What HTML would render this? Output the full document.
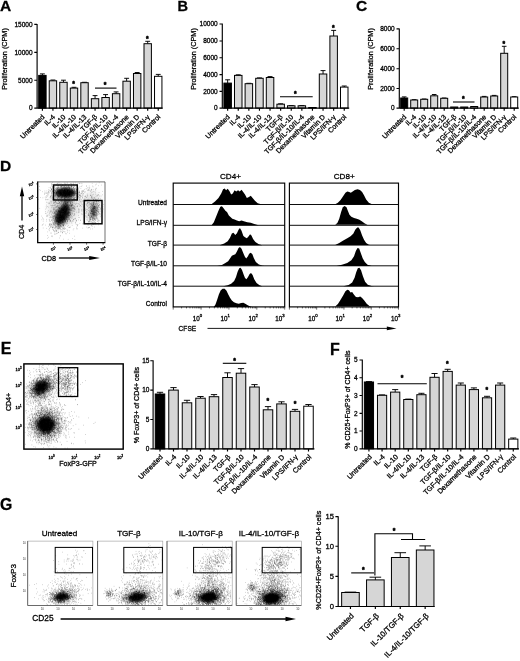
<!DOCTYPE html>
<html><head><meta charset="utf-8"><title>Figure</title><style>html,body{margin:0;padding:0;background:#fff}svg{display:block}</style></head><body>
<svg width="520" height="661" viewBox="0 0 520 661" font-family="Liberation Sans, Arial, sans-serif" fill="#000">
<style>text{stroke:#000;stroke-width:.28px}</style>
<rect width="520" height="661" fill="#fff"/>
<text x="0" y="10.9" font-size="15.5" font-weight="bold">A</text>
<text x="177.6" y="11" font-size="14.6" font-weight="bold">B</text>
<text x="356" y="11" font-size="15.5" font-weight="bold">C</text>
<text x="-0.1" y="170.6" font-size="15.5" font-weight="bold">D</text>
<text x="0.8" y="353.6" font-size="16" font-weight="bold">E</text>
<text x="330" y="354.8" font-size="16" font-weight="bold">F</text>
<text x="-0.1" y="510" font-size="15.8" font-weight="bold">G</text>
<path d="M42.4 75.4V73.9M39.96 73.9H44.84" stroke="#000" stroke-width="0.95" fill="none"/>
<rect x="38.7" y="75.4" width="7.4" height="32.7" fill="#000" stroke="#000" stroke-width="1"/>
<path d="M52.93 80.8V80M50.49 80H55.37" stroke="#000" stroke-width="0.95" fill="none"/>
<rect x="49.23" y="80.8" width="7.4" height="27.3" fill="#d6d6d6" stroke="#000" stroke-width="1"/>
<path d="M63.46 82.3V80.2M61.02 80.2H65.9" stroke="#000" stroke-width="0.95" fill="none"/>
<rect x="59.76" y="82.3" width="7.4" height="25.8" fill="#d6d6d6" stroke="#000" stroke-width="1"/>
<path d="M73.99 88.1V87.3M71.55 87.3H76.43" stroke="#000" stroke-width="0.95" fill="none"/>
<rect x="70.29" y="88.1" width="7.4" height="20" fill="#d6d6d6" stroke="#000" stroke-width="1"/>
<path d="M84.52 82.7V82.3M82.08 82.3H86.96" stroke="#000" stroke-width="0.95" fill="none"/>
<rect x="80.82" y="82.7" width="7.4" height="25.4" fill="#d6d6d6" stroke="#000" stroke-width="1"/>
<path d="M95.05 98.7V95.6M92.61 95.6H97.49" stroke="#000" stroke-width="0.95" fill="none"/>
<rect x="91.35" y="98.7" width="7.4" height="9.4" fill="#d6d6d6" stroke="#000" stroke-width="1"/>
<path d="M105.58 97.5V94.6M103.14 94.6H108.02" stroke="#000" stroke-width="0.95" fill="none"/>
<rect x="101.88" y="97.5" width="7.4" height="10.6" fill="#d6d6d6" stroke="#000" stroke-width="1"/>
<path d="M116.11 93.7V91.9M113.67 91.9H118.55" stroke="#000" stroke-width="0.95" fill="none"/>
<rect x="112.41" y="93.7" width="7.4" height="14.4" fill="#d6d6d6" stroke="#000" stroke-width="1"/>
<path d="M126.64 81.2V78.3M124.2 78.3H129.08" stroke="#000" stroke-width="0.95" fill="none"/>
<rect x="122.94" y="81.2" width="7.4" height="26.9" fill="#d6d6d6" stroke="#000" stroke-width="1"/>
<path d="M137.17 73.5V72.5M134.73 72.5H139.61" stroke="#000" stroke-width="0.95" fill="none"/>
<rect x="133.47" y="73.5" width="7.4" height="34.6" fill="#d6d6d6" stroke="#000" stroke-width="1"/>
<path d="M147.7 43.7V41.3M145.26 41.3H150.14" stroke="#000" stroke-width="0.95" fill="none"/>
<rect x="144" y="43.7" width="7.4" height="64.4" fill="#d6d6d6" stroke="#000" stroke-width="1"/>
<path d="M158.23 76.3V74.4M155.79 74.4H160.67" stroke="#000" stroke-width="0.95" fill="none"/>
<rect x="154.53" y="76.3" width="7.4" height="31.8" fill="#fff" stroke="#000" stroke-width="1"/>
<path d="M37.1 24V108.1H162.7M37.1 24.4h-2.8M37.1 52.3h-2.8M37.1 80.2h-2.8M37.1 108.1h-2.8M42.4 108.1v2.6M52.93 108.1v2.6M63.46 108.1v2.6M73.99 108.1v2.6M84.52 108.1v2.6M95.05 108.1v2.6M105.58 108.1v2.6M116.11 108.1v2.6M126.64 108.1v2.6M137.17 108.1v2.6M147.7 108.1v2.6M158.23 108.1v2.6" stroke="#000" stroke-width="1.15" fill="none"/>
<text x="32.5" y="26.74" font-size="6.5" text-anchor="end">15000</text>
<text x="32.5" y="54.64" font-size="6.5" text-anchor="end">10000</text>
<text x="32.5" y="82.54" font-size="6.5" text-anchor="end">5000</text>
<text x="32.5" y="110.44" font-size="6.5" text-anchor="end">0</text>
<text x="7" y="59" font-size="7.25" text-anchor="middle" transform="rotate(-90 7 59)">Proliferation (CPM)</text>
<text x="45" y="117.4" font-size="7.05" text-anchor="end" transform="rotate(-45 45 117.4)">Untreated</text>
<text x="55.53" y="117.4" font-size="7.05" text-anchor="end" transform="rotate(-45 55.53 117.4)">IL-4</text>
<text x="66.06" y="117.4" font-size="7.05" text-anchor="end" transform="rotate(-45 66.06 117.4)">IL-10</text>
<text x="76.59" y="117.4" font-size="7.05" text-anchor="end" transform="rotate(-45 76.59 117.4)">IL-4/IL-10</text>
<text x="87.12" y="117.4" font-size="7.05" text-anchor="end" transform="rotate(-45 87.12 117.4)">IL-4/IL-13</text>
<text x="97.65" y="117.4" font-size="7.05" text-anchor="end" transform="rotate(-45 97.65 117.4)">TGF-β</text>
<text x="108.18" y="117.4" font-size="7.05" text-anchor="end" transform="rotate(-45 108.18 117.4)">TGF-β/IL-10</text>
<text x="118.71" y="117.4" font-size="7.05" text-anchor="end" transform="rotate(-45 118.71 117.4)">TGF-β/IL-10/IL-4</text>
<text x="129.24" y="117.4" font-size="7.05" text-anchor="end" transform="rotate(-45 129.24 117.4)">Dexamethasone</text>
<text x="139.77" y="117.4" font-size="7.05" text-anchor="end" transform="rotate(-45 139.77 117.4)">Vitamin D</text>
<text x="150.3" y="117.4" font-size="7.05" text-anchor="end" transform="rotate(-45 150.3 117.4)">LPS/IFN-γ</text>
<text x="160.83" y="117.4" font-size="7.05" text-anchor="end" transform="rotate(-45 160.83 117.4)">Control</text>
<path d="M95 88.1L116.5 88.1" stroke="#000" stroke-width="1.1" fill="none"/>
<text x="105" y="87.33" font-size="6.8" text-anchor="middle" font-weight="bold" style="stroke-width:.5px">*</text>
<text x="147.3" y="40.63" font-size="6.8" text-anchor="middle" font-weight="bold" style="stroke-width:.5px">*</text>
<text x="73.7" y="85.83" font-size="6.8" text-anchor="middle" font-weight="bold" style="stroke-width:.5px">*</text>
<path d="M227.65 83.1V79.8M225.18 79.8H230.12" stroke="#000" stroke-width="0.95" fill="none"/>
<rect x="223.9" y="83.1" width="7.5" height="25" fill="#000" stroke="#000" stroke-width="1"/>
<path d="M238.25 75.4V74.8M235.78 74.8H240.72" stroke="#000" stroke-width="0.95" fill="none"/>
<rect x="234.5" y="75.4" width="7.5" height="32.7" fill="#d6d6d6" stroke="#000" stroke-width="1"/>
<path d="M248.85 83.7V83.3M246.38 83.3H251.32" stroke="#000" stroke-width="0.95" fill="none"/>
<rect x="245.1" y="83.7" width="7.5" height="24.4" fill="#d6d6d6" stroke="#000" stroke-width="1"/>
<path d="M259.45 78.3V77.9M256.97 77.9H261.93" stroke="#000" stroke-width="0.95" fill="none"/>
<rect x="255.7" y="78.3" width="7.5" height="29.8" fill="#d6d6d6" stroke="#000" stroke-width="1"/>
<path d="M270.05 77.5V76.6M267.57 76.6H272.53" stroke="#000" stroke-width="0.95" fill="none"/>
<rect x="266.3" y="77.5" width="7.5" height="30.6" fill="#d6d6d6" stroke="#000" stroke-width="1"/>
<path d="M280.65 104.2V103.8M278.17 103.8H283.12" stroke="#000" stroke-width="0.95" fill="none"/>
<rect x="276.9" y="104.2" width="7.5" height="3.9" fill="#d6d6d6" stroke="#000" stroke-width="1"/>
<path d="M291.25 105.8V105.5M288.77 105.5H293.73" stroke="#000" stroke-width="0.95" fill="none"/>
<rect x="287.5" y="105.8" width="7.5" height="2.3" fill="#d6d6d6" stroke="#000" stroke-width="1"/>
<path d="M301.85 105.8V105.5M299.38 105.5H304.33" stroke="#000" stroke-width="0.95" fill="none"/>
<rect x="298.1" y="105.8" width="7.5" height="2.3" fill="#d6d6d6" stroke="#000" stroke-width="1"/>
<rect x="308.7" y="107.5" width="7.5" height="0.6" fill="#d6d6d6" stroke="#000" stroke-width="1"/>
<path d="M323.05 74V70.6M320.57 70.6H325.53" stroke="#000" stroke-width="0.95" fill="none"/>
<rect x="319.3" y="74" width="7.5" height="34.1" fill="#d6d6d6" stroke="#000" stroke-width="1"/>
<path d="M333.65 36V30.4M331.17 30.4H336.12" stroke="#000" stroke-width="0.95" fill="none"/>
<rect x="329.9" y="36" width="7.5" height="72.1" fill="#d6d6d6" stroke="#000" stroke-width="1"/>
<path d="M344.25 87.1V86M341.77 86H346.73" stroke="#000" stroke-width="0.95" fill="none"/>
<rect x="340.5" y="87.1" width="7.5" height="21" fill="#fff" stroke="#000" stroke-width="1"/>
<path d="M222.3 23.6V108.1H349.2M222.3 24h-2.8M222.3 41h-2.8M222.3 57.7h-2.8M222.3 74.6h-2.8M222.3 91.3h-2.8M222.3 108.1h-2.8M227.65 108.1v2.6M238.25 108.1v2.6M248.85 108.1v2.6M259.45 108.1v2.6M270.05 108.1v2.6M280.65 108.1v2.6M291.25 108.1v2.6M301.85 108.1v2.6M312.45 108.1v2.6M323.05 108.1v2.6M333.65 108.1v2.6M344.25 108.1v2.6" stroke="#000" stroke-width="1.15" fill="none"/>
<text x="217.7" y="26.34" font-size="6.5" text-anchor="end">10000</text>
<text x="217.7" y="43.34" font-size="6.5" text-anchor="end">8000</text>
<text x="217.7" y="60.04" font-size="6.5" text-anchor="end">6000</text>
<text x="217.7" y="76.94" font-size="6.5" text-anchor="end">4000</text>
<text x="217.7" y="93.64" font-size="6.5" text-anchor="end">2000</text>
<text x="217.7" y="110.44" font-size="6.5" text-anchor="end">0</text>
<text x="196" y="59" font-size="7.25" text-anchor="middle" transform="rotate(-90 196 59)">Proliferation (CPM)</text>
<text x="230.25" y="117.4" font-size="7.05" text-anchor="end" transform="rotate(-45 230.25 117.4)">Untreated</text>
<text x="240.85" y="117.4" font-size="7.05" text-anchor="end" transform="rotate(-45 240.85 117.4)">IL-4</text>
<text x="251.45" y="117.4" font-size="7.05" text-anchor="end" transform="rotate(-45 251.45 117.4)">IL-10</text>
<text x="262.05" y="117.4" font-size="7.05" text-anchor="end" transform="rotate(-45 262.05 117.4)">IL-4/IL-10</text>
<text x="272.65" y="117.4" font-size="7.05" text-anchor="end" transform="rotate(-45 272.65 117.4)">IL-4/IL-13</text>
<text x="283.25" y="117.4" font-size="7.05" text-anchor="end" transform="rotate(-45 283.25 117.4)">TGF-β</text>
<text x="293.85" y="117.4" font-size="7.05" text-anchor="end" transform="rotate(-45 293.85 117.4)">TGF-β/IL-10</text>
<text x="304.45" y="117.4" font-size="7.05" text-anchor="end" transform="rotate(-45 304.45 117.4)">TGF-β/IL-10/IL-4</text>
<text x="315.05" y="117.4" font-size="7.05" text-anchor="end" transform="rotate(-45 315.05 117.4)">Dexamethasone</text>
<text x="325.65" y="117.4" font-size="7.05" text-anchor="end" transform="rotate(-45 325.65 117.4)">Vitamin D</text>
<text x="336.25" y="117.4" font-size="7.05" text-anchor="end" transform="rotate(-45 336.25 117.4)">LPS/IFN-γ</text>
<text x="346.85" y="117.4" font-size="7.05" text-anchor="end" transform="rotate(-45 346.85 117.4)">Control</text>
<path d="M280 96.7L312.7 96.7" stroke="#000" stroke-width="1.1" fill="none"/>
<text x="295.4" y="95.83" font-size="6.8" text-anchor="middle" font-weight="bold" style="stroke-width:.5px">*</text>
<text x="333.3" y="29.63" font-size="6.8" text-anchor="middle" font-weight="bold" style="stroke-width:.5px">*</text>
<path d="M404.2 98V96.9M401.89 96.9H406.51" stroke="#000" stroke-width="0.95" fill="none"/>
<rect x="400.7" y="98" width="7" height="10.1" fill="#000" stroke="#000" stroke-width="1"/>
<path d="M414.2 100V99.7M411.89 99.7H416.51" stroke="#000" stroke-width="0.95" fill="none"/>
<rect x="410.7" y="100" width="7" height="8.1" fill="#d6d6d6" stroke="#000" stroke-width="1"/>
<path d="M424.2 99.3V99M421.89 99H426.51" stroke="#000" stroke-width="0.95" fill="none"/>
<rect x="420.7" y="99.3" width="7" height="8.8" fill="#d6d6d6" stroke="#000" stroke-width="1"/>
<path d="M434.2 95.8V94.5M431.89 94.5H436.51" stroke="#000" stroke-width="0.95" fill="none"/>
<rect x="430.7" y="95.8" width="7" height="12.3" fill="#d6d6d6" stroke="#000" stroke-width="1"/>
<path d="M444.2 98.3V98M441.89 98H446.51" stroke="#000" stroke-width="0.95" fill="none"/>
<rect x="440.7" y="98.3" width="7" height="9.8" fill="#d6d6d6" stroke="#000" stroke-width="1"/>
<rect x="450.7" y="107" width="7" height="1.1" fill="#d6d6d6" stroke="#000" stroke-width="1"/>
<rect x="460.7" y="107" width="7" height="1.1" fill="#d6d6d6" stroke="#000" stroke-width="1"/>
<rect x="470.7" y="106.5" width="7" height="1.6" fill="#d6d6d6" stroke="#000" stroke-width="1"/>
<path d="M484.2 97V96.4M481.89 96.4H486.51" stroke="#000" stroke-width="0.95" fill="none"/>
<rect x="480.7" y="97" width="7" height="11.1" fill="#d6d6d6" stroke="#000" stroke-width="1"/>
<path d="M494.2 96V95.4M491.89 95.4H496.51" stroke="#000" stroke-width="0.95" fill="none"/>
<rect x="490.7" y="96" width="7" height="12.1" fill="#d6d6d6" stroke="#000" stroke-width="1"/>
<path d="M504.2 53.3V46.3M501.89 46.3H506.51" stroke="#000" stroke-width="0.95" fill="none"/>
<rect x="500.7" y="53.3" width="7" height="54.8" fill="#d6d6d6" stroke="#000" stroke-width="1"/>
<path d="M514.2 97V96.7M511.89 96.7H516.51" stroke="#000" stroke-width="0.95" fill="none"/>
<rect x="510.7" y="97" width="7" height="11.1" fill="#fff" stroke="#000" stroke-width="1"/>
<path d="M399.3 28.4V108.1H518.8M399.3 28.8h-2.8M399.3 48.7h-2.8M399.3 68.7h-2.8M399.3 88.5h-2.8M399.3 108.1h-2.8M404.2 108.1v2.6M414.2 108.1v2.6M424.2 108.1v2.6M434.2 108.1v2.6M444.2 108.1v2.6M454.2 108.1v2.6M464.2 108.1v2.6M474.2 108.1v2.6M484.2 108.1v2.6M494.2 108.1v2.6M504.2 108.1v2.6M514.2 108.1v2.6" stroke="#000" stroke-width="1.15" fill="none"/>
<text x="394.7" y="31.14" font-size="6.5" text-anchor="end">8000</text>
<text x="394.7" y="51.04" font-size="6.5" text-anchor="end">6000</text>
<text x="394.7" y="71.04" font-size="6.5" text-anchor="end">4000</text>
<text x="394.7" y="90.84" font-size="6.5" text-anchor="end">2000</text>
<text x="394.7" y="110.44" font-size="6.5" text-anchor="end">0</text>
<text x="372.9" y="59" font-size="7.25" text-anchor="middle" transform="rotate(-90 372.9 59)">Proliferation (CPM)</text>
<text x="406.8" y="117.4" font-size="7.05" text-anchor="end" transform="rotate(-45 406.8 117.4)">Untreated</text>
<text x="416.8" y="117.4" font-size="7.05" text-anchor="end" transform="rotate(-45 416.8 117.4)">IL-4</text>
<text x="426.8" y="117.4" font-size="7.05" text-anchor="end" transform="rotate(-45 426.8 117.4)">IL-10</text>
<text x="436.8" y="117.4" font-size="7.05" text-anchor="end" transform="rotate(-45 436.8 117.4)">IL-4/IL-10</text>
<text x="446.8" y="117.4" font-size="7.05" text-anchor="end" transform="rotate(-45 446.8 117.4)">IL-4/IL-13</text>
<text x="456.8" y="117.4" font-size="7.05" text-anchor="end" transform="rotate(-45 456.8 117.4)">TGF-β</text>
<text x="466.8" y="117.4" font-size="7.05" text-anchor="end" transform="rotate(-45 466.8 117.4)">TGF-β/IL-10</text>
<text x="476.8" y="117.4" font-size="7.05" text-anchor="end" transform="rotate(-45 476.8 117.4)">TGF-β/IL-10/IL-4</text>
<text x="486.8" y="117.4" font-size="7.05" text-anchor="end" transform="rotate(-45 486.8 117.4)">Dexamethasone</text>
<text x="496.8" y="117.4" font-size="7.05" text-anchor="end" transform="rotate(-45 496.8 117.4)">Vitamin D</text>
<text x="506.8" y="117.4" font-size="7.05" text-anchor="end" transform="rotate(-45 506.8 117.4)">LPS/IFN-γ</text>
<text x="516.8" y="117.4" font-size="7.05" text-anchor="end" transform="rotate(-45 516.8 117.4)">Control</text>
<path d="M453 102L474.5 102" stroke="#000" stroke-width="1.1" fill="none"/>
<text x="463.3" y="100.63" font-size="6.8" text-anchor="middle" font-weight="bold" style="stroke-width:.5px">*</text>
<text x="503.8" y="45.63" font-size="6.8" text-anchor="middle" font-weight="bold" style="stroke-width:.5px">*</text>
<path d="M160 394V392.3M156.87 392.3H163.13" stroke="#000" stroke-width="0.95" fill="none"/>
<rect x="155.25" y="394" width="9.5" height="54.9" fill="#000" stroke="#000" stroke-width="1"/>
<path d="M173.5 390.1V387.6M170.37 387.6H176.63" stroke="#000" stroke-width="0.95" fill="none"/>
<rect x="168.75" y="390.1" width="9.5" height="58.8" fill="#d6d6d6" stroke="#000" stroke-width="1"/>
<path d="M187 402.8V400.3M183.87 400.3H190.13" stroke="#000" stroke-width="0.95" fill="none"/>
<rect x="182.25" y="402.8" width="9.5" height="46.1" fill="#d6d6d6" stroke="#000" stroke-width="1"/>
<path d="M200.5 398.2V396.5M197.37 396.5H203.63" stroke="#000" stroke-width="0.95" fill="none"/>
<rect x="195.75" y="398.2" width="9.5" height="50.7" fill="#d6d6d6" stroke="#000" stroke-width="1"/>
<path d="M214 396.7V394.6M210.87 394.6H217.13" stroke="#000" stroke-width="0.95" fill="none"/>
<rect x="209.25" y="396.7" width="9.5" height="52.2" fill="#d6d6d6" stroke="#000" stroke-width="1"/>
<path d="M227.5 377.5V372.8M224.37 372.8H230.63" stroke="#000" stroke-width="0.95" fill="none"/>
<rect x="222.75" y="377.5" width="9.5" height="71.4" fill="#d6d6d6" stroke="#000" stroke-width="1"/>
<path d="M241 373.2V368.6M237.87 368.6H244.13" stroke="#000" stroke-width="0.95" fill="none"/>
<rect x="236.25" y="373.2" width="9.5" height="75.7" fill="#d6d6d6" stroke="#000" stroke-width="1"/>
<path d="M254.5 387V384.6M251.37 384.6H257.63" stroke="#000" stroke-width="0.95" fill="none"/>
<rect x="249.75" y="387" width="9.5" height="61.9" fill="#d6d6d6" stroke="#000" stroke-width="1"/>
<path d="M268 409.8V406.6M264.87 406.6H271.13" stroke="#000" stroke-width="0.95" fill="none"/>
<rect x="263.25" y="409.8" width="9.5" height="39.1" fill="#d6d6d6" stroke="#000" stroke-width="1"/>
<path d="M281.5 403.9V401.8M278.37 401.8H284.63" stroke="#000" stroke-width="0.95" fill="none"/>
<rect x="276.75" y="403.9" width="9.5" height="45" fill="#d6d6d6" stroke="#000" stroke-width="1"/>
<path d="M295 411.3V409.4M291.87 409.4H298.13" stroke="#000" stroke-width="0.95" fill="none"/>
<rect x="290.25" y="411.3" width="9.5" height="37.6" fill="#d6d6d6" stroke="#000" stroke-width="1"/>
<path d="M308.5 406.2V404.5M305.37 404.5H311.63" stroke="#000" stroke-width="0.95" fill="none"/>
<rect x="303.75" y="406.2" width="9.5" height="42.7" fill="#fff" stroke="#000" stroke-width="1"/>
<path d="M153.1 360.3V448.9H314.4M153.1 360.7h-2.8M153.1 390.1h-2.8M153.1 419.5h-2.8M153.1 448.9h-2.8M160 448.9v2.6M173.5 448.9v2.6M187 448.9v2.6M200.5 448.9v2.6M214 448.9v2.6M227.5 448.9v2.6M241 448.9v2.6M254.5 448.9v2.6M268 448.9v2.6M281.5 448.9v2.6M295 448.9v2.6M308.5 448.9v2.6" stroke="#000" stroke-width="1.15" fill="none"/>
<text x="149.4" y="363.04" font-size="6.5" text-anchor="end">15</text>
<text x="149.4" y="392.44" font-size="6.5" text-anchor="end">10</text>
<text x="149.4" y="421.84" font-size="6.5" text-anchor="end">5</text>
<text x="149.4" y="451.24" font-size="6.5" text-anchor="end">0</text>
<text x="138.5" y="405" font-size="7" text-anchor="middle" transform="rotate(-90 138.5 405)">% FoxP3+ of CD4+ cells</text>
<text x="163.4" y="457.5" font-size="7.15" text-anchor="end" transform="rotate(-45 163.4 457.5)">Untreated</text>
<text x="176.9" y="457.5" font-size="7.15" text-anchor="end" transform="rotate(-45 176.9 457.5)">IL-4</text>
<text x="190.4" y="457.5" font-size="7.15" text-anchor="end" transform="rotate(-45 190.4 457.5)">IL-10</text>
<text x="203.9" y="457.5" font-size="7.15" text-anchor="end" transform="rotate(-45 203.9 457.5)">IL-4/IL-10</text>
<text x="217.4" y="457.5" font-size="7.15" text-anchor="end" transform="rotate(-45 217.4 457.5)">IL-4/IL-13</text>
<text x="230.9" y="457.5" font-size="7.15" text-anchor="end" transform="rotate(-45 230.9 457.5)">TGF-β</text>
<text x="244.4" y="457.5" font-size="7.15" text-anchor="end" transform="rotate(-45 244.4 457.5)">TGF-β/IL-10</text>
<text x="257.9" y="457.5" font-size="7.15" text-anchor="end" transform="rotate(-45 257.9 457.5)">TGF-β/IL-10/IL-4</text>
<text x="271.4" y="457.5" font-size="7.15" text-anchor="end" transform="rotate(-45 271.4 457.5)">Dexamethasone</text>
<text x="284.9" y="457.5" font-size="7.15" text-anchor="end" transform="rotate(-45 284.9 457.5)">Vitamin D</text>
<text x="298.4" y="457.5" font-size="7.15" text-anchor="end" transform="rotate(-45 298.4 457.5)">LPS/IFN-γ</text>
<text x="311.9" y="457.5" font-size="7.15" text-anchor="end" transform="rotate(-45 311.9 457.5)">Control</text>
<path d="M222.8 363.3L246.3 363.3" stroke="#000" stroke-width="1.1" fill="none"/>
<text x="234.5" y="362.83" font-size="6.8" text-anchor="middle" font-weight="bold" style="stroke-width:.5px">*</text>
<text x="267.9" y="402.83" font-size="6.8" text-anchor="middle" font-weight="bold" style="stroke-width:.5px">*</text>
<text x="295" y="405.53" font-size="6.8" text-anchor="middle" font-weight="bold" style="stroke-width:.5px">*</text>
<path d="M368.95 382V381.6M365.91 381.6H371.99" stroke="#000" stroke-width="0.95" fill="none"/>
<rect x="364.35" y="382" width="9.2" height="66.8" fill="#000" stroke="#000" stroke-width="1"/>
<path d="M382.07 395.3V394.9M379.03 394.9H385.11" stroke="#000" stroke-width="0.95" fill="none"/>
<rect x="377.47" y="395.3" width="9.2" height="53.5" fill="#d6d6d6" stroke="#000" stroke-width="1"/>
<path d="M395.19 392.1V389.6M392.15 389.6H398.23" stroke="#000" stroke-width="0.95" fill="none"/>
<rect x="390.59" y="392.1" width="9.2" height="56.7" fill="#d6d6d6" stroke="#000" stroke-width="1"/>
<path d="M408.31 399.5V399.1M405.27 399.1H411.35" stroke="#000" stroke-width="0.95" fill="none"/>
<rect x="403.71" y="399.5" width="9.2" height="49.3" fill="#d6d6d6" stroke="#000" stroke-width="1"/>
<path d="M421.43 394.7V393.3M418.39 393.3H424.47" stroke="#000" stroke-width="0.95" fill="none"/>
<rect x="416.83" y="394.7" width="9.2" height="54.1" fill="#d6d6d6" stroke="#000" stroke-width="1"/>
<path d="M434.55 377.3V373.5M431.51 373.5H437.59" stroke="#000" stroke-width="0.95" fill="none"/>
<rect x="429.95" y="377.3" width="9.2" height="71.5" fill="#d6d6d6" stroke="#000" stroke-width="1"/>
<path d="M447.67 371.4V369.3M444.63 369.3H450.71" stroke="#000" stroke-width="0.95" fill="none"/>
<rect x="443.07" y="371.4" width="9.2" height="77.4" fill="#d6d6d6" stroke="#000" stroke-width="1"/>
<path d="M460.79 385.1V383M457.75 383H463.83" stroke="#000" stroke-width="0.95" fill="none"/>
<rect x="456.19" y="385.1" width="9.2" height="63.7" fill="#d6d6d6" stroke="#000" stroke-width="1"/>
<path d="M473.91 389.6V387.9M470.87 387.9H476.95" stroke="#000" stroke-width="0.95" fill="none"/>
<rect x="469.31" y="389.6" width="9.2" height="59.2" fill="#d6d6d6" stroke="#000" stroke-width="1"/>
<path d="M487.03 397.8V396.3M483.99 396.3H490.07" stroke="#000" stroke-width="0.95" fill="none"/>
<rect x="482.43" y="397.8" width="9.2" height="51" fill="#d6d6d6" stroke="#000" stroke-width="1"/>
<path d="M500.15 385.1V383M497.11 383H503.19" stroke="#000" stroke-width="0.95" fill="none"/>
<rect x="495.55" y="385.1" width="9.2" height="63.7" fill="#d6d6d6" stroke="#000" stroke-width="1"/>
<path d="M513.27 439.1V438M510.23 438H516.31" stroke="#000" stroke-width="0.95" fill="none"/>
<rect x="508.67" y="439.1" width="9.2" height="9.7" fill="#fff" stroke="#000" stroke-width="1"/>
<path d="M362.3 359.6V448.8H519M362.3 360h-2.8M362.3 377.7h-2.8M362.3 395.5h-2.8M362.3 413.3h-2.8M362.3 431h-2.8M362.3 448.8h-2.8M368.95 448.8v2.6M382.07 448.8v2.6M395.19 448.8v2.6M408.31 448.8v2.6M421.43 448.8v2.6M434.55 448.8v2.6M447.67 448.8v2.6M460.79 448.8v2.6M473.91 448.8v2.6M487.03 448.8v2.6M500.15 448.8v2.6M513.27 448.8v2.6" stroke="#000" stroke-width="1.15" fill="none"/>
<text x="357.7" y="362.34" font-size="6.5" text-anchor="end">5</text>
<text x="357.7" y="380.04" font-size="6.5" text-anchor="end">4</text>
<text x="357.7" y="397.84" font-size="6.5" text-anchor="end">3</text>
<text x="357.7" y="415.64" font-size="6.5" text-anchor="end">2</text>
<text x="357.7" y="433.34" font-size="6.5" text-anchor="end">1</text>
<text x="357.7" y="451.14" font-size="6.5" text-anchor="end">0</text>
<text x="350" y="399.6" font-size="7" text-anchor="middle" transform="rotate(-90 350 399.6)">% CD25+FoxP3+ of CD4+ cells</text>
<text x="372.25" y="457.3" font-size="7.2" text-anchor="end" transform="rotate(-45 372.25 457.3)">Untreated</text>
<text x="385.37" y="457.3" font-size="7.2" text-anchor="end" transform="rotate(-45 385.37 457.3)">IL-4</text>
<text x="398.49" y="457.3" font-size="7.2" text-anchor="end" transform="rotate(-45 398.49 457.3)">IL-10</text>
<text x="411.61" y="457.3" font-size="7.2" text-anchor="end" transform="rotate(-45 411.61 457.3)">IL-4/IL-10</text>
<text x="424.73" y="457.3" font-size="7.2" text-anchor="end" transform="rotate(-45 424.73 457.3)">IL-4/IL-13</text>
<text x="437.85" y="457.3" font-size="7.2" text-anchor="end" transform="rotate(-45 437.85 457.3)">TGF-β</text>
<text x="450.97" y="457.3" font-size="7.2" text-anchor="end" transform="rotate(-45 450.97 457.3)">TGF-β/IL-10</text>
<text x="464.09" y="457.3" font-size="7.2" text-anchor="end" transform="rotate(-45 464.09 457.3)">TGF-β/IL-10/IL-4</text>
<text x="477.21" y="457.3" font-size="7.2" text-anchor="end" transform="rotate(-45 477.21 457.3)">Dexamethasone</text>
<text x="490.33" y="457.3" font-size="7.2" text-anchor="end" transform="rotate(-45 490.33 457.3)">Vitamin D</text>
<text x="503.45" y="457.3" font-size="7.2" text-anchor="end" transform="rotate(-45 503.45 457.3)">LPS/IFN-γ</text>
<text x="516.57" y="457.3" font-size="7.2" text-anchor="end" transform="rotate(-45 516.57 457.3)">Control</text>
<path d="M377.5 383.7L426.8 383.7" stroke="#000" stroke-width="1.1" fill="none"/>
<text x="402" y="380.43" font-size="6.8" text-anchor="middle" font-weight="bold" style="stroke-width:.5px">*</text>
<text x="447.4" y="366.23" font-size="6.8" text-anchor="middle" font-weight="bold" style="stroke-width:.5px">*</text>
<text x="486.8" y="392.13" font-size="6.8" text-anchor="middle" font-weight="bold" style="stroke-width:.5px">*</text>
<path d="M350.45 592.5V592.1M344.64 592.1H356.26" stroke="#000" stroke-width="0.95" fill="none"/>
<rect x="341.65" y="592.5" width="17.6" height="14" fill="#d6d6d6" stroke="#000" stroke-width="1"/>
<path d="M375.35 579.9V577.2M369.54 577.2H381.16" stroke="#000" stroke-width="0.95" fill="none"/>
<rect x="366.55" y="579.9" width="17.6" height="26.6" fill="#d6d6d6" stroke="#000" stroke-width="1"/>
<path d="M400.25 557.5V552.7M394.44 552.7H406.06" stroke="#000" stroke-width="0.95" fill="none"/>
<rect x="391.45" y="557.5" width="17.6" height="49" fill="#d6d6d6" stroke="#000" stroke-width="1"/>
<path d="M425.15 550V545.9M419.34 545.9H430.96" stroke="#000" stroke-width="0.95" fill="none"/>
<rect x="416.35" y="550" width="17.6" height="56.5" fill="#d6d6d6" stroke="#000" stroke-width="1"/>
<path d="M338.2 516.2V606.5H434.6M338.2 516.6h-2.8M338.2 546.2h-2.8M338.2 576.4h-2.8M338.2 606.5h-2.8M350.45 606.5v2.6M375.35 606.5v2.6M400.25 606.5v2.6M425.15 606.5v2.6" stroke="#000" stroke-width="1.15" fill="none"/>
<text x="334" y="519.34" font-size="7.6" text-anchor="end">15</text>
<text x="334" y="548.94" font-size="7.6" text-anchor="end">10</text>
<text x="334" y="579.14" font-size="7.6" text-anchor="end">5</text>
<text x="334" y="609.24" font-size="7.6" text-anchor="end">0</text>
<text x="321.3" y="560.2" font-size="7.2" text-anchor="middle" transform="rotate(-90 321.3 560.2)">%CD25+FoxP3+ of CD4+ cells</text>
<text x="354.45" y="616.5" font-size="7.9" text-anchor="end" transform="rotate(-45 354.45 616.5)">Untreated</text>
<text x="379.35" y="616.5" font-size="7.9" text-anchor="end" transform="rotate(-45 379.35 616.5)">TGF-β</text>
<text x="404.25" y="616.5" font-size="7.9" text-anchor="end" transform="rotate(-45 404.25 616.5)">IL-10/TGF-β</text>
<text x="429.15" y="616.5" font-size="7.9" text-anchor="end" transform="rotate(-45 429.15 616.5)">IL-4/IL-10/TGF-β</text>
<path d="M351.2 572.9L374 572.9" stroke="#000" stroke-width="1.1" fill="none"/>
<text x="363.3" y="571.93" font-size="6.8" text-anchor="middle" font-weight="bold" style="stroke-width:.5px">*</text>
<path d="M374.9 575.5V533.8H412.5V539.5M401 539.5H425.2" stroke="#000" stroke-width="1.1" fill="none"/>
<text x="394.2" y="533.13" font-size="6.8" text-anchor="middle" font-weight="bold" style="stroke-width:.5px">*</text>
<path d="M173.2 204.5H284.7M173.2 225.3H284.7M173.2 245.1H284.7M173.2 265.8H284.7M173.2 286.2H284.7" stroke="#000" stroke-width="0.95" fill="none"/>
<rect x="173.2" y="183.1" width="111.5" height="123.8" fill="none" stroke="#000" stroke-width="1.15"/>
<text x="230.4" y="179.2" font-size="8.1" text-anchor="middle">CD4+</text>
<path d="M173.2 306.9v2.7M181.59 306.9v1.5M186.5 306.9v1.5M189.98 306.9v1.5M192.68 306.9v1.5M194.89 306.9v1.5M196.76 306.9v1.5M198.37 306.9v1.5M199.8 306.9v1.5M201.07 306.9v2.7M209.47 306.9v1.5M214.37 306.9v1.5M217.86 306.9v1.5M220.56 306.9v1.5M222.77 306.9v1.5M224.63 306.9v1.5M226.25 306.9v1.5M227.67 306.9v1.5M228.95 306.9v2.7M237.34 306.9v1.5M242.25 306.9v1.5M245.73 306.9v1.5M248.43 306.9v1.5M250.64 306.9v1.5M252.51 306.9v1.5M254.12 306.9v1.5M255.55 306.9v1.5M256.82 306.9v2.7M265.22 306.9v1.5M270.12 306.9v1.5M273.61 306.9v1.5M276.31 306.9v1.5M278.52 306.9v1.5M280.38 306.9v1.5M282 306.9v1.5M283.42 306.9v1.5M284.7 306.9v2.7" stroke="#000" stroke-width="0.6" fill="none"/>
<text x="202.07" y="321" font-size="6.3" text-anchor="end">10<tspan dy="-3.6" font-size="4.3">0</tspan></text>
<text x="229.95" y="321" font-size="6.3" text-anchor="end">10<tspan dy="-3.6" font-size="4.3">1</tspan></text>
<text x="257.82" y="321" font-size="6.3" text-anchor="end">10<tspan dy="-3.6" font-size="4.3">2</tspan></text>
<text x="284.7" y="321" font-size="6.3" text-anchor="end">10<tspan dy="-3.6" font-size="4.3">3</tspan></text>
<path d="M289.4 204.5H398.5M289.4 225.3H398.5M289.4 245.1H398.5M289.4 265.8H398.5M289.4 286.2H398.5" stroke="#000" stroke-width="0.95" fill="none"/>
<rect x="289.4" y="183.1" width="109.1" height="123.8" fill="none" stroke="#000" stroke-width="1.15"/>
<text x="344.2" y="179.2" font-size="8.1" text-anchor="middle">CD8+</text>
<path d="M289.4 306.9v2.7M297.61 306.9v1.5M302.41 306.9v1.5M305.82 306.9v1.5M308.46 306.9v1.5M310.62 306.9v1.5M312.45 306.9v1.5M314.03 306.9v1.5M315.43 306.9v1.5M316.67 306.9v2.7M324.89 306.9v1.5M329.69 306.9v1.5M333.1 306.9v1.5M335.74 306.9v1.5M337.9 306.9v1.5M339.73 306.9v1.5M341.31 306.9v1.5M342.7 306.9v1.5M343.95 306.9v2.7M352.16 306.9v1.5M356.96 306.9v1.5M360.37 306.9v1.5M363.01 306.9v1.5M365.17 306.9v1.5M367 306.9v1.5M368.58 306.9v1.5M369.98 306.9v1.5M371.23 306.9v2.7M379.44 306.9v1.5M384.24 306.9v1.5M387.65 306.9v1.5M390.29 306.9v1.5M392.45 306.9v1.5M394.28 306.9v1.5M395.86 306.9v1.5M397.25 306.9v1.5M398.5 306.9v2.7" stroke="#000" stroke-width="0.6" fill="none"/>
<text x="317.67" y="321" font-size="6.3" text-anchor="end">10<tspan dy="-3.6" font-size="4.3">0</tspan></text>
<text x="344.95" y="321" font-size="6.3" text-anchor="end">10<tspan dy="-3.6" font-size="4.3">1</tspan></text>
<text x="372.23" y="321" font-size="6.3" text-anchor="end">10<tspan dy="-3.6" font-size="4.3">2</tspan></text>
<text x="400.4" y="321" font-size="6.3" text-anchor="end">10<tspan dy="-3.6" font-size="4.3">3</tspan></text>
<path d="M211.08 204.54L215 201.54L218.47 198.08L221.23 193.46L223.08 189.31L224.7 188.39L226.08 190.23L227.7 188.85L229.54 191.16L231.16 194.62L232.77 193.46L234.62 190.23L236.24 191.62L238.08 190.23L239.7 191.62L241.54 189.77L243.39 192.31L245.01 194.62L246.85 198.08L248.93 196.92L250.78 195.77L252.62 198.08L254.93 200.85L257.7 203.16L261.16 204.31L263.47 204.54Z" fill="#000"/>
<path d="M211.54 225.31L213.85 222.31L216.16 216.54L218.47 210.77L220.31 206.85L221.93 206.16L223.77 208.46L225.39 210.77L227 211.93L228.85 215.39L230.47 217L232.31 218.85L234.62 219.54L236.93 220.47L239.24 221.16L241.54 220.47L243.85 221.16L247.31 222.31L250.78 222.77L254.24 223.93L257.7 225.08L258.85 225.31Z" fill="#000"/>
<path d="M219.62 245.16L224.23 243.54L227.7 241.24L230 237.77L231.85 233.62L233.47 232.7L235.31 235L236.93 233.16L238.54 229.7L239.93 228.08L241.54 230.85L243.39 235.93L245.01 237.31L246.85 238.24L248.47 236.62L250.08 234.31L251.47 235.47L253.08 238.93L255.39 241.93L258.85 244.24L262.31 245.16Z" fill="#000"/>
<path d="M217.31 265.85L221.93 264.92L225.39 263.08L228.16 261.23L230 258.46L231.85 255.69L233.47 255L235.31 254.31L236.93 251.54L238.54 248.08L239.93 246.92L241.54 248.77L243.16 252.69L244.77 256.62L246.16 258.46L247.78 256.62L249.16 253.85L250.78 252.69L252.39 254.31L253.78 258L255.85 261.92L258.85 264.46L262.31 265.62L264.62 265.85Z" fill="#000"/>
<path d="M223.08 286.16L227.7 285.23L231.16 283.85L234.16 281.08L236.01 276.93L237.62 271.85L239.24 268.16L240.62 267.69L242.01 270L243.62 274.62L245.01 278.08L246.39 279.23L248.01 276.93L249.62 273.93L251.01 273L252.62 275.08L254.24 279.23L256.55 282.93L259.55 285.23L262.31 286.16Z" fill="#000"/>
<path d="M213.85 306.93L215.47 304.62L217.08 300L218.93 294.23L220.77 290.31L222.62 288.7L224.7 288.7L226.54 290.77L228.16 294.23L230 297.7L231.85 300.47L233.93 302.31L236.47 303.24L238.77 303.7L241.08 303L243.39 302.77L245.24 303.7L247.31 305.08L249.62 306.24L251.93 306.93Z" fill="#000"/>
<path d="M335.2 204.31L337.89 202.7L340.58 200L343.27 195.96L345.43 192.73L347.31 191.39L349.2 191.93L350.81 192.73L352.7 191.39L354.85 190.04L357.54 189.23L359.97 190.04L362.12 191.93L364.01 195.16L366.16 199.46L368.85 202.7L372.08 204.31Z" fill="#000"/>
<path d="M335.2 224.77L337.35 222.89L339.24 218.85L341.12 212.12L342.74 207.27L344.62 205.93L346.51 207.27L347.85 210.77L349.47 214.81L351.35 216.7L354.04 218.04L356.74 218.85L359.43 219.66L362.12 221.54L364.81 223.43L367.51 224.77Z" fill="#000"/>
<path d="M335.2 244.97L339.24 243.08L343.27 240.39L347.31 238.24L350.54 236.35L353.24 233.66L355.39 229.62L357.28 227.47L358.62 227.47L360.24 230.16L362.12 235.54L364.01 239.85L366.16 243.08L368.85 244.7L370.2 244.97Z" fill="#000"/>
<path d="M336.54 266.12L341.93 264.77L347.31 262.89L351.35 260.19L354.04 256.16L355.93 250.77L357.54 248.08L359.16 248.62L360.78 252.92L362.66 258.31L364.81 262.08L367.51 264.77L371.55 266.12Z" fill="#000"/>
<path d="M343.27 286.31L348.66 284.96L352.16 282.54L354.58 277.7L356.2 272.31L357.81 268.27L359.43 267.73L361.04 270.16L362.93 276.35L365.08 281.73L367.78 284.7L371.55 286.04L374.24 286.31Z" fill="#000"/>
<path d="M335.2 306.51L337.89 304.08L340.58 299.77L343.27 295.2L345.43 291.16L347.31 289.81L348.93 290.35L350.54 292.5L352.16 291.97L354.04 294.66L355.93 297.08L358.08 297.35L360.24 296.54L362.12 297.89L364.28 300.58L366.7 303.81L369.39 305.97L371.55 306.51Z" fill="#000"/>
<text x="167" y="204.7" font-size="6.6" text-anchor="end">Untreated</text>
<text x="167" y="224.8" font-size="6.6" text-anchor="end">LPS/IFN-γ</text>
<text x="167" y="245.8" font-size="6.6" text-anchor="end">TGF-β</text>
<text x="167" y="266.1" font-size="6.6" text-anchor="end">TGF-β/IL-10</text>
<text x="167" y="285.7" font-size="6.6" text-anchor="end">TGF-β/IL-10/IL-4</text>
<text x="167" y="306.4" font-size="6.6" text-anchor="end">Control</text>
<text x="178.6" y="331" font-size="6.6">CFSE</text>
<path d="M207.5 328.4H389" stroke="#000" stroke-width="0.9"/><path d="M396.5 328.4L386.8 326.6V330.2Z"/>
<defs><filter id="b1" x="-30%" y="-30%" width="160%" height="160%"><feGaussianBlur stdDeviation="1.6"/></filter><filter id="b2" x="-30%" y="-30%" width="160%" height="160%"><feGaussianBlur stdDeviation="0.8"/></filter><filter id="b3" x="-40%" y="-40%" width="180%" height="180%"><feGaussianBlur stdDeviation="3.5"/></filter></defs>
<ellipse cx="64" cy="207" rx="14" ry="17" transform="rotate(10 64 207)" fill="#000" opacity="0.16" filter="url(#b3)"/>
<ellipse cx="92" cy="207" rx="9" ry="15" transform="rotate(0 92 207)" fill="#000" opacity="0.12" filter="url(#b3)"/>
<ellipse cx="65.2" cy="192.6" rx="10" ry="5.2" transform="rotate(0 65.2 192.6)" fill="#000" opacity="0.9" filter="url(#b1)"/>
<ellipse cx="62.4" cy="214.5" rx="6" ry="11" transform="rotate(27 62.4 214.5)" fill="#000" opacity="0.85" filter="url(#b1)"/>
<ellipse cx="66" cy="203" rx="3" ry="4" transform="rotate(0 66 203)" fill="#000" opacity="0.4" filter="url(#b1)"/>
<ellipse cx="93.8" cy="211.5" rx="2.6" ry="7" transform="rotate(6 93.8 211.5)" fill="#000" opacity="0.45" filter="url(#b1)"/>
<path d="M63.3 194.6h.45M63.5 191.7h.45M58.2 192h.45M73.5 194.3h.45M73 193.7h.45M68.2 193.5h.45M52.7 195.9h.45M69 194.6h.45M52.5 186.5h.45M58.5 191.1h.45M67.5 192.6h.45M69.1 190.5h.45M67.5 194.2h.45M60.2 199h.45M69.4 197.1h.45M60.5 190.1h.45M62.6 192.4h.45M69.9 193.7h.45M61.8 189.4h.45M61.3 197.2h.45M59.1 193.7h.45M68.4 187.4h.45M65.6 197.5h.45M50.1 191.6h.45M64.4 189.9h.45M68.9 192.6h.45M54.2 195.8h.45M70.2 196.2h.45M76 194.1h.45M66.1 188.1h.45M69.8 190.6h.45M61.8 188.2h.45M57.9 190.9h.45M74.9 185.5h.45M54.3 193.7h.45M76 194.9h.45M51 183.7h.45M67.9 190.1h.45M56.8 196.3h.45M73.5 193.4h.45M67 194.4h.45M77.2 195h.45M69.1 194.8h.45M53.4 197.4h.45M72.4 194.7h.45M50.4 190.5h.45M71.5 186.3h.45M63.8 196.5h.45M55.4 198.6h.45M69.3 192.3h.45M67.6 195.1h.45M66.1 196.9h.45M60.2 191.3h.45M73 192.9h.45M58.6 196.2h.45M76.2 191.2h.45M54.9 192.3h.45M64.1 191.7h.45M75.7 189.1h.45M74.7 188.2h.45M59.3 195.1h.45M73.7 195.9h.45M67.8 193.3h.45M66.3 194.9h.45M63.9 193.8h.45M69.5 192.8h.45M70.9 194.8h.45M80.3 194h.45M62 191.5h.45M65.1 196.1h.45M62.7 194.2h.45M79 183.6h.45M56.8 193.7h.45M68.2 193.7h.45M62 195.2h.45M67.3 190.9h.45M83.4 194.1h.45M61 192.4h.45M63.5 192.6h.45M44.7 191h.45M72.8 188.6h.45M64.7 196.2h.45M71.6 198.2h.45M52.4 191.5h.45M62.6 195h.45M73.4 183.1h.45M73.4 187.6h.45M70.3 187.4h.45M66.5 197.1h.45M64.1 193.5h.45M71.2 193.3h.45M64.5 198.3h.45M73.1 191.7h.45M85.8 188.7h.45M72.1 191.8h.45M66.2 195.3h.45M66.9 195.1h.45M53.7 187.4h.45M69.8 189.3h.45M57.5 187.5h.45M74.7 195.5h.45M76.2 189.4h.45M65.2 188.7h.45M70.9 198.5h.45M58.5 198.4h.45M72.6 192.2h.45M50.4 197.9h.45M64.5 190.6h.45M68.2 194.3h.45M76.4 189.1h.45M73.7 198.2h.45M76.1 192.1h.45M59.6 196.5h.45M66.1 193.2h.45M75.9 191.9h.45M48 191.4h.45M51.3 195.7h.45M67.6 190.6h.45M65.1 195.8h.45M65.8 197.6h.45M64.7 196.5h.45M76.4 198.6h.45M60.2 196h.45M51.1 188.9h.45M50.5 196.6h.45M56 192.8h.45M63.8 192.7h.45M60.8 193.6h.45M78.6 193h.45M69.2 196.4h.45M63.7 188.3h.45M61 196.7h.45M52.9 190.6h.45M72.8 195.7h.45M65.3 195.7h.45M66.4 188.6h.45M53.5 190.5h.45M72.1 190.8h.45M58.4 190h.45M53.7 192.4h.45M56.4 194.1h.45M47.5 194h.45M60.4 185.8h.45M70.6 191.8h.45M48.5 189.6h.45M67.4 191.1h.45M71 195.5h.45M70.2 194h.45M75.2 195.2h.45M68.6 185.3h.45M71.9 197.5h.45M63 191.1h.45M79.8 186.5h.45M68.7 201.5h.45M58.2 195.3h.45M79.3 192.4h.45M69.4 196h.45M58.4 192.5h.45M67.4 195.8h.45M64.9 192.1h.45M57.6 191.5h.45M71.9 193.2h.45M58.8 189.8h.45M85.2 196.9h.45M70 183.5h.45M69.9 194.5h.45M77.8 194.3h.45M64.7 194.7h.45M50.6 196.5h.45M67.6 190.3h.45M75.1 199.3h.45M54.7 190.4h.45M67.4 193.5h.45M62.2 189.3h.45M81.1 196.5h.45M56.2 188h.45M78 196.4h.45M78.9 195.7h.45M58.7 193.7h.45M49 190.1h.45M64.8 194.7h.45M59.7 192.4h.45M68.6 194.2h.45M70 193.6h.45M62.8 195.6h.45M65.6 189.8h.45M60.5 192.8h.45M64.4 193.4h.45M65.2 193.4h.45M64.2 188.3h.45M68.4 196.6h.45M68.5 192.1h.45M68.5 189.3h.45M51 193h.45M58.2 195.5h.45M57.1 183.3h.45M57.4 198.5h.45M62.3 187.9h.45M59.5 194.7h.45M68.9 193.4h.45M76.3 195.3h.45M65 194.9h.45M77.6 196.3h.45M72.9 188.9h.45M64.1 195.4h.45M63 196.6h.45M69.7 196.1h.45M63.6 202h.45M74.5 192h.45M65.9 202.1h.45M62.6 195.9h.45M72.6 192.8h.45M56.4 193.5h.45M67.9 196.9h.45M71.1 192.9h.45M71.6 194.7h.45M66.7 193h.45M63.4 195.3h.45M57.3 190.5h.45M65.2 187.5h.45M61.9 185.6h.45M60.1 194.8h.45M69.4 192.6h.45M63.5 187.7h.45M78.9 194.7h.45M73.4 189.6h.45M63.8 186.2h.45M71.1 196.2h.45M51 192.6h.45M69.9 186.5h.45M51.5 189h.45M60.5 187.7h.45M65.4 193.7h.45M70 195.3h.45M76.5 197h.45M55.4 191h.45M57.2 188.9h.45M64.6 192.8h.45M68.9 187.1h.45M55.9 192.7h.45M63.7 191.7h.45M64.7 190.1h.45M70.5 194.1h.45M64.5 190.4h.45M63.9 183h.45M57.8 192.9h.45M53.9 193.5h.45M66.3 187.8h.45M63.3 191.7h.45M68.6 195h.45M64.9 189.7h.45M64.1 192.6h.45M70.7 193.9h.45M59.8 187.9h.45M62.4 190.1h.45M56.9 192.4h.45M61.5 193.2h.45M69.1 191.3h.45M82.6 191.6h.45M73.5 193.2h.45M73.6 184.2h.45M59.6 193.7h.45M69.7 201.2h.45M67.6 197.4h.45M70.9 196.2h.45M69 192.2h.45M69 188.9h.45M74.1 189.1h.45M67.1 200.4h.45M63.5 192.9h.45M73.9 192.9h.45M59.1 193.7h.45M69.6 195.4h.45M59.4 199.1h.45M77.7 192.9h.45M67.2 191.3h.45M75.8 190.3h.45M70.3 191.1h.45M60 195.4h.45M75.2 192.8h.45M60.1 195.7h.45M64.8 193.9h.45M76.6 196.9h.45M61.3 201h.45M65.2 195.6h.45M60.3 192.6h.45M52.1 199.2h.45M75.4 188.4h.45M53.9 187h.45M74 191.1h.45M64.7 191.7h.45M64.3 188.9h.45M65.4 187.6h.45M64.7 193.9h.45M68.7 192h.45M58.4 193.4h.45M61.6 198.4h.45M71 192.4h.45M61.7 190.3h.45M58.2 191.5h.45M67.4 194.7h.45M69.5 200.4h.45M59.9 192.8h.45M86.2 186.1h.45M61.3 193.4h.45M66.4 194.3h.45M63.4 194.1h.45M65.6 195.6h.45M51 189.6h.45M65.2 189.1h.45M57.4 195.1h.45M60.3 195.1h.45M70.8 193.9h.45M69 192.4h.45M54.6 192.7h.45M68.6 190.9h.45M64.5 195.5h.45M58.6 195.1h.45M79.2 190.8h.45M66.3 192.3h.45M76.8 193.9h.45M71.9 190.3h.45M65.1 192.8h.45M51.9 198h.45M71.9 186.5h.45M70.8 192.3h.45M68.6 194.1h.45M54 192h.45M76.4 190.7h.45M57.5 187.9h.45M56 194h.45M77.9 194.3h.45M67 200.8h.45M61.3 190.4h.45M69.2 194.8h.45M57.6 188.6h.45M67.4 193.7h.45M55.4 192.1h.45M61.1 194.5h.45M64.3 192.5h.45M62.5 196.6h.45M75.6 191.5h.45M71.5 190.1h.45M65.7 195.5h.45M76.6 191.4h.45M64.6 193.5h.45M54 192.9h.45M60.1 194.1h.45M56.7 185.7h.45M65.5 193.7h.45M61.1 196h.45M63.2 190.6h.45M68.8 187.2h.45M60.1 192.7h.45M71.6 192.2h.45M67.5 190.4h.45M67.5 198.8h.45M60.1 201.3h.45M60.4 192.9h.45M66.5 196.5h.45M55.9 185.2h.45M69.7 195.7h.45M69.9 202.3h.45M66.7 193.7h.45M72.2 194.1h.45M77.7 188.3h.45M71.3 191.5h.45M72.1 200.6h.45M65.2 191.9h.45M61.5 189.8h.45M60.5 195.1h.45M65.5 193h.45M63.9 196.1h.45M68.9 192.3h.45M70.2 192.3h.45M56.6 198h.45M68.7 189.4h.45M73.3 194h.45M53.5 198.6h.45M67.7 196h.45M66.7 192.3h.45M53.6 196.3h.45M65.4 191.8h.45M67.8 193.1h.45M70.3 191.5h.45M64.9 185.1h.45M62 195.2h.45M75.2 191.5h.45M64.3 198.5h.45M62.8 195.4h.45M77.8 192.9h.45M74.4 190.2h.45M66.8 192.5h.45M66.1 196.9h.45M83.1 190.4h.45M60.9 194.6h.45M57.3 194.6h.45M69.5 191.8h.45M69.2 187.2h.45M70.9 187.2h.45M60 190.8h.45M62.2 195.9h.45M65.8 191.4h.45M69.3 198.5h.45M65.2 194.1h.45M74.5 193.8h.45M55.6 201.8h.45M81.8 185.7h.45M64.9 194.3h.45M72.4 195.2h.45M63.2 189h.45M66 196.5h.45M57 189.1h.45M65 185.8h.45M63.2 191.2h.45M68.6 190.3h.45M58.6 191.4h.45M64.8 190.4h.45M65.3 195.5h.45M74.1 198.9h.45M59.3 191.3h.45M46.6 199.6h.45M59.8 192.7h.45M69.1 187.9h.45M68.7 192.7h.45M51.5 193.9h.45M74.2 186.1h.45M71.3 193.6h.45M68.8 194.4h.45M75 192h.45M71.8 191.3h.45M70.7 189.9h.45M64.4 199h.45M68.5 192.2h.45M56.6 190h.45M66.7 196.2h.45M68.4 194.7h.45M64.9 197.7h.45M62.3 190.8h.45M71.9 193h.45M63.1 190.7h.45M63.3 195h.45M67.9 188.4h.45M68.4 193.4h.45M57.7 195.6h.45M63.1 191.6h.45M71.2 197.6h.45M60 194.4h.45M58.6 201.1h.45M61.5 197.1h.45M60.3 195.7h.45M81.8 183.7h.45M61.9 194.6h.45M64.5 190.4h.45M81.3 193.1h.45M52.9 195.9h.45M52.3 196.9h.45M60.9 193.3h.45M74.7 193.2h.45M54.8 186.7h.45M74.1 195.5h.45M59.1 195.9h.45M68.9 195.1h.45M48.3 191.7h.45M72 195.4h.45M71.8 184h.45M66.5 194.6h.45M84.3 189.4h.45M62.7 192.9h.45M71.8 191.2h.45M73.8 190h.45M67.2 190.9h.45M66.4 190.3h.45M53.2 196.7h.45M67.5 190.8h.45M66.7 196.4h.45M57.9 192.4h.45M69.2 194.7h.45M62.7 185.2h.45M74.5 194h.45M65.3 191.8h.45M67.2 191.3h.45M57.5 190.1h.45M60.7 190.6h.45M56.5 195.1h.45M55.4 195.2h.45M57.6 194.1h.45M75.5 193.5h.45M59.7 193h.45M66.3 186.6h.45M60.6 193.4h.45M61.7 193.1h.45M70.7 195.6h.45M72 194.9h.45M63 192.7h.45M63.2 191.7h.45M63.9 186.6h.45M62.7 192.7h.45M57.9 192.7h.45M69.1 192.2h.45M80.8 183.4h.45M63.7 186.2h.45M72.5 202.4h.45M46.4 193.3h.45M69.1 191.7h.45M69.3 184.7h.45M71.6 194.1h.45M65.4 190.7h.45M70 191.1h.45M66.9 191h.45M48.3 192.7h.45M66.7 195.5h.45M58.6 192.7h.45M69.8 193.3h.45M74.5 200h.45M58.4 185.9h.45M71.6 198.3h.45M72.1 195.7h.45M60.6 190.2h.45M71.9 189.5h.45M51.6 189.2h.45M83.9 199.7h.45M60.1 190.2h.45M66.9 190.1h.45M75 192.5h.45M57.1 197.5h.45M60.8 193.6h.45M65.1 191.7h.45M67.6 190.3h.45M51.4 184.9h.45M55.7 190.1h.45M65 193h.45M69.4 193.2h.45M59.2 190.2h.45M49.3 192.2h.45M68.8 194.7h.45M64.3 192.2h.45M72.2 192.9h.45M70.7 194.9h.45M66.8 197.5h.45M60.9 191.5h.45M59.1 189.9h.45M76.9 199.1h.45M65.4 194.8h.45M74 195.7h.45M74.2 188.3h.45M60.4 194.4h.45M76 193.2h.45M58.8 191.5h.45M60.2 189.7h.45M76.5 190.5h.45M65.4 200.6h.45M74.1 194h.45M60.6 194.3h.45M77.4 195h.45M74.7 193.2h.45M69.1 192.1h.45M68.4 197.5h.45M54.5 192.6h.45M67 190.7h.45M62.9 195.6h.45M80.2 195.1h.45M67.6 187.2h.45M79.7 193.1h.45M64.9 188.8h.45M64.8 188.9h.45M65.7 194.5h.45M65.4 193.8h.45M58.8 197.9h.45M60.3 186.3h.45M63.8 190.1h.45M57.6 191.5h.45M67.4 188.5h.45M64.2 197.9h.45M70.3 192.3h.45M66.2 192.4h.45M64.8 195.4h.45M64.5 184.1h.45M65 189.6h.45M70.1 190.6h.45M66.3 200.6h.45M57.3 188.8h.45M54.6 184.2h.45M51.1 194.1h.45M60.4 186.1h.45M54.1 195h.45M59.4 191.5h.45M67.7 197.7h.45M79.8 196.5h.45M66.3 193.5h.45M78.7 197.9h.45M62.9 194.4h.45M67.4 193h.45M61.4 188h.45M61.2 187.2h.45M74.4 194.7h.45M56.2 197.8h.45M71.9 185.9h.45M79 195.7h.45M80.7 188.4h.45M69.2 194.3h.45M66.7 193.4h.45M73.1 187.4h.45M55.9 187.8h.45M61 190.6h.45M68 193.8h.45M65.4 190.4h.45M61.9 196.2h.45M70.9 193.2h.45M62.8 198.4h.45M60.7 195.1h.45M73.9 191.8h.45M71.4 188.8h.45M72.8 193.5h.45M53.3 195.2h.45M58.5 197.4h.45M60.1 192.2h.45M67.3 191.6h.45M67.1 190.8h.45M70.2 192.8h.45M66.8 182.9h.45M73.9 192.9h.45M51.8 193.1h.45M68.7 196.7h.45M57.1 198.4h.45M64 201.4h.45M64.1 195.2h.45M62.5 188.8h.45M73.4 196.1h.45M76.7 195.9h.45M60.9 186.8h.45M60.3 190.4h.45M59.1 194.9h.45M67.7 191.8h.45M66.5 192.3h.45M66.8 195.5h.45M72.4 190.3h.45M53.9 197.9h.45M66.1 196.8h.45M52.9 191.6h.45M65.4 187.6h.45M61.3 195.4h.45M73.3 198.5h.45M58.7 187.8h.45M69.1 196.2h.45M66.6 188.1h.45M71.1 195.7h.45M69.4 191h.45M67.5 195.6h.45M61 186.2h.45M67.7 194.5h.45M65.3 196h.45M60.8 192.5h.45M62.9 194.9h.45M77.2 191.9h.45M80.6 198.3h.45M71.1 194.9h.45M78.5 192.2h.45M64.4 189h.45M68.7 197.6h.45M69.2 194.3h.45M63.7 193.4h.45M54.5 196.6h.45M62.1 188.8h.45M59.6 189.8h.45M71.6 196.6h.45M55 196.1h.45M71.9 190.7h.45M54.1 190.1h.45M60.4 194h.45M62.5 185.5h.45M67 187.3h.45M72 188.5h.45M60 189.7h.45M61.1 197.5h.45M71.6 195h.45M67.6 187.2h.45M61.3 190.8h.45M57.9 194.6h.45M59.6 190.2h.45M57.4 185.4h.45M69.7 197.6h.45M66.5 189.3h.45M44.9 193.4h.45M74.3 193.9h.45M72.2 198.1h.45M73.7 191.2h.45M73.1 195.6h.45M53.7 191.3h.45M54.5 192.4h.45M69.5 189h.45M49.8 197.5h.45M68 198.1h.45M55.3 196.6h.45M80.8 200h.45M63.6 193.8h.45M64 196.4h.45M73 193.1h.45M55 195.5h.45M61.7 195.1h.45M67.2 198.6h.45M73.7 191.2h.45M67.8 199.2h.45M61.2 194.4h.45M74.1 197.3h.45M69.1 188h.45M55.7 193.7h.45M68.1 202h.45M58.7 196.9h.45M71 186.8h.45M59.1 193.4h.45M61.5 192.2h.45M68.7 189.9h.45M68.7 190.5h.45M61.1 194.7h.45M60.9 193.8h.45M77.2 192.9h.45M64.1 195.4h.45M62.5 196.7h.45M55.6 195h.45M61.4 189.9h.45M78.5 189.7h.45M78.4 195.2h.45M76.1 189.3h.45M74.2 198h.45M64.3 192.3h.45M83.6 193.4h.45M62 190.5h.45M68.5 194h.45M66.5 199h.45M62.7 194.5h.45M76.1 189.2h.45M73 199.4h.45M55 188.8h.45M57.4 186.2h.45M68.6 186.1h.45M68.9 198h.45M53.1 191.7h.45M50.8 195.6h.45M59.7 191.8h.45M65.6 194.8h.45M62.6 192.9h.45M61.1 193.2h.45M56.4 193h.45M50.7 191h.45M79.6 193.1h.45M55.8 193.7h.45M57.9 186.9h.45M59.7 195.5h.45M68.1 192.5h.45M58.3 188.9h.45M75.3 193.7h.45M58.1 185.2h.45M54.9 201.7h.45M56.6 192.5h.45M66.8 192.2h.45M63.1 187.9h.45M57.3 198.9h.45M59.5 195.8h.45M52.5 191.8h.45M67.2 196.5h.45M56.8 194.9h.45M68.1 190.1h.45M68.8 189.6h.45M59.2 192.7h.45M44.8 192.4h.45M57.7 187.5h.45M62 195.5h.45M62.2 197.4h.45M56.5 188.1h.45M76.8 194.2h.45M72.3 189.8h.45M71.2 193.7h.45M70.1 192.9h.45M74.2 190.5h.45M58 187.5h.45M73.9 190.1h.45M57.4 189.4h.45M61.9 188.2h.45M63 190.5h.45M61.1 189.3h.45M65.5 191.1h.45M66.1 193.7h.45M67.8 184.9h.45M61.2 189.9h.45M71 187.1h.45M59.8 191.7h.45M62.7 196.4h.45M61.9 196.3h.45M54.2 186.3h.45M74.3 194.4h.45M68.9 193.2h.45M68.8 188.4h.45M72.3 190.9h.45M72.6 193.1h.45M50.4 188.2h.45M73.7 192.3h.45M62.2 193.7h.45M62 190.8h.45M66 193.3h.45M76.6 193h.45M79.3 199.3h.45M78.1 196.6h.45M66.2 193.3h.45M64.1 190.2h.45M64.7 190.5h.45M77.5 194.7h.45M61.9 185.9h.45M64.8 191.3h.45M57.1 188.7h.45M48.3 194.8h.45M64.7 202.1h.45M65 192.3h.45M76 193.3h.45M66.5 191.5h.45M60.7 198.2h.45M72.7 199h.45M62.6 192.9h.45M58.6 196.3h.45M54.8 194.8h.45M73.4 197.9h.45M58.2 196.7h.45M59.8 190.1h.45M55.3 197h.45M77.6 190.7h.45M59.5 191.6h.45M84 196.4h.45M61.1 186.3h.45M60.2 197.1h.45M79.2 191.8h.45M60 191h.45M51.1 196.1h.45M57.1 196.6h.45M52.4 188.2h.45M67.4 190.1h.45M71.1 192.8h.45M56.4 195h.45M71.5 185.9h.45M78.9 194.6h.45M70.9 186.1h.45M59.8 191.5h.45M73.3 187.5h.45M58.6 185.5h.45M63.4 194h.45M52.6 190.7h.45M69 198.5h.45M70.2 191.7h.45M56.4 189.4h.45M60.2 193.3h.45M64.8 198.8h.45M67.4 188.9h.45M76.8 196.2h.45M66 190.2h.45M51.2 189.1h.45M72 189.9h.45M55.3 193.5h.45M67 195h.45M70.1 197.9h.45M58.9 196.3h.45M57.8 195.3h.45M66.5 193.7h.45M72.5 192.7h.45M73.5 196h.45M66.2 190.8h.45M59.5 190.9h.45M63.7 192.7h.45M87.6 195.1h.45M71 189.7h.45M59.9 191.7h.45M66.6 189.1h.45M77.3 190.8h.45M73.3 184.4h.45M65.1 193.8h.45M66.6 195h.45M67.3 193.4h.45M51 190.2h.45M47.6 195.1h.45M67.5 192.1h.45M59 190.7h.45M79 199h.45M64.8 197.4h.45M53.3 185.8h.45M61.6 189.7h.45M61 193.5h.45M87.9 190.4h.45M65.6 193.8h.45M64.9 196.2h.45M78.5 188.3h.45M66.4 191.8h.45M67.9 187.3h.45M52 184.5h.45M69.1 193.5h.45M65.8 184.3h.45M62.4 190.1h.45M54.6 189.5h.45M70.4 194.8h.45M65 194.7h.45M60.7 193.1h.45M65.5 194.8h.45M64.7 192.3h.45M64.2 190.5h.45M82 194.7h.45M68.4 201h.45M75.7 187.2h.45M70.4 195.8h.45M79.3 197.5h.45M71 188.6h.45M58.7 193.8h.45M69 189.1h.45M62.3 191.4h.45M65.7 194h.45M63 188.3h.45M74.5 198.5h.45M64.4 196.5h.45M68.5 195.2h.45M68.8 190.1h.45M69.5 196.4h.45M58.5 199.9h.45M80.9 199.4h.45M80.1 195.5h.45M62.7 190.6h.45M59.1 193.2h.45M65 195.2h.45M50.1 201.1h.45M82.3 192.7h.45M70.3 194.5h.45M67.3 192h.45M64.3 189.8h.45M66.5 192.7h.45M67.6 189.7h.45M65.5 193h.45M69.7 189h.45M68.3 196.3h.45M69.7 191.5h.45M61.5 191.9h.45M70.7 198.4h.45M64 190.5h.45M68 193.5h.45M58.4 190.1h.45M64.4 195.2h.45M56.3 189.1h.45M68.9 188.4h.45M66 194.1h.45M64.4 189.1h.45M64.8 191.6h.45M67.7 189.8h.45M73.4 186.8h.45M63.9 192.8h.45M72.4 190.6h.45M69.3 190.8h.45M70.7 199.1h.45M62.2 194.4h.45M58.2 196.3h.45M74.3 192.9h.45M56.7 194.2h.45M73.8 196.7h.45M71.3 186.2h.45M60.1 197.9h.45M56 196.9h.45M79.3 195.5h.45M73.6 191.6h.45M56 192.4h.45M63.7 192.6h.45M70.4 192.3h.45M66.6 194.3h.45M65.2 199.4h.45M68.5 193.1h.45M63.6 190.5h.45M75.3 193.3h.45M57.1 190.8h.45M64.2 191.2h.45M73.3 188.6h.45M68.9 193.3h.45M56.4 193h.45M64.5 194.6h.45M61.8 193.9h.45M52.7 188.9h.45M71.1 196.5h.45M65.1 190.6h.45M73.3 185.3h.45M59.2 195.2h.45M70.1 189.1h.45M51 198h.45M66.3 189.6h.45M65.6 196h.45M45.8 196.8h.45M70.8 185.3h.45M71 186.4h.45M73.7 194.2h.45M82.1 190.6h.45M65.2 196.6h.45M60.4 190.3h.45M62.4 192.5h.45M57.1 194.5h.45M69.3 193.1h.45M78 191.6h.45M75 190.8h.45M70.9 185.8h.45M66.7 192.2h.45M61.5 190.6h.45M62.6 190.2h.45M48.8 190.7h.45M61.1 190.9h.45M57.3 192.3h.45M71.1 191.9h.45M61.5 197.7h.45M72.5 196.1h.45M73.9 191.6h.45M64.2 196.8h.45M61 192.4h.45M68 194.1h.45M63.1 196.3h.45M63.9 195.4h.45M73.2 195.2h.45M70.7 188.6h.45M55.4 190.6h.45M68.8 198.2h.45M56 193.9h.45M58.8 190.2h.45M63.1 195.3h.45M66.8 197h.45M57.8 196h.45M72.2 193.1h.45M68.8 190.8h.45M57 191.3h.45M60.4 203.2h.45M61.6 198.7h.45M66.7 193.9h.45M70.8 190h.45M72.1 194.2h.45M53.8 195h.45M69.3 194.4h.45M77.1 191.3h.45M69 195.5h.45M58.4 197.1h.45M54.3 188.1h.45M69.1 188.9h.45M64.3 186.9h.45M65.7 188.7h.45M67.8 187.3h.45M68.6 191.8h.45M65.7 192.6h.45M66.2 188h.45M46 192.9h.45M58.2 191.2h.45M68.4 185.7h.45M59.5 190.6h.45M57.3 194h.45M64.1 189.8h.45M57.8 195.7h.45M60.3 194.9h.45M68.6 186h.45M57.1 192.8h.45M67.8 195.6h.45M71.2 196.5h.45M62.4 192h.45M71 191.3h.45M73.1 187.1h.45M70.1 192.2h.45M50.4 196.3h.45M67.5 192.9h.45M57.1 191.1h.45M76.5 189.8h.45M39.2 189.7h.45M56.2 192.3h.45M62.3 189.5h.45M58.9 196.6h.45M54.4 199.8h.45M61.1 188.9h.45M71.1 194.8h.45M57.4 195.5h.45M51.4 189.5h.45M73.6 191.9h.45M55.4 194.7h.45M72.1 192.7h.45M51.6 191.6h.45M68.3 195.6h.45M79.1 191.9h.45M61.6 192.7h.45M74.2 189.4h.45M75 182.9h.45M71.2 190.4h.45M68.6 195.3h.45M56.3 192.5h.45M67 194.9h.45M58.2 189.2h.45M50.8 201.9h.45M63.8 192h.45M54 196.1h.45M61.2 198h.45M71.6 192.9h.45M70.7 188.8h.45M62.8 190.7h.45M55.7 192.9h.45M64.1 198h.45M40.1 190.4h.45M58.3 191.1h.45M68.4 194.3h.45M65.4 191.1h.45M68.9 194.1h.45M56.7 209.5h.45M61.8 203.7h.45M62.6 215.5h.45M66 208.6h.45M65 207.8h.45M61.1 220.5h.45M63.8 227.2h.45M61.1 210h.45M57.8 215.3h.45M66.7 223.6h.45M59.1 201.6h.45M55.8 216.2h.45M61.2 217h.45M71.7 212h.45M52 227.6h.45M66.4 209.7h.45M60.7 200h.45M53.3 210.9h.45M58.8 222.1h.45M64.4 209.5h.45M52.6 227.3h.45M55.4 212.9h.45M60.1 219.4h.45M59 217.7h.45M65.8 215.2h.45M61.4 212.6h.45M59.6 211.5h.45M60.4 215.8h.45M62.2 226.8h.45M58.5 218.4h.45M60.5 220.9h.45M61.4 216.8h.45M63.5 208.2h.45M60.6 225.9h.45M63 219.2h.45M64.9 212h.45M53.5 216.4h.45M65.1 211.1h.45M54.1 222.4h.45M49.3 224.4h.45M55.8 233.3h.45M59.8 213.3h.45M59.9 215h.45M64.3 209h.45M69.1 211h.45M58.4 217.9h.45M62 210.6h.45M64.9 212.8h.45M58.2 211.8h.45M55.2 226.9h.45M54.8 219.9h.45M60.8 210.8h.45M60.1 216.2h.45M58.9 229.2h.45M55.1 223.4h.45M62.8 222.5h.45M56.2 220h.45M60.6 217.2h.45M58.9 219.2h.45M62.1 225.1h.45M57.9 221.7h.45M71 210.6h.45M72.5 207.7h.45M62 220.1h.45M66.5 219.5h.45M63.6 208.1h.45M55 218.1h.45M64.1 209.1h.45M67 210.2h.45M62.4 210.7h.45M62.8 228.5h.45M67.6 203h.45M63 215.8h.45M61.4 219.6h.45M57.7 221h.45M64.5 217.9h.45M62.6 210.6h.45M68.9 208h.45M64.5 209h.45M55.1 216.7h.45M62.1 215h.45M71 205.5h.45M61 216.8h.45M69.3 208.4h.45M64 217.7h.45M62.9 225.6h.45M56.3 231.5h.45M63.9 211.7h.45M64.6 207.3h.45M69.2 201h.45M60.4 217.8h.45M67.1 214.1h.45M69.7 212.6h.45M68.8 200.8h.45M62.5 207.6h.45M65.6 221.2h.45M56.5 216.6h.45M64.8 214h.45M63.5 212.7h.45M66.9 201.2h.45M57.3 223.8h.45M68.3 215.4h.45M60.5 212h.45M64.1 218.9h.45M59 216.3h.45M59.7 218.1h.45M66.2 203.6h.45M59.7 220.3h.45M58.8 212.1h.45M66.7 213.7h.45M52.7 228.1h.45M61.5 223.6h.45M53.1 224.7h.45M58.4 208.2h.45M60 225.6h.45M61.5 208.4h.45M70 201.4h.45M62.5 219.9h.45M58.8 217.8h.45M63.9 218.4h.45M58.6 226.5h.45M60.1 215.1h.45M56.8 221.2h.45M59.2 217.4h.45M62.5 215.5h.45M68.5 217.2h.45M64.2 223.1h.45M67.4 216h.45M62.8 221.8h.45M59.2 215.6h.45M62 214.3h.45M69.4 212h.45M62.8 199.6h.45M63.1 209.5h.45M60.3 218.8h.45M67.2 220.1h.45M66.5 210.4h.45M59.4 225.4h.45M73.9 203.4h.45M59.7 227.5h.45M70.5 205.7h.45M59.1 218.4h.45M66.6 209.8h.45M55.8 220h.45M52.6 222.6h.45M61.3 217h.45M59.9 208.3h.45M69.9 205.7h.45M74.4 208.5h.45M58 213h.45M61.3 220.8h.45M61.8 212.7h.45M63.5 210.3h.45M50 217.1h.45M62.6 216.4h.45M59.2 215.5h.45M62.5 214.2h.45M72.2 204.6h.45M67 207.8h.45M55.9 224.8h.45M58.9 212.2h.45M56.9 220.4h.45M65 201.3h.45M65.3 213.2h.45M57.3 221.8h.45M60.6 210.6h.45M61.3 218h.45M56.8 221.2h.45M71.4 215.8h.45M76.2 203.3h.45M68.3 214.8h.45M64 212.7h.45M64.7 204.7h.45M56.3 223.2h.45M67.4 214.3h.45M63 209h.45M51.7 225.4h.45M64.2 216.8h.45M64.3 206.8h.45M64 222.6h.45M55.5 220.1h.45M56.2 217.4h.45M60.5 210.2h.45M62.4 218.7h.45M68.8 210.7h.45M62.9 227h.45M60.6 218h.45M60.2 212.4h.45M57.5 213.1h.45M58.2 224.6h.45M62.6 222.2h.45M61.9 212.6h.45M60.3 215.8h.45M52.9 216.8h.45M58.8 208.5h.45M64.2 211.2h.45M68.3 217h.45M63.5 225.8h.45M59.2 216.7h.45M67.9 214.7h.45M64.6 211h.45M63.8 212.4h.45M59 222h.45M66.6 218.2h.45M59.9 221.2h.45M65.1 206.9h.45M69.4 210.2h.45M68.9 209.7h.45M72.3 210.7h.45M59.8 226.8h.45M53.7 223.5h.45M65.8 201h.45M62.3 221h.45M70.6 196.7h.45M63.2 212.6h.45M62 212.1h.45M58.2 207.7h.45M62.9 228.8h.45M63.6 209.2h.45M59.9 222.9h.45M69 207.9h.45M62.4 216.1h.45M62.9 225.7h.45M59.7 224.2h.45M55.5 224.9h.45M59.4 216.8h.45M68.7 210h.45M66.2 201.2h.45M63.1 214.7h.45M59.4 217.7h.45M55.1 210.9h.45M63.5 213.1h.45M58.8 228.5h.45M64.1 207.4h.45M59.9 214.4h.45M67.4 209.8h.45M69.4 209.4h.45M63.6 219.2h.45M56.2 230.7h.45M62 213.2h.45M60.8 221.7h.45M56.7 214.4h.45M57.5 217.9h.45M66.8 217.5h.45M61.3 215.9h.45M49.4 215.1h.45M63.6 216.9h.45M63.6 209h.45M57.4 223h.45M57.1 224.1h.45M55.1 207.1h.45M63.3 215.2h.45M59 207.2h.45M71.2 207.9h.45M62.8 205.4h.45M58.1 218.3h.45M71.6 201.6h.45M69.4 213.2h.45M54.3 225.5h.45M66.5 206h.45M62.7 208.6h.45M60 210.7h.45M64.1 218.8h.45M47.6 231.9h.45M58.5 213.9h.45M59.7 220.2h.45M59.5 217.4h.45M69.2 219.1h.45M57.4 215.2h.45M60.9 210.8h.45M61.7 217.5h.45M58.3 220.3h.45M66.3 205.3h.45M66.6 213.8h.45M68.8 212.3h.45M63.1 218h.45M58.4 199.6h.45M53.4 222.7h.45M52.6 217.9h.45M64.3 220.2h.45M66.4 212.5h.45M61.5 216.4h.45M61.2 220.5h.45M64.1 209.5h.45M58.9 216.7h.45M61.1 203.1h.45M62.9 210.2h.45M70.9 195.7h.45M62 212.4h.45M72 202.3h.45M59.6 217.6h.45M59.7 224h.45M69.7 209.3h.45M65.7 213.6h.45M54.1 224.2h.45M63.2 207.7h.45M64 208.1h.45M64.4 219.2h.45M65.6 220.1h.45M56.4 221.1h.45M61.7 210.4h.45M61.6 214.8h.45M68.6 212.6h.45M63.6 215.2h.45M61.9 204.9h.45M60.1 217.3h.45M61.7 218.7h.45M64.1 211.7h.45M67.4 208.5h.45M58.9 210.1h.45M59.2 208.7h.45M61.7 209.6h.45M65 209.1h.45M67 202h.45M66 208.9h.45M73.8 195.6h.45M58.7 215.1h.45M55.2 208h.45M62.3 215.7h.45M56.3 213.8h.45M66.3 208.2h.45M65 215.8h.45M64 211.7h.45M63.8 216.4h.45M64.6 220h.45M61 212.1h.45M66.8 213.8h.45M61.7 219.2h.45M70.1 198.1h.45M62 216.5h.45M65.5 209.7h.45M66.9 216h.45M62.7 208.6h.45M67.5 207.7h.45M51.7 227.2h.45M63 224.5h.45M64.9 221.4h.45M52.2 220.3h.45M64.8 220.4h.45M51.1 220.1h.45M68.8 213.7h.45M59.9 220.5h.45M58 222.4h.45M60.1 219.8h.45M67.9 204.5h.45M47.4 235.5h.45M58.5 224.6h.45M60 228.9h.45M66.4 211.6h.45M69.3 201.2h.45M58.4 220.9h.45M54.1 212.4h.45M60.4 225.7h.45M61.5 208.5h.45M59.5 204.3h.45M56.7 230.4h.45M53.4 222.6h.45M65.6 212h.45M79 200.8h.45M61.3 216.2h.45M63.2 231.3h.45M69.7 219.7h.45M60.8 226.2h.45M62.8 218.3h.45M63.1 211.6h.45M51 226.5h.45M68.3 199.2h.45M63.3 215h.45M56.3 228h.45M62.9 212.7h.45M59.8 213.3h.45M60 215.5h.45M71.7 223.1h.45M52.3 227h.45M62.3 222.1h.45M61.8 221.9h.45M59.5 226h.45M60.9 226.2h.45M60.6 213.9h.45M56.3 220.3h.45M66.9 213h.45M54.8 234.5h.45M70.6 209h.45M59.7 219.2h.45M60.8 217.5h.45M65.2 219.2h.45M55.9 217.9h.45M61.5 215.4h.45M65.3 204h.45M59.3 210.1h.45M68.4 193.6h.45M70.5 208.6h.45M57.9 217.3h.45M49.1 220.1h.45M57.2 218.1h.45M59.5 216.1h.45M62.7 215h.45M61.3 201.1h.45M57 224.8h.45M58.5 217.6h.45M61.1 218.5h.45M71.2 205.9h.45M63.9 214h.45M64.3 208.2h.45M63.3 206.1h.45M49.4 230.7h.45M68.2 217.9h.45M68.4 209.2h.45M59.2 196.9h.45M57.6 225.3h.45M65.8 207.6h.45M65.1 207.3h.45M58.3 210.7h.45M63.9 208.3h.45M62.6 206.6h.45M58.1 225.1h.45M53.5 230.3h.45M55.7 213.9h.45M58.9 211.6h.45M60.6 219h.45M68.2 212.8h.45M58.7 211.3h.45M65.9 210.3h.45M59.3 228.4h.45M56 214.9h.45M72.8 202.9h.45M63.8 213.6h.45M52.6 221.6h.45M64.8 211.8h.45M61.5 220.2h.45M62.9 220.3h.45M68 207.1h.45M60.4 215h.45M45 225.1h.45M64.8 206.6h.45M55.1 213.4h.45M64.5 210.7h.45M64.1 207.7h.45M60.1 212.8h.45M57.6 218.5h.45M61.3 215.5h.45M59.1 224.6h.45M63.6 217.5h.45M64.7 208.8h.45M58.6 219.1h.45M64.5 212.4h.45M63.2 201.5h.45M59.7 222.7h.45M68.6 205.7h.45M60.8 216h.45M57.9 215.6h.45M64.6 208.5h.45M55 218.4h.45M66.8 209.1h.45M55.5 219.3h.45M65.5 213.7h.45M68.9 215.6h.45M54.7 220.7h.45M60.4 216.9h.45M66.1 207.7h.45M58.9 211.3h.45M70.8 210.1h.45M66.2 218.8h.45M57.5 214.7h.45M67.5 209.4h.45M53.6 213.6h.45M56.9 216h.45M56.2 210.4h.45M64.9 202.8h.45M60.8 215.6h.45M64.6 205.4h.45M69.4 202.7h.45M62.4 219.2h.45M64.9 224h.45M62.6 217.3h.45M67.2 205.4h.45M65.5 221.1h.45M65.5 206.2h.45M65.5 221.2h.45M55.8 217.5h.45M68.9 218h.45M65.2 212.6h.45M56.2 221.3h.45M72.5 221.1h.45M59 220.2h.45M58.6 219.4h.45M68.8 209h.45M58.9 212.4h.45M64.2 218.2h.45M71.6 207.2h.45M66.3 211.3h.45M61.5 217.3h.45M59.8 211.5h.45M57.3 214.6h.45M61.1 209.8h.45M65.4 210.6h.45M68.6 212.3h.45M64.2 218.3h.45M59.5 211.4h.45M60.7 210.8h.45M54.8 227.2h.45M55.2 225.2h.45M68.6 206.3h.45M51.9 215.5h.45M52.8 216.4h.45M64.4 219.4h.45M62.5 212.7h.45M64.3 213.1h.45M61.8 211.2h.45M68.6 212.5h.45M67.8 207.3h.45M64.8 203.8h.45M59.2 219.3h.45M65.1 211.9h.45M65.7 213.4h.45M62.6 217.4h.45M73.1 198.2h.45M55 218h.45M53.8 230.5h.45M63.5 210.5h.45M65.5 221.4h.45M67 221.7h.45M59 219.6h.45M61.2 210.3h.45M61.2 212.3h.45M66.7 212.8h.45M65.2 211.8h.45M75.3 196.9h.45M61 215.6h.45M54.9 220.1h.45M58.4 224.2h.45M63.3 221h.45M65.7 206.9h.45M63.2 211.2h.45M64.8 212h.45M78.6 208.9h.45M68 213.5h.45M58.1 220.9h.45M66.7 206.2h.45M64.4 214.1h.45M54.5 212.6h.45M61.3 207.7h.45M62.9 217.8h.45M53.5 229.6h.45M66 211.2h.45M63.5 214.4h.45M60.4 199.8h.45M50.1 226.9h.45M62.7 212.5h.45M56.8 220.7h.45M56.3 226.9h.45M59.1 227.8h.45M60.5 217.2h.45M61.4 212.9h.45M58.4 207.7h.45M61.4 208.5h.45M65.5 218.8h.45M63.4 223h.45M61.9 223.5h.45M57.3 219.4h.45M63.1 210.5h.45M58.6 232.1h.45M52.7 225.3h.45M68.2 210.3h.45M61.9 217.9h.45M64.9 212.9h.45M57.8 212.8h.45M62.4 221.8h.45M60.6 223.7h.45M59 212.8h.45M59.9 222.4h.45M61 218.7h.45M55.2 229.8h.45M54.9 210.8h.45M70 220.8h.45M55.5 212.5h.45M59.8 207.5h.45M56.9 227.3h.45M61.5 220.3h.45M65.1 218h.45M59.7 212.6h.45M64.4 213.4h.45M61.3 211.1h.45M60.8 205h.45M63.3 212.1h.45M57.4 224.7h.45M63.4 215.1h.45M62.1 205.2h.45M66.7 209.3h.45M67.6 208h.45M63 214.5h.45M67.1 213.8h.45M60.1 215.9h.45M56.4 226.8h.45M63.3 210.6h.45M59.5 217.6h.45M60.6 220.1h.45M48.7 229.8h.45M68.7 217.8h.45M57.6 213.8h.45M71.7 199.8h.45M67.6 204.4h.45M58.9 225.3h.45M71.2 206h.45M63.8 223.6h.45M59.3 217.7h.45M68.7 215.1h.45M64.3 210.8h.45M74 201.7h.45M70.6 210.5h.45M71.3 205h.45M61.2 209h.45M70.9 204.8h.45M66.6 211.4h.45M67.7 214.8h.45M64.6 214.4h.45M69.7 215.4h.45M55.1 228.7h.45M60.1 219.8h.45M59.1 214.9h.45M54.1 211.6h.45M65.5 203.1h.45M53.4 220.4h.45M69.2 204.9h.45M71 213.1h.45M60.2 215.9h.45M64.2 201.4h.45M55.5 221.8h.45M71.2 205.4h.45M66.3 217.1h.45M63.8 216h.45M67.3 208.5h.45M61.7 208.3h.45M58.8 218.5h.45M52.4 223.9h.45M62.2 209.6h.45M63.2 219.1h.45M65 206.7h.45M64.6 201.8h.45M62.3 224.4h.45M66.9 221.6h.45M60.7 220.7h.45M66.5 214.6h.45M55.8 230.6h.45M61.5 202h.45M56.3 218.4h.45M67.6 214.5h.45M64.8 215.6h.45M65.3 211.5h.45M62.2 214.7h.45M58.2 232.5h.45M54.2 215.4h.45M58.8 221.6h.45M63.1 222.1h.45M68.5 209.5h.45M50.5 223.6h.45M69.9 210.2h.45M64.3 221.7h.45M50.7 216.8h.45M54.7 221.3h.45M62.6 208.4h.45M57.8 210.6h.45M68.2 211.9h.45M48.2 226.6h.45M66.2 222.9h.45M64.8 205.3h.45M54.7 215.9h.45M70.6 209.6h.45M63.3 212.8h.45M59.6 217.9h.45M71.8 214h.45M61.3 224h.45M61.9 213.3h.45M53.8 220h.45M62.8 209.3h.45M65.6 208.9h.45M59.8 210.9h.45M68.1 216h.45M69.4 205.4h.45M49.1 224.2h.45M66.5 203.3h.45M59.8 218.9h.45M59.5 205.6h.45M66.5 208.8h.45M61.6 223h.45M65.4 212.5h.45M64.4 210.3h.45M60.7 216.8h.45M57.8 221.1h.45M73.2 215.5h.45M60.5 221.2h.45M65.4 214.3h.45M57 221h.45M62.6 219.5h.45M57.3 217.8h.45M65.7 214.9h.45M56.7 231.3h.45M53.7 215.8h.45M63.2 203.1h.45M59.5 218.2h.45M66.7 206.7h.45M59.3 208.3h.45M65.3 209h.45M50.8 224.6h.45M60 212.2h.45M62.5 209.7h.45M63.5 212.8h.45M68.7 207.5h.45M50.2 226h.45M59.3 220.1h.45M64.4 220.8h.45M68 203.9h.45M53.3 218.9h.45M62.6 220h.45M64.3 196.8h.45M62.9 204.6h.45M66.5 207.8h.45M70 213.2h.45M57.2 219.9h.45M66.7 209h.45M58.2 229.9h.45M59 210.9h.45M65.6 199.1h.45M61.9 220.8h.45M64.1 219.6h.45M55.4 211.1h.45M64.2 205.3h.45M55.7 218.3h.45M54.2 228.2h.45M70.8 202.1h.45M60.9 225.2h.45M66.8 206.2h.45M73.2 208.6h.45M68.9 201.1h.45M64.1 200.5h.45M61.8 225.1h.45M65.8 204.4h.45M60.7 217.4h.45M61.2 203.9h.45M59.4 219.6h.45M60.9 218.1h.45M67 194.9h.45M66.7 208.8h.45M63.2 211.9h.45M66.8 210.1h.45M67.2 217.6h.45M61.9 220.2h.45M64.4 219.5h.45M58.5 207.2h.45M67.1 221.5h.45M62.6 219.1h.45M62.5 208.8h.45M55.8 221.9h.45M57.1 228.2h.45M57.2 229.2h.45M68.2 207.2h.45M67.1 220.3h.45M65.7 218.5h.45M60.5 215.4h.45M62.7 204.3h.45M61.1 209.5h.45M57.9 211.6h.45M56 229.9h.45M68.9 217.7h.45M66.2 214.8h.45M63.8 215.3h.45M60.1 214.4h.45M55.5 215.3h.45M65.2 206.5h.45M59 218.1h.45M58.2 217h.45M58.6 227h.45M58.9 212.1h.45M58.6 226.5h.45M60.5 220.7h.45M59.3 208h.45M69.2 215.7h.45M72.6 213.4h.45M67.2 202.8h.45M63.6 217.8h.45M68.8 219.6h.45M66.6 204.2h.45M58.5 221.5h.45M60.4 225h.45M65.5 216h.45M63.8 217.1h.45M51.3 224.8h.45M67.5 207.9h.45M62.6 217.6h.45M60.5 227h.45M49.5 213.4h.45M71.2 210.7h.45M54.7 213.5h.45M62.2 217.9h.45M60.1 209.4h.45M60.2 220.5h.45M68.9 220.9h.45M68.9 196.7h.45M66.6 215.8h.45M65.6 207.5h.45M71.5 203.1h.45M62.2 215.9h.45M58.5 224.8h.45M61.6 215.3h.45M71 205.1h.45M61 214.8h.45M68.6 210.7h.45M63.7 219h.45M62.5 201.4h.45M56.7 213.2h.45M60.4 220.4h.45M67.2 212.3h.45M63.1 222.7h.45M62.2 219.1h.45M56.4 215.1h.45M63.1 204.3h.45M60.5 215.2h.45M63.3 212.3h.45M58.1 214.3h.45M64.9 203.2h.45M57.3 225.5h.45M64.8 206.4h.45M60.9 229.7h.45M62 212.7h.45M52.1 236.6h.45M59.1 222.3h.45M70.6 202.4h.45M63 203.8h.45M63.4 216.4h.45M69.7 216.1h.45M63.1 215.9h.45M54.2 231.9h.45M57.9 226h.45M69.2 212.7h.45M66.1 213.3h.45M62.1 216.1h.45M64.1 211.4h.45M68.8 215.7h.45M58.6 228.3h.45M60.7 223.4h.45M63.2 225.2h.45M73.7 207.5h.45M69.2 218.5h.45M58.5 207h.45M57.4 212.1h.45M60.7 204.8h.45M62.8 216.5h.45M60.3 211.6h.45M61.7 215.2h.45M63.1 213.2h.45M71.4 204.7h.45M60 214.9h.45M62.9 210h.45M60 215.5h.45M67.4 215.7h.45M60 216.9h.45M68.6 200.2h.45M64.7 212.5h.45M57.9 218.3h.45M64.6 210.8h.45M60.9 198.3h.45M62.8 214h.45M63 217.2h.45M65.3 204.7h.45M58.9 211.8h.45M55.4 218.2h.45M64.2 199.3h.45M68.2 201.5h.45M71.8 210.5h.45M63 212.9h.45M66 200.4h.45M52.4 217.7h.45M57.9 232.5h.45M55 216.2h.45M59.1 221h.45M57.8 219.1h.45M63.2 220.9h.45M68.1 216.2h.45M70.4 212.5h.45M78.5 197.8h.45M65.3 209h.45M58.5 222.3h.45M64.5 216.8h.45M73.9 207.1h.45M53.8 224.4h.45M71.2 200.2h.45M67.9 206.8h.45M63.3 225.8h.45M55.5 223.3h.45M55.9 220h.45M64.8 214.9h.45M58.3 210.2h.45M56.2 206.5h.45M51.2 220.3h.45M67.9 195.3h.45M63 218.6h.45M52.6 229.4h.45M64.8 216.7h.45M71 192h.45M60.4 222.7h.45M65.5 203.4h.45M68.4 202.5h.45M59.5 220.4h.45M66.7 219.5h.45M60.2 220.6h.45M68.5 215h.45M60.9 206.8h.45M61.1 206h.45M60.6 217.1h.45M62.6 215.6h.45M59.5 217.2h.45M62.6 222h.45M68.7 215.4h.45M55.1 226.7h.45M61.5 218.2h.45M57.5 221.3h.45M64.6 206.7h.45M63.7 211.5h.45M66.7 213.6h.45M63.5 213.4h.45M65.9 210.8h.45M71.5 206.4h.45M63.6 208.9h.45M64.5 216.3h.45M65.3 213.3h.45M63.9 205.3h.45M63.1 210.3h.45M62 217.9h.45M66.2 215.8h.45M63.6 205.7h.45M61.2 217.5h.45M68.6 219.7h.45M61.6 231.7h.45M54.1 221.7h.45M61.3 226.7h.45M58.7 221.8h.45M60.8 213.4h.45M55.7 227.9h.45M58 221.4h.45M65.2 209.7h.45M60.7 220.1h.45M57.4 218.1h.45M63 207.1h.45M64 213.5h.45M64.9 201.1h.45M61.5 216.6h.45M60 215.3h.45M55.4 214.9h.45M62.7 217.6h.45M59.8 214.3h.45M58.8 222.8h.45M62.3 217.2h.45M56.5 219.8h.45M68.3 213.3h.45M63.4 218.2h.45M66.9 205.3h.45M75.5 204.4h.45M64.8 212.6h.45M68 213.8h.45M60.2 219.3h.45M65.9 211.8h.45M63.3 218.9h.45M67.7 212.9h.45M63.6 211.9h.45M58.4 215.1h.45M58.5 225.9h.45M59.7 217h.45M66.8 216h.45M62 215.9h.45M63.5 206.3h.45M65.6 218.1h.45M66.6 205.6h.45M58.4 223.6h.45M61.5 206.2h.45M60.9 227.2h.45M69.9 213.6h.45M67.2 210.4h.45M65.5 213.1h.45M58 224.9h.45M64.4 213.7h.45M61.5 216.8h.45M59.7 215.4h.45M58.7 227.2h.45M59.4 202.4h.45M54.7 218.9h.45M70.2 220.6h.45M58.5 223.3h.45M54.3 209.1h.45M50.7 210.3h.45M62.3 210.4h.45M65.7 211.2h.45M66.2 216.8h.45M54.3 233.9h.45M57.3 220.7h.45M54.8 222.4h.45M65.2 217.6h.45M59.9 228.3h.45M67.2 217.3h.45M58 222.7h.45M59.3 207.8h.45M61.9 219.8h.45M62.4 230.9h.45M61.8 218.6h.45M58.3 211.1h.45M64.1 213.6h.45M60.3 219.3h.45M61 209h.45M51.8 219.9h.45M64.9 200.6h.45M65.8 214.6h.45M67.1 213.9h.45M67.2 223.8h.45M62.4 215.9h.45M58.6 220.3h.45M70.9 215.3h.45M56.3 217.2h.45M71.6 205.9h.45M63.5 206.4h.45M62.4 219.5h.45M63.9 205.3h.45M72.3 201.2h.45M65.1 214.8h.45M65.4 225.4h.45M61.3 211.8h.45M64 209.1h.45M59 221.9h.45M57.8 210.5h.45M64.8 222.8h.45M62.4 207.5h.45M65.2 201.7h.45M66.1 217.4h.45M65.1 203.2h.45M62.8 210.4h.45M70 214.6h.45M58.8 222.7h.45M65.3 214.7h.45M49.5 221h.45M66 212.7h.45M65.5 207.8h.45M64.6 202.5h.45M62.2 219.4h.45M60.1 220.7h.45M63.7 216.6h.45M57 217.5h.45M64.1 221.5h.45M68.4 213.6h.45M54.3 222h.45M59.4 215.5h.45M61.6 214.6h.45M63.3 210.4h.45M49.1 225.3h.45M70 201.4h.45M63.2 205.1h.45M69 195.2h.45M58.3 227.6h.45M58.7 219.7h.45M68.9 206.9h.45M72.7 204.9h.45M61.6 211.2h.45M66.3 217.9h.45M64.8 208.8h.45M62.5 215.3h.45M59.8 226.1h.45M64.8 216.2h.45M55.9 226h.45M63.1 215h.45M62.9 229.2h.45M64.7 215h.45M56.2 221.3h.45M57.2 220.9h.45M59.2 214.2h.45M63.2 216.6h.45M61.7 217.9h.45M62.4 204.9h.45M55.2 227.4h.45M65.2 208h.45M59.9 213.9h.45M68.5 212.9h.45M63.6 217.1h.45M64.5 207.4h.45M64.4 209.4h.45M70.6 203.2h.45M63.5 222.2h.45M58.9 226.5h.45M70.6 203.7h.45M60.8 218.1h.45M64 205.5h.45M61.9 219.2h.45M61.7 212.3h.45M62.6 209.9h.45M58.2 222.4h.45M57.9 209.5h.45M66.8 219.9h.45M59.8 221h.45M63.2 204.4h.45M61.8 201.5h.45M60.1 221.3h.45M63.3 209.2h.45M61.5 219.9h.45M70.1 201.7h.45M69.6 195.8h.45M66.2 209.2h.45M54.6 224.3h.45M65.1 220.6h.45M62.6 216.5h.45M60.5 213.4h.45M72.1 212h.45M59.4 214.8h.45M62.4 222.3h.45M59.4 212.2h.45M65.8 205.6h.45M64.3 211.5h.45M63.9 219.5h.45M59.3 214h.45M63.4 209.7h.45M56.8 221.5h.45M67.1 201.9h.45M56.7 219.2h.45M73.6 211.1h.45M62.3 211.8h.45M56 215.2h.45M61.1 216.7h.45M71 216.9h.45M62 222.1h.45M62.2 209.5h.45M65.1 222.6h.45M66.8 207.3h.45M63.5 220.1h.45M64.6 229.2h.45M64.1 218.1h.45M64.5 211h.45M62.5 217.1h.45M60.6 223.7h.45M65.3 211.5h.45M59.5 227.3h.45M57.9 216.3h.45M62.3 219.6h.45M64.4 215h.45M55.8 226.6h.45M73.4 207.9h.45M51.9 213.4h.45M61.8 209.9h.45M55.5 214.5h.45M64.1 210.9h.45M56.6 233.7h.45M63.2 225.7h.45M58.5 218.8h.45M58 223h.45M64.4 215.6h.45M66.8 210.7h.45M59.6 226.9h.45M59 218.1h.45M53.1 218.5h.45M69 209.1h.45M67.9 218.7h.45M61.3 202h.45M66.3 214.4h.45M71.7 205.7h.45M58.4 221.6h.45M57.5 218.4h.45M59.8 216.6h.45M55.3 231.2h.45M55.2 218.1h.45M70.9 209.1h.45M54.2 231.3h.45M76.7 195.6h.45M67.7 202.2h.45M66 210.2h.45M63.4 207.9h.45M65 212h.45M60 211.6h.45M66.8 209.4h.45M72.2 205h.45M65.1 212.8h.45M70.1 213h.45M64.9 204.1h.45M66.9 222.7h.45M59.8 210.5h.45M53.5 223.9h.45M71.1 201.1h.45M59.7 221.7h.45M60.6 218.2h.45M61.2 216.1h.45M65.6 210.2h.45M62.9 216.6h.45M64.6 209.9h.45M57.9 214.8h.45M73.9 199.1h.45M55.5 223.5h.45M68 211.4h.45M70.6 210.2h.45M52.5 227.2h.45M61.6 212.5h.45M60.2 204.7h.45M58.7 211.7h.45M52.1 219.1h.45M63.3 209.9h.45M57.4 219h.45M69.1 214.6h.45M62.1 229.1h.45M65.9 219.3h.45M54.7 217h.45M60.2 215.5h.45M56.8 209.5h.45M66.5 208.6h.45M57.3 227.2h.45M65.6 210.3h.45M78.4 203.7h.45M57.6 216.1h.45M68.6 197.4h.45M60.2 221.2h.45M54.2 223.8h.45M59.7 224.2h.45M57 212.1h.45M60.5 232h.45M66.9 217.1h.45M65.2 210.7h.45M68.6 211.8h.45M70.2 200.3h.45M50.6 224.8h.45M61.7 216.4h.45M54.8 210.7h.45M74.9 207.8h.45M54.6 209.4h.45M61.2 212.4h.45M62.9 202.9h.45M55.7 217.2h.45M59.1 220.6h.45M56.4 217.1h.45M60.4 214.7h.45M65.4 216.7h.45M67.1 202.3h.45M59.7 220.5h.45M60.3 213.2h.45M61 202.1h.45M59 224.8h.45M67.3 202.3h.45M66.7 202.9h.45M54.3 228.1h.45M63.9 214.2h.45M67.3 213.9h.45M62.7 216.8h.45M69.2 205.1h.45M61.6 222.4h.45M64.2 191.3h.45M53.7 223.9h.45M59.9 219.7h.45M61 222.2h.45M62.2 209.5h.45M61.4 219.8h.45M63.1 218.3h.45M56.6 221.9h.45M60.1 223.3h.45M49.7 217.5h.45M53 212h.45M59.5 214.5h.45M61.8 211.7h.45M61.7 217.6h.45M68.8 195.2h.45M57.6 217.3h.45M57.8 216.4h.45M64.5 207.4h.45M60.3 228.8h.45M62.1 214.3h.45M70.5 206.9h.45M55.1 221.4h.45M67.3 212.9h.45M58.3 215.9h.45M59.2 208.7h.45M70.5 196.6h.45M61.6 221.4h.45M71.3 206.3h.45M60.8 206.6h.45M50.1 227.3h.45M60 210.8h.45M61.3 218.5h.45M71.4 209.5h.45M64.9 217.5h.45M57.6 213.8h.45M51.4 224h.45M56 220.8h.45M69.2 212.7h.45M58.6 214.1h.45M55.3 219.4h.45M65.7 209.6h.45M57.2 218.8h.45M50.9 224.4h.45M60.2 212h.45M53 224.9h.45M60.4 225.7h.45M64.3 216.6h.45M65.8 222.7h.45M61.7 219.8h.45M63.9 218.2h.45M67.6 202.9h.45M74.4 209.1h.45M57.3 205.7h.45M64.6 227.2h.45M59.2 215.6h.45M69.6 200.3h.45M92.5 213.3h.45M97.7 204.1h.45M88.4 200.7h.45M94.5 212.1h.45M93.9 212.5h.45M93.5 202.6h.45M94.6 214.1h.45M94.4 219.7h.45M91.7 196h.45M87.2 224.8h.45M90.8 213.8h.45M93.1 216.2h.45M102.9 209.1h.45M93.5 207.6h.45M93.9 214.9h.45M90 219.7h.45M96.5 214.7h.45M93.5 209.9h.45M88.6 215.3h.45M91.2 208h.45M97 205.8h.45M91.6 216.9h.45M99.2 207.6h.45M97.1 207.6h.45M94.4 214.7h.45M89.7 217.8h.45M98.6 212.4h.45M95.1 204h.45M98.5 212.4h.45M89.5 216.1h.45M90 206.6h.45M86.7 219.8h.45M100.2 208h.45M92.2 207.6h.45M91.6 214.9h.45M98.3 205.4h.45M96.1 200h.45M97.9 211.4h.45M90.6 221.2h.45M92.4 220.3h.45M95.5 222.5h.45M91.3 211.6h.45M94.8 210.4h.45M98.3 207.3h.45M95.5 220.6h.45M88.8 204.7h.45M91.5 207.7h.45M94.8 210.5h.45M94.1 208.6h.45M93 214.6h.45M96.2 206.7h.45M93.8 206.5h.45M94.1 202.2h.45M95.8 216.1h.45M93.7 207h.45M92.8 207.1h.45M88.2 221.6h.45M103.6 204.5h.45M90 214.9h.45M96.4 201.5h.45M87.9 214.4h.45M87.1 220.1h.45M92.2 211.9h.45M94 207.9h.45M93.4 209.5h.45M97.1 211.3h.45M93.9 208.1h.45M92.3 206.6h.45M92.4 223.4h.45M96.5 213.4h.45M97.6 218.5h.45M94.3 210.5h.45M90.4 212.8h.45M93.8 201.2h.45M88.7 223.6h.45M93.9 214.8h.45M94.5 208.6h.45M94.1 218.6h.45M92.4 214.7h.45M96.8 208.7h.45M94.6 206.8h.45M95.5 209.3h.45M97.3 206.9h.45M98.5 210h.45M91.9 205.4h.45M96 206.2h.45M97.8 220.3h.45M96 202.5h.45M94 206.8h.45M88.3 213.7h.45M100.1 208.7h.45M95 220h.45M91.2 209h.45M94 214.6h.45M90.3 212.6h.45M92.7 217.6h.45M89.5 207.4h.45M92.4 209.3h.45M96 207.6h.45M101.7 207.7h.45M95.2 218.3h.45M96.4 210.5h.45M91.5 209.6h.45M95.4 212.5h.45M94.8 215.4h.45M91.8 205.2h.45M97.9 208.8h.45M87.9 223.1h.45M91.9 205.2h.45M97.1 204.5h.45M90.5 218h.45M89.6 227.5h.45M92 228.9h.45M93.9 211.9h.45M92 209.9h.45M92.2 211.2h.45M96.6 203.5h.45M92.5 197.7h.45M97.8 211.5h.45M93.6 211.1h.45M96.2 213.9h.45M96.1 210.7h.45M93.3 211.1h.45M87.7 218h.45M89.9 204.6h.45M95.4 212.1h.45M94.7 222.8h.45M97.8 221h.45M91.6 224.7h.45M91.2 210.7h.45M96.5 210.4h.45M93.5 209.2h.45M99.1 196h.45M96.4 218.7h.45M93 215.1h.45M90.1 218.4h.45M102.7 206.5h.45M97.5 211.5h.45M93 208.3h.45M93.9 203.4h.45M88.7 221.8h.45M93.2 215.1h.45M94.1 214.7h.45M90 204.9h.45M94.7 218.1h.45M90.8 207.4h.45M90.2 215.4h.45M94.5 211.8h.45M91.6 213.5h.45M94.2 206.7h.45M95 207.3h.45M95.8 215.8h.45M91.3 215.1h.45M94.3 207h.45M92.2 200.5h.45M90.2 213.4h.45M97.4 207.8h.45M93.8 213.8h.45M95.5 214.6h.45M96.5 216.8h.45M91.2 213.8h.45M87.2 209.7h.45M93.3 215.3h.45M92.2 216.8h.45M97.8 206.5h.45M91.9 213h.45M94.9 212.6h.45M96.7 204.1h.45M95 219.3h.45M96.4 214.6h.45M92.7 214h.45M94.5 201.2h.45M91.9 211.1h.45M92.8 205.3h.45M93.2 209h.45M93.8 211.2h.45M93.4 218h.45M93.7 214.2h.45M92.2 192.1h.45M92 215.8h.45M93.1 207.4h.45M89.5 216.9h.45M92 212.9h.45M96.4 215.3h.45M99.9 211.3h.45M95.8 216.3h.45M91.7 211.6h.45M92.7 204.7h.45M95 206.6h.45M98.8 207.2h.45M92 211.9h.45M92.1 211.7h.45M92.9 202.1h.45M87.8 202.5h.45M97.5 214.8h.45M94.3 208.5h.45M93 213.4h.45M90.3 205.9h.45M90.3 219.4h.45M89.9 218.8h.45M90.5 229h.45M93.4 211.7h.45M96.8 217.6h.45M96.9 204.9h.45M95.6 222.7h.45M93.6 208.3h.45M89.9 217.8h.45M94.4 211.6h.45M89.1 221.6h.45M96.1 211.6h.45M98.4 205.8h.45M96.7 205.3h.45M97.7 210.1h.45M97.3 209.2h.45M93.9 219h.45M91 211.9h.45M90.7 216.8h.45M92.2 208.9h.45M92.2 219h.45M90.7 211h.45M93.1 207.9h.45M91.5 210.2h.45M95.2 201.6h.45M95.1 203.9h.45M92.1 226.2h.45M91 210.8h.45M92.2 217.8h.45M93.5 199.8h.45M89 212.2h.45M93.6 218.5h.45M91.7 215.6h.45M89.8 219.6h.45M93.9 207.1h.45M92.9 222.8h.45M92.1 203.2h.45M91.6 203.7h.45M93.2 213.8h.45M93 212.7h.45M97.1 210h.45M91.7 196.4h.45M94.7 207.2h.45M92.6 214.1h.45M96 201.5h.45M90.9 211.7h.45M92.4 218.9h.45M93.6 198h.45M98 201.3h.45M90.6 213.7h.45M89 227.3h.45M93.9 215h.45M90.9 225.7h.45M95.6 207h.45M98.2 200.9h.45M91.8 213.2h.45M94.6 205.3h.45M97 221.5h.45M90.7 213.6h.45M92.1 208.5h.45M96.3 212.6h.45M93.2 212.1h.45M89.5 219h.45M90.6 219.7h.45M92.6 208.4h.45M97.6 213.2h.45M92.2 207.9h.45M94 223.8h.45M95.6 209.1h.45M90.9 206.8h.45M93.1 213h.45M90.9 219.6h.45M91.4 206.6h.45M94.7 214.8h.45M91.9 217.6h.45M88.6 221.6h.45M98.4 224.8h.45M92.6 224.3h.45M92.8 220.1h.45M92.9 212.7h.45M96.2 200.4h.45M91.9 222.5h.45M85.2 213.1h.45M95.9 213.9h.45M93.2 220.5h.45M95.8 199.4h.45M91.2 209.3h.45M94.3 208.7h.45M92.2 222.3h.45M84.7 218.1h.45M95.8 215.7h.45M93.6 211.9h.45M94.4 213.2h.45M91.1 216.3h.45M91.3 211h.45M93.4 204h.45M95.3 211.2h.45M90.4 210.7h.45M88.8 220.4h.45M93.7 224.5h.45M91.5 215.9h.45M91.5 205.7h.45M93.1 214.1h.45M96.4 210h.45M96 218h.45M91.3 210.1h.45M89.9 222.2h.45M91.5 217h.45M96.3 210.1h.45M92 213.6h.45M92.3 203.1h.45M90.7 213.4h.45M92.9 222.9h.45M88.2 214.2h.45M89.6 218.6h.45M95.4 212.5h.45M97.9 209.5h.45M92.8 204.6h.45M91.7 212.1h.45M94.6 219.9h.45M93.3 206.7h.45M93 208.6h.45M92.6 208.8h.45M91.2 210.9h.45M92.3 210.3h.45M89.7 212h.45M94.7 215.8h.45M92.9 204h.45M90.8 203.6h.45M92 209.3h.45M88.2 215.3h.45M89.8 206.7h.45M91 216.6h.45M98.9 209.8h.45M93.1 208.9h.45M93.2 210.4h.45M101.1 205.2h.45M93.8 206.4h.45M94.9 208.3h.45M95.9 204.7h.45M99.3 213.5h.45M88.3 215.5h.45M93.1 204h.45M95.2 208.3h.45M96 208.2h.45M96 212.7h.45M94.5 212.6h.45M92.8 209.1h.45M94.4 216.2h.45M91 225.7h.45M99 204.7h.45M96.6 211.4h.45M94.8 206.5h.45M98.7 206.7h.45M93.9 206.9h.45M98.1 220.1h.45M90.3 208.3h.45M94.9 208.9h.45M93.3 204.5h.45M95 204.6h.45M94.3 227h.45M91.6 221.9h.45M95.1 207.4h.45M93.3 205.3h.45M93.4 216h.45M96.3 210h.45M90.4 210.7h.45M98 213.8h.45M94.8 198.3h.45M92 214.8h.45M90.1 219.8h.45M92.6 205.8h.45M92.1 210.8h.45M96.7 208.2h.45M88.8 210.5h.45M94 221.5h.45M89.5 220.6h.45M95.2 214.6h.45M92.1 205.7h.45M90.4 217.2h.45M93.5 218.4h.45M98.6 212.2h.45M92.2 223.7h.45M90.3 208.3h.45M92.8 209h.45M94.6 206.2h.45M97.7 203.2h.45M92.5 200.6h.45M89.4 214.8h.45M95.5 210.5h.45M95.5 215.7h.45M92 211.1h.45M93.3 224.4h.45M92.1 213.7h.45M94.3 219.4h.45M94 218.4h.45M90.9 209.6h.45M88.3 210.7h.45M99.8 213.7h.45M93.7 213.2h.45M94.9 203.2h.45M91.8 210.2h.45M94.6 206.1h.45M93.8 206.9h.45M90.4 207h.45M90.8 216.6h.45M96.9 215.6h.45M93.4 208h.45M89.6 207.8h.45M97.1 219.3h.45M94.4 210.1h.45M93.3 214.2h.45M93.3 214.2h.45M91.5 211.6h.45M91.9 218.2h.45M89.3 219.4h.45M93.7 208.3h.45M93.6 212.3h.45M92.7 214.1h.45M93.1 200.7h.45M95.5 211.6h.45M97.9 214.5h.45M43.3 224h.45M56.2 214.6h.45M84.8 222h.45M52.3 205.9h.45M47.2 216.2h.45M68.5 193.1h.45M67.5 219.9h.45M70.9 198h.45M56.2 191.8h.45M50.3 211.4h.45M63.4 224.9h.45M65.7 202.7h.45M49 228.2h.45M64.6 206.7h.45M53.1 192.8h.45M69.2 193.8h.45M68.7 215.7h.45M59.3 185h.45M67 226.3h.45M54.9 189.9h.45M73.7 209.1h.45M56.9 223.8h.45M60.3 213.3h.45M59.1 196.9h.45M65.2 195.4h.45M45.6 199.8h.45M75.1 222.1h.45M84.3 220.6h.45M78.8 210.5h.45M58.7 213.5h.45M53.7 217.1h.45M58.6 210.6h.45M54.6 205.3h.45M72.6 204.2h.45M56.4 211h.45M71.6 204.6h.45M51.5 186h.45M49.9 221.6h.45M62.1 213.6h.45M73.5 211h.45M67.7 200.3h.45M47.2 215.7h.45M62.1 214.9h.45M52.6 205.2h.45M82.8 195.7h.45M64 224.9h.45M60.7 208.8h.45M42.1 217.7h.45M58.7 224.6h.45M62.1 202.1h.45M67.3 203.9h.45M58 228.1h.45M72.6 208.6h.45M70.9 218.3h.45M68.7 207.8h.45M63.7 212.7h.45M68.5 212h.45M57.6 206.2h.45M67.5 193.9h.45M62.9 217.4h.45M64.7 203.3h.45M62.8 200.7h.45M72.6 202.1h.45M46.7 190.9h.45M65.9 210h.45M58.4 189.5h.45M61.5 195.9h.45M56.6 207.2h.45M55.5 211.4h.45M55.8 200.9h.45M60.8 226.8h.45M78.4 219.9h.45M55.8 207.3h.45M71.9 218h.45M47.1 206.5h.45M55.8 217.3h.45M69.2 200h.45M84 203.5h.45M86.9 204.9h.45M62.2 232.7h.45M57.8 200.9h.45M77.4 206.7h.45M67.7 190.4h.45M80.5 220.4h.45M66.5 216.7h.45M58.1 200.9h.45M47.6 212.2h.45M75.1 218.7h.45M72 216.7h.45M54 189.8h.45M69.3 209.4h.45M72.6 203.5h.45M54.4 213.2h.45M57.6 185.3h.45M57 195.5h.45M52.1 199.9h.45M72.3 238.6h.45M79.9 201.7h.45M74.2 206.3h.45M66.9 198.2h.45M62.3 184.8h.45M80.5 197h.45M68.7 199.4h.45M65.6 191.5h.45M59.3 219.4h.45M71.3 189.7h.45M65.8 214.1h.45M56.7 203h.45M60.6 212.6h.45M71.9 225.4h.45M66.2 233.8h.45M53.7 230.9h.45M60.4 217.4h.45M61.8 208.3h.45M54 212.4h.45M82.8 209.2h.45M62.8 207.3h.45M70 204.5h.45M63 210.1h.45M75.8 219.9h.45M52.7 198.8h.45M63.2 218.5h.45M72.5 204.5h.45M83.8 205.1h.45M76.8 226.2h.45M78.6 209.9h.45M68.6 186.9h.45M45.6 199.1h.45M70 221.4h.45M62 221.1h.45M68.7 227.5h.45M47.4 196.2h.45M53.6 193.3h.45M79.1 194.9h.45M54.9 201.9h.45M71.7 201.1h.45M70.2 214.5h.45M54 190.6h.45M79 197.7h.45M52.5 212.2h.45M63.5 194.8h.45M73.7 219.4h.45M65.7 197.1h.45M66.8 212.4h.45M54 207.6h.45M95.1 192.2h.45M46.3 215.3h.45M58.8 200.6h.45M69.1 205.5h.45M72.7 214.1h.45M74.4 208.8h.45M41.9 225.3h.45M46.3 221.1h.45M65.5 188.7h.45M63.7 218.9h.45M53 207.8h.45M55.8 193.8h.45M56.9 224.2h.45M69.7 206.8h.45M62.2 208.9h.45M65.8 209.6h.45M46.2 219.4h.45M69.9 191.1h.45M61.6 205.9h.45M57.2 214.3h.45M60.3 203.5h.45M53.6 203.4h.45M52.8 207.7h.45M76 220.6h.45M67.2 189h.45M73.1 219.6h.45M63.2 202.7h.45M73.7 192.7h.45M59.3 238h.45M63.2 225.4h.45M56.9 215.1h.45M64 187.7h.45M56.8 222.3h.45M74.6 199.1h.45M74.1 197.6h.45M65.4 206.8h.45M50.7 211.4h.45M54.9 195.8h.45M54.8 194.1h.45M71.8 208.1h.45M65.5 203.6h.45M63.6 203.6h.45M52.3 186.8h.45M63.7 220.7h.45M65.3 228.6h.45M49.6 203.6h.45M56.9 223.6h.45M79.7 200.1h.45M70.2 203.9h.45M53.2 205.6h.45M52.8 227.8h.45M68.8 223h.45M70.9 208.3h.45M39.6 208.4h.45M72.9 229.9h.45M52.9 217.6h.45M66.3 204.8h.45M60.2 214.2h.45M68.7 215.9h.45M59 189.4h.45M76 224.4h.45M57.4 206.6h.45M70.9 183.5h.45M67.9 239.4h.45M65.7 197.6h.45M83.1 207.2h.45M65.1 201.4h.45M64.8 183h.45M50.4 187.3h.45M71.9 205.8h.45M57.1 226.6h.45M55.7 202.4h.45M62.9 224.5h.45M76.1 227.8h.45M68.7 200.3h.45M58.1 187.2h.45M75.5 223.8h.45M63.9 195.1h.45M69.6 213.6h.45M64.5 191.4h.45M65.4 199.4h.45M70.3 215h.45M67.3 201.3h.45M78 217.4h.45M75.5 218.3h.45M69.5 212.3h.45M52.5 182.6h.45M53.8 215.3h.45M72 209.5h.45M63.9 231.7h.45M59.1 183.1h.45M47.8 202.7h.45M69.9 216.9h.45M60.8 218h.45M62.5 197.3h.45M59.3 217.2h.45M72.4 191.9h.45M53.3 208.7h.45M83.9 191.3h.45M50.7 212.6h.45M68 198.8h.45M62.7 213.5h.45M45.9 206.7h.45M68.9 219.4h.45M74.4 206.1h.45M48.9 225h.45M70.6 198.5h.45M73.2 221h.45M58.4 196.9h.45M54.8 205.9h.45M52.4 212.2h.45M81.5 191h.45M73.2 199.9h.45M68.3 205.3h.45M75.6 197.5h.45M70.2 196.6h.45M65.2 206.8h.45M73.7 185.8h.45M49.8 225.7h.45M66.8 229.8h.45M52.9 209.8h.45M68.9 230.7h.45M62.5 201h.45M70 205.6h.45M55.7 217.2h.45M44.4 193.4h.45M76.3 200.3h.45M59.8 212h.45M74 214.1h.45M53.6 199.4h.45M73.3 205.4h.45M56.8 218.7h.45M74.2 236.2h.45M52.5 197.5h.45M56.2 211.8h.45M58.3 222h.45M56.7 203.3h.45M68.6 209.7h.45M53.1 227.2h.45M68.6 200.4h.45M65 192.2h.45M51 203h.45M66.6 208.4h.45M55.4 188.4h.45M46.6 228.4h.45M66.6 196.3h.45M74.6 214.3h.45M59 198.8h.45M74.1 211.4h.45M79 211.9h.45M57.3 199h.45M56.1 210.4h.45M65.5 215.2h.45M67.4 192.9h.45M61 194.4h.45M67.7 189.3h.45M57.3 195.5h.45M57 203.6h.45M77.7 203.6h.45M49 203h.45M70.3 214.4h.45M65.3 233.7h.45M73.8 208.2h.45M74.8 189h.45M61.4 195.4h.45M64.7 228.7h.45M58.2 228.4h.45M53.1 226.2h.45M46.5 195.6h.45M72.7 205.8h.45M64.4 206.8h.45M64.8 204.6h.45M53.5 203.1h.45M64.1 194.9h.45M67.5 230.7h.45M47 199.7h.45M60.3 207.3h.45M63.9 197.3h.45M62.7 207.1h.45M62.2 227.7h.45M64.3 187.2h.45M47.8 214.9h.45M59.7 198.7h.45M49.8 202.9h.45M62.1 197.8h.45M59.6 218.9h.45M70.6 214.3h.45M61.3 188.8h.45M70.5 227.1h.45M75.4 222.6h.45M65.7 212h.45M62.9 223.8h.45M60.4 235.8h.45M70.6 202.7h.45M63 185.4h.45M55.9 203h.45M86.8 196.1h.45M71.9 208h.45M60.1 215.4h.45M43.6 219.7h.45M81.8 211h.45M62.4 209.2h.45M69.4 200.4h.45M64.2 213.8h.45M59.6 212.2h.45M66.2 216.6h.45M53.4 199.8h.45M58.9 223.1h.45M65.4 184.8h.45M50.6 233.1h.45M66.3 189.6h.45M54.2 208.9h.45M76.9 228.8h.45M59.5 203h.45M81.6 193.8h.45M78.2 211.6h.45M63.9 224.3h.45M67.7 195.8h.45M48.2 207.2h.45M68 225.4h.45M69 227.4h.45M70.7 209.9h.45M67.2 212.4h.45M56.9 205.5h.45M64.2 200.9h.45M48.8 187.6h.45M67.9 214h.45M64.1 191.3h.45M71.3 201.7h.45M42.9 228h.45M48.5 237.3h.45M68.2 201.1h.45M40.2 197.5h.45M77.4 225.3h.45M65.5 184h.45M59.3 203.2h.45M67.5 205.3h.45M66.4 185.1h.45M56.8 226.4h.45M48.9 219.4h.45M85.4 215.8h.45M49.5 223.8h.45M45 211.5h.45M59 223.7h.45M74.4 209.6h.45M80.4 220.2h.45M58.4 193.8h.45M86.9 201.5h.45M67 205.4h.45M58.4 185.4h.45M61.6 205.5h.45M72.5 200.1h.45M47.8 192.5h.45M62.6 210.4h.45M70 201.9h.45M68.2 208.9h.45M79.4 206.3h.45M64.4 214.6h.45M74.8 194.6h.45M58.4 203.3h.45M42.3 224.6h.45M73.4 207.3h.45M95.7 224.1h.45M82.6 228.2h.45M71.8 187.9h.45M77.9 212.7h.45M51.4 207.7h.45M70.3 220.3h.45M64.7 200h.45M70.4 196.7h.45M62.3 217.3h.45M49 212.1h.45M44 194.5h.45M51 205.8h.45M69.9 206.3h.45M71.9 208.3h.45M61 213.6h.45M60.7 208.8h.45M73.1 199.3h.45M74.2 192.1h.45M60.9 183.6h.45M57.8 228.4h.45M66.5 224.1h.45M48.7 193.4h.45M67.5 218.2h.45M71.1 184.4h.45M68 206h.45M64.2 213.4h.45M60.3 184.2h.45M52.6 187.5h.45M50.2 205.2h.45M75.7 197.4h.45M55.6 191.5h.45M46.2 207.9h.45M58.3 203.8h.45M53.7 213.6h.45M51.3 214.4h.45M56.6 217.6h.45M54.4 213h.45M67.3 205.9h.45M78.9 209.4h.45M54.4 216.4h.45M55 199.7h.45M63.1 209.5h.45M79.6 183.4h.45M60.5 222.3h.45M61.4 211.3h.45M77.9 190.4h.45M63.4 217.7h.45M57.3 183.3h.45M53.3 209.6h.45M64.8 231.9h.45M75.9 186.1h.45M73.1 219.4h.45M78.8 204.9h.45M57.6 209h.45M78.1 215.4h.45M79.5 217.6h.45M57.3 193.3h.45M81 186.5h.45M59.6 202.7h.45M54.1 199.3h.45M63.1 239.2h.45M62.4 199.9h.45M64.2 219.7h.45M55.1 201.5h.45M46 216.5h.45M69.6 227.3h.45M51.3 236.4h.45M71.5 203.3h.45M59.2 202.8h.45M51.2 217.4h.45M57.1 197.2h.45M68 208.5h.45M57.3 203.8h.45M58.2 225.2h.45M72.8 197.2h.45M62.6 225.6h.45M60.2 231.1h.45M67.3 216.1h.45M42.8 218.5h.45M66.3 214.9h.45M67.7 214.1h.45M58 219.2h.45M63.6 192.8h.45M53.1 209.2h.45M42.9 221.2h.45M48.1 203.6h.45M57.2 214.6h.45M76.7 228.9h.45M53.2 223.7h.45M51.1 211.2h.45M64.7 215.4h.45M55.2 225.1h.45M62.3 206.7h.45M60.4 192.5h.45M70 211.6h.45M67.4 232.3h.45M54.5 203.1h.45M63.1 218.6h.45M61.3 219.7h.45M67.5 183.1h.45M60.2 201.3h.45M68.8 209.3h.45M62.4 224.1h.45M68.8 190.3h.45M56.3 211.5h.45M79.6 204.3h.45M61.3 210.6h.45M70.6 205.8h.45M65.9 201.3h.45M57.6 196.2h.45M69.4 199.4h.45M68.4 212.5h.45M53.6 190.4h.45M61.4 217.9h.45M87.7 228h.45M76.3 212.2h.45M59.2 214.3h.45M41.7 219.7h.45M63.1 215.4h.45M52.9 192.1h.45M56.7 206.4h.45M66.4 202.2h.45M66.4 216.3h.45M51.7 205.6h.45M47.8 199.5h.45M71.8 197.3h.45M81.2 213.9h.45M71.7 208.4h.45M71.5 221.9h.45M64 199.8h.45M57.6 233.3h.45M61.2 200.8h.45M56.1 184.1h.45M58.1 211.4h.45M58.3 196.7h.45M67 213.3h.45M58.7 211.2h.45M53.5 218.7h.45M53.4 202.4h.45M64.3 201.3h.45M51.8 235.6h.45M77.8 183.3h.45M64.2 189.7h.45M66 189.3h.45M68.7 214.2h.45M79.7 223.4h.45M58.5 219.9h.45M58.5 205.5h.45M58.1 183h.45M60.7 214.2h.45M64.1 185.5h.45M56.7 216.3h.45M73.7 228.7h.45M45.3 213.3h.45M58.3 217.4h.45M46.5 205.1h.45M69.9 198.2h.45M59.5 193.7h.45M73.9 188.9h.45M54.1 202.5h.45M59.9 235.8h.45M65.7 195.7h.45M68.7 211.7h.45M65.8 206.1h.45M67.5 191h.45M51.3 201.2h.45M52.2 216.6h.45M82 223.9h.45M67.4 211.6h.45M56.3 189.3h.45M68.4 186.8h.45M66 205.1h.45M70.3 207.7h.45M64 199.1h.45M46.2 202.3h.45M69.8 221.3h.45M76.5 193.4h.45M53.8 216.6h.45M66.1 186.3h.45M57.6 228.4h.45M45.2 209.1h.45M49.5 228.8h.45M58.6 193h.45M46.3 197.3h.45M84.3 208.4h.45M60.4 191.2h.45M66.3 200.6h.45M54.7 225.9h.45M67.3 194.9h.45M77.5 206.3h.45M67.9 209h.45M74.5 215.4h.45M59.6 216.8h.45M59.2 208.8h.45M79 192.5h.45M52.9 201.5h.45M58.1 224.8h.45M47.4 238.3h.45M78.5 200.9h.45M64.8 202.1h.45M69.6 216h.45M70.4 217.4h.45M81.9 204.7h.45M69.8 204.5h.45M63.4 210h.45M62.5 211.7h.45M54.7 204.9h.45M57.1 191.1h.45M56.1 200.2h.45M61.5 185.7h.45M60.5 191.6h.45M55 209.6h.45M73.8 210.9h.45M58.2 201h.45M76.1 184.8h.45M74.1 186.5h.45M56.8 207.6h.45M60.8 229.7h.45M67.8 206.3h.45M72.3 207.5h.45M55.1 222.3h.45M77.7 224.5h.45M51.5 233.1h.45M58.9 217.5h.45M74.7 239.5h.45M47.2 193.1h.45M74.5 213.8h.45M67.3 204.5h.45M38.5 199.4h.45M63 210.2h.45M70.4 203.4h.45M54.2 202.1h.45M42.4 191.7h.45M82.3 197.6h.45M62.2 232.9h.45M73.3 208.7h.45M70.2 203.3h.45M54.1 220.7h.45M64.3 228.9h.45M60.4 201.9h.45M66.4 204.4h.45M59.9 194.8h.45M65.5 211.4h.45M80.9 206.6h.45M45.8 213.4h.45M85.4 201h.45M55.1 204.7h.45M61.2 186.3h.45M68.7 195h.45M44.9 197.2h.45M69.2 233.3h.45M75.3 209.7h.45M58 203.4h.45M72.5 199.9h.45M67.1 220.2h.45M54.1 198.9h.45M67.4 207.1h.45M61.8 199.8h.45M62.4 232.4h.45M76.3 184.9h.45M63.5 208.3h.45M63.4 188.1h.45M61.7 209h.45M56.3 211.3h.45M39.1 186.4h.45M64 212.4h.45M61.4 200.7h.45M64.8 221.8h.45M71.8 205.9h.45M58.4 221.6h.45M68.3 219.1h.45M60.3 195.2h.45M64.8 198.4h.45M74.3 218.7h.45M41.6 216.1h.45M76.1 221.2h.45M58.4 195.2h.45M72.5 220.9h.45M63.6 191.2h.45M48 210.7h.45M54.9 197.7h.45M67.4 221.4h.45M42.7 197.8h.45M75.8 206.4h.45M59.6 215.8h.45M51.8 190.2h.45M63.2 228.4h.45M73 206.9h.45M72.9 201.4h.45M51.4 184h.45M65.7 219.3h.45M66.7 206.5h.45M59.1 221.9h.45M89.6 187.5h.45M100.8 196h.45M93.1 203h.45M98.3 205.7h.45M99.6 205.3h.45M86.4 197.5h.45M95.1 194.1h.45M97.3 200.4h.45M82.7 193.6h.45M88.9 222.1h.45M96.1 203.2h.45M82.9 223.5h.45M87.8 203h.45M86.7 217.4h.45M91.4 198.1h.45M91.5 192.2h.45M81.7 201.3h.45M67.4 215.7h.45M88.9 186h.45M91.4 205.3h.45M95.8 188.6h.45M85.3 196h.45M88.1 227.6h.45M88.4 202.6h.45M86 211.6h.45M102 191.4h.45M98.3 203.3h.45M99.8 214.4h.45M95.1 184.9h.45M91.1 197.6h.45M93.5 203.4h.45M98.2 185.7h.45M84.2 202.2h.45M92.5 198.6h.45M89.8 203.6h.45M98.2 201.8h.45M91.9 183.4h.45M69.4 187.2h.45M93.2 202h.45M90 195.1h.45M86.7 212h.45M92.8 202.7h.45M86.2 205.3h.45M99.4 202.8h.45M87.1 190.3h.45M90.8 193.1h.45M78.7 212.4h.45M84.3 222.9h.45M89.2 188.7h.45M81.3 210.8h.45M93.2 205.3h.45M88.5 208.2h.45M102.1 208.3h.45M88.7 187.9h.45M93.5 219.9h.45M95.1 189.4h.45M91.5 217h.45M85 208.3h.45M99.5 220.7h.45M77.5 184.1h.45M92.9 210.6h.45M87.2 202.8h.45M86.8 216h.45M72.6 205.8h.45M79.9 195.7h.45M77.9 193.2h.45M89.8 203.3h.45M104.1 200.6h.45M92.7 206.8h.45M92 218.9h.45M91.1 204.6h.45M89.1 203h.45M89.6 213.8h.45M90.2 203.7h.45M89.6 211.2h.45M86.3 213.2h.45M85.5 210.5h.45M89.3 190.2h.45M95.8 203.1h.45M97.2 195.9h.45M94.1 222.6h.45M93.2 199.5h.45M79.7 202.9h.45M95.2 209.5h.45M81.2 191.9h.45M82.3 191.9h.45M87.8 205.9h.45M101.5 185.1h.45M102.2 211.7h.45M93.5 211.9h.45M94.9 223.8h.45M96.4 184.1h.45M76.2 220.5h.45M89.3 217.3h.45M87.3 195.9h.45M87.3 206.4h.45M91.5 196.3h.45M94.2 209.7h.45M82.8 190.9h.45M74.5 199.7h.45M90.1 195.5h.45M85.2 201.6h.45M90.2 209.2h.45M96.6 207.8h.45M98.8 192.5h.45M94.8 207.1h.45M81.8 195.6h.45M93.5 203.8h.45M80.1 197h.45M102.1 212.2h.45M90.6 217.6h.45M82.8 201.1h.45M97.6 199.3h.45M81.2 209.4h.45M91.2 189.4h.45M87.6 187.7h.45M90.4 195.3h.45M82.2 198.1h.45M91.6 222.1h.45M92.3 220h.45M81.6 203.8h.45M86.5 186h.45M91.9 194.8h.45M85.4 191.8h.45M98.1 198.6h.45M88.9 205h.45M80.3 205.5h.45M88.6 207.8h.45M87 203.4h.45M94.1 213.5h.45M84.6 213.6h.45M82.2 200.9h.45M91 204.6h.45M70.3 192.4h.45M88.5 213h.45M84.4 219.4h.45M75.7 203.8h.45M94.3 203.2h.45M92.1 213.2h.45M83.6 209.4h.45M98.4 200.5h.45M71.7 190.1h.45M83.2 191.5h.45M93.4 194.3h.45M79.7 199.9h.45M102.1 210.4h.45M81.9 214.3h.45M86.2 227.1h.45M85.6 209.5h.45M94.5 198.2h.45M88.8 215.6h.45M93.9 202.3h.45M93.5 222h.45M97.4 208.2h.45M92.6 186h.45M91.1 197.7h.45M95.8 196.4h.45M93.5 191.6h.45M97.1 195.1h.45M89.8 209.3h.45M87.4 203.1h.45M98.4 222.2h.45M75.7 193.2h.45M95.3 213.2h.45M86.3 204h.45M88.5 227.7h.45M88.4 190.1h.45M77.7 189.1h.45M100.3 198.8h.45M93 210h.45M96.2 213h.45M82.3 196.9h.45M85.7 204.1h.45M88 189.6h.45M84.5 222.4h.45M93 202.6h.45M83.3 210.7h.45M89.5 221.1h.45M93.6 199.6h.45M69.1 201.9h.45M96.7 195.3h.45M97 210.4h.45M76 200.9h.45M92.5 211.2h.45M91.2 202.8h.45M87.3 199.8h.45M90 191.5h.45M95.1 199.5h.45M94.1 197.5h.45M93.2 204.4h.45M97 208h.45M97.4 201.2h.45M89.6 200.2h.45M80.1 201.6h.45M98.6 211.4h.45M83.3 206.3h.45M95.9 188.2h.45M92.8 206.6h.45M95.9 205.8h.45M100.1 216.7h.45M90.7 190.6h.45M100.8 202.6h.45M94.1 208.2h.45M97.5 214h.45M78.8 187.7h.45M91.1 203.1h.45M96.1 201.5h.45M88.6 225h.45M100.9 215.6h.45M98.2 194.5h.45M89.3 202.2h.45M81.4 193.6h.45M91.3 189.8h.45M94.3 208.1h.45M88.1 199.3h.45M94.8 208.2h.45M92.9 189.7h.45M77.2 225.2h.45M84.8 199h.45M75.6 194.3h.45M84.2 211.6h.45M69.1 187.8h.45M86.7 197.7h.45M83.9 198.2h.45M77.5 205.9h.45M99.4 204.7h.45M85.8 216.7h.45M93.9 191.9h.45M85.5 196.4h.45M89.6 216.1h.45M84.4 201.4h.45M90.9 190.1h.45M86.2 209.6h.45M98.9 182.7h.45M95.6 199.9h.45M100.2 209.7h.45M86.9 194h.45M78.7 209h.45M94.1 211.9h.45M92.8 186.8h.45M86.8 200.4h.45M91.3 211.3h.45M101.2 206.1h.45M73.7 192h.45M73.1 194.7h.45M80.5 205.6h.45M88.3 215.1h.45M98.5 198.1h.45M97.5 203.1h.45M93.6 217.6h.45M80.9 202.3h.45M102.2 194.8h.45M91.7 204.4h.45M86.7 188.9h.45M84.6 192.4h.45M98.5 205.7h.45M95.6 190.2h.45M94 204.6h.45M98.3 195.2h.45M96.4 217.8h.45" stroke="#000" stroke-width="0.45" fill="none" opacity="0.7"/>
<path d="M37.6 181.9H105V242.7" stroke="#333" stroke-width="0.7" fill="none"/>
<path d="M37.7 181.6V242.6H105.3" stroke="#000" stroke-width="1.3" fill="none"/>
<rect x="53.5" y="185" width="23.8" height="15" fill="none" stroke="#000" stroke-width="1.45"/>
<rect x="84.2" y="200.5" width="17.8" height="23.3" fill="none" stroke="#000" stroke-width="1.45"/>
<text x="33.8" y="185.5" font-size="3.6" text-anchor="end" transform="rotate(-20 31 183.9)">10<tspan dy="-1.6" font-size="2.6">4</tspan></text>
<path d="M37.6 183.9h-1.6" stroke="#000" stroke-width="0.5"/>
<text x="33.8" y="199.1" font-size="3.6" text-anchor="end" transform="rotate(-20 31 197.5)">10<tspan dy="-1.6" font-size="2.6">3</tspan></text>
<path d="M37.6 197.5h-1.6" stroke="#000" stroke-width="0.5"/>
<text x="33.8" y="216.1" font-size="3.6" text-anchor="end" transform="rotate(-20 31 214.5)">10<tspan dy="-1.6" font-size="2.6">2</tspan></text>
<path d="M37.6 214.5h-1.6" stroke="#000" stroke-width="0.5"/>
<text x="33.8" y="231.1" font-size="3.6" text-anchor="end" transform="rotate(-20 31 229.5)">10<tspan dy="-1.6" font-size="2.6">1</tspan></text>
<path d="M37.6 229.5h-1.6" stroke="#000" stroke-width="0.5"/>
<text x="53.4" y="250.2" font-size="3.6" text-anchor="middle" transform="rotate(-20 53.4 249)">10<tspan dy="-1.6" font-size="2.6">1</tspan></text>
<path d="M53.4 242.7v2" stroke="#000" stroke-width="0.6"/>
<text x="70" y="250.2" font-size="3.6" text-anchor="middle" transform="rotate(-20 70 249)">10<tspan dy="-1.6" font-size="2.6">2</tspan></text>
<path d="M70 242.7v2" stroke="#000" stroke-width="0.6"/>
<text x="86.6" y="250.2" font-size="3.6" text-anchor="middle" transform="rotate(-20 86.6 249)">10<tspan dy="-1.6" font-size="2.6">3</tspan></text>
<path d="M86.6 242.7v2" stroke="#000" stroke-width="0.6"/>
<text x="103.1" y="250.2" font-size="3.6" text-anchor="middle" transform="rotate(-20 103.1 249)">10<tspan dy="-1.6" font-size="2.6">4</tspan></text>
<path d="M103.1 242.7v2" stroke="#000" stroke-width="0.6"/>
<text x="23.6" y="231.9" font-size="7.15" text-anchor="middle" transform="rotate(-90 23.6 231.9)">CD4</text>
<path d="M22 220.6V195" stroke="#000" stroke-width="1.3"/><path d="M22 186.6L19.8 196.2H24.2Z"/>
<text x="41.5" y="260.5" font-size="7.3">CD8</text>
<path d="M58.9 258H90" stroke="#000" stroke-width="1.3"/><path d="M100 258L89.2 256.1V259.9Z"/>
<ellipse cx="42" cy="389" rx="11" ry="10" transform="rotate(-30 42 389)" fill="#000" opacity="0.14" filter="url(#b3)"/>
<ellipse cx="46" cy="425" rx="14" ry="13" transform="rotate(0 46 425)" fill="#000" opacity="0.16" filter="url(#b3)"/>
<ellipse cx="41.2" cy="387.3" rx="7.6" ry="5.2" transform="rotate(-32 41.2 387.3)" fill="#000" opacity="0.9" filter="url(#b1)"/>
<ellipse cx="45.8" cy="424.8" rx="8.6" ry="8.2" transform="rotate(0 45.8 424.8)" fill="#000" opacity="0.92" filter="url(#b1)"/>
<path d="M50 376.8h.45M31 385.8h.45M48.5 385.8h.45M41.3 382.6h.45M52.7 388.6h.45M40.8 386.9h.45M49.7 384.7h.45M48.5 380.6h.45M42.5 384.6h.45M37.2 388.2h.45M40.8 390.2h.45M39.6 388.6h.45M33.5 385.6h.45M47.6 378.1h.45M54.5 384h.45M26 393.4h.45M38.8 388.8h.45M38.8 385.6h.45M48.6 382h.45M45.5 380.9h.45M40.3 394.9h.45M37 384.1h.45M42.8 391.9h.45M38.6 385.1h.45M47.5 388.6h.45M39.3 386.8h.45M45.6 398.9h.45M44.3 394.6h.45M41.4 389.3h.45M29.4 395.6h.45M40.9 385.8h.45M35.6 383.5h.45M32.7 393.4h.45M37.2 389.3h.45M39 385.9h.45M41.3 397h.45M33.4 389.4h.45M36.8 383.9h.45M37.6 394.1h.45M47.2 384.2h.45M62.8 378.1h.45M46.8 379.4h.45M51.9 389.5h.45M43.3 395.5h.45M33.8 385.9h.45M39.1 384.3h.45M42.5 380.6h.45M37.2 379.4h.45M43.6 391.3h.45M40.5 389.4h.45M45.3 378.9h.45M33.8 392.3h.45M42.4 385.1h.45M38.4 395.5h.45M33.7 390.6h.45M42.8 390.1h.45M36.7 385.7h.45M51.4 376.4h.45M45.8 383.6h.45M38.3 388.8h.45M40.5 389.3h.45M25.9 396.7h.45M39.4 383.2h.45M44.6 397.6h.45M54 382.7h.45M42 385.2h.45M48.6 380.3h.45M38 392.9h.45M33.6 387.8h.45M46.2 375.6h.45M41.2 387.9h.45M39.4 380.7h.45M39.2 386.8h.45M55.3 383.8h.45M38.8 393.4h.45M45 384.3h.45M39.2 387.1h.45M30.5 390.6h.45M50.4 389.2h.45M51.6 378.8h.45M39.3 375.7h.45M36.7 383.4h.45M42.3 377.8h.45M32.4 386.9h.45M45.7 388.9h.45M40.1 397.5h.45M40.3 383.4h.45M43.4 385.8h.45M47.2 385.4h.45M57.3 383.4h.45M39.4 392.6h.45M43.5 380.5h.45M34.9 386.9h.45M28 398.9h.45M43 392.7h.45M38.1 389.6h.45M48 388.1h.45M40.8 382h.45M56.7 382.2h.45M53.4 388.2h.45M50.8 383.5h.45M45.7 387.8h.45M34.2 395.9h.45M36.5 392.5h.45M36.9 393.7h.45M44.3 398.5h.45M43.7 388.4h.45M35.2 389.5h.45M40.3 386.3h.45M36.6 385.5h.45M45 382.9h.45M37.3 391.6h.45M36 389.6h.45M36.1 385.6h.45M38 384.9h.45M34.6 393.2h.45M36.1 382.7h.45M39.4 389.4h.45M44.8 387h.45M44.3 388.5h.45M36.5 386h.45M44.1 383.3h.45M43 389.6h.45M49.9 388.3h.45M36.3 388.4h.45M41.3 379.6h.45M35.2 394.2h.45M35.5 386h.45M47.4 386.2h.45M46.1 382.5h.45M38.8 387h.45M38.3 378.3h.45M38.9 392.5h.45M36.5 389.9h.45M43.3 388.7h.45M35.8 384.7h.45M54.7 375.1h.45M47.5 374.1h.45M41.6 386h.45M57.6 387.8h.45M44.8 379.7h.45M34.7 387.3h.45M38.9 390.1h.45M36 389.2h.45M53.6 387.1h.45M27.9 390.5h.45M42.2 393.5h.45M43.9 395.7h.45M47 391.2h.45M35.5 389.2h.45M48.8 385.5h.45M29.5 393.1h.45M43.9 388.9h.45M41.7 396.2h.45M45.7 392.1h.45M44 386h.45M36.7 383.9h.45M48.3 386.8h.45M46.1 382.2h.45M34.4 389.5h.45M39.5 388.3h.45M45.1 380h.45M40.1 391.6h.45M52 392.2h.45M42.5 382h.45M33.3 388.1h.45M42.4 387.9h.45M39.5 385.1h.45M40.1 387.6h.45M45.1 385.3h.45M33.8 385.8h.45M50.1 381.3h.45M40.3 387.7h.45M47.4 381.8h.45M41.9 385.6h.45M42.5 381.2h.45M45 390.3h.45M49.9 385.1h.45M46.9 392h.45M48.9 389.8h.45M31.6 387.5h.45M45.5 383.2h.45M36.5 385.2h.45M47.5 377.1h.45M38.7 381.5h.45M45.6 396.3h.45M54.8 376.2h.45M39.2 397.1h.45M32 383.6h.45M40.9 381.8h.45M35.4 396.8h.45M34.5 385.9h.45M41.9 385.8h.45M48.3 383.3h.45M53.6 385.5h.45M54.7 384.7h.45M43.1 388.9h.45M37.8 381.2h.45M36.1 394.3h.45M25.3 392.9h.45M33.6 391.7h.45M35.8 392h.45M39.1 386.1h.45M31.1 381.9h.45M38.8 382h.45M40.5 389.7h.45M49.3 385.9h.45M46.9 376.3h.45M49.1 390.5h.45M41.1 381.5h.45M42.6 383.7h.45M40.1 393.6h.45M37.7 383.6h.45M42 397.1h.45M37.9 392.9h.45M45.2 390.9h.45M37.5 384.6h.45M35.1 385.7h.45M57.4 378.2h.45M42.5 393.1h.45M44.9 384h.45M45.8 385.9h.45M52 389.2h.45M39.4 388.2h.45M43.2 392.4h.45M45.5 388.7h.45M45.3 381.4h.45M45.4 391.9h.45M48.8 386.8h.45M38.9 386.8h.45M35.7 389.3h.45M37.6 382h.45M46.5 379.9h.45M44.3 388.5h.45M33.9 382.4h.45M48.1 385.1h.45M42.6 392.4h.45M44.5 380.2h.45M36.8 380.8h.45M43.2 393.5h.45M38.4 393.4h.45M31.7 391.7h.45M51.1 390.1h.45M45.9 388.3h.45M45.9 371.5h.45M35.7 400.6h.45M57.5 380.2h.45M42.4 387.9h.45M40.1 384.7h.45M41 386.7h.45M47 387.2h.45M48.6 385.7h.45M38.9 396h.45M25.8 397.5h.45M42.1 383.9h.45M50 376.1h.45M33.3 389.6h.45M45.8 388.6h.45M43.6 389.3h.45M35.8 387.5h.45M39 381.6h.45M41.6 385h.45M43.1 380.8h.45M36.9 387h.45M36.9 384.7h.45M36.7 383h.45M46.2 387.7h.45M40.9 386.5h.45M33.9 386.8h.45M38 384.5h.45M34.8 392.1h.45M40.3 385.7h.45M36.5 390h.45M36.3 388.1h.45M44.2 389.2h.45M44.5 382.1h.45M45.8 378.3h.45M43.5 392.7h.45M55.8 378.8h.45M38.4 387.1h.45M33.9 391.1h.45M37.1 385.9h.45M46.7 379.8h.45M53.4 384.1h.45M43.8 382.6h.45M33.7 381.5h.45M42.4 385.1h.45M42.1 383.2h.45M40.8 379.7h.45M29.6 397h.45M40.4 371.3h.45M48.2 381.1h.45M36.8 382h.45M37.2 393.5h.45M37 389.7h.45M45.2 395.2h.45M43.6 378.9h.45M35.9 384.6h.45M31.6 389.7h.45M48 383.3h.45M45.1 384.2h.45M39.1 389h.45M45.5 394.7h.45M52.9 381.9h.45M40.3 377.4h.45M46.3 396.6h.45M38.6 393.2h.45M47.7 381.2h.45M39 386.3h.45M46.1 384.3h.45M53.1 386.1h.45M47.5 397h.45M38.1 386h.45M37.9 384.7h.45M38.7 388.4h.45M42.9 377.9h.45M31.3 389.4h.45M40.7 390h.45M40.3 395.7h.45M37.8 388.3h.45M44.5 391.4h.45M43.2 386.2h.45M38.6 389.8h.45M42.9 384.3h.45M36.9 380.3h.45M41 393.6h.45M49.6 381.7h.45M33 402h.45M46.4 397.5h.45M41.3 392.5h.45M41 394.6h.45M45.7 378.9h.45M55.8 393.2h.45M37.2 383.4h.45M42.1 384.6h.45M30.1 388.7h.45M39.2 380.5h.45M48.8 384.9h.45M43.6 393.1h.45M37.6 393.2h.45M32.6 390.9h.45M43.9 382.8h.45M42.2 390h.45M53.4 386.5h.45M43.5 384.5h.45M36.9 399h.45M47.3 372.1h.45M46.4 383.8h.45M46.3 385.8h.45M40.2 387.9h.45M43.9 391.7h.45M38.5 386.1h.45M46.7 387.2h.45M44.6 386.6h.45M52.7 386h.45M42.1 385.6h.45M40.8 377.7h.45M36.6 386.4h.45M41.5 385.1h.45M57.6 380.9h.45M49.1 394.2h.45M40.6 386h.45M50.6 385.8h.45M49.7 388.4h.45M37.7 386h.45M37.4 390.2h.45M44.8 379.5h.45M35.1 384.1h.45M55 382.9h.45M39.8 381.7h.45M33.8 388.5h.45M38.6 382.2h.45M42.9 392.6h.45M41.7 387.5h.45M28.4 393.8h.45M38.9 385.1h.45M33.1 392h.45M34.1 388.8h.45M31.8 392.7h.45M44.7 380.6h.45M39.7 380.2h.45M46 387.1h.45M41.2 391.9h.45M36.3 390.6h.45M51.2 380.9h.45M37.5 395.7h.45M43.8 384.1h.45M26.2 386.7h.45M36 398.4h.45M41.1 382.9h.45M51.6 388.5h.45M37.6 392.1h.45M32.6 394.6h.45M48.7 375.1h.45M40.2 384.5h.45M41 387.8h.45M45.1 389.5h.45M46.9 389.3h.45M49.9 387.6h.45M38.4 391.2h.45M37.2 385.3h.45M53.5 381.1h.45M36.6 379h.45M41.8 391h.45M38.9 385.8h.45M49.3 380.6h.45M39.2 388h.45M42.5 392h.45M44.5 384.8h.45M38.7 387.6h.45M50.5 379.8h.45M41.4 378.8h.45M44.9 388.6h.45M49.6 383.7h.45M45.5 386.3h.45M52.5 391.1h.45M40.6 383.3h.45M44.6 384.6h.45M46.9 387.8h.45M41.2 384.9h.45M40.2 381.3h.45M40.9 382.8h.45M44.3 386h.45M37.2 383.4h.45M40 384.4h.45M42.2 390.3h.45M43.9 378.8h.45M50.1 388.9h.45M48.6 384.1h.45M45 394.1h.45M35.9 382.5h.45M42.6 387.9h.45M32.4 386.3h.45M53.2 380.4h.45M44.5 382.1h.45M32.1 392h.45M47.6 379.7h.45M30.5 393h.45M39.8 388.2h.45M34.5 389.8h.45M40.3 392.5h.45M44.3 389.9h.45M36 379.2h.45M31.2 396.3h.45M48.6 387.3h.45M36.7 380.6h.45M39.5 390.5h.45M48.6 380.8h.45M36.2 386.3h.45M49.4 386.7h.45M33.6 398.4h.45M32.5 384.9h.45M30.3 390.2h.45M61 388.4h.45M32.5 389.1h.45M43.3 388.2h.45M34.8 382.9h.45M37.3 386.1h.45M31.2 394.3h.45M28.7 385.9h.45M52.5 385.2h.45M50.1 382.3h.45M38.8 388.3h.45M35.1 395h.45M42.2 385h.45M30.2 393.6h.45M54.3 386.7h.45M45.6 382.6h.45M43.5 388.8h.45M45 390.4h.45M32 380.8h.45M25 392.5h.45M34.9 394.7h.45M47.7 383.2h.45M44.7 385.5h.45M41.3 384.7h.45M41.8 393.2h.45M39.7 388h.45M50.7 386.5h.45M39.7 389.6h.45M35.8 391.4h.45M43.2 386h.45M43.2 388h.45M24.6 393.3h.45M40.6 385h.45M35.2 389.8h.45M50.2 380.4h.45M36.4 387.7h.45M35.6 393.4h.45M37.8 394.2h.45M48.1 386h.45M47.2 383h.45M30.9 393.3h.45M41.4 378.9h.45M36.8 395.8h.45M47.1 390.7h.45M45.4 385h.45M45.9 388.8h.45M40.7 386.5h.45M42.5 384.8h.45M53.7 375.4h.45M29.4 387.8h.45M46.5 381.8h.45M41.8 385.8h.45M39.5 380.6h.45M40.5 384.7h.45M49.2 385.6h.45M31.7 388.1h.45M47.6 389.6h.45M45.5 383.8h.45M42.3 374.1h.45M35.9 385.4h.45M36.7 393.1h.45M43.7 387.2h.45M42.1 390h.45M44.6 382.1h.45M44.7 380.2h.45M48.6 375.7h.45M37.1 384.1h.45M44.7 392h.45M41.2 396.7h.45M50.6 383.4h.45M40.1 392.8h.45M46.9 383.5h.45M54.4 375.4h.45M33 391.2h.45M48.9 391.5h.45M31.4 394.2h.45M47.2 379.9h.45M35.8 384.2h.45M47.9 387.5h.45M45.4 385.9h.45M46.9 383h.45M47.6 387.6h.45M50.3 384.3h.45M43.6 389.5h.45M28 386.1h.45M51.3 381.7h.45M33.8 388.8h.45M40.7 388h.45M39.2 393.8h.45M38 404.2h.45M38.9 397.5h.45M41.3 378.2h.45M34.3 391.9h.45M42 384.5h.45M41.8 387.7h.45M34.7 391.6h.45M53.3 376.2h.45M37 393.5h.45M51.9 386.2h.45M37.4 389.2h.45M42.1 385.6h.45M46.4 389.8h.45M44.6 385.1h.45M44.5 394.8h.45M38.9 399.4h.45M46 384.7h.45M41.4 397h.45M50.8 386.1h.45M49.5 372.5h.45M41.2 385.6h.45M37.2 390.2h.45M45.8 387.2h.45M37.4 382.6h.45M46.2 387.4h.45M56.3 382.8h.45M38.7 382.7h.45M56.1 374.4h.45M44.4 389.3h.45M47.6 390.4h.45M33.5 388.4h.45M39.5 381.8h.45M41 394.8h.45M42.9 385.6h.45M38.1 389.5h.45M38.6 383.1h.45M43 379.3h.45M48.3 381h.45M41 382.7h.45M55.6 385.7h.45M56.2 382.7h.45M48.1 379.7h.45M48.2 380.6h.45M37.8 382.1h.45M42.7 388.5h.45M38.3 383.1h.45M49 387.3h.45M42.7 390.5h.45M45 379.6h.45M36.7 380.1h.45M36.2 392.7h.45M37 392h.45M38.6 377.8h.45M42.1 394.9h.45M41.8 387.6h.45M33.2 383.6h.45M38.7 404.3h.45M38.2 384.5h.45M37.4 379.2h.45M54 388.5h.45M37.6 391.3h.45M38 393.9h.45M35.9 389.8h.45M50.6 384.2h.45M35.7 382.5h.45M34.6 397.9h.45M44.6 385.4h.45M49.4 383h.45M36.7 389.5h.45M40.8 387.5h.45M57.9 379.9h.45M42.4 385.1h.45M34.8 385.9h.45M28.8 392.5h.45M27.6 385.7h.45M30.7 382.8h.45M52.8 386.8h.45M40.5 398.8h.45M39.3 374.8h.45M39.1 383.2h.45M30.1 392.8h.45M49.5 384.5h.45M30.9 390.1h.45M39.5 394.5h.45M38.4 383.7h.45M31 383h.45M38.4 393.9h.45M30.2 395.2h.45M42.7 390.8h.45M36.6 395.1h.45M56.4 390.1h.45M31.3 393.3h.45M40.4 388.4h.45M37.4 394.3h.45M59.4 384.1h.45M34.1 388.6h.45M46.1 384.9h.45M39.7 394.9h.45M47 389.2h.45M43.4 392.8h.45M35.8 384.6h.45M37.9 381.7h.45M50.8 385.2h.45M31.5 394.3h.45M45.7 382.5h.45M42.5 383.3h.45M40.7 387.1h.45M41.9 381.5h.45M35.2 392.8h.45M39.5 391.1h.45M35.1 384h.45M46.5 385.4h.45M45 383h.45M42.2 393.5h.45M35.2 400.5h.45M44.4 385h.45M43.4 389.2h.45M37.3 391.2h.45M31 383.6h.45M42.8 386.8h.45M46.7 386.9h.45M47.6 387.6h.45M37.8 396h.45M56.4 374.7h.45M35.3 394.7h.45M49.4 387.6h.45M47.4 375.9h.45M44.8 387.5h.45M46.8 378.9h.45M40.6 385.6h.45M40 387.2h.45M36.1 380.8h.45M41.3 387.6h.45M30.3 374.8h.45M35.5 387.3h.45M39.9 396.8h.45M46.6 382.9h.45M53.1 397.8h.45M36.5 392.8h.45M41.3 395.3h.45M47.8 382.4h.45M43.1 381.7h.45M33.7 396.6h.45M50.6 379.7h.45M33.7 382.2h.45M51.6 374.2h.45M34.9 390.1h.45M48.9 382.7h.45M41.3 387.3h.45M46.4 383.8h.45M42.1 386.3h.45M37.8 396.7h.45M33.8 384.7h.45M38.7 389h.45M42.8 378.3h.45M34 392.8h.45M41 381.4h.45M34.8 392.2h.45M36.5 381.4h.45M39.6 396.4h.45M37.4 395.4h.45M35.5 398.9h.45M49.6 378.6h.45M38.7 392.3h.45M35 394.1h.45M49.4 383.5h.45M42.9 385.3h.45M45.5 380.1h.45M51 381h.45M35.3 382h.45M39.2 389.8h.45M45 376.1h.45M38.9 385h.45M34 391.8h.45M38.8 393.5h.45M26.6 400.4h.45M24.9 386.9h.45M43.7 383.9h.45M39.7 382.9h.45M33.1 388.3h.45M38.9 384.1h.45M36.6 385.4h.45M40 381.8h.45M41.4 387.6h.45M45.4 380.6h.45M30.7 385.7h.45M44.4 381.8h.45M47.2 383.1h.45M35.1 381h.45M39.1 392.9h.45M39.2 392.2h.45M33.7 397.5h.45M61.1 380.9h.45M40.3 381.1h.45M36.5 386.7h.45M37.5 378.6h.45M37.9 393.6h.45M44 389.5h.45M43.7 379.4h.45M34.2 394.2h.45M41.7 387.4h.45M38.8 394.3h.45M47.1 389.8h.45M40.8 391.3h.45M38.6 383.7h.45M36.8 381h.45M40.6 388.6h.45M43 380.4h.45M31.4 389.4h.45M27 392.6h.45M57.7 377.7h.45M35 387.4h.45M49.3 375.9h.45M40.4 387.3h.45M35 387.2h.45M29 390.3h.45M52.7 387.8h.45M41.3 391h.45M44.4 385.9h.45M43.4 392.5h.45M44.2 384.1h.45M42.2 391.8h.45M35.9 386.7h.45M38.4 386.3h.45M49.9 383.8h.45M39.5 385.5h.45M51 383.5h.45M56.3 382.8h.45M38.6 385.9h.45M40 389h.45M47.3 386.1h.45M47.2 375.2h.45M38 381.5h.45M33.5 388.8h.45M34.9 385.9h.45M34.8 397.5h.45M41.7 392.2h.45M28.9 382.3h.45M39.8 392.9h.45M38.8 390.9h.45M38.1 396.8h.45M46.5 389.7h.45M42.7 393.3h.45M40.5 385h.45M37.5 389.9h.45M32.8 386h.45M43.8 389.5h.45M41.6 391.6h.45M47.9 376.2h.45M40.5 382.4h.45M37.8 390.4h.45M28.3 398.6h.45M47.8 386.1h.45M49.7 391.8h.45M41.7 392.9h.45M51.4 383.6h.45M30 393.4h.45M35.5 382h.45M42.8 390.4h.45M39.3 387.5h.45M48.8 379.2h.45M35.6 391h.45M49.6 385.2h.45M40.5 385h.45M51 385.9h.45M31.5 395.1h.45M30.2 402.3h.45M43.5 382.4h.45M32.7 391h.45M32 396.1h.45M33.8 382.2h.45M44.1 391.9h.45M32.6 390.7h.45M52.9 381h.45M38.4 390.1h.45M43.6 380.3h.45M36.7 381.2h.45M27.8 387.2h.45M47.2 385.2h.45M48.7 389.2h.45M42.2 387.9h.45M44.9 387.5h.45M34.1 390.2h.45M40.5 387.9h.45M36.4 389.5h.45M43.5 386.8h.45M46.9 388.2h.45M47.1 388.8h.45M49.8 389.4h.45M43.6 382.4h.45M58.3 382.7h.45M50.7 385.3h.45M38.8 382.5h.45M43.1 384.1h.45M33.6 380.4h.45M47.9 376.7h.45M35.7 393.2h.45M42.8 381.9h.45M41.9 388.2h.45M43.5 388.7h.45M45.1 382.8h.45M36.7 401.9h.45M36.5 384.8h.45M47.3 386.6h.45M43.3 398.8h.45M30 401.2h.45M41.8 388.6h.45M42.7 385.1h.45M40.1 380.9h.45M43.4 396h.45M28.5 401.9h.45M25.5 392.4h.45M45.7 382.2h.45M34.1 383.5h.45M40.1 387h.45M33.6 383.5h.45M43.3 388.2h.45M49.5 384.9h.45M53.5 386.1h.45M28.1 404.5h.45M38.1 383.5h.45M46.3 389.3h.45M28.8 388.3h.45M44.2 382.4h.45M50.8 382.5h.45M34.7 384.1h.45M40.8 378.2h.45M30.1 387.1h.45M55.9 387.4h.45M39 386.5h.45M48.6 389.4h.45M41.7 398.9h.45M42.8 392.4h.45M26.7 396h.45M41.9 397.6h.45M36.9 383h.45M51.6 377h.45M38.2 382.3h.45M45.9 385.4h.45M38.5 386.7h.45M36 386.6h.45M35.6 397.3h.45M43.4 378.3h.45M35.1 393.3h.45M54.7 377.7h.45M38.8 387.4h.45M42.4 385.6h.45M50.3 386.9h.45M48.5 391.3h.45M38.5 385.9h.45M54.8 368.2h.45M26 384h.45M40.9 381.6h.45M42.7 374.9h.45M39.5 386.2h.45M37.4 395.7h.45M39.9 390.5h.45M38.4 389.8h.45M38.7 389.2h.45M39 384.9h.45M43.5 384.8h.45M32.8 386.8h.45M47.3 390.7h.45M32.2 390.6h.45M46.6 389.6h.45M42.8 379.8h.45M43.7 390.6h.45M42.2 385.4h.45M34.4 392.4h.45M41 387.6h.45M53.4 386.1h.45M37 391.1h.45M39.6 388.8h.45M53.5 384.5h.45M39.9 384.5h.45M41.2 389.2h.45M40.9 393.4h.45M38.5 382.5h.45M46.7 368h.45M39.3 387.8h.45M50.1 387.8h.45M54 387.7h.45M43.5 386.4h.45M47.5 383.2h.45M32.5 390.3h.45M46.9 387.1h.45M37.4 396.1h.45M39.5 380.1h.45M46.6 389.3h.45M43.8 383.9h.45M39.1 394.7h.45M42.7 386.3h.45M36.3 384.7h.45M29 393h.45M50 385.9h.45M40.8 395.8h.45M37.4 384.1h.45M50.7 388.9h.45M35.9 383.9h.45M35 377.9h.45M45.3 393h.45M41.2 383.3h.45M44.4 382.5h.45M48.2 380.9h.45M52.9 378h.45M40.2 382.8h.45M34.3 393.4h.45M41.1 382h.45M43.7 383.4h.45M37.7 389h.45M45.5 388.5h.45M49.8 384h.45M35.2 387.3h.45M40.6 381.1h.45M39.3 386.4h.45M41.1 388.3h.45M51.7 389.6h.45M49.2 387.8h.45M37.3 395.4h.45M45.9 376.9h.45M55.4 375.3h.45M31 403.2h.45M39.7 383.8h.45M40.4 393.6h.45M42 384.7h.45M46.1 379.1h.45M34.7 388.3h.45M38.4 392.8h.45M37.3 384h.45M33.6 381.2h.45M42.6 387h.45M44.5 383.9h.45M41.5 382h.45M41.8 387.7h.45M35.3 394.1h.45M42.3 386.9h.45M43.3 396.9h.45M39.4 384.2h.45M37.5 392.8h.45M38.1 384.9h.45M39.1 393.6h.45M44.4 391h.45M38.3 382.6h.45M47.4 385.1h.45M36.5 388.5h.45M37.4 394.2h.45M39.9 390.7h.45M42.3 385.2h.45M43 384.8h.45M33.1 390.1h.45M35.9 394.7h.45M43.8 382.4h.45M45.7 385.8h.45M45 379.8h.45M39 383.2h.45M40.5 395.2h.45M26.8 391.3h.45M46.2 388.4h.45M31.5 382.3h.45M31.7 395.2h.45M50.3 386.5h.45M40.1 395.3h.45M41.6 390.3h.45M44 394.1h.45M32.9 380.8h.45M39.8 389.1h.45M41.2 383.3h.45M37.1 383.7h.45M40.1 388.4h.45M46.8 392.7h.45M30.3 396.8h.45M41.1 381h.45M41.7 386.9h.45M36.9 393.8h.45M54.6 382.5h.45M48.6 388.4h.45M42.9 391.5h.45M36.8 391h.45M48.8 389.6h.45M38.8 387.2h.45M44 385.1h.45M44.1 389.8h.45M38.8 393.5h.45M43 384.7h.45M32.1 389.5h.45M43.3 391h.45M31 397.5h.45M39.7 382.1h.45M47.5 385.5h.45M41.6 381.7h.45M36.8 394.9h.45M50.7 383.3h.45M39 386.2h.45M33.3 397.5h.45M43.7 392.3h.45M39.5 394h.45M38.4 392.2h.45M47.9 379.3h.45M46.8 383.7h.45M36.1 391.5h.45M43.5 382h.45M38.3 386h.45M36.1 389.3h.45M45.1 382.2h.45M47.9 381h.45M39.7 394h.45M48.2 379.4h.45M42 380.5h.45M37.9 387.3h.45M42.6 379.7h.45M36.5 386.5h.45M38.9 382.1h.45M40 403.2h.45M39 380.6h.45M43.2 379h.45M33.9 400.8h.45M46.8 379.2h.45M35.8 393.2h.45M55 381.8h.45M42.4 380.1h.45M31.5 395.4h.45M47.7 383.9h.45M44.6 392.6h.45M38.9 394.6h.45M44.8 381.7h.45M42.3 387.2h.45M42.5 381.2h.45M40.1 388.4h.45M41.5 387.2h.45M42.3 385.5h.45M40.8 393.1h.45M36.7 388.4h.45M33.2 386.1h.45M43.9 385.4h.45M41.6 389.4h.45M41.9 390.5h.45M53 381.7h.45M43.7 394.6h.45M41.5 378.1h.45M49.8 383h.45M43.7 379.6h.45M34.6 387.9h.45M41.9 380.8h.45M39.3 393.5h.45M37.7 390.1h.45M31.8 384h.45M40.5 387h.45M35 396.3h.45M48.3 387.5h.45M35.5 384.7h.45M41.1 388.2h.45M38.8 385.6h.45M33.5 388.1h.45M39.6 385.6h.45M50.6 379.9h.45M42.9 383.7h.45M37.9 384.2h.45M34.8 383.3h.45M32 400.1h.45M36 392.8h.45M39.2 385.5h.45M44.3 382.3h.45M43 384.2h.45M49.4 387.2h.45M44.3 391.2h.45M48 391.3h.45M36.9 381.7h.45M43.1 387.3h.45M38.6 387.8h.45M36.7 383.4h.45M49.7 377.8h.45M31.1 385.2h.45M36.1 390.2h.45M51.6 384h.45M34 385.2h.45M34.4 391.1h.45M45.3 382.1h.45M55.5 388.6h.45M37.1 378.3h.45M47.6 382.8h.45M47.6 388.5h.45M35.4 391.2h.45M40.5 383.7h.45M45.1 384.1h.45M43.4 395.9h.45M46.2 392.8h.45M42.8 391.7h.45M37.1 390.6h.45M42.6 374.9h.45M43.8 384.2h.45M48.2 383.8h.45M37.8 382.6h.45M57.1 373.4h.45M37.6 385.6h.45M40 389.2h.45M35.8 396.2h.45M41.1 390.5h.45M27.4 393.1h.45M38.6 386.8h.45M38 390.9h.45M41.4 381.9h.45M31.3 397.3h.45M41.9 392.5h.45M46.2 383.5h.45M31.9 391.2h.45M39.9 394.7h.45M33.3 397h.45M30.7 390.8h.45M31.2 389.8h.45M39.5 390.3h.45M39.4 392h.45M52.1 381.3h.45M34 390.8h.45M39.8 386.2h.45M50.9 387.3h.45M54.5 381.7h.45M25.1 396.6h.45M43.3 381.6h.45M39.8 392.9h.45M39.4 382.4h.45M30.4 377.6h.45M38.3 382.6h.45M38.1 382.9h.45M34.5 388.7h.45M55 372.3h.45M32.9 389.6h.45M49.5 386.3h.45M44.6 383.4h.45M40.2 383.8h.45M38.2 384.8h.45M30.2 388.8h.45M53.7 381.5h.45M36.5 389.6h.45M41.5 393.6h.45M39.6 384.9h.45M46.1 385.9h.45M35.3 386.8h.45M38.2 380.4h.45M38.2 394.5h.45M49 388.3h.45M37.2 386.6h.45M38.5 386.4h.45M48.3 381.6h.45M47.6 379.5h.45M47.3 392h.45M35.3 387.5h.45M33.8 383.3h.45M37.9 385.9h.45M53.2 377.2h.45M30.8 398.8h.45M46.8 383.5h.45M44.7 388.9h.45M38 389.5h.45M46 393h.45M50 382.6h.45M35.4 395.6h.45M43.7 391.9h.45M42 387.7h.45M43.4 382h.45M42.8 398.4h.45M38.3 394h.45M47.2 387.8h.45M46.2 377h.45M42 375.8h.45M42.3 388.3h.45M49.9 387.5h.45M35 389.7h.45M38.6 385.2h.45M34.8 387.7h.45M51.3 388.2h.45M49.7 390.9h.45M39.2 382.7h.45M37.8 390.4h.45M50.2 388.1h.45M38.2 394.2h.45M39.5 391.5h.45M50.2 389.5h.45M38.7 390.1h.45M42.8 384h.45M43.2 389.2h.45M29.9 390.9h.45M56 380.4h.45M33.5 382.3h.45M36.8 392.8h.45M46.3 386.4h.45M43.3 382.7h.45M48 377h.45M43.6 384.3h.45M33.2 397h.45M41.3 391h.45M49.2 383.1h.45M36.8 388.9h.45M44.3 393h.45M50.1 390.1h.45M43.9 381.5h.45M49 387.5h.45M41.6 389.5h.45M36.3 383.6h.45M42.5 390.5h.45M33.7 380h.45M39.1 394.4h.45M45.2 390.7h.45M35.7 388.4h.45M33.4 388h.45M44.6 385.9h.45M39 390.2h.45M32.5 390.6h.45M28.7 387.1h.45M30.5 388.1h.45M53.9 386.7h.45M47.3 380.4h.45M42.2 380.6h.45M38.6 390.2h.45M32.2 393.9h.45M39.9 377h.45M26 395.3h.45M40.8 388.3h.45M35.8 393.6h.45M40.2 384h.45M51.6 382.2h.45M50 391.6h.45M37.7 388.2h.45M30.3 392.8h.45M49.8 395.2h.45M45 385.9h.45M31.6 388.7h.45M26.9 388.8h.45M42.6 388h.45M35.2 389.8h.45M37.9 392.6h.45M43.7 382.7h.45M35.5 384.2h.45M43.7 397.4h.45M43.2 390.6h.45M48.2 390.8h.45M37.1 385h.45M49.6 386.9h.45M39.9 393.9h.45M41 387.1h.45M53.4 382.5h.45M42.3 384.9h.45M44.9 390.6h.45M42.1 382.7h.45M43.6 385.1h.45M42.6 385.4h.45M33.6 380.2h.45M37.1 400.7h.45M44.2 382.9h.45M37.7 377.4h.45M45 390.1h.45M39.2 381.5h.45M45.7 381.6h.45M38.3 390.1h.45M44.3 396.2h.45M45.5 396.1h.45M40.9 380.8h.45M41.3 387.5h.45M52.8 386.9h.45M54.8 375.2h.45M44.2 397.9h.45M36.7 392h.45M48.3 377.4h.45M37.3 385.7h.45M45.3 386.8h.45M42.6 389.9h.45M35.6 388.7h.45M48.9 393.3h.45M41.1 387.6h.45M49.2 382.7h.45M49.5 383.3h.45M48.5 383.7h.45M33.7 387.4h.45M48.3 392.9h.45M51.6 379.1h.45M53.4 373.6h.45M38.4 394h.45M34.3 396.5h.45M45 388.3h.45M34.9 393.2h.45M46.7 383.6h.45M47.4 383.5h.45M42.5 384.8h.45M32.7 391.7h.45M42.3 382.5h.45M25.8 388.5h.45M48.5 381.5h.45M39.6 394.9h.45M36.5 382.1h.45M36.4 385.5h.45M37.9 384.4h.45M42.7 388.8h.45M37.3 388.6h.45M42.3 391.1h.45M38.7 392.9h.45M48.2 381.8h.45M34.7 389.7h.45M29.3 391.8h.45M33.6 391.1h.45M40.2 390.7h.45M42.9 388.5h.45M41.6 388.5h.45M36 394.1h.45M51.7 386.7h.45M34.2 393.9h.45M33.3 396.3h.45M38.9 386.2h.45M36.2 389.1h.45M38.8 383.5h.45M42.2 388h.45M44.3 385.1h.45M46.8 396.3h.45M48 384.7h.45M34.4 394.9h.45M38.2 374.8h.45M41.2 389.4h.45M41.7 387.5h.45M43.7 393.2h.45M42.8 384.7h.45M44.9 396.2h.45M34.8 388.4h.45M43.5 386.6h.45M46.3 391.4h.45M49.1 384.6h.45M41.3 386.8h.45M42.3 392h.45M31.1 387.9h.45M36.1 385.2h.45M39.7 394.7h.45M29.1 397.9h.45M32.7 391.2h.45M35.4 385.5h.45M32.5 393.1h.45M41.6 393h.45M51.7 379.1h.45M35.7 389.2h.45M46.3 389.1h.45M36.6 392.7h.45M43.8 391.8h.45M38.3 388h.45M32.9 385.3h.45M44.6 389h.45M48.7 384.1h.45M36.2 385.4h.45M32.5 388.8h.45M43.5 386.3h.45M27.2 395.5h.45M36.9 384.3h.45M42.4 389.4h.45M31.7 385.9h.45M39.9 389.5h.45M43.4 394.2h.45M39.7 382.8h.45M44.3 381.8h.45M45.6 385h.45M46.2 378.7h.45M46.6 386.2h.45M37.5 393.4h.45M55.8 380.1h.45M36.2 389.5h.45M49.7 383.3h.45M48.6 379.1h.45M45.3 376.1h.45M39.5 386.7h.45M41.3 393.9h.45M38.5 390.9h.45M54.5 383.5h.45M37 385.9h.45M30.1 396.3h.45M49.3 388.2h.45M48 394.7h.45M40.3 375.3h.45M37.9 393.7h.45M40.9 392h.45M54.9 374.6h.45M54.4 378.6h.45M32.6 393.2h.45M45.3 381.5h.45M48.7 377.8h.45M42.3 391.6h.45M38.6 385.9h.45M42.7 389.9h.45M55.1 386h.45M52.5 380h.45M31.1 393.4h.45M36.3 384.9h.45M38 388.9h.45M43.8 390.6h.45M38.5 395.2h.45M43.3 389.9h.45M45.8 377.7h.45M49.2 378.4h.45M46.3 390h.45M43.1 377.6h.45M45 391h.45M40.3 387.4h.45M45.7 393.4h.45M35.7 385.6h.45M33.3 389.4h.45M40.7 389.5h.45M36.6 380.8h.45M33.4 395.9h.45M42.4 379.2h.45M41 374.2h.45M56.9 380.7h.45M32.4 395.5h.45M40 385.6h.45M38.5 387.7h.45M38.5 384.1h.45M39.2 391.6h.45M41.3 380h.45M42.1 395.2h.45M49.7 390.9h.45M30.5 388.3h.45M36.4 384.5h.45M32.9 388.6h.45M42.2 391.2h.45M40.4 378.2h.45M49.6 380.2h.45M35.1 390.9h.45M35.5 383.3h.45M49.4 379h.45M38.9 391.6h.45M52.7 382.7h.45M36.9 392.3h.45M49 384.5h.45M44.1 382.9h.45M36.8 380.9h.45M34.1 385.5h.45M45 393h.45M35.4 390.4h.45M46.5 379.7h.45M39.5 394.9h.45M44.9 387.8h.45M44.6 381.1h.45M41.1 383.8h.45M37.2 390.5h.45M40.8 380.6h.45M38.1 392.5h.45M43.9 389.2h.45M37.4 385.3h.45M47.5 386.6h.45M26 401.5h.45M38.3 392.7h.45M50.2 380.1h.45M36 391.9h.45M43.2 389.1h.45M33.3 393.5h.45M48.5 386.5h.45M48.1 389.5h.45M39.2 395.1h.45M40.1 382.5h.45M40.1 389.4h.45M46.6 391.2h.45M41.2 384.5h.45M53.9 377.5h.45M38.5 394h.45M36.8 385.7h.45M37.7 395.9h.45M35 391.7h.45M38 388.2h.45M36.7 390.9h.45M47.6 389h.45M36.3 384h.45M32.2 392.9h.45M29.3 401.9h.45M41.8 387.6h.45M31.2 390h.45M38.4 392.7h.45M40.3 391.2h.45M39.8 377.7h.45M43 393h.45M38.5 389.7h.45M37.5 382.9h.45M54.4 378.3h.45M44.1 383h.45M52.7 386.4h.45M50.9 386.4h.45M49 390h.45M44.1 386.2h.45M44.1 380.6h.45M27.7 400.1h.45M40.5 383.9h.45M37.3 384.5h.45M36.6 391.2h.45M44.1 390h.45M42.3 390.1h.45M43.8 381.9h.45M29.3 391h.45M38.5 386.1h.45M53.2 376.1h.45M42.4 382.4h.45M42.5 379.7h.45M47.6 384.3h.45M35.9 384.1h.45M50.1 378.6h.45M44.3 372.3h.45M38.4 398.9h.45M52.3 380.5h.45M48.9 385.8h.45M39.4 389.1h.45M31 386.4h.45M43.9 389.6h.45M39.3 381.8h.45M46.7 384.3h.45M45.2 383.2h.45M42.3 392.4h.45M46.8 377.3h.45M36.9 395.3h.45M43.7 386.1h.45M37.8 394.9h.45M43 387.4h.45M42.4 383.7h.45M44.1 386.2h.45M46.7 386h.45M31.8 389.4h.45M42.5 392.8h.45M40.1 394.2h.45M50.1 386.5h.45M55.1 378.6h.45M46.3 390.8h.45M46.2 389.6h.45M44 393.3h.45M38.8 378.5h.45M47.5 382.4h.45M35.2 389.5h.45M42.4 392.8h.45M43.2 385.7h.45M39.1 383.8h.45M36.3 387.9h.45M37.1 383.6h.45M41.3 392.7h.45M44.1 385.5h.45M42.9 385h.45M36.2 395.2h.45M56.3 380.6h.45M51.5 394.2h.45M35.2 393.9h.45M38.6 387.5h.45M31 393.3h.45M39.9 379.5h.45M38.8 386.2h.45M36.7 393.5h.45M52.4 382.6h.45M49.5 386.3h.45M42.4 389.8h.45M48.4 380.5h.45M37.1 382.5h.45M28 391.2h.45M47.7 385.2h.45M46.1 391.4h.45M33.9 399.4h.45M43.7 390h.45M47.8 378.8h.45M37 392.2h.45M39.6 385.2h.45M38.8 384.9h.45M41.2 385.2h.45M49.2 376.7h.45M45.1 385.3h.45M48.7 377.4h.45M42.7 395.8h.45M36.4 388.3h.45M36.6 385h.45M52.5 388.4h.45M38.6 384.9h.45M34.6 395h.45M39.4 391.4h.45M25.5 394.8h.45M46.2 386.5h.45M42.1 386.7h.45M38.2 386.9h.45M43.4 388.7h.45M46.5 382.8h.45M46.6 379h.45M55.4 383.6h.45M45.5 399.5h.45M54 387.9h.45M33.7 391.4h.45M46.8 389.5h.45M38.7 381.9h.45M48.4 381.9h.45M43.3 384.3h.45M37.3 382.4h.45M43.9 382.3h.45M31.5 395.6h.45M43.4 391.1h.45M43.4 379.4h.45M40.2 387.9h.45M39.3 382.8h.45M44.2 390.8h.45M52.5 388.1h.45M39.9 374.6h.45M38.4 386.2h.45M27.3 404.3h.45M46.9 383.7h.45M44.7 387.7h.45M43.3 393.4h.45M54.5 383.4h.45M38.5 390.4h.45M49.1 386.3h.45M39.4 393.6h.45M47.2 386.7h.45M38.7 388.7h.45M29.6 394.4h.45M37.9 387.8h.45M38.8 387.1h.45M42.1 387.3h.45M37.3 389.1h.45M42 389.5h.45M43.2 384.2h.45M32.3 384.1h.45M34.6 393.6h.45M39.6 397h.45M39.4 386.4h.45M39.1 385.7h.45M37.6 389.9h.45M32.8 393.3h.45M38.6 384.1h.45M48.5 384.7h.45M46.4 380.5h.45M30.9 387.4h.45M27.1 386h.45M49.8 379.4h.45M41.2 384.4h.45M44.2 393.9h.45M28.3 390.1h.45M40 383.2h.45M48.7 389.6h.45M48.6 386.7h.45M42.7 391.7h.45M33.5 385.7h.45M39.1 387.3h.45M46.4 378.7h.45M46.5 379.9h.45M29.5 385.5h.45M37.6 381.8h.45M42.7 386.6h.45M34.2 381.3h.45M39.2 390.9h.45M32.1 396.7h.45M40.1 385.1h.45M44.1 389h.45M39.3 384.3h.45M44.5 381.6h.45M45.9 389.6h.45M53.2 388.4h.45M47.9 383.9h.45M40.5 388.7h.45M51.7 396.7h.45M43.4 381.5h.45M46.8 375.3h.45M44.4 378.5h.45M33.4 389.5h.45M36.3 383.1h.45M44.8 384.4h.45M47.1 378.2h.45M31.9 396.8h.45M42.3 391.8h.45M46.6 394.4h.45M36.4 410.2h.45M42.4 435.8h.45M58.4 414.4h.45M41.2 410.7h.45M39.4 417.4h.45M49.3 433.6h.45M64.7 422.1h.45M52.4 426.5h.45M47 439.8h.45M51.5 436.9h.45M48.4 431.5h.45M50 424.1h.45M40.6 421.7h.45M46.1 421.9h.45M43.3 419.4h.45M52.7 423h.45M45.1 423.2h.45M56.3 420.7h.45M57 418.2h.45M58 429.6h.45M42.2 428.4h.45M54.9 417.5h.45M44.2 427.2h.45M44.4 422.6h.45M46.2 427.3h.45M52.1 436.2h.45M43.5 447.5h.45M43.5 438.5h.45M45 413.6h.45M42.6 422.2h.45M54.4 409.3h.45M41.1 423.8h.45M51.1 427.9h.45M52.7 423.6h.45M44.2 434.1h.45M59.4 427.8h.45M47.2 418.2h.45M62.4 427.9h.45M50.8 412.5h.45M50.7 443.6h.45M44.7 423.3h.45M58 423.4h.45M52.6 439.8h.45M36.9 418.4h.45M51.3 425.7h.45M46.3 423.5h.45M47 427.6h.45M42.3 422.7h.45M47.8 416.4h.45M49.5 407.9h.45M51 423.9h.45M36.9 435.2h.45M36.9 440.8h.45M40.4 434.2h.45M45.5 437.3h.45M44.3 432.8h.45M43.5 410.4h.45M49.1 428.5h.45M49.1 437.7h.45M40.3 413.8h.45M48 419.5h.45M45.2 424.8h.45M39.7 433.3h.45M45.1 438.7h.45M48 433h.45M43.8 419.7h.45M41.9 418h.45M49.5 425.9h.45M37.6 412.9h.45M39.4 410.7h.45M39.2 413.1h.45M51.5 415.9h.45M41.5 423.9h.45M46.3 428.1h.45M52 429.8h.45M43.4 434.5h.45M48.9 419.4h.45M57.6 415.7h.45M49.7 434.5h.45M46.9 427.5h.45M47 430h.45M47.8 424.9h.45M51.5 410.2h.45M48 422.5h.45M61.2 427.1h.45M40.9 429.9h.45M43.1 415.7h.45M43.9 428.7h.45M55.2 432.9h.45M47.8 423.6h.45M47.6 434.2h.45M45.1 433.8h.45M39.9 424.7h.45M52 430.3h.45M47.6 420.9h.45M32.2 421.4h.45M39.5 421.7h.45M58.2 418.9h.45M52.6 424.7h.45M37.5 425.7h.45M51.8 415.7h.45M37.1 421.9h.45M51.6 420.2h.45M49.3 428.4h.45M46.1 428.3h.45M55.8 423.3h.45M48.5 416.6h.45M40.5 424.1h.45M52.3 419.6h.45M35.3 432h.45M64.3 404.9h.45M37.9 425.8h.45M49.8 417.5h.45M48.6 433.3h.45M43.9 430.5h.45M47 417.6h.45M41.3 420.1h.45M56.2 433.7h.45M47.9 412.8h.45M42.3 421.7h.45M31.2 424.7h.45M48.2 414.6h.45M42.8 421.3h.45M60.2 429.9h.45M51.9 425.5h.45M36.2 431.9h.45M40.9 410h.45M51.6 422.2h.45M46 428.8h.45M44.3 428h.45M55.9 422.3h.45M43.3 425h.45M51 421.7h.45M46.7 419.6h.45M45.5 429h.45M39.8 423.4h.45M34.9 419.4h.45M46.6 428.9h.45M38.2 424h.45M38.9 427.3h.45M48 428.2h.45M44.4 413.9h.45M41.8 414.5h.45M40.9 424.4h.45M54.3 419.9h.45M40.1 426.4h.45M30.3 440.1h.45M34.3 432.6h.45M53.5 432.2h.45M45.2 430.4h.45M43.4 432.2h.45M41.1 418.5h.45M48.9 421.3h.45M51.1 418.2h.45M48.1 417.3h.45M45.2 441.3h.45M37.8 415.4h.45M33.8 423.1h.45M58.3 421.3h.45M53.1 423.4h.45M41.2 440.2h.45M54.2 410.7h.45M38.6 428h.45M51 423.1h.45M48.4 428.9h.45M43.4 432.5h.45M39.6 430.6h.45M53 426.4h.45M43.4 424.7h.45M29.2 426.8h.45M35.2 409.3h.45M51.8 417.8h.45M48.7 425.2h.45M32.7 417.9h.45M44 428.4h.45M46.5 415.1h.45M42 425.6h.45M36.4 421.4h.45M41.9 408.5h.45M59.1 431.5h.45M42.5 432.1h.45M38.1 436.6h.45M43.2 425.9h.45M41.6 425.5h.45M48.5 425.1h.45M39.8 430.6h.45M50.2 424.8h.45M54 419.1h.45M55.7 423.6h.45M57.5 421.4h.45M44.1 426.4h.45M54.3 435.9h.45M42.6 419.2h.45M51.8 434.3h.45M51.3 422.3h.45M55.6 424.6h.45M47.3 429.6h.45M41.7 407.4h.45M47.7 430.3h.45M49.3 429h.45M47.2 432.8h.45M46.9 436.3h.45M46.4 430.9h.45M41.9 427.1h.45M49.2 425.9h.45M57.7 425.2h.45M54.5 427.5h.45M54.3 417.9h.45M43.3 432.2h.45M39.8 427.8h.45M50.3 426.3h.45M49.3 429h.45M44.2 428h.45M42.1 421.3h.45M34 424h.45M33.2 425h.45M47.6 416.5h.45M46.5 427h.45M43.4 417.8h.45M45.2 428h.45M53 439.7h.45M31.1 427.4h.45M49.3 419.9h.45M48.4 440.9h.45M46.9 435.3h.45M54 421.4h.45M28.5 433.7h.45M57.6 411.3h.45M44.5 419.4h.45M47.6 425.3h.45M54.6 420.3h.45M60.6 411.7h.45M47.6 445.4h.45M45.3 429.6h.45M52.8 422.1h.45M31.6 426.4h.45M51.5 409.1h.45M42.3 429.1h.45M27.9 423.3h.45M34 414.5h.45M49.1 433.6h.45M54.8 419.8h.45M49.8 411.2h.45M34.8 429h.45M43 417h.45M31.9 423h.45M62.9 409.3h.45M38.1 433.5h.45M31.5 420h.45M46.5 433.5h.45M45.5 438.9h.45M45.8 423.9h.45M49.3 427.5h.45M34.7 417.5h.45M44.2 427.4h.45M36.7 419.3h.45M40.4 427.4h.45M42.8 429.5h.45M48.9 417.7h.45M43.8 415.2h.45M46.8 431.1h.45M38.5 411.1h.45M49.9 422.6h.45M45.8 428.4h.45M48.9 432h.45M42.5 407.8h.45M42.3 422.4h.45M42.9 427.8h.45M44.1 434.8h.45M41.2 424.7h.45M43.3 441.2h.45M38.8 417.1h.45M43.1 430.7h.45M46.1 423.4h.45M34.9 408.7h.45M44.4 423h.45M59.4 427.7h.45M49.2 432.3h.45M39.2 415.3h.45M43.2 436.3h.45M53.5 420.3h.45M36.6 432h.45M54.3 416.3h.45M58.2 418.8h.45M51.7 423.2h.45M43.5 420.1h.45M51.3 429.6h.45M52.1 422.6h.45M39.6 441.4h.45M59 423.3h.45M37.3 436.4h.45M47 425.2h.45M52.5 427.5h.45M46.9 440.2h.45M31.6 429.8h.45M38.5 425.4h.45M44.7 426.9h.45M27.6 430.2h.45M63.8 421.6h.45M52.9 429.7h.45M48.3 420.9h.45M50.9 426.9h.45M57.1 431.3h.45M40.6 402.1h.45M57.5 428.6h.45M47.3 420.1h.45M65.2 435.2h.45M46.7 421.9h.45M50.4 435.4h.45M50 432.1h.45M48 427.6h.45M36.3 425.8h.45M46.4 424.2h.45M44.2 427.2h.45M41.6 423.3h.45M36 442.8h.45M39.2 415.4h.45M41.9 421.6h.45M37.8 405.8h.45M58.6 432.7h.45M43.1 429.1h.45M37.5 412.2h.45M48.6 429.3h.45M40.7 424.8h.45M54.1 426.1h.45M47.4 429.3h.45M29.9 414.8h.45M36.2 426.7h.45M41.2 410.1h.45M52.9 423.3h.45M53.7 440.4h.45M33.2 414.9h.45M54.3 435.8h.45M49.1 427.6h.45M51.4 429.9h.45M36.2 430.6h.45M53.6 421.6h.45M38.9 421h.45M41.5 428.9h.45M52 425h.45M43.6 411h.45M42.7 417.1h.45M41.7 427.5h.45M39.2 420.6h.45M37.1 422.8h.45M43.8 432.6h.45M30.9 431.9h.45M51 420.7h.45M40.7 426.3h.45M50 423.6h.45M44.8 424.9h.45M37.6 426.9h.45M50.5 425.2h.45M37.2 424.8h.45M45.1 427.3h.45M42.8 431.2h.45M54.4 431.2h.45M47.8 434.2h.45M45.7 423.5h.45M34.9 425h.45M55.4 417.4h.45M52 415h.45M48.3 438.9h.45M46.3 415.8h.45M48.2 423.7h.45M52.1 420.8h.45M32.6 421.1h.45M50.5 432.7h.45M48.1 425h.45M51.3 423.3h.45M42.5 426.6h.45M54.4 421h.45M49.8 419.9h.45M40.3 426.1h.45M35.7 418.3h.45M36.7 420.2h.45M38.9 442.7h.45M50.7 425.4h.45M35.6 406.6h.45M49.4 420h.45M54.1 421.8h.45M35.8 419.9h.45M34.1 414h.45M51.5 420.8h.45M51.3 420.5h.45M44.2 420.6h.45M41.7 419.8h.45M57.5 424.4h.45M30.8 437.8h.45M55.7 433.4h.45M45.1 423.6h.45M42.2 425.8h.45M49.6 424.8h.45M39.6 417.5h.45M58.9 437.7h.45M36.3 420h.45M45.6 429.3h.45M45 426.6h.45M48.8 433.5h.45M35.8 433.2h.45M49.3 428.9h.45M34.2 423.1h.45M43.9 429.7h.45M51.2 430h.45M35.9 434.4h.45M46.4 431.9h.45M45.8 419.5h.45M66.3 429.8h.45M51.8 421.3h.45M44.2 433.3h.45M49.4 438.1h.45M55.2 416.7h.45M34 433.6h.45M50.6 422.9h.45M43.6 420.6h.45M59.8 423.6h.45M35.2 431.7h.45M45.2 427.5h.45M42.9 424.5h.45M31.3 428.9h.45M40.6 421.9h.45M48.4 434.5h.45M29.2 423.8h.45M50.1 432.5h.45M38.8 427.2h.45M49 431.9h.45M41.1 423.4h.45M41.9 433.4h.45M54.3 421.5h.45M44.8 426.5h.45M38.9 424h.45M52.6 430.7h.45M40.6 420h.45M45 413.8h.45M48.3 425.8h.45M35.5 423.1h.45M40.7 422.8h.45M39.1 435.1h.45M38.4 430.6h.45M47.5 435.7h.45M45.4 424.9h.45M46.4 410.7h.45M64.6 423.3h.45M43.4 416.4h.45M44.8 436.9h.45M40 428.2h.45M53.9 431.9h.45M42.7 411.8h.45M49 429.1h.45M43.3 421.7h.45M59.5 413.1h.45M41.9 420.3h.45M33.7 419.7h.45M39.7 434.1h.45M32.3 414.7h.45M47.9 413.4h.45M30.3 420.2h.45M36.5 417.6h.45M44.6 428.3h.45M40.8 422.8h.45M51.4 423.8h.45M51.6 420.5h.45M49.7 434.4h.45M35.1 447.1h.45M43.3 422.4h.45M44.6 428.3h.45M36.5 425.2h.45M41.3 435.5h.45M32.4 429.7h.45M43.4 419.4h.45M46.9 423.1h.45M46.2 426.7h.45M55.2 421.9h.45M58.9 404.9h.45M60 433.9h.45M58 426.4h.45M48.1 417.4h.45M56.3 416.3h.45M39.7 424.9h.45M47.7 427.4h.45M36.8 422.4h.45M49.7 433.7h.45M51.8 428h.45M43.8 420.9h.45M41.9 424.2h.45M50 421.2h.45M61.9 417.5h.45M52.2 423.4h.45M44.8 422.1h.45M57.8 422.7h.45M50.1 425.8h.45M51.7 429.2h.45M58.7 419.5h.45M39.5 437.4h.45M55.8 425.4h.45M43.6 426.8h.45M56 419.3h.45M57.1 424.5h.45M43 422h.45M29.6 427.3h.45M35.6 420.8h.45M38.9 426.6h.45M51.5 425.2h.45M47.3 427.9h.45M58.3 429.2h.45M58.1 424.5h.45M48.6 420.1h.45M50.5 418.6h.45M49.5 420.3h.45M43.1 433.9h.45M47 430.8h.45M44 411.2h.45M57.3 423.6h.45M40.8 431.9h.45M37 419.4h.45M54.8 419.8h.45M54.6 422.7h.45M44.2 425.4h.45M42 432.8h.45M54.4 425.4h.45M50.6 428.9h.45M58.9 413.3h.45M53.8 431.6h.45M43.4 425h.45M43.2 434h.45M37 429.4h.45M55.8 429.1h.45M42.1 421.5h.45M29.4 417.4h.45M54.4 418h.45M33.1 423.1h.45M34.3 428.3h.45M39.1 431.9h.45M44.9 414.5h.45M39.9 420.2h.45M39.3 434h.45M38.1 427.6h.45M41.3 429.3h.45M34.8 413.4h.45M49.8 435.4h.45M35.1 422.6h.45M41.9 418.1h.45M53.4 425.3h.45M35.1 423.3h.45M56.2 419.7h.45M41.9 418.9h.45M47.1 420.8h.45M52.8 418.8h.45M34.5 428.2h.45M48.1 426.7h.45M41.4 421.7h.45M39.6 423.6h.45M42.3 429h.45M45.9 429h.45M58.6 422.9h.45M43.6 427.7h.45M62.2 422.3h.45M59 433.6h.45M38.2 427.8h.45M56.2 425.3h.45M47.1 440.9h.45M48.6 440.7h.45M38.9 437h.45M41.9 407.1h.45M39.4 421.4h.45M45.5 430.5h.45M51.2 428.8h.45M40.1 438h.45M55.2 425.2h.45M41.4 424.6h.45M44.1 419.8h.45M45.8 420.1h.45M50.9 420.1h.45M49.7 427.3h.45M47.2 428.8h.45M37.9 443.9h.45M40.5 430.3h.45M46.1 421.7h.45M59.4 433h.45M43.7 429.1h.45M51.2 436.6h.45M53.8 423.7h.45M43.9 416.4h.45M47.9 431.3h.45M42.9 429.8h.45M46.9 421.5h.45M36.4 433.1h.45M65.6 428.9h.45M37.5 417.3h.45M47.9 429.7h.45M57.7 407.1h.45M60.3 426.1h.45M47 427.8h.45M43.1 422.8h.45M54.1 412.1h.45M45 429.1h.45M33.1 423.7h.45M57.8 427.7h.45M51.4 430.1h.45M47.6 427.6h.45M39.6 423.4h.45M60.3 415.9h.45M44.6 415.6h.45M41.8 419.2h.45M36.4 426.7h.45M38.6 428.8h.45M60 406h.45M44.6 409.4h.45M45 427.7h.45M47.6 433.8h.45M47.2 412.2h.45M57.7 417.9h.45M45.2 427.3h.45M39.1 425.6h.45M57.6 412.4h.45M32.9 421.6h.45M44.6 415.5h.45M28 431.7h.45M49 415.1h.45M50.4 424.4h.45M47.2 415h.45M44.2 428.5h.45M32.3 417.1h.45M53.5 439.7h.45M51.1 424.4h.45M37.5 421.9h.45M44 428.2h.45M44 443.3h.45M56.3 408.6h.45M36.8 424.9h.45M53.6 427.9h.45M56.5 429.3h.45M66 430.8h.45M49.6 436.3h.45M42.5 420.8h.45M38.1 426.7h.45M49.4 431.9h.45M57.3 429.5h.45M55.6 423h.45M38.4 430.3h.45M53.9 434.9h.45M44.7 421.4h.45M43.1 427.6h.45M45.6 423.5h.45M48 422.7h.45M48.6 420.4h.45M33.9 422.6h.45M60.7 418.8h.45M53.1 434.9h.45M41.7 426.8h.45M28.1 429.1h.45M58 426.3h.45M30.4 420.6h.45M40.2 425.7h.45M48.2 421.8h.45M43.6 418.8h.45M50.5 426.4h.45M48.7 421.1h.45M49.8 422.6h.45M48.3 423.7h.45M40.8 416.7h.45M31.4 414.7h.45M33.1 418.8h.45M44.4 416.1h.45M49.3 440.5h.45M55.7 416.2h.45M45.2 420.1h.45M52 414h.45M48.4 426.5h.45M50.4 428.1h.45M47.2 411.5h.45M43.5 417.8h.45M50.1 423.1h.45M47.2 433.1h.45M45.1 437.5h.45M52.5 413.7h.45M41.4 434h.45M42.1 433.8h.45M41.6 423.9h.45M54 413h.45M46.6 421.4h.45M47.3 437.7h.45M49.8 414.7h.45M53.5 421.4h.45M47.3 433.6h.45M43.6 432h.45M47.4 418h.45M43.6 414.6h.45M55.2 426.1h.45M53.6 416.4h.45M52.6 415.8h.45M48.2 424.7h.45M41.4 427.1h.45M46.3 418.3h.45M40.2 415h.45M56.7 426h.45M43.2 430h.45M39.3 416.1h.45M48.8 436.8h.45M48.3 426h.45M59.6 413.2h.45M69.9 416.5h.45M45.4 414.7h.45M36.5 423h.45M65.1 417.7h.45M41.2 426.9h.45M38 422.9h.45M52.4 408.4h.45M43.6 422.6h.45M42 423.9h.45M32 421.5h.45M41.9 417h.45M55.9 439.9h.45M52.2 418.3h.45M57.1 428.6h.45M39.6 429.4h.45M41.5 429.1h.45M53.2 433.5h.45M37.8 423.8h.45M46 415.6h.45M49.2 430h.45M35.2 420.6h.45M37.4 415.2h.45M37.7 435.2h.45M40.8 421.8h.45M53.7 432.6h.45M57 409.1h.45M51.9 411.5h.45M41.1 421.7h.45M41.5 439.7h.45M44.7 433.7h.45M44.6 424.4h.45M50 428.2h.45M49.9 411.7h.45M50 427.2h.45M50.7 424.4h.45M49.2 414.9h.45M54.8 415.6h.45M56.9 432.5h.45M45.5 422.6h.45M52.1 422.5h.45M36.7 426.9h.45M36.5 421.3h.45M60 430.9h.45M42.5 424.3h.45M40.9 424.7h.45M34.7 430h.45M46.1 420.2h.45M41.2 444.7h.45M42.5 421.2h.45M41.5 421.1h.45M56.2 429.9h.45M49.3 427.6h.45M37.1 406.5h.45M57.8 430.2h.45M47.7 426.9h.45M47.6 425h.45M44 407.9h.45M50.4 425.2h.45M53.6 427.1h.45M43.8 429.4h.45M47.5 421.4h.45M43.1 421.6h.45M43.7 421.4h.45M53.7 446.9h.45M45.1 433.3h.45M30.6 400.3h.45M42.3 423.6h.45M40.2 414.5h.45M39.4 420.9h.45M47.2 422.2h.45M36.6 422h.45M57.8 418.1h.45M46.5 432.4h.45M39.7 420.5h.45M68.6 434.2h.45M41.9 426h.45M46.8 425.9h.45M49.6 422.5h.45M28.7 417.5h.45M47.2 414.4h.45M43.5 436.2h.45M47.9 419.8h.45M47.1 432.8h.45M32.6 415.3h.45M40.8 421.5h.45M45.3 420.4h.45M46.8 425.5h.45M36.9 420.1h.45M36.3 427h.45M48 429.8h.45M39.2 420.8h.45M28.7 424.9h.45M33.4 427.4h.45M54.4 428.2h.45M50.9 426.5h.45M48.9 431.9h.45M55.8 440.1h.45M43.9 431.1h.45M52.8 428h.45M48.1 415.2h.45M54.5 418.1h.45M40.9 418.3h.45M50.4 417.5h.45M49.6 429.1h.45M46.8 422.2h.45M50.6 434.7h.45M42.4 416.8h.45M41.3 418.1h.45M44.1 423.6h.45M28.1 435.9h.45M39.7 421.6h.45M30.7 409.9h.45M38.1 426.5h.45M52.6 411.1h.45M47.7 436.3h.45M43.8 431.7h.45M48.4 417.8h.45M53.7 420.2h.45M48.8 421.8h.45M44.3 426h.45M56.3 412.1h.45M37.3 425.6h.45M53.6 423.4h.45M44.5 428.8h.45M58.3 418h.45M33.6 422.7h.45M52 414.8h.45M54.8 431.9h.45M52.1 418.4h.45M35.9 429.8h.45M48 430h.45M35.5 402.4h.45M54.7 432.4h.45M43.8 424.8h.45M49.5 430.4h.45M44.5 420.9h.45M38.4 432.6h.45M46.8 399h.45M48.7 420.5h.45M36.1 420.9h.45M36 421.4h.45M41.7 428.7h.45M38.1 411h.45M41.3 414.4h.45M51.8 423.2h.45M33 418.2h.45M45.8 424.5h.45M31.7 423.8h.45M48.3 432.3h.45M54.5 423.9h.45M35.9 422h.45M51.1 417.8h.45M55.8 417.5h.45M37.2 431.1h.45M45.2 427.2h.45M43.6 425h.45M41.4 439.1h.45M51.1 423.8h.45M49.7 431.1h.45M41.9 426.1h.45M47.6 420.5h.45M40 423.3h.45M43.7 421.7h.45M30.9 425.4h.45M51.1 425.3h.45M59.3 431.3h.45M43.2 419.7h.45M49.9 422h.45M33.4 425.7h.45M43.7 423.1h.45M50.8 426.3h.45M61.7 419.2h.45M45.2 427.1h.45M42.6 420.9h.45M59.6 413.8h.45M48.7 411.6h.45M48.6 410.3h.45M36.9 433.4h.45M58 425.8h.45M24.9 432.4h.45M47.9 416.4h.45M43.2 414.8h.45M45.3 424.1h.45M46.9 430.7h.45M41 408.2h.45M36.9 415.3h.45M43.1 421.5h.45M45.7 435.1h.45M46.2 416.7h.45M43.6 418.2h.45M44.1 429.2h.45M37.2 430.1h.45M59.9 436.3h.45M58.6 425.5h.45M35.5 439.9h.45M45.6 426.5h.45M43.2 417.7h.45M50.8 414.3h.45M35.3 428.9h.45M43.1 418.5h.45M49.9 435.5h.45M43.8 423.8h.45M50.4 431.8h.45M54 429.9h.45M40.8 428.8h.45M46.1 412h.45M55.6 429.1h.45M56.6 424.3h.45M51.6 424.3h.45M47.3 431.6h.45M46.4 429.4h.45M45.7 434h.45M51.1 412.4h.45M58.9 428.1h.45M42 420.1h.45M61.4 425.5h.45M50 429.3h.45M41.4 437.9h.45M62.3 419h.45M54.8 412.6h.45M43.4 425.3h.45M46.4 429.1h.45M49.1 427.6h.45M44.9 427.1h.45M41.7 439.5h.45M46.5 434.1h.45M46.8 423.7h.45M44.6 415.1h.45M62.1 427.9h.45M47 421.3h.45M55.9 422.3h.45M42.4 420.8h.45M58 427.1h.45M44.9 420h.45M56 427h.45M43.4 431.5h.45M52.8 417.4h.45M54.9 433h.45M44.1 414.9h.45M54.5 422.2h.45M44.4 422.7h.45M43.9 431.1h.45M37.6 428.8h.45M55 432.7h.45M51.6 426.8h.45M44.5 423.9h.45M39.3 437.3h.45M45.1 417.3h.45M52.5 436.1h.45M48.2 422.4h.45M37.4 429.6h.45M44.2 419.9h.45M50.7 415.2h.45M51.7 406.7h.45M41.3 414.2h.45M44.2 430.8h.45M36 434.9h.45M40.8 421.2h.45M53.7 419.4h.45M57.2 423.3h.45M45.3 417.7h.45M54.9 424.3h.45M42.3 417.8h.45M41.2 424.1h.45M40.5 430.7h.45M45.8 420.2h.45M49.6 435.4h.45M30.1 427.5h.45M54.4 425.8h.45M52.4 413.4h.45M40.3 432.3h.45M45.4 425.3h.45M50.9 427.5h.45M49.5 421.1h.45M43.8 434.5h.45M42.3 414.1h.45M43.4 431.4h.45M59.8 425.9h.45M41.4 429.3h.45M48.4 433.6h.45M50.1 430.4h.45M50 427.9h.45M39.1 423.6h.45M58.4 434.7h.45M53.5 427.7h.45M45.3 427.4h.45M43.6 432.9h.45M43.7 419.2h.45M33.8 436.3h.45M40.4 418.5h.45M49.2 438.1h.45M51.2 422.4h.45M50.5 418.7h.45M44.2 425h.45M46.3 430.6h.45M50.3 438.7h.45M52.5 422.7h.45M48.1 418.5h.45M41.5 422.3h.45M53.9 419.7h.45M34.3 417.3h.45M37 423.5h.45M43.9 416.2h.45M40.2 421.8h.45M49.2 429.3h.45M56.3 422.9h.45M51 425.4h.45M37.9 420.1h.45M62.8 423.6h.45M58.7 430.9h.45M58.8 423.4h.45M53.3 422.6h.45M37.8 416.2h.45M49.6 412.9h.45M49 418.4h.45M48.9 414.7h.45M52.7 423.1h.45M34.7 414.2h.45M46.8 412.8h.45M48.8 428.4h.45M41.3 435.1h.45M57.2 427.1h.45M49.7 428.3h.45M44.3 434.5h.45M42.2 406.3h.45M46.4 428.1h.45M52.5 416.7h.45M56.8 418.8h.45M51.1 430.2h.45M47.6 433.2h.45M42.6 439.9h.45M50 421.7h.45M66 424.8h.45M34.1 435.3h.45M58 420.6h.45M38.8 433.1h.45M46.7 417.7h.45M42.7 425.3h.45M53.7 436.4h.45M41.6 436.1h.45M34.9 430.1h.45M45.3 428h.45M43 419.6h.45M48.5 433.1h.45M29.6 425.2h.45M43.3 416.9h.45M36.2 428.6h.45M50.5 429.6h.45M31.3 413.6h.45M41.7 421.6h.45M59.6 422h.45M47.3 432.2h.45M58.9 427.6h.45M48.9 439.1h.45M43.3 411.6h.45M40.7 422.5h.45M56.2 427.2h.45M55.4 425.6h.45M46.6 420.6h.45M37 428.6h.45M49.1 429h.45M42.3 421.7h.45M49.2 429.3h.45M61.4 418.4h.45M53.8 431.4h.45M44.3 425.8h.45M45.9 436.1h.45M65.5 427.2h.45M44.4 431.8h.45M50.1 423.5h.45M52 431.3h.45M43.4 431.1h.45M29.4 415.3h.45M44 426h.45M35.3 435.7h.45M43.5 425.9h.45M46 430.4h.45M42 430.3h.45M40.1 413.9h.45M50.2 426h.45M53 410.5h.45M47.2 420.1h.45M44.9 421.9h.45M43.5 419.9h.45M54 412.1h.45M33.7 427.4h.45M61.5 419.2h.45M39.5 416.2h.45M38.6 434.1h.45M51.5 431.5h.45M48.9 426.5h.45M41.9 417.7h.45M51 443.1h.45M43.6 434.2h.45M41 425.1h.45M59.1 424.3h.45M51.1 420.7h.45M60.5 415.7h.45M50.6 423.1h.45M47.8 427.5h.45M56.2 431.3h.45M54.3 427.5h.45M38.3 434.7h.45M57.9 428.4h.45M52.3 423.1h.45M35.5 432.1h.45M40.9 439h.45M51.5 424.7h.45M41.7 425.6h.45M38.7 422h.45M58.4 422.6h.45M60.2 424.1h.45M49.5 418h.45M44.1 421.5h.45M35.8 439.2h.45M50.8 424.2h.45M38.1 425.1h.45M38.4 417.6h.45M44.9 440.8h.45M33.2 429h.45M42.2 403.3h.45M35.6 423.8h.45M46.8 419.2h.45M59.7 428.8h.45M41.5 412.6h.45M47.6 419.8h.45M54 417.1h.45M55.3 421.4h.45M47.8 422.8h.45M51 433.3h.45M42.2 418.1h.45M60.6 431.9h.45M60.7 431.9h.45M47.3 436.9h.45M41.2 421.6h.45M43.3 429.9h.45M39.8 423.5h.45M39.9 423.1h.45M54.8 433.1h.45M44.6 443.8h.45M41 428.2h.45M42.7 408.3h.45M37.3 434h.45M33.7 446.6h.45M45.3 426.8h.45M55.8 425h.45M41.5 420.3h.45M39.1 428.9h.45M42.7 428.6h.45M34.9 421.6h.45M61.9 427.5h.45M45.5 433.6h.45M48.3 436.2h.45M37.5 430.5h.45M38.2 429.9h.45M64.9 436.2h.45M39.8 427.9h.45M49.7 419.5h.45M48.1 416.9h.45M53.6 431.6h.45M45 429.9h.45M64.3 423.6h.45M32.1 427.3h.45M42.8 419h.45M53.1 432.3h.45M50.8 437h.45M41.4 421.7h.45M49.4 404.7h.45M25.5 427.4h.45M44.6 425.3h.45M38.9 426.5h.45M54.2 420.1h.45M50.5 423.7h.45M45 425.7h.45M57.7 428.7h.45M51.4 425.9h.45M29.9 431.8h.45M46.1 425.5h.45M42.4 413.3h.45M57.5 438.5h.45M58.1 411.1h.45M50.4 416h.45M44.8 421h.45M41.5 419.1h.45M42.5 430.6h.45M58.4 431.7h.45M46.1 423.7h.45M44.3 424.7h.45M41.5 423.5h.45M52.6 423.1h.45M40 423.9h.45M46.8 424.2h.45M44.2 430.1h.45M45.8 417.3h.45M50.5 419.5h.45M52 430.9h.45M49.8 427.1h.45M35.9 423.3h.45M47.1 429.6h.45M37.6 423.7h.45M34.4 426.1h.45M46.8 425.7h.45M58.8 430.3h.45M44.7 420.5h.45M42.8 430.7h.45M53.1 421.1h.45M45.3 421.6h.45M51.4 426.2h.45M40.7 418.2h.45M56.1 414.4h.45M32.3 401.9h.45M61.7 420.8h.45M52.7 429h.45M52.6 433.3h.45M42.6 424.7h.45M53.7 429h.45M40.4 419.2h.45M35.1 426.8h.45M42.1 413.2h.45M41.9 427.2h.45M47.5 423.2h.45M47.4 429.7h.45M37 418.7h.45M53.6 430.3h.45M35.4 419.4h.45M57.2 430.4h.45M45 432.4h.45M56.6 435.4h.45M35.5 415.2h.45M42.2 424.5h.45M43.4 426.6h.45M57.5 433h.45M53.7 424.8h.45M58.8 428.2h.45M48 424.7h.45M32.1 440.9h.45M46 431.5h.45M63.5 423.4h.45M37.2 432.4h.45M48 417.8h.45M53.5 424.9h.45M38.9 406h.45M38.5 427.7h.45M38.2 432.1h.45M63.1 427.2h.45M47.9 424.2h.45M52.8 425.1h.45M54.1 435.4h.45M52.7 417.7h.45M51.3 422.9h.45M48.6 432h.45M41.1 426.4h.45M57.4 418.6h.45M44.7 430.2h.45M44.4 432.5h.45M38.4 413.7h.45M49.1 423.8h.45M48.6 432h.45M54.2 422.2h.45M43.2 410.4h.45M38.6 426.6h.45M47.8 413.8h.45M52.2 424.5h.45M54.6 422.2h.45M53.6 416.6h.45M31.9 418.8h.45M51.5 427.9h.45M31.6 425.9h.45M51.3 437.3h.45M52.2 428.6h.45M34 427.6h.45M31 422.6h.45M43.3 417.6h.45M38.3 423.8h.45M50.6 420h.45M48.5 430.1h.45M46 439h.45M43.7 419.4h.45M31.5 432.8h.45M51.4 423.5h.45M48.5 423.9h.45M52.9 424.7h.45M47.9 424.2h.45M39.3 408.4h.45M50.3 415.6h.45M49.2 429.6h.45M60.7 419.3h.45M47.3 431.8h.45M41 420.5h.45M49.6 440.1h.45M54.5 431.9h.45M38.7 429.7h.45M54.9 415.5h.45M46.2 423.4h.45M51.1 411.9h.45M51.6 424.8h.45M44.1 409.2h.45M30.1 420.8h.45M51.2 428h.45M51.9 412.3h.45M47.7 434.8h.45M34.2 429.6h.45M40.5 428.9h.45M46.9 412.8h.45M38 434.2h.45M45.3 434h.45M48.7 431.4h.45M43.1 426.4h.45M43.3 431.5h.45M41.7 433h.45M58.3 415.8h.45M44.8 428.8h.45M59.8 433.3h.45M46.8 412h.45M52.6 420.5h.45M47.6 427.8h.45M35.2 432.7h.45M53.2 429.1h.45M50.7 427.4h.45M35.3 421.1h.45M52.4 422.4h.45M46.3 427.6h.45M46.8 426.7h.45M49.9 424.8h.45M37.6 422.8h.45M53.5 419.8h.45M49.7 427.1h.45M39.3 404h.45M46 419.1h.45M41.3 431.7h.45M40.2 427.4h.45M47 426.3h.45M61.5 410.3h.45M53.6 423.8h.45M44 419.9h.45M46.4 425.2h.45M39 436.9h.45M40.4 423.8h.45M36.3 425.9h.45M48.9 432.8h.45M53.7 421.1h.45M58.5 424h.45M58.1 437.4h.45M43 416.9h.45M50.3 435.4h.45M49.2 432.9h.45M50.7 431.4h.45M56.3 422.6h.45M35.2 423.9h.45M40 416.1h.45M44.8 430.1h.45M31.9 413.7h.45M52.3 418.3h.45M43.1 434.8h.45M54.7 427.4h.45M50.3 404.8h.45M50.4 427.6h.45M35.4 426.2h.45M49.6 424h.45M52.2 431.3h.45M46.5 423h.45M37 433.2h.45M41.7 427.1h.45M57.9 430.5h.45M36.3 424.2h.45M40.6 412.7h.45M39.9 429.1h.45M48.7 423.3h.45M47.4 416.2h.45M40.2 423.6h.45M52.2 422.5h.45M44.8 427.3h.45M57.4 415.5h.45M50.2 426.2h.45M45.6 426.6h.45M30.9 425h.45M44.3 415.7h.45M52.6 423.9h.45M43.5 430.4h.45M39 419.5h.45M52.4 431.2h.45M61.6 421.5h.45M34.9 413.9h.45M36.9 425.6h.45M44.3 419.9h.45M38.3 419.7h.45M43.3 433.5h.45M50.9 434.9h.45M52.4 430.4h.45M55.1 428.1h.45M57.9 433.1h.45M60.1 426.4h.45M40.1 443.3h.45M43.9 428.6h.45M43.2 419.7h.45M49.4 416.6h.45M44.9 435.2h.45M47 430.8h.45M51 427.6h.45M46.9 429.3h.45M38.6 429.1h.45M37.8 419.3h.45M41.6 415h.45M30.9 427.6h.45M49.9 429.7h.45M63.1 426.1h.45M51.8 419.3h.45M51.5 416.4h.45M61.2 417.7h.45M42.9 430.3h.45M29.2 434.6h.45M38.8 426.3h.45M53.6 425.9h.45M53.2 421.1h.45M50.6 408.8h.45M57.7 419.9h.45M39.4 424.9h.45M59.1 419.6h.45M45.9 422.2h.45M38.9 415.2h.45M50.6 430h.45M40.3 426.5h.45M49.5 427.6h.45M44.8 425.1h.45M48.2 417h.45M44.9 430.6h.45M41.7 434.4h.45M44.2 416.7h.45M43.8 414.9h.45M50.7 413.1h.45M46.2 423.1h.45M43.7 427.9h.45M48.3 420.7h.45M52.3 421.5h.45M52.9 434.7h.45M48.9 431.6h.45M35.8 428.9h.45M34.6 423.5h.45M51.4 405.1h.45M40 419.1h.45M38.8 425h.45M50.9 416.3h.45M41.2 411.2h.45M40.6 409.4h.45M34.5 428.2h.45M52.8 418.8h.45M48.7 419.1h.45M54.2 437.6h.45M27.1 418.4h.45M41.1 421.3h.45M58 436.3h.45M45.9 429.5h.45M33.8 422.6h.45M43.8 423.7h.45M48.3 413.3h.45M38 440.5h.45M32.7 425.2h.45M51.6 428.4h.45M46.5 413h.45M42.4 413.4h.45M61.1 427.4h.45M51.6 426.3h.45M43 433.5h.45M52.8 429.5h.45M50.5 430.2h.45M43.9 428h.45M46.6 423h.45M51 440.5h.45M30.4 435.4h.45M42.7 433.6h.45M38.2 423.4h.45M53.9 424.3h.45M48.7 415.9h.45M37.2 437h.45M47.2 424.2h.45M35.4 417.2h.45M38.1 424.4h.45M45.1 420.3h.45M40.9 425.6h.45M55 414.5h.45M35.1 433.1h.45M35 421.8h.45M46.9 438.2h.45M30.3 403.5h.45M45.4 432.7h.45M47.1 418.9h.45M47.5 409.7h.45M52.3 435.7h.45M44.4 430.8h.45M37.9 435.7h.45M41 418.9h.45M40.1 411.8h.45M51.2 439.5h.45M35 423.3h.45M49.5 420.6h.45M34 427.3h.45M53.7 425.6h.45M37.8 422.6h.45M31.2 424.4h.45M55.4 433h.45M45.3 428h.45M42 425.8h.45M41.4 426h.45M42 426.2h.45M51.3 424.7h.45M36 428.5h.45M44.1 421.2h.45M50.3 418.7h.45M53.2 428.9h.45M40.7 419.7h.45M45.1 418.1h.45M53.3 408.2h.45M47.1 422.2h.45M37.6 429.4h.45M42.3 428.2h.45M42.7 422.7h.45M50 431.8h.45M53.7 424.6h.45M57.4 422.3h.45M35.5 411.1h.45M34.9 418.4h.45M32.3 427.2h.45M46.3 424.5h.45M47.8 424h.45M44.1 422.5h.45M46.3 416.5h.45M55.8 436.2h.45M46.3 441.6h.45M38.6 431.4h.45M33.6 429.3h.45M40.3 432.2h.45M46.9 431.8h.45M50.7 428.7h.45M43.9 436.5h.45M48.8 428.4h.45M57 422.9h.45M59.4 432.8h.45M46.6 414.1h.45M55.4 422.5h.45M46.8 425.7h.45M53.3 429.5h.45M32 420h.45M48.7 426.1h.45M52.1 429h.45M58.5 419.5h.45M56 427.6h.45M48.3 429.9h.45M43.4 430.1h.45M44.4 430.1h.45M40.2 433.5h.45M34.4 420h.45M45.7 426.6h.45M39.9 421.9h.45M48 432.5h.45M55.9 421.3h.45M45.5 422.5h.45M34.4 421.5h.45M54.7 414.9h.45M68 432h.45M59.3 426.2h.45M28.4 428.1h.45M58.2 420.6h.45M55.8 430.4h.45M52.1 430.3h.45M50.5 429.6h.45M55.2 427.9h.45M50.9 428h.45M47.1 418.4h.45M32.3 417.3h.45M36.5 413.9h.45M51.3 422.4h.45M55.8 447.9h.45M52 421.4h.45M49 423.3h.45M48.2 440.2h.45M58.3 434.3h.45M48.3 438h.45M52.4 431.4h.45M37.1 420.3h.45M47.4 423.2h.45M42.1 410.1h.45M40.3 424h.45M48.4 416.9h.45M45 438.2h.45M47.3 410.3h.45M44.6 424.9h.45M55.8 426.3h.45M56.6 427.3h.45M55 434.8h.45M57.8 426.3h.45M36.7 426.3h.45M49.7 419.6h.45M52.4 423.6h.45M52.1 426.3h.45M38.9 432.6h.45M61.5 431.7h.45M48.2 412.1h.45M48.6 424.6h.45M40 410.7h.45M49.5 432h.45M51.5 441.7h.45M31.5 427.4h.45M45.9 435.4h.45M45.8 417.7h.45M45.6 428.1h.45M40.5 419h.45M48.1 431.3h.45M44.3 428.5h.45M42.2 422.3h.45M47.6 432h.45M58.2 423.9h.45M49.5 439.4h.45M52.5 422.2h.45M49.2 414.3h.45M30.1 419.2h.45M40.6 414.9h.45M53.9 421.5h.45M46.8 425.4h.45M44.5 416.1h.45M60.9 410.1h.45M45.8 430h.45M44.6 424.1h.45M48.5 426.6h.45M43.5 432.8h.45M50 436h.45M46.8 410.1h.45M33.5 421h.45M49.6 412.7h.45M41.8 434.1h.45M48.7 419.6h.45M45.3 425.7h.45M42.9 422.5h.45M41.3 426.5h.45M58.2 435.7h.45M36.6 442.1h.45M45.2 414.4h.45M34.8 425.9h.45M47.9 420.1h.45M40 423.2h.45M48.1 429.9h.45M50.4 407.2h.45M41.6 426.8h.45M49 430.8h.45M34.8 436.5h.45M37.1 423.3h.45M42.6 421.3h.45M40.2 430.9h.45M52.1 427.5h.45M36.5 420.2h.45M45.7 427.8h.45M41.9 422.9h.45M66.1 425.3h.45M43.9 406.6h.45M40.4 437h.45M52.6 416h.45M52.1 426.1h.45M40.1 430.7h.45M41.5 422.6h.45M46.3 426.4h.45M42.8 427.1h.45M46.2 426.3h.45M49.1 420.1h.45M35.8 424.3h.45M55.5 427.3h.45M47.8 419.3h.45M37.5 415.6h.45M39.2 422.1h.45M34.5 424h.45M34.2 429.7h.45M45.9 411.8h.45M42 426.6h.45M49 430.6h.45M43.5 423.8h.45M44.4 428.9h.45M40.9 423.6h.45M47.2 422.3h.45M38 434.9h.45M49.9 418.1h.45M61 419.2h.45M39.5 422.1h.45M50.2 436h.45M56.5 429h.45M46.6 429.8h.45M40.2 419.6h.45M50.1 426.3h.45M47.9 417.3h.45M48 414.2h.45M53.1 424.9h.45M41.3 421.4h.45M67.1 448.1h.45M40.8 435h.45M46.3 426.8h.45M38.9 415.1h.45M47.9 421.6h.45M49.9 432.7h.45M45.3 428.8h.45M47.5 426.6h.45M42.2 426.6h.45M49.4 425.4h.45M42.7 414h.45M38.1 436.5h.45M53.8 427.1h.45M48.4 423.7h.45M51.3 432h.45M44.3 427.2h.45M53.4 413.1h.45M39.1 420.6h.45M37.4 421.6h.45M39.8 421.9h.45M49.8 416.1h.45M46.9 435.1h.45M47.6 415.8h.45M41.6 433.5h.45M44.2 420.2h.45M52 419.6h.45M37.8 429.4h.45M46.3 420h.45M49.7 433.1h.45M54.3 425.6h.45M49.6 428.5h.45M35 437.2h.45M41.2 420.7h.45M40 417.7h.45M54.4 424.9h.45M41.8 411.3h.45M47.4 424.5h.45M38.4 424.1h.45M32.4 429.7h.45M37 428.6h.45M46.9 409.1h.45M37.7 420h.45M52.1 429.3h.45M50.9 437.3h.45M44 421.1h.45M32.1 417.2h.45M50.4 418.6h.45M39.6 431.9h.45M27.6 435.2h.45M55.8 411.6h.45M49.7 424.8h.45M53 422.4h.45M45.3 435.3h.45M41.7 428h.45M50.9 424h.45M52.7 428.7h.45M52.4 412.2h.45M38.4 427.1h.45M54.9 435.5h.45M46.3 419.3h.45M38 410.4h.45M42.4 429.2h.45M45.6 413.9h.45M45.4 425.3h.45M40.6 435.7h.45M49.4 433h.45M46.9 417.6h.45M54.3 433.1h.45M41.8 415h.45M52.3 420.7h.45M37.5 424.3h.45M50.3 419.3h.45M46.4 432.3h.45M51.8 413.3h.45M51.5 438.1h.45M53 424.2h.45M48.9 413.2h.45M41.8 421h.45M61.7 424.9h.45M38.9 437.5h.45M55.4 412.6h.45M44.7 412.3h.45M53.9 408h.45M60 417h.45M38.4 440.6h.45M50.2 427.5h.45M52.6 417.5h.45M52.7 422.8h.45M50.1 426.6h.45M56.5 415.3h.45M35.8 429.7h.45M63.9 428.9h.45M44.9 429.9h.45M37.1 425.6h.45M33.6 425.8h.45M51.6 437.5h.45M42.4 431.8h.45M56.2 417.1h.45M44.1 411.1h.45M39.6 428.1h.45M31 422.7h.45M51.6 435.6h.45M27.5 427.8h.45M41.6 407.7h.45M38.6 429.3h.45M46 430.1h.45M43.9 429.8h.45M38.9 417.6h.45M45 411.8h.45M55.4 423h.45M38.8 418.4h.45M39 425.8h.45M43.4 431.3h.45M37.6 424.3h.45M34.9 421.4h.45M56.3 424h.45M52.8 424.4h.45M38 418.3h.45M37.8 427.4h.45M47.9 446.8h.45M58.6 431.2h.45M38.9 425.7h.45M39.4 442.4h.45M40.8 433.6h.45M36.1 430.6h.45M37 421.4h.45M47.4 425.9h.45M45.7 424.4h.45M39.7 424.1h.45M45.6 417.9h.45M50.4 426.2h.45M40.5 434.6h.45M41.9 410.7h.45M55.6 422.1h.45M57.1 428.1h.45M39.5 433.2h.45M49.6 431.8h.45M46.4 436.5h.45M53.1 422.4h.45M34.9 424.5h.45M46.6 417.5h.45M44.7 436.1h.45M42.6 433.3h.45M39.2 417.6h.45M53.1 423.6h.45M47.8 432.6h.45M58.3 415.6h.45M50.5 426.6h.45M47.2 438.3h.45M44.3 420.4h.45M49.9 409.7h.45M48.9 418.2h.45M48.6 419.3h.45M49.9 423h.45M40.8 428.9h.45M51.7 412.8h.45M36.5 422.9h.45M43.3 434.8h.45M57.9 428.4h.45M54.3 422.4h.45M35.9 427.1h.45M33 437.1h.45M48 433.6h.45M41.3 412.8h.45M44.6 428.5h.45M44.5 421h.45M46.7 423.4h.45M56.5 415h.45M29.6 424.1h.45M48.1 413.3h.45M45.8 428.2h.45M48.6 427.1h.45M40.5 414h.45M53.2 422.2h.45M35.9 436.5h.45M51.6 403.8h.45M65.4 426h.45M34.1 432h.45M48.5 434.2h.45M46.2 412.4h.45M44.9 421.6h.45M48.3 423.5h.45M50.3 415.7h.45M42 421h.45M49.2 412h.45M46.1 442.8h.45M32.7 432.6h.45M46.8 432.3h.45M46.5 426.8h.45M48.8 428.3h.45M37.1 423.9h.45M59.7 435.5h.45M39.8 417.7h.45M44.8 432.8h.45M52.9 420.4h.45M28.4 424.5h.45M33.7 433.9h.45M57.1 429.9h.45M50.5 429.1h.45M59.8 433h.45M56.9 416.2h.45M42.2 424.8h.45M29.4 422.7h.45M45.9 424.3h.45M64.9 423.3h.45M44.6 423.9h.45M43.5 414.2h.45M54.4 425h.45M48.8 425.1h.45M40.3 412.8h.45M43.9 428.9h.45M45.2 430.4h.45M40.2 422.6h.45M47.2 424.1h.45M47.4 435.6h.45M42.9 425.8h.45M41.2 428.9h.45M47.7 419.3h.45M38.5 415.8h.45M43.9 426h.45M42.4 424h.45M47.1 442.5h.45M54.9 442.3h.45M47.1 426.5h.45M60.6 427.7h.45M50.9 421h.45M42 430.7h.45M41.6 419.9h.45M34.9 427.1h.45M45.3 428.9h.45M39.5 415.5h.45M54.3 425h.45M51.9 416.2h.45M36.3 405.8h.45M48.3 432.3h.45M56 438.2h.45M32.4 416.6h.45M42.1 418.9h.45M44.5 418.8h.45M35 424.5h.45M47 419h.45M46.3 415h.45M43.6 422.3h.45M42.6 424.2h.45M36.5 414.7h.45M39.8 430.4h.45M38.9 417.8h.45M60.9 422.9h.45M43.2 418.2h.45M57 428.8h.45M48 436.8h.45M37.1 412.1h.45M54.3 428.1h.45M42.2 430.8h.45M45.3 439.5h.45M36.5 427.5h.45M53.3 431.5h.45M43.3 421.8h.45M42.8 430h.45M43 423.8h.45M53.7 424h.45M47.8 423.9h.45M46.1 408.1h.45M39 427.6h.45M41.2 420.2h.45M46.4 442.1h.45M40.3 417.6h.45M32.5 428.3h.45M45.6 418.5h.45M42.9 432.2h.45M53.6 427.6h.45M54.7 432.4h.45M42.6 430.8h.45M47.2 430.6h.45M48.1 440.9h.45M36.6 427.5h.45M37.9 442.3h.45M42.1 422h.45M45.8 424.5h.45M58.8 424.4h.45M47.9 432.8h.45M57.3 417.6h.45M48.3 414.8h.45M49.7 435.5h.45M42.1 422.7h.45M54.9 428.1h.45M52 421.3h.45M43.6 422h.45M57.8 413.5h.45M42.1 436.6h.45M45.5 416.5h.45M47.8 423.2h.45M45.1 428.6h.45M51.9 413.5h.45M47.5 436.2h.45M35.9 424.1h.45M37.3 429.9h.45M39.6 422.3h.45M42.9 428.3h.45M36.2 414.2h.45M47.4 435.1h.45M42.2 427.9h.45M48 425.6h.45M45.8 420.6h.45M44.1 433.9h.45M49.3 434.5h.45M40.5 425.7h.45M41.2 414.8h.45M52.7 422.7h.45M47.8 414h.45M44.1 423.9h.45M43.1 432.5h.45M49.4 425.8h.45M47.7 421.4h.45M40.7 422.7h.45M38.3 423.5h.45M45.1 433.4h.45M42.7 443.3h.45M42.1 425.8h.45M45.8 420.1h.45M45.5 411.3h.45M54.3 420.4h.45M45.8 411h.45M50.2 415h.45M56.1 416.8h.45M40.5 429.8h.45M55.6 409.7h.45M33.3 437.1h.45M49.3 413.2h.45M42.7 430.1h.45M43 436.3h.45M40.6 426.1h.45M54.6 436.1h.45M47.7 429.2h.45M43.4 424.3h.45M41.7 427.8h.45M52.3 417.1h.45M37.2 425.1h.45M60.9 426.5h.45M46.9 424.5h.45M33.4 419.4h.45M57.2 408.7h.45M59.4 415.6h.45M61.2 444.9h.45M57.2 423.7h.45M50.4 420.6h.45M42.6 426.4h.45M43.6 416.5h.45M43.9 429.7h.45M40.2 427.5h.45M35.9 425.5h.45M37.3 430.7h.45M38.2 429.5h.45M31.1 426.1h.45M54.2 418.4h.45M46.3 418.2h.45M49.5 430.6h.45M54.5 435h.45M55.7 419.2h.45M46.8 428.9h.45M47.4 414.7h.45M61.1 444.4h.45M46.4 404.8h.45M59.6 423.4h.45M62.9 416.7h.45M49.9 430.9h.45M35.2 422.2h.45M49.6 429.9h.45M48.8 404.7h.45M28.1 427.6h.45M57.9 412.9h.45M48.9 431.9h.45M38.6 412.6h.45M47.9 421.4h.45M45.2 423.2h.45M45.1 427.2h.45M42 424.5h.45M41.7 418.1h.45M48.5 418.4h.45M49.9 424.6h.45M54 429.3h.45M30.9 424.6h.45M50.9 425.6h.45M46.2 433.1h.45M51 414.4h.45M46.6 432.5h.45M47.1 414.9h.45M51.7 429.4h.45M54.5 426.1h.45M46.8 431.4h.45M37.7 438h.45M48.9 426.5h.45M51.6 430.9h.45M29.5 431.9h.45M45.1 418.7h.45M52.7 432h.45M48.8 420h.45M46.7 417.4h.45M64.8 419.7h.45M52.5 437.4h.45M39.5 420.6h.45M29.2 422.9h.45M36 426h.45M44.3 424.9h.45M46.2 421.1h.45M46.8 424.2h.45M40.5 422.3h.45M41.6 414.8h.45M45.7 410.4h.45M49.9 424.5h.45M47.1 433.7h.45M53 421.4h.45M48.5 434h.45M44.7 427.7h.45M49 416.8h.45M48 421.7h.45M44 428.1h.45M50.8 417.8h.45M44 423.2h.45M38.8 427.6h.45M44.4 419.3h.45M52.9 424.1h.45M37.2 424h.45M44.5 427h.45M62.8 429h.45M56.7 423.4h.45M49.4 428.6h.45M45.1 426.7h.45M42.5 430.1h.45M39.1 438h.45M45 427.6h.45M47 412.3h.45M49.1 417.9h.45M47.4 421.5h.45M43.9 413h.45M36.1 420.5h.45M37.9 426.7h.45M35.5 426.5h.45M50 419h.45M38.7 422.1h.45M51.8 435.5h.45M62 425.4h.45M50.5 426.2h.45M45.7 416.5h.45M43.3 433.4h.45M56.2 420.1h.45M33.8 439.4h.45M46.1 428.3h.45M44.6 410.8h.45M48.2 417.3h.45M43.8 419.9h.45M43.9 443.3h.45M57.2 409.7h.45M34.4 420.9h.45M40.9 430.8h.45M57.6 419.1h.45M50.1 423.1h.45M31.1 433.9h.45M58.9 418.4h.45M50.6 420.8h.45M45.2 421.2h.45M44.8 425.1h.45M41.3 426.9h.45M36.2 431.1h.45M38.8 410.4h.45M52.1 422.1h.45M41.9 431.8h.45M45.6 439.8h.45M49.1 413.7h.45M42.1 419.6h.45M43.7 437.8h.45M66.2 438h.45M49.3 429h.45M47.1 407.7h.45M56.3 440.1h.45M42 424.5h.45M40.6 423.2h.45M39.4 416h.45M54.9 409.7h.45M53.6 415.9h.45M44 409.2h.45M50.8 417h.45M64.5 417.6h.45M47.8 429.9h.45M38.6 418.4h.45M37.9 429.1h.45M48.1 432.6h.45M35.1 417.6h.45M45 421.3h.45M48.2 433.5h.45M46.9 418.6h.45M45.6 419.2h.45M41 439.2h.45M51 438.9h.45M44.3 424.2h.45M36.4 426.6h.45M51.3 430.1h.45M37.2 425.6h.45M52.8 421.1h.45M51.2 420.9h.45M45.9 420.3h.45M34.8 418.3h.45M47.2 422.5h.45M45.8 420.3h.45M52.5 423.4h.45M48.8 421.1h.45M55.7 424h.45M49.2 441.8h.45M49.1 412.7h.45M40.9 427.3h.45M36.1 413.4h.45M45 412.6h.45M54 428.1h.45M43.6 434.1h.45M40.8 415.6h.45M52.7 424.9h.45M44.2 432.8h.45M44.9 429.8h.45M47.5 433.7h.45M50 421.1h.45M57.2 422h.45M58.9 414.9h.45M46.3 407.5h.45M49.8 435.1h.45M43 428.4h.45M44.2 435.9h.45M48.4 427.5h.45M54.1 413h.45M51.1 425.8h.45M55.6 425h.45M50.5 424.4h.45M38.6 420.9h.45M44.6 414.5h.45M45.6 421.1h.45M59.5 422.9h.45M46.9 425.5h.45M51.1 412.3h.45M32.9 437h.45M39.7 417.9h.45M54.7 427.1h.45M39.9 430.5h.45M37.5 437.4h.45M43.6 427.4h.45M45.9 439.6h.45M38.8 424h.45M62 409h.45M42.3 426.9h.45M44.4 428.2h.45M54.6 416h.45M41.1 435h.45M60.5 404.1h.45M50 432.5h.45M40.9 418.1h.45M37.5 423.2h.45M37.4 430.3h.45M40.8 428.8h.45M34.3 431.6h.45M51 432.1h.45M48 442.6h.45M53.2 425.2h.45M58 422h.45M47.1 437.5h.45M42.5 424.8h.45M47.9 426.2h.45M44.2 432.6h.45M62.1 421.8h.45M35 421.2h.45M35.6 415h.45M38.2 433h.45M47.1 430.3h.45M45.2 432.7h.45M43 434.9h.45M52.6 426.5h.45M35 416.3h.45M47.9 416.7h.45M44.7 423.6h.45M56.3 419.5h.45M47 421.2h.45M40.4 428.2h.45M53.2 413.8h.45M57.2 442h.45M47.2 428.8h.45M38.2 421.7h.45M48.3 424.1h.45M56.3 418h.45M44.2 428.9h.45M45.5 422.9h.45M45.1 427.9h.45M31.7 444.9h.45M51.6 416.7h.45M39.3 416.1h.45M49.3 410.5h.45M64.3 420.6h.45M35.5 440.7h.45M46 428.6h.45M44.6 422.8h.45M61.4 409.6h.45M47.9 419.1h.45M43.4 424.3h.45M32.3 429.6h.45M47.5 429.1h.45M41.6 430.5h.45M42.5 430.8h.45M56.1 429.6h.45M35.3 425.4h.45M38.3 439.8h.45M47.5 415h.45M34.7 435h.45M38.5 428h.45M43.6 423.7h.45M42.7 424.9h.45M58 418.1h.45M49.9 428.5h.45M41 416.4h.45M39.4 429.3h.45M47.2 432.7h.45M48.8 425.7h.45M46.2 426.6h.45M46.4 430h.45M39.6 433.1h.45M58.2 424.1h.45M50.3 415.8h.45M46.8 413.8h.45M53.4 425.2h.45M54.1 433.5h.45M40.5 431.1h.45M57.6 441.9h.45M45.3 429h.45M41.3 429.7h.45M50.5 436h.45M44.9 425.3h.45M49.8 423.5h.45M61.5 407.8h.45M33.3 421h.45M51.2 425h.45M49.2 413.2h.45M50.5 429h.45M58.3 431.1h.45M41.4 419.2h.45M37.6 421.1h.45M45.3 434.4h.45M58.4 425.4h.45M50.5 423.6h.45M36.4 428.9h.45M40.6 412.5h.45M39.8 436.3h.45M37.4 435.3h.45M35.8 424.3h.45M49.8 421.8h.45M38.8 424.9h.45M58.6 429.9h.45M47.5 429.2h.45M54.9 435h.45M44 418.1h.45M38.7 425.3h.45M43.8 424.9h.45M41.4 443.9h.45M40.8 435.8h.45M39.6 418.8h.45M37.3 416.5h.45M33.8 418.5h.45M44.2 430.2h.45M32.7 428.2h.45M45.2 424.8h.45M29.9 428.5h.45M51.1 433.6h.45M43.9 434.3h.45M46.6 417.9h.45M50 432.3h.45M47.8 424.6h.45M44.2 430h.45M32.5 427.1h.45M36.4 420.9h.45M47.6 434.3h.45M46 417.8h.45M66.5 427.3h.45M25.8 424.1h.45M40.5 420.2h.45M54 441.1h.45M46.8 414.6h.45M52.6 425.6h.45M43 426.4h.45M37.3 426.3h.45M48.7 433.9h.45M61.1 420.1h.45M48.9 418.8h.45M47 433.6h.45M50.9 422.6h.45M59.6 431.7h.45M55.3 425.5h.45M56.1 423.7h.45M52.6 425.2h.45M46 413h.45M53.5 429.3h.45M41.4 425.4h.45M50.6 429.7h.45M30.4 436.2h.45M38.3 439.4h.45M54.7 425.9h.45M47.6 427h.45M43 436.4h.45M41 420.8h.45M44.3 412.7h.45M53.9 415.8h.45M57.5 432.1h.45M61.3 420.3h.45M43.8 421.4h.45M52.1 418h.45M43.6 407.2h.45M46.4 426.5h.45M61.1 418.5h.45M53.4 429.2h.45M52.8 416.4h.45M53.4 426.2h.45M57.1 441.4h.45M40.8 421.7h.45M57.7 412.1h.45M27 427h.45M48.6 436.5h.45M51.6 424.6h.45M41.7 410.8h.45M50.1 420.2h.45M43.1 427.3h.45M30.5 424.2h.45M41.3 440.2h.45M45.2 433.5h.45M38.5 412.7h.45M52.8 422.2h.45M35.8 433.1h.45M49.9 411.6h.45M44.3 440.3h.45M46.9 414.4h.45M39.7 435.6h.45M57.6 430.2h.45M34.5 431.3h.45M39.8 420.9h.45M42.2 433.2h.45M50 429.3h.45M42.7 420.9h.45M54.3 420.1h.45M43.9 429.2h.45M44.7 432.5h.45M50.4 429.9h.45M63.9 420.6h.45M62.2 414.9h.45M40 405.5h.45M40.9 418.6h.45M51.5 434.7h.45M64 420.7h.45M54.3 423.4h.45M31.8 392.3h.45M43.3 409.7h.45M52.8 417.5h.45M51.1 419.6h.45M49.8 417.4h.45M49.2 439.1h.45M49 414.1h.45M40 425.9h.45M52.3 415.1h.45M39 412.1h.45M59.7 427.1h.45M48.6 421.4h.45M60.9 429.4h.45M45.3 434.4h.45M50.6 422.6h.45M43.3 424.9h.45M56.8 413.7h.45M33.2 430.2h.45M54.3 436.3h.45M50.5 413h.45M52.4 426.2h.45M38.3 412.2h.45M34.1 425.4h.45M36.1 427.6h.45M44.9 429.9h.45M52.8 417.6h.45M43.2 430.7h.45M41.1 432.9h.45M50.7 431.9h.45M41.4 431h.45M44.4 426.6h.45M51 420.4h.45M45.7 406h.45M40.7 429.7h.45M37.7 408.1h.45M35 422.5h.45M51.3 429h.45M35.1 428h.45M36.6 433.4h.45M49.1 419.8h.45M42.5 424.2h.45M41.6 434.1h.45M48.4 420.3h.45M49.6 413.9h.45M47.3 422.2h.45M41.7 424.3h.45M47.8 413.2h.45M48.9 448.3h.45M52.2 420.1h.45M48.8 438h.45M37.8 437.9h.45M43.3 439.9h.45M39.7 433.1h.45M41.7 434.8h.45M52.9 427.5h.45M39.7 433.1h.45M48.9 416.2h.45M50.3 423.5h.45M45.2 417h.45M47.7 431.6h.45M39.7 431.2h.45M32.2 425.7h.45M48.1 417.2h.45M47.3 414.4h.45M60.3 427.9h.45M54.3 417.4h.45M28.9 424.1h.45M56.2 423.5h.45M54.8 428h.45M48.6 433.2h.45M41.6 421.5h.45M54.4 428.4h.45M42 416.2h.45M57.3 399.1h.45M53 423.6h.45M36.3 428h.45M49.6 442.9h.45M48.3 404.8h.45M39.1 430.8h.45M42.4 424.3h.45M45.4 436.2h.45M48.5 423.5h.45M41.2 432.8h.45M40.9 428.1h.45M49.2 430.7h.45M51.9 427h.45M60.8 431h.45M40.4 417.6h.45M40.8 435.4h.45M37.9 437.3h.45M49.2 420.1h.45M38.6 424h.45M51.7 424.2h.45M51.4 426.1h.45M56.1 420.9h.45M45.1 415.8h.45M43.7 416.9h.45M34.8 423h.45M51.1 406.9h.45M36.6 413.7h.45M48.8 429.3h.45M48.4 423.3h.45M40.4 426.3h.45M39.6 422.9h.45M49 422.8h.45M54.9 407.5h.45M34.3 432.7h.45M41.9 421.1h.45M42 424.3h.45M44.9 427.7h.45M52.9 439.5h.45M30.4 423.9h.45M39.5 426.5h.45M38.6 425.3h.45M48.1 424.5h.45M47.8 430h.45M38.3 424.4h.45M53.8 432.2h.45M53.2 418.2h.45M41.2 432.6h.45M46.1 427.1h.45M43.5 432h.45M47.3 416.9h.45M48.8 422h.45M44.1 429.3h.45M47.1 420.2h.45M37.5 421.2h.45M45.1 415.3h.45M41.5 443.2h.45M41.4 425.3h.45M37 422.2h.45M47.9 426.1h.45M33.6 425.1h.45M38.9 433.4h.45M45.3 437.3h.45M48.7 415.5h.45M53 420.9h.45M45.2 425.5h.45M36.5 434.1h.45M47.1 416.6h.45M36 428.4h.45M54.9 428h.45M48.3 421.5h.45M54.1 429.1h.45M40.2 419.9h.45M30.2 433.9h.45M68 423.9h.45M49.2 430.8h.45M44.4 441.7h.45M38.6 418.2h.45M57.9 432h.45M51.6 424h.45M45.7 426h.45M49.2 420h.45M53.6 438.6h.45M42.2 417.3h.45M46.9 444.3h.45M39 435.5h.45M41.1 418.8h.45M54 423.5h.45M66.3 386.9h.45M71.8 383.3h.45M73.8 376.4h.45M64.1 386.7h.45M69.6 368.4h.45M65.1 386.8h.45M65.8 395.2h.45M59.1 383.1h.45M62.5 369.4h.45M65.4 381.1h.45M64.6 376.7h.45M70.5 373.6h.45M63.6 370.9h.45M72 370.4h.45M74.6 374.6h.45M66.3 393.9h.45M61.5 391.6h.45M60.4 378.1h.45M69.1 384.1h.45M68.1 384h.45M73.9 369.4h.45M63.3 388.2h.45M59.6 376.3h.45M68.9 382.2h.45M65.7 374.9h.45M62.4 374.1h.45M60.5 382.6h.45M68.5 374.5h.45M67.1 371.5h.45M68.3 379.2h.45M66.2 383.1h.45M72.7 383.2h.45M63.4 382.8h.45M68.4 385.7h.45M71.5 375.4h.45M60.9 386.4h.45M61.2 385h.45M59.6 375.4h.45M68.4 379.5h.45M69.8 383.5h.45M68.1 385.8h.45M59.1 390.3h.45M59.8 374.9h.45M68.4 378.8h.45M69.2 372.9h.45M64.8 383.5h.45M66.2 384.7h.45M74.4 387h.45M61.7 381.3h.45M65.4 375.1h.45M69.6 378.7h.45M67.6 386.5h.45M76.4 377h.45M74.1 383.9h.45M63 382.9h.45M63.6 378.5h.45M69 378.6h.45M66.7 382.6h.45M65.3 383.9h.45M65.7 385.1h.45M62.7 382.2h.45M74.5 375.5h.45M62.7 388.8h.45M68 382.9h.45M67.4 378.6h.45M64 385.6h.45M67.4 386.6h.45M66.9 392.4h.45M71.2 376h.45M74.1 377.4h.45M71.3 376h.45M68.2 382.9h.45M70.1 377.9h.45M67 368.5h.45M64.7 376.8h.45M70.8 383.7h.45M65.8 390.6h.45M63.4 387.5h.45M65.4 385.3h.45M65.1 392.4h.45M70.3 375.5h.45M64.4 392h.45M73.6 372.6h.45M67.3 386.5h.45M65.6 388.9h.45M66.9 375.3h.45M66.3 380.1h.45M65.5 382.5h.45M68.3 375.9h.45M69.8 369.9h.45M69.7 385.6h.45M68.6 370.5h.45M64.2 383.4h.45M68.8 387.6h.45M59.2 382h.45M71.7 373.1h.45M60.7 378.3h.45M65.3 379.9h.45M72.5 384h.45M67 388.4h.45M66.4 392.4h.45M67.2 378.2h.45M60.8 389h.45M65.9 368.7h.45M70.6 391.8h.45M69.7 395h.45M72.4 376.3h.45M68.7 387.6h.45M59.5 392.9h.45M68.9 388.3h.45M62.3 388.3h.45M66.3 379.7h.45M66.7 384.6h.45M59.3 382h.45M68.3 369.7h.45M69.8 382h.45M61.6 373.6h.45M60.7 388.7h.45M62.4 383.4h.45M64.4 388.8h.45M72.6 389h.45M69.7 390.1h.45M74.7 375.4h.45M67.8 377.1h.45M66.8 380.4h.45M67.1 387.4h.45M67.9 390.1h.45M64.7 393.2h.45M65.5 386h.45M70.2 370.7h.45M61.4 383.8h.45M68 373.1h.45M66.8 391.8h.45M72.6 371.9h.45M72.3 385.5h.45M65 382.3h.45M66.4 382.4h.45M65.6 376.5h.45M70.9 395h.45M65.6 392.8h.45M62.8 372.4h.45M69.6 383.9h.45M68.7 374.8h.45M64.6 389.8h.45M74.2 384.1h.45M63.4 392h.45M75.7 375.8h.45M60.3 378.9h.45M63.6 379.3h.45M61.9 387.1h.45M68 372.1h.45M69.2 383.7h.45M61.5 383.1h.45M68.1 376.6h.45M67.1 378.7h.45M63.5 378.1h.45M68.6 394.7h.45M64.4 383h.45M65.4 369.3h.45M66.2 380.6h.45M62.5 387.8h.45M68.4 379.8h.45M62.3 384.4h.45M62.6 375.7h.45M64.1 389.3h.45M65.1 380.9h.45M64.9 386.7h.45M65.7 388.4h.45M65.7 388.6h.45M65 376.5h.45M68.4 380.6h.45M64.3 393.1h.45M64.1 376.2h.45M64.8 393.1h.45M60.1 391h.45M68.9 379.1h.45M64.8 376.7h.45M59.7 370h.45M64.3 386.7h.45M61.9 379.7h.45M62.7 380.6h.45M68.3 391.4h.45M69.2 385h.45M73 387.7h.45M68.7 386.5h.45M70.3 374.4h.45M62.1 382.9h.45M64.8 384.6h.45M69.6 392.2h.45M68 393.2h.45M63.4 385.4h.45M65.6 375h.45M67.5 389.6h.45M64.6 382.9h.45M71.5 380.8h.45M64.8 384.5h.45M68.4 385.3h.45M72.2 385.6h.45M60.6 369.9h.45M65.8 395h.45M66.5 378.9h.45M67.6 386.3h.45M72.2 372.5h.45M69.9 383.7h.45M70.2 390.5h.45M68.6 376.3h.45M65.7 390.3h.45M59.1 388.9h.45M70.1 395.6h.45M62.3 377.5h.45M71 380.1h.45M68.6 376.1h.45M67.3 375.2h.45M66.9 377.8h.45M61.4 387.6h.45M66.2 382.5h.45M60.3 376.8h.45M64.9 377.6h.45M67.9 382.5h.45M65.2 380.9h.45M68.2 390h.45M61.1 389.5h.45M70.5 388.2h.45M63.6 383.8h.45M76.3 372.1h.45M70.2 380.2h.45M74.1 383.3h.45M70.3 377.5h.45M63.9 394.5h.45M60.2 378.2h.45M65 372.7h.45M69.2 372.8h.45M66.4 380.4h.45M70.1 384.3h.45M71.6 394.6h.45M69.7 380.7h.45M65.7 387h.45M60.3 374.2h.45M66.2 395.5h.45M60.9 384.1h.45M62.9 387.7h.45M67.9 381.9h.45M70.5 380.3h.45M65.7 384.6h.45M70 376h.45M64 376.4h.45M69 385.3h.45M67.2 372.2h.45M62.3 371.1h.45M59.7 376.5h.45M67.6 386h.45M67.9 394.4h.45M70.3 370.7h.45M68.5 384h.45M67.8 376.6h.45M73.1 382.9h.45M63.4 368.3h.45M65 371.6h.45M59.2 394.7h.45M65.9 389.7h.45M71.5 387.8h.45M64.2 373.2h.45M65.4 383.1h.45M65.5 379.8h.45M66.9 371.1h.45M71.3 373.1h.45M66.8 375.4h.45M72.7 377.9h.45M61.8 379.3h.45M70.4 372.7h.45M60 378.1h.45M65.4 389.3h.45M64.2 386.9h.45M60.9 379.9h.45M63 385.2h.45M60 395h.45M64.8 378.9h.45M68.6 388h.45M67.3 384.8h.45M67.1 372.8h.45M70 388.9h.45M62.5 368.6h.45M63.3 383.5h.45M73 383.9h.45M66.5 384h.45M66.9 387.5h.45M70.1 394.9h.45M62.9 378.8h.45M64.1 385.9h.45M75.8 383.5h.45M67 375h.45M60.1 395.9h.45M65.8 393.1h.45M70.2 378.3h.45M67.4 375.1h.45M69.3 381h.45M70 391.8h.45M63.4 388.4h.45M68.3 378h.45M67.6 391.8h.45M67 389.7h.45M67.9 391.9h.45M65.6 379.5h.45M63.8 394h.45M74 378.3h.45M62.6 385.2h.45M70.6 395.7h.45M73.6 376.6h.45M70.4 378.2h.45M71.5 385.7h.45M73.2 381.4h.45M70.3 372.2h.45M61.6 386.1h.45M66.8 389h.45M60.5 373.9h.45M63.3 391.1h.45M68.1 379.8h.45M69.5 380.8h.45M67.5 382h.45M59.7 388.4h.45M66.8 377.4h.45M67.2 376.4h.45M66.1 379.2h.45M67.9 374.9h.45M65.8 378.9h.45M61.6 381.5h.45M69.7 387.7h.45M67.8 381.1h.45M70.9 379.9h.45M69.6 368.5h.45M60.5 376.3h.45M71.8 380h.45M68.6 373.5h.45M74.4 395.8h.45M66.4 376.8h.45M67.6 380.1h.45M63.9 370h.45M76.1 372h.45M64.4 384.9h.45M64.8 383.9h.45M70.9 377h.45M68.9 381h.45M59.9 384.2h.45M61.1 390.1h.45M66.4 383.3h.45M71.2 375.5h.45M62.5 393.2h.45M69.9 385.3h.45M61.7 377.2h.45M64.2 384.9h.45M63.9 380.5h.45M66.8 392.5h.45M63.5 382.9h.45M70.4 372.6h.45M61.2 378.4h.45M73.3 378h.45M67.2 390.2h.45M62.5 378.7h.45M60.9 376.2h.45M71.4 377.6h.45M61.2 386.7h.45M67.7 381.5h.45M76.6 384.2h.45M72.2 372.2h.45M66.1 391.8h.45M70.1 389.1h.45M59.1 379.7h.45M74.8 393.4h.45M73.2 388.1h.45M66.9 388.1h.45M72.6 374.2h.45M71.7 388.1h.45M63.8 394.3h.45M72.8 388.9h.45M64.1 384.1h.45M66.3 394.9h.45M76.5 385.3h.45M63 376.2h.45M74.2 384.4h.45M63.1 380.3h.45M64.5 380.8h.45M75.6 376.5h.45M69 389.3h.45M76.9 377h.45M65 378.7h.45M60.2 381.8h.45M62.5 380.1h.45M67.2 387.8h.45M68.2 386h.45M69.1 381.1h.45M71.4 383h.45M59.6 377.7h.45M74 369.2h.45M75.5 382.7h.45M67.8 391.6h.45M67.6 378.1h.45M60.5 387.3h.45M67 374.4h.45M72.5 388.8h.45M60.2 382.6h.45M51 417.5h.45M31.8 411h.45M50.2 409.8h.45M29 396.4h.45M42.9 400h.45M52.4 397.5h.45M27 370.2h.45M48.4 390.9h.45M43.6 420.9h.45M39.2 403h.45M30.7 384.6h.45M49.4 421.7h.45M38 400.5h.45M47 396.6h.45M44.7 397.2h.45M49.5 395.4h.45M39.6 382.1h.45M36.9 380.1h.45M42.7 419h.45M32.1 390h.45M36.9 410.6h.45M41.2 398.3h.45M35.2 399.2h.45M40.8 390.8h.45M57 411h.45M42.5 408.2h.45M65.2 412.9h.45M39.1 402.8h.45M54.6 410.5h.45M41.5 404.9h.45M33.7 398.3h.45M40.2 399.5h.45M56.6 403.8h.45M54.7 403.2h.45M30.1 422.2h.45M39 401.5h.45M54.2 425h.45M45.5 423h.45M39.4 413.3h.45M35.6 418.5h.45M38.8 413.4h.45M32.9 425.6h.45M59.1 399.2h.45M44.6 388.4h.45M42.2 380.8h.45M50.7 402.1h.45M54.8 403.2h.45M41.9 390.4h.45M49.9 401.3h.45M33 380.1h.45M52.9 401.6h.45M43.4 394.7h.45M39.1 403h.45M45.8 384.7h.45M66.9 417.4h.45M26.4 404.2h.45M54.4 393.1h.45M31.4 411.5h.45M38.3 403.1h.45M59.3 403.2h.45M56.3 391.1h.45M27.2 397.2h.45M40.4 413.6h.45M48.1 372.6h.45M33.7 396.4h.45M37.3 393.2h.45M41 405.6h.45M30.1 388.8h.45M35.6 421.6h.45M42.4 380.3h.45M48.5 417.5h.45M29.1 384.4h.45M48.2 403.9h.45M49.6 427.9h.45M50.1 418.5h.45M39.5 424.8h.45M37.6 408.3h.45M25.4 396.8h.45M51.3 388.9h.45M39.7 369.8h.45M40.8 382.9h.45M44.6 395.7h.45M37.7 397.9h.45M40.2 403h.45M41.6 420.6h.45M56.4 399.7h.45M47.3 389.1h.45M49.6 411.9h.45M38.8 385.7h.45M48.8 409.8h.45M35.7 370.2h.45M33.8 409.1h.45M55.7 388h.45M38.8 386.4h.45M47.3 390.9h.45M59.5 412h.45M42.2 396.8h.45M53.3 396.9h.45M40.5 404.6h.45M53.7 424.8h.45M40.9 384.2h.45M35.7 400.4h.45M50 409.2h.45M45.9 380.3h.45M45 395h.45M35.5 412.2h.45M55.5 405.8h.45M49.4 418.2h.45M44.4 396.5h.45M57.8 393.4h.45M41.4 408.1h.45M40.3 388.3h.45M54.1 402.6h.45M37.8 394.1h.45M49.5 415.3h.45M46 420.5h.45M44.1 427.1h.45M52.5 385.4h.45M43.4 407.9h.45M44.1 387.8h.45M48.5 401.9h.45M30.7 383.4h.45M40.7 417h.45M43.9 405.7h.45M52.9 399.5h.45M44.4 401.7h.45M52.5 392.9h.45M47.7 391.8h.45M45 419.6h.45M37.2 410.2h.45M45 406.3h.45M49 404h.45M48.8 430.3h.45M38.1 386.5h.45M51 408.8h.45M62.2 393.4h.45M50.8 394.5h.45M40 393.8h.45M37.1 388.6h.45M41.5 400.4h.45M44.8 415.1h.45M36.3 401.5h.45M36.5 415.4h.45M36.2 397.5h.45M37.3 419.1h.45M33.6 385.6h.45M40.9 397.5h.45M36.1 419.9h.45M39.4 371.2h.45M42.6 382.9h.45M38.5 395.4h.45M36.3 396.5h.45M40.8 412.2h.45M66.7 392.3h.45M40.3 419.9h.45M59.4 414.7h.45M42 432.1h.45M45.1 420.9h.45M39.5 384.2h.45M56.2 389.5h.45M35.1 404.9h.45M36.1 413h.45M45 399.7h.45M39.4 424.9h.45M56.5 420h.45M32.8 427.8h.45M45.3 428.7h.45M49 392.6h.45M29.7 392.7h.45M55 396h.45M58.9 383.5h.45M50 401.1h.45M32 408.6h.45M40.8 398.5h.45M26 387.7h.45M38.5 400.6h.45M37 433.7h.45M40.7 406h.45M41.4 422.1h.45M49.4 418h.45M30.8 405.3h.45M43 412.6h.45M38.4 405h.45M35.6 397.5h.45M47.4 395.3h.45M36.9 400.8h.45M47.1 409.2h.45M33.9 396.4h.45M34 387.7h.45M65.2 421.2h.45M50.5 398.6h.45M51.8 426.3h.45M55.1 413.9h.45M35.5 439.1h.45M50.9 416h.45M47.3 408.6h.45M40.7 377.2h.45M59.9 442.2h.45M48.4 413.2h.45M44.1 414.5h.45M42.9 401.7h.45M49.7 377.1h.45M56.5 397.1h.45M49 412.2h.45M58.3 428.5h.45M32.7 388.4h.45M45.6 378.2h.45M49.6 401.1h.45M37.2 415.7h.45M35.9 391.7h.45M44 416h.45M42.4 397.7h.45M45.8 397.3h.45M27.7 416.9h.45M48.3 419.6h.45M45.1 410.1h.45M29.3 382.2h.45M27 420.8h.45M37.9 423.2h.45M47.8 396.1h.45M43.1 390.9h.45M40 408.1h.45M49.9 395.5h.45M30 420.2h.45M34.1 413.8h.45M30.5 389.2h.45M26.3 412.9h.45M60.5 404.9h.45M25.7 399.5h.45M46.1 408.5h.45M45.2 387.6h.45M41.1 431.6h.45M39 397h.45M33.2 393.5h.45M54.4 408.5h.45M39.3 397.4h.45M51 394.3h.45M36.7 398.2h.45M36.6 414.4h.45M43.6 418.3h.45M39 440.3h.45M48.6 399.7h.45M46.5 371.5h.45M33.6 371.9h.45M41.3 435.9h.45M46.7 380.8h.45M30 408.7h.45M49.3 399.8h.45M56.6 406.6h.45M61.7 415.7h.45M50.4 414.8h.45M56.9 412h.45M47.3 407.8h.45M45.5 411.5h.45M58 378.6h.45M39.7 380.8h.45M38.5 407.2h.45M45.3 408.8h.45M50.2 409.5h.45M40.7 401.1h.45M34.2 396.2h.45M42.8 408.7h.45M29.6 419.7h.45M43 379.5h.45M42.2 411.7h.45M44.5 396.7h.45M35.7 406.3h.45M45 407.5h.45M40.2 421.5h.45M27.5 402.9h.45M29.1 373.6h.45M45.2 415.6h.45M41 409.7h.45M42 420.3h.45M38.3 411h.45M46.5 379.1h.45M53.9 394.1h.45M33.4 393h.45M51.1 396.8h.45M50.5 388.8h.45M45.8 376.9h.45M41 422.5h.45M38.8 405.6h.45M27.4 428h.45M41.5 409.8h.45M40.1 387.4h.45M40.4 398h.45M34.3 400.6h.45M34.8 395.5h.45M46.2 406.3h.45M41.3 409.1h.45M58.6 408.2h.45M44.5 401.6h.45M46.4 412.5h.45M51.9 410h.45M38.1 401.3h.45M36.7 423h.45M37.4 378.7h.45M41.4 390.2h.45M45.1 405.1h.45M35.9 379.9h.45M40.4 383.5h.45M41.6 405.5h.45M39.8 405.3h.45M39.8 427.5h.45M27.7 386.7h.45M53.2 384.6h.45M48.8 399.6h.45M43.3 381.8h.45M39.7 400.6h.45M39.3 369.3h.45M44.6 397.6h.45M29.9 420h.45M42.1 385.9h.45M35.4 407.2h.45M38.3 413.4h.45M32.2 406.7h.45M47.1 410.5h.45M36 388.6h.45M33.1 404.1h.45M25 444.3h.45M40.7 420.6h.45M40.3 422.4h.45M40.8 417.8h.45M51.8 407.1h.45M32.1 409h.45M44.4 398.2h.45M41.1 413h.45M25 410.9h.45M57.1 392.8h.45M53.7 396h.45M40.4 397.6h.45M42.8 391.4h.45M37.8 399.4h.45M35 401.8h.45M51.9 390.4h.45M44.7 391.5h.45M33 402.5h.45M40.5 417.4h.45M49.1 404.1h.45M37.4 422.8h.45M31.6 391.4h.45M49.3 408.7h.45M48.4 399.4h.45M49.3 420h.45M26.3 410.4h.45M51.4 387.4h.45M34.7 408h.45M48.4 402.4h.45M28.8 405.8h.45M47.4 376.5h.45M49.8 374.5h.45M55.3 377h.45M68.6 381.4h.45M42.4 365.4h.45M45.5 379.4h.45M66.8 383h.45M50.7 371.7h.45M51 371.3h.45M32.4 383.7h.45M43.5 368h.45M61.8 390.5h.45M53.8 365.3h.45M39 371.2h.45M51.6 409.7h.45M59.2 378.8h.45M38.9 367.5h.45M40.2 381.3h.45M45.8 384.2h.45M54.7 369.7h.45M58.3 380h.45M67.3 378.5h.45M44.6 378.7h.45M62.9 384.3h.45M62.2 388.8h.45M52.5 400.2h.45M47.7 377.7h.45M61.6 369.5h.45M52.5 388.5h.45M32.4 389.7h.45M77.6 371.9h.45M33.7 368.6h.45M66.9 386.4h.45M56.7 373.4h.45M56.5 373.2h.45M55.4 373h.45M34.2 375.8h.45M53.7 382.6h.45M42.6 387.8h.45M55.8 378.3h.45M48.5 375.7h.45M55 381.7h.45M64.9 371.3h.45M34.4 378.5h.45M46 377h.45M68.5 382.8h.45M63.3 384.9h.45M52.1 383.2h.45M61.7 383.7h.45M56.6 379.1h.45M40.4 382.8h.45M44.4 384.7h.45M64.4 393.1h.45M53.7 370.4h.45M44.5 369.4h.45M53.9 379.8h.45M65.6 384.1h.45M49.9 376.5h.45M28.4 376.4h.45M44.4 372.2h.45M51.2 386.8h.45M58.7 366.4h.45M66 378.2h.45M46.2 382.6h.45M61.9 380.7h.45M45.4 381.6h.45M53.9 397.8h.45M49.7 371.5h.45M71.9 392.9h.45M66.8 371.4h.45M42.6 367.5h.45M48 391.4h.45M60.6 380.1h.45M52.3 384h.45M48 370.4h.45M41.4 394.3h.45M38.6 369.6h.45M56.3 376.7h.45M45.6 381.1h.45M48.1 365.1h.45M60.8 381.6h.45M69.9 387.2h.45M42.9 375.8h.45M58.4 373.7h.45M61.4 381.3h.45M48.4 394h.45M38.7 395.2h.45M45.4 398.7h.45M63.5 375.1h.45M70.6 383.5h.45M54 376.2h.45M49.3 376.1h.45M45.9 386.8h.45M59.6 390.7h.45M64.1 379.1h.45M58.8 377.5h.45M56.8 385.3h.45M54.5 372.7h.45M36 394.9h.45M40.6 374.3h.45M54.6 376.4h.45M55 391.9h.45M31.8 380.6h.45M57.1 367.4h.45M58.7 392.9h.45M50.5 384h.45M46.6 388.5h.45M44 379.9h.45M42.2 373.4h.45M63.7 379.3h.45M60.7 365.7h.45M36 371.8h.45M72.6 390.1h.45M76.4 375.9h.45M57.3 383.1h.45M47 385.1h.45M49.8 384.1h.45M29.1 370.6h.45M38.4 394.7h.45M60.5 371.3h.45M56 374.8h.45M36.8 371.7h.45M85.3 380.6h.45M49 390.8h.45M53.4 370.1h.45M75.5 399.3h.45M59.5 372.3h.45M49.4 380.9h.45M37.1 403.2h.45M50.3 374.9h.45M47 376.9h.45M64 381.8h.45M55.3 379.2h.45M29.5 385.1h.45M58.2 370.7h.45M36.8 374.7h.45M45.4 374.6h.45M51.5 390.4h.45M39.4 366.1h.45M48.9 385.8h.45M67.1 388.1h.45M51.7 380.3h.45M29.7 385.9h.45M59.4 379.2h.45M46.6 383.5h.45M55.3 384.4h.45M55.1 366.4h.45M43.5 365.2h.45M59.5 402.6h.45M40.8 378.6h.45M53.1 373.6h.45M70.1 381.7h.45M75.5 400h.45M55.9 373.2h.45M65.7 377.5h.45M40.6 378h.45M63.4 372.8h.45M47.4 387.5h.45M46.8 387.7h.45M64.5 375.4h.45M36.2 369.4h.45M65.1 384.7h.45M51 376.4h.45M62.7 375.6h.45M82.2 382.6h.45M31.2 389.2h.45M53.1 379.7h.45M47.9 390.3h.45M44.3 393.5h.45M41.1 387.8h.45M32.4 388.3h.45M38.6 377.7h.45M58.9 373h.45M56.3 379.8h.45M65.4 387.7h.45M53 378.1h.45M39.4 392.2h.45M47.2 368.7h.45M39.7 375.8h.45M52.9 387.8h.45M44.3 385h.45M54 379.6h.45M40.6 385.9h.45M48.9 377.6h.45M48.6 377.7h.45M53.5 389.4h.45M50.8 374.1h.45M48.5 378.4h.45M55.7 386.4h.45M69.3 387.6h.45M29.9 372.3h.45M35 382.3h.45M77.5 383.7h.45M43.2 391.9h.45M57.2 372.6h.45M38.5 392.6h.45M41 384.6h.45M33.9 379.7h.45M39.5 365h.45M43.7 375h.45M53.1 364.6h.45M52.8 376.5h.45M30.9 390.3h.45M44.5 383.4h.45M68.2 383.3h.45M60.9 381.6h.45M42.9 381.4h.45M31.1 383.9h.45M59.6 383.5h.45M41.8 369.1h.45M40.9 377.2h.45M32.8 396.5h.45M40.2 380.8h.45M44.2 380.8h.45M49.4 379.3h.45M54.4 375h.45M59.4 381.6h.45M49.1 379.9h.45M62.2 379.4h.45M68.2 380.8h.45M52.6 379.7h.45M53.2 383.8h.45M42.3 386.6h.45M80.2 384.4h.45M51.1 372.7h.45M40.6 372.5h.45M52.8 373.7h.45M68.7 376h.45M39.1 371.7h.45M48.5 378.4h.45M60.7 373.4h.45M53.6 388h.45M52.5 388.7h.45M54.3 379.8h.45M26.7 393.8h.45M47.4 369.3h.45M45.7 381.1h.45M50.2 371.8h.45M78.2 390.6h.45M61.5 385.3h.45M44.9 369.4h.45M34.5 389.1h.45M50.6 394h.45M55.1 374.9h.45M60.1 373.9h.45M46.3 384.3h.45M51.5 382.2h.45M52.2 388.8h.45M72.7 373.9h.45M49.1 382.6h.45M40.4 375.3h.45M52.7 379.8h.45M59.2 377.6h.45M41.6 366.9h.45M29.5 382h.45M53.3 376.1h.45M57.2 369.2h.45M45.6 377.6h.45M40.7 377.2h.45M52.9 400.7h.45M61.6 431h.45M71.4 411.5h.45M67.3 417.8h.45M72.2 415.8h.45M74.4 412.1h.45M56 432.5h.45M73.7 432.7h.45M85.3 434.5h.45M61.5 433.5h.45M51.7 432h.45M66.3 420.8h.45M53 435h.45M37.7 420.6h.45M44.8 418.5h.45M56.3 412.9h.45M54.3 425.9h.45M85 442.9h.45M59.3 417.7h.45M68.9 412.8h.45M43.9 434h.45M56.7 440.4h.45M65.6 405.5h.45M65.1 428.3h.45M62.3 406.6h.45M43.6 444.4h.45M28.2 411.3h.45M71.1 443.6h.45M69.3 422.3h.45M66.1 435.9h.45M55.3 437.5h.45M64.6 425h.45M66.8 426.3h.45M50.6 440.8h.45M55.8 419.4h.45M33.5 403.3h.45M68.3 421.5h.45M60.4 418.2h.45M68.9 414.9h.45M43.9 403.5h.45M52 426.3h.45M78.7 429.2h.45M53.5 407h.45M71.4 428.5h.45M60.9 429.9h.45M68.6 428.5h.45M77.4 404.5h.45M53.8 416.3h.45M49.7 445.8h.45M65.8 427.5h.45M71 419.8h.45M71.6 420.2h.45M70.6 429.2h.45M77.1 404.7h.45M50.6 413.6h.45M51.7 427.1h.45M73.1 418.5h.45M74.4 433h.45M54.6 430.4h.45M78.7 417h.45M35.5 429.1h.45M65 429.9h.45M67.8 422h.45M61.5 413.2h.45M84.9 440.9h.45M60 412.6h.45M66.8 441.4h.45M62.2 413h.45M72.9 425.7h.45M52.2 420.1h.45M63.6 409.5h.45M65.1 437.7h.45M74.2 437.3h.45M70.6 421.7h.45M69 437.1h.45M62.2 428.8h.45M54.3 422.8h.45M56 410.1h.45M41.6 417.1h.45M64.1 414h.45M63.7 432.8h.45M42.4 421.6h.45M68.7 429.5h.45M83.4 425.2h.45M76.5 416.1h.45M51.1 416.5h.45M56.6 433.3h.45M70.7 423h.45M51.2 424.5h.45M56.9 418.4h.45M41.2 441.3h.45M93.7 423.5h.45M88.1 417.9h.45M94.9 422.3h.45M40 422.8h.45M71.4 443.1h.45M73.4 443.8h.45M64.1 404.9h.45M63.7 412.5h.45M71.8 397.7h.45M50.2 409.1h.45M63.2 435.1h.45M58.3 407.5h.45M55.8 421.1h.45M75.7 424.3h.45M78.3 389.2h.45M43.5 434h.45M46.4 415.6h.45M67.9 425.6h.45M65.4 420.7h.45M39.9 403.6h.45M51.8 411.1h.45M56.4 402.6h.45M60.5 428.7h.45M56 438.8h.45M64.4 433.9h.45M51.3 425.4h.45M45 400.4h.45M41 418.1h.45M64.8 448.2h.45M65.7 418.5h.45" stroke="#000" stroke-width="0.45" fill="none" opacity="0.85"/>
<rect x="23.9" y="363.9" width="99.3" height="85.2" fill="none" stroke="#000" stroke-width="1.45"/>
<rect x="58.5" y="367.7" width="19.2" height="28.8" fill="none" stroke="#000" stroke-width="1.3"/>
<text x="21.6" y="371" font-size="4" text-anchor="end">10<tspan dy="-1.7" font-size="2.8">3</tspan></text>
<text x="21.6" y="386.8" font-size="4" text-anchor="end">10<tspan dy="-1.7" font-size="2.8">2</tspan></text>
<text x="21.6" y="408.6" font-size="4" text-anchor="end">10<tspan dy="-1.7" font-size="2.8">1</tspan></text>
<text x="21.6" y="428.6" font-size="4" text-anchor="end">10<tspan dy="-1.7" font-size="2.8">0</tspan></text>
<text x="51.5" y="458.6" font-size="4" text-anchor="middle">10<tspan dy="-1.7" font-size="2.8">0</tspan></text>
<text x="74.3" y="458.6" font-size="4" text-anchor="middle">10<tspan dy="-1.7" font-size="2.8">1</tspan></text>
<text x="97.3" y="458.6" font-size="4" text-anchor="middle">10<tspan dy="-1.7" font-size="2.8">2</tspan></text>
<text x="120.1" y="458.6" font-size="4" text-anchor="middle">10<tspan dy="-1.7" font-size="2.8">3</tspan></text>
<text x="11.2" y="402" font-size="7" text-anchor="middle" transform="rotate(-90 11.2 402)">CD4+</text>
<text x="78" y="466.2" font-size="7.1" text-anchor="middle">FoxP3-GFP</text>
<ellipse cx="61.8" cy="596.8" rx="6.67" ry="3.74" transform="rotate(-8 61.8 596.8)" fill="#000" opacity="0.85" filter="url(#b2)"/>
<path d="M67.8 596.3h.45M61.9 597.2h.45M68.1 601.4h.45M53.7 598.3h.45M59.1 597.2h.45M75.2 594.1h.45M48.1 601.6h.45M58.6 594.1h.45M75.4 601.7h.45M67.7 596.8h.45M58.3 602.3h.45M60.5 597.8h.45M60.8 597.5h.45M49.8 594.3h.45M53.4 590.5h.45M54.8 596.1h.45M60.6 596.6h.45M59.7 600.6h.45M49.6 596.7h.45M60 594.1h.45M69.6 595.3h.45M68.3 597.7h.45M60.6 600.3h.45M52.8 593.8h.45M58.3 589.1h.45M59.2 596.4h.45M51.2 594.7h.45M69.2 597.8h.45M63.6 601.1h.45M62.9 600.8h.45M67.8 603.2h.45M67.6 594h.45M65.8 600h.45M66.6 603.6h.45M63.2 595.1h.45M67.4 599.9h.45M61.9 598.5h.45M62.7 597.5h.45M63.7 595.1h.45M66.2 597.4h.45M71.9 596.4h.45M61.8 592.6h.45M74.6 594.2h.45M58.7 596.3h.45M61.7 596.4h.45M71.3 593.8h.45M60.2 595.4h.45M64.5 590.8h.45M67.3 594.7h.45M54.3 602.9h.45M54.5 600.2h.45M61.6 594.5h.45M51.9 595.7h.45M66.1 595.9h.45M58.9 600.5h.45M62 597h.45M56.1 592.8h.45M59.2 598.1h.45M59.5 598.1h.45M60.2 596.1h.45M61.7 597.9h.45M48.9 598.5h.45M60.4 595.4h.45M67.9 599.8h.45M68.7 598.2h.45M64.4 596.8h.45M65.8 593.9h.45M61.1 597.9h.45M60.3 592.7h.45M61 595.4h.45M58.3 599.3h.45M67.9 596.1h.45M55.1 597.1h.45M60.2 593.3h.45M58.3 597.7h.45M58.6 598.7h.45M54.5 599.9h.45M57.8 597.7h.45M61.6 595h.45M66.9 589.9h.45M63.1 598.7h.45M60.3 596.7h.45M55.1 597.5h.45M62.4 594.6h.45M61.6 595.4h.45M55.8 597.2h.45M57.6 600.2h.45M57.8 602h.45M61.5 596.6h.45M57.7 598.7h.45M55 592.4h.45M63.2 589.4h.45M68 594h.45M70.9 596.2h.45M70.4 590.5h.45M59.2 597.9h.45M58.5 597.3h.45M61.1 599h.45M68.9 588.3h.45M64.7 592.3h.45M70.4 590.4h.45M57.1 599h.45M61 599.1h.45M63.5 593.8h.45M52.8 601.8h.45M60.4 596.5h.45M59.8 596h.45M57.5 597.4h.45M62.5 592.3h.45M52.8 599.8h.45M66.5 594.1h.45M60.5 595.1h.45M64 596.1h.45M58.1 594.6h.45M64.4 597.5h.45M59.3 598.3h.45M43.5 597.7h.45M61.7 589.8h.45M58.4 597.9h.45M69.1 596.9h.45M54.9 600.6h.45M60.4 599.6h.45M52.8 592.4h.45M52.7 599.9h.45M68.7 596.5h.45M62.6 596.1h.45M62.3 593.1h.45M69.2 598.3h.45M67.2 595.6h.45M67 599.2h.45M76.7 598.2h.45M57 594.6h.45M67 597.6h.45M64.9 596.4h.45M57 597.8h.45M53.3 598.8h.45M75.3 597.2h.45M56.3 594.5h.45M76 596.8h.45M58.9 599h.45M59.3 593.4h.45M62.7 598.2h.45M68.6 591.4h.45M70.2 594.6h.45M50.6 601.5h.45M67.7 597.6h.45M66.1 593h.45M63.9 590.8h.45M71.5 596.6h.45M64.7 596.5h.45M65.5 596.8h.45M56.1 596.2h.45M50.1 595.4h.45M60.9 598h.45M74 589.5h.45M73.8 593.5h.45M59.2 596.7h.45M74 591.3h.45M59.8 598.7h.45M67.5 597.1h.45M62.9 599.8h.45M56.7 602.6h.45M59 598.3h.45M56 595.4h.45M67.8 597.7h.45M61 599.5h.45M79.5 585.9h.45M49.8 599h.45M52.1 601.4h.45M56.9 597.3h.45M57.8 604.1h.45M69.9 589.8h.45M65.5 595.1h.45M70.5 596.5h.45M57.2 595.8h.45M62.8 602.2h.45M62 594.9h.45M59.8 599.8h.45M60.7 602.7h.45M67 596.4h.45M62.2 595.5h.45M48.4 602.5h.45M70.5 594.7h.45M62.8 592h.45M60.7 597.4h.45M61.3 596.9h.45M67.9 598.2h.45M66.1 594.1h.45M58.7 597.1h.45M51.7 593.3h.45M63.7 596.4h.45M62.8 600.5h.45M49.3 599.8h.45M59.8 592.6h.45M66.3 600.7h.45M53.1 598h.45M67.5 596h.45M59.6 600.2h.45M51.6 597.9h.45M57.9 597h.45M54.4 598.3h.45M69.2 597.1h.45M53.9 596h.45M56.6 592.4h.45M66.3 597.7h.45M61.4 601.7h.45M65.7 594.2h.45M61.9 596.2h.45M62.3 601h.45M68.8 592.5h.45M72.6 589.8h.45M61.3 604.9h.45M66.3 600h.45M62.8 598.2h.45M58.6 602.1h.45M60.3 595.1h.45M52.5 594.6h.45M64.7 596.4h.45M72.3 597.3h.45M63.4 593.8h.45M64.3 591.5h.45M58 601.9h.45M62.9 592.7h.45M58 596.8h.45M63.7 597.1h.45M65.2 586.2h.45M65.2 589.9h.45M59.2 597.5h.45M67.7 593.8h.45M53.6 595.1h.45M64.4 604.4h.45M54.3 596h.45M58.1 601h.45M65 595.7h.45M64.3 601.7h.45M59.6 593.2h.45M61.4 592.6h.45M63.5 599.4h.45M60.1 600.1h.45M69.8 601.8h.45M60 598.9h.45M67 598.7h.45M67.7 597.5h.45M66.3 599.2h.45M65 598.2h.45M63.5 596.3h.45M51.1 598h.45M61.8 594.9h.45M59.8 601.2h.45M59.3 589.5h.45M58.7 596.8h.45M69.2 596.7h.45M64.7 594.5h.45M57.8 592h.45M65.6 596.3h.45M57.7 597.5h.45M68.8 598.9h.45M67.1 599.9h.45M63.3 596.6h.45M62.1 598.3h.45M52 599.1h.45M61.7 593.8h.45M59.1 601h.45M59.5 596.8h.45M70.1 592.4h.45M61.4 595.4h.45M58.7 596.6h.45M64.9 595.4h.45M67.7 598.4h.45M55.6 597.8h.45M60.2 592.7h.45M51.9 601.5h.45M64.1 600.5h.45M71.4 598h.45M64.6 600.6h.45M60.9 595.6h.45M67.9 598.1h.45M58.7 595.8h.45M55.4 604.7h.45M59.4 595.4h.45M58.1 595.5h.45M62.6 596.8h.45M65.3 587.9h.45M63.4 602.1h.45M61.9 594.8h.45M73.2 593.4h.45M66 597h.45M60.5 593.6h.45M62.9 597.3h.45M71.7 590.3h.45M53.1 599.8h.45M51.8 588.7h.45M60.4 600.8h.45M50.5 593.3h.45M70.1 592.6h.45M56.6 596.9h.45M71.1 594.8h.45M66.3 595.6h.45M55.7 598.5h.45M51.8 601.6h.45M52.5 598.5h.45M49.3 598.2h.45M63.8 594h.45M73.1 595.1h.45M63.7 591.6h.45M59 597.9h.45M66.4 598.1h.45M53 593h.45M55.8 601.3h.45M51 594.1h.45M62.5 596.5h.45M61 594.1h.45M63.7 596.1h.45M60.8 597.6h.45M60.4 596.3h.45M68.7 598.1h.45M62.3 597.1h.45M69.1 591.2h.45M50.6 598.4h.45M51.3 594.6h.45M63.2 597.2h.45M59.4 594.5h.45M52.9 595.6h.45M57 597.3h.45M67 595h.45M55.4 599h.45M68.9 596.8h.45M59 595.8h.45M59.4 593.6h.45M66.9 595h.45M73.5 599.1h.45M58.6 594.5h.45M51.5 598.2h.45M63.8 595.2h.45M61.3 598.3h.45M57.2 597.2h.45M60.9 601.9h.45M65.6 595.8h.45M55.7 597.1h.45M57 596.2h.45M64.1 599.1h.45M67.3 594h.45M62.8 596.5h.45M67.6 603.2h.45M68 598.8h.45M63.4 598.2h.45M50.4 599.4h.45M60.9 596.7h.45M62.8 592.6h.45M59.9 599.7h.45M65.9 596.8h.45M64.6 593.7h.45M69.5 588.8h.45M59.4 594.5h.45M59.2 597.8h.45M62.9 599.8h.45M73 596.9h.45M56.4 597.5h.45M57 594.8h.45M59.9 600.1h.45M57.3 598.5h.45M57.8 600.2h.45M67.8 591.2h.45M65.6 593.3h.45M63.7 596.2h.45M66.1 592h.45M72.9 596.3h.45M58.7 601.4h.45M69.8 597.4h.45M58.5 594.6h.45M57.4 602.7h.45M62.1 596.6h.45M60.3 601h.45M60.1 599.8h.45M51.2 595.7h.45M63.3 593.4h.45M71.9 588.6h.45M64.3 598.2h.45M64.3 596.2h.45M63.1 594.5h.45M47.1 605h.45M62.5 602.6h.45M62.2 600.4h.45M69.4 593.8h.45M49.1 602.5h.45M72.2 590.4h.45M58.9 596.9h.45M60.6 599h.45M61.4 598.8h.45M56.4 592.3h.45M72.4 596.1h.45M63.5 592.7h.45M64.4 596.3h.45M64.6 596.8h.45M68.5 600.5h.45M59.6 595.8h.45M65.3 591.5h.45M57.6 596.2h.45M50.6 604.7h.45M60.2 596.3h.45M55.3 599.5h.45M58.7 593.3h.45M64.4 601.5h.45M53.3 597.9h.45M74.2 594.4h.45M58.5 602.6h.45M63.5 599.6h.45M71.5 597.6h.45M64.6 602.8h.45M52.7 594.3h.45M60.2 595h.45M60 590.8h.45M52.9 600.4h.45M60.9 598.3h.45M59.6 597h.45M53.9 603.8h.45M67.2 591.6h.45M59.4 598.3h.45M59.4 597h.45M62.2 590.6h.45M66.3 597.7h.45M56.1 597h.45M61.2 596h.45M61.4 591.8h.45M62.3 598.1h.45M64.2 597.9h.45M58.6 597.7h.45M67.4 596.3h.45M63.1 596.8h.45M64.3 592.2h.45M61.9 599.6h.45M56.9 599.4h.45M59 595.8h.45M55 594.7h.45M67.9 591.1h.45M62 592.2h.45M73.7 597.5h.45M56.7 593.7h.45M60.4 598.1h.45M72 600.2h.45M56.3 598.4h.45M66.8 593.7h.45M59.5 600.2h.45M53.9 598h.45M61.3 595.9h.45M61.2 591.5h.45M66.3 594.7h.45M73.9 601.7h.45M60 603.5h.45M69.6 593h.45M60.9 600.9h.45M57.5 596.3h.45M46.7 594.2h.45M54.8 595.4h.45M57.7 598.2h.45M63.1 595.4h.45M54.1 598.7h.45M65.3 596.1h.45M69.5 594.2h.45M66.7 597h.45M70.1 601h.45M54.3 591.8h.45M67.9 597h.45M63.6 595.1h.45M58.1 601.3h.45M64.3 594.7h.45M62.2 597.7h.45M54 595.8h.45M64.8 596.9h.45M54.1 598.9h.45M73.5 597.2h.45M54 596.4h.45M57.9 594.8h.45M56.8 595.6h.45M60.7 592.8h.45M67.2 597.1h.45M73.3 598h.45M67.5 597.7h.45M60.7 593.4h.45M65.7 596.6h.45M58.3 598.7h.45M63.4 594.5h.45M69.9 594.1h.45M63 600.2h.45M58.7 596.2h.45M64.3 595.4h.45M58.4 593.6h.45M62.9 595.4h.45M67 599.5h.45M62 599.4h.45M58.5 602.6h.45M58.6 596.9h.45M59.5 595.5h.45M66.4 596.2h.45M57.1 600.1h.45M62.3 598.7h.45M62.8 595.2h.45M51.4 597.3h.45M57.3 601.5h.45M61.3 601.8h.45M75.5 598.8h.45M75 591.9h.45M58.5 593.9h.45M53.6 593.7h.45M66.5 593.5h.45M60.2 599h.45M60.2 602.2h.45M68.9 598.2h.45M71.6 597.2h.45M63.4 600.3h.45M67.2 591.6h.45M68.6 599.3h.45M63.4 601.3h.45M55.2 598.5h.45M57.5 594.7h.45M62.7 592h.45M62 599.1h.45M57.1 593.9h.45M65.5 599.4h.45M66.8 594.4h.45M60.2 601.6h.45M67 597.2h.45M63.1 596.2h.45M65.6 598.7h.45M62.2 597.7h.45M53.9 597.5h.45M71 596.3h.45M53.8 596.5h.45M63 601.5h.45M74 595h.45M61 597.4h.45M56.2 602h.45M55.4 600.2h.45M58.8 593.9h.45M64.5 602h.45M55.1 598.5h.45M58.4 600.9h.45M52.9 593.9h.45M59.1 593h.45M66.7 591.3h.45M62 595.2h.45M67.2 594.4h.45M61.5 602.5h.45M66.1 600.4h.45M70.1 597.4h.45M62.9 591.2h.45M51.8 596.9h.45M64 600.3h.45M57.3 596.5h.45M73.2 591.6h.45M60.7 596.7h.45M58.6 602.3h.45M52.6 597.2h.45M52 596h.45M69.8 589.2h.45M52.3 598.3h.45M63.5 594.2h.45M64.2 595.9h.45M59.7 597.5h.45M68.3 592.1h.45M66.8 597.1h.45M60.3 594.7h.45M64.1 599.2h.45M56.8 600h.45M62.4 599.6h.45M63.3 596h.45M63.3 598.8h.45M53.6 598.1h.45M48.1 599.5h.45M59.1 597.4h.45M67.9 599.1h.45M70.4 598.8h.45M60.3 594.5h.45M76.2 592.6h.45M60 598.6h.45M57.2 598h.45M62.8 595h.45M56 597.8h.45M63.8 593.4h.45M62.6 597.1h.45M57 598.9h.45M54.5 600.9h.45M58.2 600.8h.45M62.4 597h.45M54.6 600.4h.45M56.6 605h.45M64.4 597.2h.45M62.3 599.1h.45M64.6 597.8h.45M66.7 595.7h.45M70.3 590.7h.45M52.7 600.1h.45M61 592h.45M54.6 595.5h.45M69.3 598h.45M51.8 593.9h.45M62 592.8h.45M58.1 595.5h.45M62.4 598.7h.45M57.6 595.8h.45M64.1 601.9h.45M64 595.4h.45M67.1 595.7h.45M54.3 600.1h.45M70.6 592h.45M65.6 592.3h.45M61.3 596.6h.45M59.8 596.8h.45M65.5 594.7h.45M60.4 596.1h.45M63.1 594.6h.45M66.4 597.2h.45M57.9 593.2h.45M60.8 600.4h.45M65.5 596.4h.45M74.1 600.3h.45M65.4 601h.45M60.2 595.9h.45M62.3 590.6h.45M61.8 595.2h.45M69.8 597.6h.45M70.5 594.2h.45M70.3 596.2h.45M65 597.8h.45M55 600.8h.45M59.6 599.3h.45M61.1 593.7h.45M60.2 598.1h.45M60.9 602.6h.45M68.8 596.2h.45M60.4 601.8h.45M62.6 600.6h.45M53.2 591.5h.45M66.6 599.2h.45M60.9 596.5h.45M64.7 598.2h.45M61.4 597h.45M63.7 600.2h.45M64.7 587.9h.45M63.7 595.6h.45M68.3 598.3h.45M58.8 597h.45M48.5 598.3h.45M55.7 598.1h.45M58.3 601.4h.45M69.1 594.7h.45M57.4 601.8h.45M54 596.8h.45M59.8 598h.45M61.7 593.9h.45M67 597.4h.45M64.4 601.7h.45M72.7 596.2h.45M59.4 596.3h.45M60.7 593.5h.45M57.6 595.8h.45M65.2 598.8h.45M47.1 593.6h.45M57.9 593.9h.45M60.9 591.2h.45M60.6 597.7h.45M63.9 595.1h.45M64.6 599h.45M59.4 593.7h.45M59.1 598.2h.45M62.7 591.1h.45M52.6 592.8h.45M72.3 596.8h.45M62.3 592.9h.45M64.2 588.4h.45M71.2 596.8h.45M61.7 597.7h.45M66.1 589.7h.45M62.9 592.5h.45M59.4 596.5h.45M59.1 594.8h.45M62.6 595.4h.45M63.7 599.1h.45M56.9 596.9h.45M57.3 600.2h.45M66.5 599.6h.45M67.9 596.4h.45M55.8 595.2h.45M68.8 596.3h.45M66.1 594.3h.45M61.4 603.3h.45M66.7 590.9h.45M57.9 597.9h.45M68.3 599.1h.45M67.3 600.1h.45M66.2 599h.45M56.3 593.6h.45M59.5 601.4h.45M69.1 592.3h.45M60.3 597.3h.45M65.3 597.5h.45M70.4 596.5h.45M60.5 596.2h.45M67.9 595.1h.45M64.7 595.1h.45M54.2 590.8h.45M59.8 594.5h.45M66.3 595h.45M56.9 599.9h.45M60.4 603.9h.45M59.3 597.4h.45M58.1 602.4h.45M63.4 595.9h.45M60.3 590.2h.45M69 595.9h.45M68.1 593.2h.45M69.8 593.6h.45M62.9 603.3h.45M59 597.3h.45M61 597.3h.45M62.6 596.2h.45M64.1 595.1h.45M69.7 598h.45M55.1 596h.45M60.4 600.2h.45M51.3 602h.45M50.4 596.4h.45M56.8 596.4h.45M66.7 599.2h.45M61.1 596.3h.45M56.8 601.4h.45M52.6 595.9h.45M66.6 602.2h.45M60.2 598.5h.45M58.4 598h.45M50 600.6h.45M59 598.7h.45M60.6 593.8h.45M52.5 594.9h.45M61.9 599.2h.45M68.6 599.1h.45M74 598.4h.45M72.4 598h.45M62.9 591h.45M67.3 595.6h.45M59 592.8h.45M69 595.8h.45M59 594.6h.45M61.5 598.4h.45M65.3 596.7h.45M63.1 596.9h.45M59.9 600.9h.45M60.8 595.1h.45M71.2 592.4h.45M59.3 597.6h.45M60.8 596.7h.45M67.8 599.3h.45M55 604h.45M54.6 594.4h.45M65.2 593h.45M55.3 600.5h.45M64.9 597.7h.45M70.3 599.1h.45M59 595.7h.45M64 595.1h.45M63.7 599.5h.45M62.7 592.1h.45M71.2 595.3h.45M63.1 591.3h.45M61 592.7h.45M70.6 594h.45M53.9 597.6h.45M56.6 597.8h.45M55.7 592h.45M60.6 596h.45M57.5 599.7h.45M66.6 595.9h.45M61.5 598.1h.45M67.1 596.7h.45M55.7 599.8h.45M75.7 597h.45M63.4 594.8h.45M53.3 599.7h.45M65.3 597.8h.45M63.3 600.9h.45M60.3 590.8h.45M61.1 597.5h.45M66.5 598h.45M66 597.8h.45M63 592.8h.45M60.4 600.4h.45M70 586.9h.45M60.8 595.6h.45M65.8 589.8h.45M58.7 597.9h.45M56.4 591.9h.45M72.3 594.5h.45M62.4 598.8h.45M72.3 593h.45M60.8 595.9h.45M67.6 599.1h.45M70.6 594.2h.45M54.6 595.8h.45M51.1 599.5h.45M50.2 599.9h.45M56 599.1h.45M70.2 595.3h.45M61 597.1h.45M58.3 598.5h.45M60.4 597.6h.45M57.4 599.2h.45M63.3 593.8h.45M60.7 592.4h.45M53.2 594.4h.45M63.9 595.2h.45M61.6 597.8h.45M60.1 596.5h.45M59.5 604.3h.45M57.3 599.5h.45M61.2 602.9h.45M55.2 597.5h.45M63.8 595h.45M74 596h.45M63.3 591.1h.45M63.6 592.6h.45M65.1 597.6h.45M60.8 595.1h.45M56.8 595.4h.45M70.2 593h.45M60.2 598.4h.45M53.8 596.6h.45M68.3 596.7h.45M65.3 598.7h.45M60.5 589.2h.45M66.3 598.1h.45M48.1 598.1h.45M69.3 592h.45M67.8 600.8h.45M60.9 596h.45M56.2 599.7h.45M63.4 598.4h.45M61.4 597h.45M58.8 600.8h.45M61.5 601h.45M66.5 593.7h.45M55.8 601.1h.45M63.8 595.4h.45M66.8 589.5h.45M64.8 595.2h.45M65.7 594.4h.45M59.3 599.4h.45M63.2 591.9h.45M65 598.7h.45M51.9 595.1h.45M54.8 594.6h.45M58.6 603.5h.45M55.5 594.6h.45M60.9 601.3h.45M59.8 600.2h.45M67.4 594.7h.45M64.4 599.7h.45M63.8 601.9h.45M64.7 601.6h.45M56.1 598.4h.45M47.4 594.2h.45M58.3 596h.45M60.7 598.7h.45M52.6 592.5h.45M66.2 597.2h.45M67.5 598.8h.45M63.3 594.9h.45M64.1 593.4h.45M54.1 596.8h.45M74 591.9h.45M69.3 595.2h.45M71.3 593.8h.45M54.7 595.7h.45M60.8 598.8h.45M57.7 598.1h.45M75.2 595h.45M66.7 604.8h.45M57.4 597.4h.45M59.9 598h.45M57 596.5h.45M65.9 596.3h.45M51.2 602.1h.45M64.7 602.7h.45M57 598.7h.45M56.8 600.1h.45M59 601.4h.45M61.3 589.7h.45M55.5 599.9h.45M66.4 599.5h.45M64.3 594.9h.45M62.4 596.9h.45M62.2 600.1h.45M56.2 596.6h.45M69.1 595.3h.45M64.6 594.7h.45M62.6 601h.45M70.8 595.7h.45M58.7 602.2h.45M50.7 597.8h.45M66.8 603.9h.45M67.6 595.6h.45M61.3 596.7h.45M56 596.3h.45M62.7 591.1h.45M55.7 587.9h.45M67.1 596.4h.45M51.5 593.4h.45M58.4 602.7h.45M63.9 592.8h.45M58 591.9h.45M55.4 592h.45M72.2 597.6h.45M69.3 597.2h.45M57.8 600.6h.45M64.1 594.1h.45M52.2 598h.45M54.5 596.9h.45M49.1 592.5h.45M67.4 597.8h.45M62.3 595.8h.45M62.3 593.6h.45M66.8 601.3h.45M57.4 592.3h.45M60.9 591.2h.45M72.9 594.9h.45M64.1 597.1h.45M58.4 594.8h.45M56.3 604.1h.45M62.5 600.2h.45M70.1 594.6h.45M58.5 595.9h.45M63.3 593.3h.45M67 595.2h.45M57.5 599.7h.45M69.4 592.7h.45M60.5 596.4h.45M65 598.9h.45M60.5 593.9h.45M58.6 600.1h.45M72.3 595.9h.45M67.9 593.5h.45M53.9 594.8h.45M79.3 598.5h.45M55.5 595.1h.45M58.9 592.9h.45M64.5 592.7h.45M60.5 598.9h.45M60.6 600.2h.45M59.1 601h.45M57.5 595.4h.45M53.3 599.1h.45M65.6 596.3h.45M70.2 597.7h.45M62.9 591.1h.45M60.8 598.1h.45M55.4 602.6h.45M64.2 601.4h.45M55.3 603.7h.45M69.6 596.1h.45M60.4 602.4h.45M55.8 596.9h.45M68.1 595.6h.45M56.4 593.7h.45M59.3 601.3h.45M77 591.3h.45M54.8 599.8h.45M60.4 595.5h.45M61.4 601.3h.45M65.7 593.7h.45M64 592.3h.45M67.2 589.2h.45M59.5 600.1h.45M71.8 597.1h.45M50.1 597.7h.45M67.3 598.1h.45M63.6 594.6h.45M50.2 596.8h.45M62.2 594.4h.45M56.8 598.7h.45M59.8 597.6h.45M67.5 593.5h.45M66.9 592.2h.45M66.9 597.4h.45M64.8 598.8h.45M62.1 590.9h.45M71.5 596.1h.45M62.9 596.8h.45M63.8 595.7h.45M53.3 594h.45M72.2 597.4h.45M56.1 603h.45M62.8 592.9h.45M56.8 595.2h.45M68.6 598.3h.45M60.1 596.2h.45M57.6 597.7h.45M56 600.5h.45M61.5 600h.45M70.9 596.5h.45M65.3 585.9h.45M56.3 598.4h.45M57 601.1h.45M59.6 596.4h.45M49.7 600.8h.45M59.3 601.5h.45M64.6 596.2h.45M66.6 595.2h.45M56.9 597.3h.45M60.8 600.6h.45M57.1 593.8h.45M69.9 598.6h.45M59.6 597.5h.45M53 603.6h.45M57.5 590h.45M61.1 598.6h.45M65.6 597h.45M63 596h.45M61.1 596.1h.45M76.2 595h.45M61.5 589.8h.45M61.7 598.7h.45M65.1 591h.45M62 602.1h.45M60.5 596.3h.45M65.1 596h.45M58.3 595.1h.45M51.7 598.8h.45M65.3 598.3h.45M57.5 598.8h.45M54.8 592.2h.45M64.8 592h.45M53.4 596.8h.45M60.5 602.2h.45M68.7 602.9h.45M62 591.2h.45M54.3 598.7h.45M53.9 599.3h.45M68 597.9h.45M52.3 601.9h.45M72.2 598.8h.45M75.1 592.1h.45M61.3 599.7h.45M68.2 600.9h.45M60.5 594.6h.45M60.2 594.5h.45M62.1 595.6h.45M65.9 593.8h.45M66.7 593.4h.45M69.4 599.8h.45M61.4 596.1h.45M63.9 598h.45M56.1 600h.45M50.3 594.4h.45M54.8 598.4h.45M55.7 589.6h.45M67.7 593.9h.45M59.9 598.2h.45M64 598.4h.45M54.3 598.9h.45M67.7 598.5h.45M69.6 590.7h.45M68.1 591h.45M55.2 598.4h.45M75.9 598.9h.45M61 597.2h.45M67.5 591.8h.45M59.4 595.1h.45M69 597.7h.45M64.1 600.6h.45M59.8 593.9h.45M66.2 589.9h.45M63.3 596.5h.45M52.4 598.7h.45M57.3 602.1h.45M66.6 599.2h.45M67.5 596h.45M68.5 597.9h.45M65.5 599.9h.45M72.5 589.5h.45M58.4 592.3h.45M54.8 600.1h.45M56 596.9h.45M58.9 600.5h.45M71.2 595.9h.45M57.5 595.4h.45M59.9 591.5h.45M54.8 598.4h.45M63.3 597.2h.45M63.4 594h.45M60.6 593.5h.45M62.2 589.9h.45M64.9 597.1h.45M59.4 597.6h.45M67.8 596.2h.45M73.6 599.2h.45M62.4 596h.45M54.4 594.2h.45M63 597h.45M64.6 602.1h.45M64.4 597.8h.45M59.9 593.3h.45M58.7 594.7h.45M72.5 597.2h.45M52.6 595.9h.45M70 583.1h.45M59.1 585.2h.45M57.9 603.5h.45M53.9 602.7h.45M59.8 584.1h.45M66.3 595.3h.45M62.6 602.9h.45M61.5 599.9h.45M63.1 590.8h.45M69.5 600.4h.45M81.1 598.8h.45M43.6 589.4h.45M62.7 602.7h.45M43.5 599.6h.45M52.1 602.2h.45M74.7 590.1h.45M79.6 596.1h.45M64.2 604.2h.45M86.9 588.8h.45M67.1 595.9h.45M72.2 589.7h.45M63.2 602.6h.45M64.5 603.3h.45M69.3 605h.45M78.4 583.3h.45M71.2 591.1h.45M58.7 601.4h.45M76.2 595.3h.45M78.2 602.5h.45M68.8 597.6h.45M71.4 603.1h.45M54.5 595.9h.45M50.2 593.4h.45M67.4 591.2h.45M55.6 594.5h.45M64.4 589.2h.45M65.3 589.8h.45M68.6 598.1h.45M84 585h.45M61.5 589.2h.45M74.4 585.6h.45M80.7 603.3h.45M89 589.8h.45M61.7 594.2h.45M55.2 600.8h.45M77.4 586.2h.45M73.8 595.8h.45M81 590.1h.45M56.2 597.7h.45M68.8 591.5h.45M54.9 600.8h.45M45.4 590.4h.45M61 585.7h.45M67.4 582.6h.45M62.7 597.6h.45M77.6 585.7h.45M68.9 601.7h.45M56 598.7h.45M78 599.2h.45M64 596.9h.45M57.2 599.7h.45M68.1 590h.45M91 593.2h.45M55.3 596.6h.45M68 586.4h.45M55.5 601.4h.45M63.3 594.2h.45M75.1 590.3h.45M46.5 590.4h.45M62.3 593.5h.45M58.8 589.5h.45M44.9 596.8h.45M69.1 595.3h.45M50.7 593h.45M62.5 578.1h.45M71.6 592.2h.45M63.1 594.7h.45M60.8 590.5h.45M76.5 594.1h.45M67.3 591.9h.45M43 595.7h.45M38.9 595.4h.45M67.6 591.8h.45M67.2 604.7h.45M71.6 599.8h.45M60.1 593h.45M76.3 591.3h.45M69.5 595h.45M79.6 594.7h.45M61.6 587.6h.45M34.2 584.5h.45M63.2 602.9h.45M56 594.4h.45M73.1 603.7h.45M38.4 598.9h.45M59.9 601h.45M57.3 583.7h.45M36.1 588.7h.45M58 588.3h.45M47.2 595.8h.45M77.1 591.6h.45M42 599.1h.45M65.6 603.4h.45M52.9 586h.45M58.1 587.9h.45M67 598.2h.45M63.1 594.2h.45M48.6 588h.45M69.2 603h.45M50 582.5h.45M63.7 596.2h.45M52 583.7h.45M76 578.6h.45M70.6 598.8h.45M78.2 590.9h.45M73.7 590.5h.45M73.8 601.5h.45M61.1 582.8h.45M64.3 573.3h.45M78.2 586.9h.45M59.3 602.2h.45M74.2 595.6h.45M58.6 600.5h.45M64.9 591.6h.45M55.9 599.4h.45M57.4 604.8h.45M42.8 591.8h.45M63.5 582.5h.45M82.2 580.6h.45M56.5 593h.45M67.7 603.2h.45M58.4 591.9h.45M77.9 591.2h.45M72.4 592.8h.45M57.3 591.4h.45M51.8 591.3h.45M65.7 593.6h.45M72.6 593.2h.45M67.1 587.5h.45M47.4 604.9h.45M83 588.2h.45M72.1 586.4h.45M54.4 599h.45M74 596.2h.45M76.1 592.3h.45M62.4 595.3h.45M53.6 594h.45M43.9 590.4h.45M71.6 588.8h.45M37.2 592h.45M72.3 592h.45M63.7 598.4h.45M76 589.6h.45M69.6 589.3h.45M54 593.2h.45M73.6 577.9h.45M70.1 590h.45M71.1 594.1h.45M45.8 594.7h.45M41.8 597.9h.45M56.7 602.2h.45M44.1 600.5h.45M52.4 593.2h.45M61.4 595.4h.45M86.5 577.4h.45M61.4 588.3h.45M60.2 592.2h.45M70.4 598.1h.45M66.2 602h.45M58.4 586.5h.45M46.3 603.9h.45M60.6 598.3h.45M70.4 586.6h.45M79.1 596.2h.45M82.8 595.2h.45M52 600.8h.45M63.2 584.4h.45M73 590.6h.45M70.6 604.3h.45M77.6 588.5h.45M73.3 599.5h.45M67.1 601.2h.45M69.5 590h.45M78.9 589.4h.45M58 592.9h.45M48 584.9h.45M64.4 578.9h.45M61.7 599.9h.45M68.1 596h.45M59.3 588.6h.45M68.1 598.8h.45M64.5 600.9h.45M36 593.8h.45M34.3 597.6h.45M63.8 585.4h.45M57.7 595h.45M54.5 594.7h.45M74.4 592.1h.45M75.9 594.8h.45M58.2 596h.45M73.1 588.4h.45M58.3 604.1h.45M73.9 596.7h.45M57.8 594.3h.45M68.7 596.1h.45M71.9 584.9h.45M72.2 585.5h.45M52.6 593.3h.45M59.4 602.5h.45M56.5 596.9h.45M75.8 579.7h.45M73.6 587.1h.45M63.1 595.5h.45M54.9 589h.45M75.3 585.8h.45M74 584.6h.45M51.9 580.9h.45M56.2 593.2h.45M71.1 582.7h.45M65.4 601.9h.45M74.8 602.3h.45M60.2 584.5h.45M64.8 597.8h.45M52.1 594.6h.45M55.5 590.6h.45M60.8 590.5h.45M63.6 590.7h.45M49.2 592.5h.45M78.8 590.3h.45M67.2 598.4h.45M66.1 587.6h.45M55.4 601.8h.45M61.6 597.7h.45M60.7 601.1h.45M62.6 596.3h.45M67.3 579.4h.45M75.8 601.1h.45M56.3 584.5h.45M66.9 587.5h.45M61.1 587.3h.45M50.2 599.9h.45M68.1 596.2h.45M50.4 592.3h.45M63.1 591.7h.45M64.1 591.9h.45M63.5 595.6h.45M72.8 601.4h.45M60.5 580.7h.45M77.4 580.8h.45M68.3 601.7h.45M72.6 601.7h.45M67.3 582h.45M71.4 590.4h.45M74.7 587h.45M71.3 583.7h.45M60.7 594.2h.45M75.2 586.2h.45M69 601h.45M63.2 595.9h.45M85.1 589.4h.45M73.6 601.1h.45M81.7 599.1h.45M57.8 598.3h.45M46.4 589.4h.45M60.1 592.9h.45M56.6 590.5h.45M80.6 581.5h.45M67.9 584.6h.45M66.1 587.9h.45M42.4 584.7h.45M78.4 599.9h.45M60.5 593.8h.45M65.4 583.1h.45M56.6 584.2h.45M57.5 595.7h.45M69.9 588.9h.45M65.8 590.7h.45M61.1 590.8h.45M79 589.1h.45M71.1 574.1h.45M69.8 585.1h.45M60.9 601.3h.45M79.7 574.7h.45M78 589.1h.45M60.1 602.4h.45M61.6 590.7h.45M61.1 593.3h.45M59.8 602.8h.45M80.6 584.3h.45M56.4 594.9h.45M55.6 596.7h.45M65.5 593.9h.45M56.2 598h.45M49.4 594.6h.45M62.2 594.9h.45M72.6 591.1h.45M53.5 599.4h.45M63.4 599.9h.45M84 600.7h.45M62.1 587.7h.45M66 592.4h.45M53.5 585.7h.45M74.9 585h.45M76.5 599.1h.45M54.2 599.2h.45M60.8 584.6h.45M57.1 596.6h.45M73.2 587.1h.45M63 601.8h.45M58.4 590.6h.45M47.8 600.7h.45M54.7 589.3h.45M57.6 590.3h.45M70.2 583.8h.45M73.6 594.7h.45M51.8 589.1h.45M29.1 585.2h.45M55.9 595.4h.45M72.1 591.9h.45M53.9 589.5h.45M80.8 587.4h.45M82.5 589.5h.45M59.2 592.6h.45M70.3 598.5h.45M60.4 598.5h.45M47.3 586.1h.45M45.7 594.7h.45M57.4 600.5h.45M59.3 592.2h.45M58.3 585h.45M67.9 583.1h.45M50.9 599.5h.45M36.5 583.7h.45M57.7 591.4h.45M70.6 585.2h.45M50.4 600.1h.45M53.3 597.5h.45M42.5 596h.45M81.4 580.3h.45M62.8 593.6h.45M64.9 592.9h.45M70.7 588h.45M53.7 597.7h.45M63.5 581.5h.45M71.2 589.9h.45M74.2 592h.45M49.6 594.6h.45M72.6 599.7h.45M62.7 599h.45M78.4 593.2h.45M80.3 595.3h.45M51.5 588h.45M75.1 585.4h.45M54.8 596.2h.45M61.1 600.8h.45M43.7 600.9h.45M67.4 601.6h.45M68.9 595.9h.45M53.8 598.4h.45M67.3 593.8h.45M65.5 594.4h.45M60.4 599.6h.45M62.3 588.3h.45M74.5 597.3h.45M75.5 588.9h.45M76.1 602.4h.45M71.5 595.5h.45M61.1 583.8h.45M52.7 596.2h.45M75.9 595.5h.45M58.3 597h.45M61.6 589.7h.45M64.7 600.2h.45M50.9 594.2h.45M61.9 587.6h.45M54.4 599.5h.45M87.2 589.9h.45M62.7 581.2h.45M55.1 582.5h.45M62.5 604.9h.45M74.1 589.9h.45M56.3 593.2h.45M50.9 590.6h.45M67.9 594.5h.45M65.7 592.9h.45M48.7 601.6h.45M65.2 599.8h.45M64.2 587.3h.45M75.2 597.5h.45M62.1 599.8h.45M68.1 590.2h.45M65.3 588.8h.45M77.8 588.3h.45M76.8 604.3h.45M65.5 598.8h.45M77.1 578.4h.45M87.9 593.6h.45M51.1 598.3h.45M87.3 590.2h.45M80.3 598.4h.45M57.6 598.4h.45M81.6 585.2h.45M64.3 590.5h.45M58 594.3h.45M40.1 595h.45M44.1 591.9h.45M59.3 602.7h.45M53.4 602.9h.45M58.4 590.2h.45M46 599.4h.45M64.2 600h.45M54.3 581.9h.45M71.8 602.2h.45M64.4 595.3h.45M69.7 595.1h.45M91.6 587.9h.45M70.8 599.4h.45M75.4 550.2h.45M77.5 556.9h.45M69.5 568.5h.45M70.9 564.7h.45M71.1 565.7h.45M83.8 550.7h.45M71.1 567.6h.45M70.6 568.6h.45M76.1 554.4h.45M73.9 568.4h.45M82.3 557.2h.45M79.5 564.1h.45M71.2 564.2h.45M82 564.1h.45M71.8 560.9h.45M76.8 558h.45M74.5 563.7h.45M70.7 561h.45M77.6 559.6h.45M72.1 561.3h.45M63.9 561.9h.45M67 558.3h.45M92.2 563.2h.45M73.1 560.7h.45M73.3 559.1h.45M72.9 566.5h.45M76.3 552.2h.45M74.9 555.5h.45M78.4 554.1h.45M75.9 555.6h.45M74.5 562.6h.45M77.4 551.1h.45M68.9 558.8h.45M62.4 568.3h.45M72.7 559.7h.45M72.9 571.5h.45M62 552.2h.45M73 562.9h.45M66.3 564.1h.45M56.3 568.7h.45M73.4 555.7h.45M63.9 560h.45M73.4 567.1h.45M74.5 557h.45M73.1 565.7h.45M67.7 559h.45M81.2 556.9h.45M85 553.5h.45M73.7 563.3h.45M76.7 559.5h.45M66.1 561.1h.45M67.9 561.1h.45M83.1 550.7h.45M79.8 560.1h.45M65.2 571.2h.45M77.8 560.8h.45M79 563.7h.45M76.6 555.6h.45M68.1 558.9h.45M66.9 559.6h.45M65.3 589h.45M62.5 589.5h.45M71.1 586.7h.45M53.2 560.5h.45M70.8 585.2h.45M54.7 575.3h.45M65.3 581.1h.45M55.5 580.8h.45M54.3 579.2h.45M67.8 583.4h.45M60.1 586.3h.45M76.3 578.9h.45M64.6 569.7h.45M68.9 568.2h.45M62.4 588.5h.45M67.6 554.9h.45M58.6 561.7h.45M61.9 569.4h.45M78.3 590.7h.45M57.4 578.7h.45M64.2 589h.45M72.8 586.5h.45M55.6 555.7h.45M53.8 571.8h.45M68.8 570.4h.45M72.1 587.5h.45M64.3 587.8h.45M59.2 589.6h.45M64.4 576.4h.45M58.7 564.3h.45M61.7 585.4h.45M61.2 577.4h.45M74.9 604.3h.45M55 591.2h.45M63.6 581h.45M58.5 579h.45M65.8 584.5h.45M60.1 576.8h.45M68 593.3h.45M61 585.3h.45M68.6 584h.45M57.8 581.3h.45M64.4 572.1h.45M64.2 581h.45M59.2 594.4h.45M65.8 574.2h.45M71.6 578.8h.45M57.3 571.4h.45M70.8 571.6h.45M66 584.9h.45M60.1 587.1h.45M70.6 580.5h.45M63.8 586.5h.45M64.3 591.8h.45M68.8 581.8h.45M65.3 577.9h.45M68.2 575.2h.45M63.6 570.9h.45M79.4 583.5h.45M64.2 584.9h.45" stroke="#000" stroke-width="0.45" fill="none" opacity="0.8"/>
<rect x="27.7" y="541.1" width="65.2" height="64.4" fill="none" stroke="#999" stroke-width="0.6"/>
<path d="M27.7 541.1V605.5H92.9" fill="none" stroke="#444" stroke-width="0.7"/>
<rect x="55.2" y="547.4" width="37.3" height="25.4" fill="none" stroke="#000" stroke-width="1"/>
<text x="59.4" y="536.2" font-size="8.1" text-anchor="middle">Untreated</text>
<text x="42.2" y="610.2" font-size="2.8" text-anchor="middle" style="stroke:none" fill="#333">10</text>
<text x="57.9" y="610.2" font-size="2.8" text-anchor="middle" style="stroke:none" fill="#333">10</text>
<text x="73.6" y="610.2" font-size="2.8" text-anchor="middle" style="stroke:none" fill="#333">10</text>
<text x="89.3" y="610.2" font-size="2.8" text-anchor="middle" style="stroke:none" fill="#333">10</text>
<ellipse cx="137" cy="597.2" rx="8.28" ry="4.18" transform="rotate(-8 137 597.2)" fill="#000" opacity="0.85" filter="url(#b2)"/>
<path d="M125.9 604.5h.45M125.7 601.3h.45M134.7 600.5h.45M141.8 597.6h.45M144.1 595.1h.45M138.6 595.8h.45M131.6 593.8h.45M140.6 603.4h.45M130.8 596.2h.45M132.3 599.4h.45M122.9 599.9h.45M131.3 594.1h.45M138.9 597.7h.45M139.8 601.6h.45M127.6 602.9h.45M147.2 597.8h.45M123.3 600.2h.45M148.4 598.9h.45M135.9 592.6h.45M136.6 591.6h.45M131.2 596.5h.45M139.7 594.4h.45M136.6 597.2h.45M139.3 599.3h.45M140.3 595.7h.45M137.9 594.7h.45M128.1 596.2h.45M135.8 589.5h.45M142.8 597.8h.45M125.3 594.9h.45M129.4 589.4h.45M124.8 600.6h.45M147.9 601.8h.45M141.2 601.2h.45M146 592.2h.45M147.9 592.6h.45M133.1 587.5h.45M133.8 591h.45M153.5 596.4h.45M143.2 594.5h.45M144.1 598.4h.45M134.6 599.7h.45M133.3 592.7h.45M121.6 593h.45M142.4 604.2h.45M133.3 595.3h.45M146.4 595.3h.45M139.5 596.9h.45M118.7 594.4h.45M139.4 597.3h.45M134.3 592.3h.45M137.9 596h.45M129.7 597.3h.45M144.5 592.6h.45M141.9 590.3h.45M119.5 596.6h.45M151.4 598.1h.45M132.2 599.5h.45M121.8 598.6h.45M129.3 593.3h.45M133.7 594.5h.45M138.7 592h.45M140.1 598.6h.45M143.3 598.9h.45M142.7 600.6h.45M146.8 600.1h.45M144.9 590.9h.45M136 603.2h.45M133.1 600.7h.45M145.5 601.4h.45M132.8 598.8h.45M136.4 599.9h.45M123.1 598.9h.45M145.6 596h.45M145.2 601.7h.45M137.9 595.4h.45M132.3 593.1h.45M133.8 596.9h.45M143.7 593.6h.45M132 597.7h.45M136.1 602.4h.45M138 602.7h.45M136.3 586.9h.45M135.1 593h.45M136.6 593.6h.45M143.5 595.2h.45M134.5 595.7h.45M135 600.4h.45M138.9 597.1h.45M145.3 593.7h.45M142.9 599.7h.45M139.1 594.9h.45M136.7 601.7h.45M130.8 601.9h.45M141.2 598.3h.45M140.6 594.8h.45M148.9 595.8h.45M143 595.6h.45M135.3 601.8h.45M130 598.1h.45M130.2 591.8h.45M144.3 596.3h.45M123.6 598.8h.45M154.7 599h.45M135.7 598.9h.45M135.2 598.4h.45M136.3 598.1h.45M134.2 601h.45M127.5 591.7h.45M124.5 596.3h.45M138.2 599.3h.45M142 590.4h.45M126 601.3h.45M150.4 597.8h.45M136.7 601.4h.45M149.7 599.4h.45M138.5 595.8h.45M132.9 596.1h.45M128.5 599.8h.45M144.5 595h.45M143.1 599.1h.45M136.2 597.1h.45M147.5 592.7h.45M131.8 596.3h.45M131.9 600.2h.45M141.3 595.5h.45M140.8 589.6h.45M143.6 592.2h.45M143.2 593.8h.45M141.9 599.3h.45M126.8 596.9h.45M142.5 598.9h.45M138.6 595.8h.45M143.2 597.9h.45M135.4 602h.45M148.2 593.3h.45M133.7 593.5h.45M128.5 599.2h.45M143.4 590.6h.45M135.6 598.8h.45M133.4 601.2h.45M141.5 596.4h.45M145.9 597.4h.45M145.6 598.5h.45M136.2 603.4h.45M132.5 599.4h.45M134.4 594.4h.45M128.5 603.1h.45M147.6 600.2h.45M123.3 601.8h.45M138.4 599.5h.45M139.5 599.3h.45M141.2 601h.45M138.1 595h.45M121.4 600.7h.45M121.5 597.1h.45M137 596.8h.45M132.7 604.9h.45M127.6 603.5h.45M135 597.1h.45M138 599h.45M124.8 601h.45M136 597.3h.45M137.3 596.8h.45M144.6 592.7h.45M131.9 600h.45M136.3 601.1h.45M116.3 599.2h.45M138.7 604.1h.45M144.1 592.6h.45M144.5 592.9h.45M139.3 595.5h.45M127.5 601.9h.45M141.1 595.4h.45M130.6 595.1h.45M136.7 601.7h.45M133.9 597.5h.45M133.6 592.9h.45M134.1 595.2h.45M145.9 596.7h.45M146.4 595.7h.45M139.1 602.5h.45M140.5 597.1h.45M140.9 598.1h.45M145.1 593.7h.45M133.3 594.3h.45M146.3 598.5h.45M135.3 599.8h.45M151.5 598.4h.45M136.1 593.7h.45M145.6 594.9h.45M126.5 602.6h.45M130.9 596.6h.45M152.6 593.5h.45M148.2 586.4h.45M142.8 595.5h.45M138.1 594.7h.45M139.7 599.5h.45M135.4 600.7h.45M142 592h.45M150.3 596h.45M144.2 601.9h.45M130.2 594.1h.45M135.6 604.8h.45M149.3 598.8h.45M130 596.7h.45M135.8 597.9h.45M128.9 598.6h.45M134 599.5h.45M129.9 596.1h.45M138.5 599.7h.45M137.8 597.8h.45M135.7 595h.45M133.6 594.3h.45M141.2 598.2h.45M135.5 594.1h.45M134.1 597h.45M144.3 594.9h.45M138.3 594.5h.45M141.7 595.5h.45M129.9 590.7h.45M134.5 596.2h.45M144.8 591.2h.45M132.1 593.1h.45M142.8 597.5h.45M134.8 599.9h.45M137.9 595.2h.45M137 599.6h.45M144.7 603h.45M139.2 597.2h.45M137.3 593.9h.45M136.2 599.5h.45M134.1 596.5h.45M128.2 600.8h.45M144.7 596.1h.45M138.4 597.8h.45M137.3 596.3h.45M145.3 604.8h.45M144.5 597.3h.45M133.8 592.9h.45M144.3 595.4h.45M140.9 594.7h.45M128.7 600.7h.45M144.5 589.7h.45M138.3 596.6h.45M133.8 599.7h.45M138.3 604.4h.45M130.4 596.6h.45M139.5 599.7h.45M137.7 601.6h.45M145.5 597.6h.45M126.8 595h.45M125.2 597h.45M144.4 602.5h.45M139 600.4h.45M134.2 596.5h.45M141.4 590.2h.45M135.2 594.1h.45M139.2 599.2h.45M139.3 602.2h.45M138.4 601.9h.45M137.7 589.2h.45M136.4 593.9h.45M133.2 588.5h.45M135.1 596.2h.45M129 597.4h.45M142.9 596.7h.45M141.4 593.1h.45M148.8 592h.45M128.4 599.2h.45M142 601.6h.45M142.9 600.2h.45M126.2 599.5h.45M131.6 589.6h.45M147.1 591.2h.45M142.1 599.8h.45M134.3 593.7h.45M146.5 595.9h.45M138.3 597.5h.45M139.8 599.2h.45M138.8 600.8h.45M136.1 592.1h.45M131.7 600.1h.45M130.8 599h.45M142.1 594h.45M136.2 592.4h.45M128.4 600.3h.45M138 592.8h.45M133.6 595h.45M134.3 595.1h.45M132.7 592.7h.45M134.8 602.3h.45M135.9 599.9h.45M134.4 596h.45M147.5 596.8h.45M133.3 600.5h.45M126.3 592.9h.45M134.7 595.9h.45M137 592.4h.45M140 596h.45M135.4 598.7h.45M135 601.5h.45M130.9 599.2h.45M134.7 588.7h.45M129.7 596.3h.45M139.4 591.8h.45M132.6 595.9h.45M126.5 596.6h.45M144.2 599.8h.45M129.2 595.3h.45M130.7 589.7h.45M152.4 592.1h.45M138.8 595h.45M134 591.6h.45M129.2 597.6h.45M132.3 600.4h.45M133.2 599.2h.45M139.8 592.1h.45M145.3 595.2h.45M154 592.6h.45M144.5 598.9h.45M125.3 592.7h.45M126.9 601.8h.45M137.4 600.7h.45M129.5 601.2h.45M136.9 599.5h.45M141.3 597h.45M145.8 590.5h.45M134.7 601.5h.45M129.9 601h.45M137.3 598.3h.45M119.4 596.2h.45M141.1 592h.45M142.8 599.1h.45M116 600.6h.45M128.2 594.3h.45M125.6 599.9h.45M146.8 594h.45M125.8 602.9h.45M142.3 596.6h.45M126.4 594h.45M135.9 603.2h.45M147.1 592.1h.45M124.2 598.5h.45M142.2 593.5h.45M138.1 600.5h.45M147 596.1h.45M139.2 599h.45M132.1 600.8h.45M137 594.2h.45M136 596.2h.45M133.8 600.4h.45M142.9 600h.45M133.9 600.2h.45M135.8 603.9h.45M129.7 602.2h.45M132 591.2h.45M141.3 591.4h.45M130.5 597.8h.45M139.7 596.3h.45M139.8 597.9h.45M125.7 603.6h.45M146.6 593.6h.45M141.6 595.4h.45M130.7 597h.45M122.6 596.7h.45M142.1 600.4h.45M140.3 597.7h.45M132.7 601.5h.45M150.5 596.7h.45M149.3 596h.45M135.6 600.9h.45M137.6 596.2h.45M133 598.3h.45M135.7 591.1h.45M141.2 603.2h.45M139.6 598.6h.45M141.1 600.1h.45M142.1 595.2h.45M129.1 600.1h.45M139.6 594.7h.45M135.2 599.3h.45M147.7 593.4h.45M130.3 598.1h.45M131 596.2h.45M130.8 602.6h.45M140.1 597.5h.45M141.6 599.9h.45M130.5 600.4h.45M131.8 592.2h.45M139.4 594.7h.45M147 594.8h.45M134.5 594.3h.45M135.7 597.1h.45M141 593.7h.45M131.3 594h.45M131.9 596.4h.45M135.5 594.9h.45M142.9 593.6h.45M138.5 596.5h.45M139.6 597.2h.45M133.9 597.6h.45M133.2 597.2h.45M145.4 599.3h.45M145.9 592.8h.45M145.5 597.7h.45M141.3 595.6h.45M148.7 592.2h.45M137.9 591.9h.45M135.1 599h.45M138.8 598.1h.45M145.5 592.1h.45M125.3 602.8h.45M126.2 597.6h.45M153.6 597.7h.45M136.5 600.9h.45M131.4 600.9h.45M133.8 595.1h.45M129.8 596h.45M139.7 603.8h.45M144.1 599.8h.45M136.9 603.8h.45M137 602.8h.45M128.7 600.7h.45M129.4 597.1h.45M134.7 590.6h.45M139.7 597.2h.45M124.9 598.5h.45M135.3 591.4h.45M132.9 601.7h.45M133.9 597h.45M136 596.6h.45M129.3 597.8h.45M123.3 599.8h.45M134.1 592.6h.45M126.5 599.5h.45M133.4 595.3h.45M133.2 598.6h.45M143.9 594.6h.45M123.1 595.8h.45M130.6 599.8h.45M144.8 597.5h.45M131.5 601.6h.45M133.2 593.3h.45M136.3 594.7h.45M141.7 593.6h.45M145.2 598.8h.45M127.6 597h.45M133.9 594.6h.45M139.3 596h.45M148.9 596.6h.45M144 599.9h.45M140.4 599.9h.45M132.6 601.7h.45M144.3 600.3h.45M132.8 595.7h.45M144.9 595.8h.45M154.9 596.7h.45M129.3 600.8h.45M137.7 590h.45M131.7 589.7h.45M154.6 590.3h.45M131 596.8h.45M132 602.5h.45M134.4 592.2h.45M142.4 597.8h.45M127.6 602.1h.45M127.2 595.2h.45M146.9 594h.45M136.8 594.1h.45M133.8 590h.45M134.4 594.6h.45M143.1 594.7h.45M130.8 596.3h.45M123.9 600.6h.45M123.9 594.4h.45M138.5 595.8h.45M150.3 590.1h.45M140.2 603.5h.45M131.8 593h.45M145 603.1h.45M132 601.1h.45M141.6 597h.45M142.5 595.4h.45M141.3 595.6h.45M135.2 593.4h.45M136.6 596.9h.45M130.3 595.4h.45M135 602.8h.45M140.6 599.2h.45M146.4 598.5h.45M149.3 600.8h.45M141.9 596.1h.45M137.8 596.8h.45M131 592.2h.45M139.2 591.8h.45M142.7 603h.45M137.2 593.7h.45M132.8 600.1h.45M136.1 595.7h.45M138.2 592.7h.45M130.1 599.7h.45M132.3 600.2h.45M133.6 598h.45M136.5 602.1h.45M135.1 597.8h.45M129.2 598.8h.45M136 598.5h.45M123.2 601.5h.45M137.7 598.3h.45M140.2 600.6h.45M130 596.2h.45M137.9 591.5h.45M151.3 587.6h.45M140.4 594.9h.45M142.2 602.1h.45M149.6 592.8h.45M137 594.3h.45M127.6 599h.45M132 593.2h.45M134.4 595.3h.45M129.2 599h.45M140.9 598.1h.45M131.8 594.6h.45M121.5 602h.45M143.3 593h.45M126.9 594.1h.45M146.6 595.1h.45M134 597.9h.45M136.9 596h.45M136.1 599.8h.45M142.9 592.2h.45M136 597.1h.45M142.1 599.3h.45M136.5 599.3h.45M146 600.5h.45M131.4 598.7h.45M138.9 592.9h.45M134.4 595.9h.45M143.1 596.5h.45M151.1 597.3h.45M134.1 598.6h.45M137.2 594.2h.45M138.8 591.8h.45M138.1 595.3h.45M137.3 594.6h.45M148.6 593.1h.45M142.5 596.7h.45M144.7 593.6h.45M128.6 601h.45M144.5 598.6h.45M147.1 595.9h.45M131.1 600h.45M125 597.7h.45M141.9 601.7h.45M134.1 596.8h.45M127.5 598.1h.45M132.2 597.9h.45M132 599.6h.45M135.9 594.8h.45M141.3 598.6h.45M135.1 596.8h.45M142.9 598.3h.45M136.9 604.5h.45M133 593h.45M132.6 598.6h.45M142.8 592.9h.45M138.9 592.2h.45M136.6 596.4h.45M146.7 589h.45M132.6 590.9h.45M133.5 596.5h.45M137.5 601h.45M130.4 596.1h.45M147.1 595.9h.45M130.3 598.2h.45M128.9 595.1h.45M132.5 592.3h.45M149.2 594h.45M138.4 596.1h.45M135.8 594.4h.45M139.6 595.2h.45M131.6 601.4h.45M147.6 597.4h.45M140.3 595.5h.45M138.2 599.7h.45M137.9 602h.45M146.9 596.7h.45M138.1 594h.45M133.6 595.3h.45M134.1 594.3h.45M139.7 598h.45M136.7 603.2h.45M138.7 596.8h.45M138 594.9h.45M141.7 593.2h.45M137.7 604.4h.45M138.4 593.1h.45M129.8 602.4h.45M124.9 605h.45M145.9 594.3h.45M138.5 595.3h.45M130.7 599.7h.45M132.6 600.1h.45M138.9 594.7h.45M137.5 597.3h.45M135.7 596.6h.45M145 593.4h.45M138.5 600.8h.45M139.5 595.4h.45M129 597.4h.45M123.3 597.5h.45M137.5 602h.45M141.8 600.3h.45M140.3 597.6h.45M125.7 596.7h.45M135.3 597.1h.45M127.6 592.9h.45M138.1 596.1h.45M136.9 596.4h.45M134.7 593.3h.45M143.1 597.8h.45M137.6 603.4h.45M132.4 600.9h.45M136.6 597.4h.45M142.9 596.4h.45M136.2 593h.45M139.1 598.4h.45M133.4 593.4h.45M143.7 596.8h.45M144.9 595.9h.45M154 590.4h.45M142 597h.45M138.5 596.2h.45M141.2 599.7h.45M137.1 593.5h.45M144.1 599.8h.45M129.1 599.2h.45M147.7 597.9h.45M133.7 598.7h.45M138.8 593h.45M134.9 596.3h.45M135.3 602.3h.45M124.3 595.3h.45M132.7 602.4h.45M136.3 596.4h.45M136.2 603h.45M150.4 596.2h.45M130.2 597.2h.45M125.4 602.2h.45M136.1 601.4h.45M132.6 595.2h.45M122.3 600.2h.45M143.2 588.6h.45M129.6 597.9h.45M145.1 602.9h.45M148.4 596.6h.45M126.7 595.7h.45M140.5 596.8h.45M131.4 597.7h.45M135.1 599.6h.45M139.4 599.6h.45M133 603.1h.45M146.5 597.7h.45M129 594.5h.45M135.5 597h.45M130.9 597.6h.45M126.2 598.1h.45M127.9 599.5h.45M119.6 597h.45M133.3 592.5h.45M133.8 596.9h.45M146.2 598.4h.45M134.5 600.5h.45M136.9 600.1h.45M134.1 598.6h.45M135.1 600.9h.45M149.7 601.2h.45M146.5 595.3h.45M147.7 594.7h.45M136.3 594.1h.45M142.6 590.6h.45M136.7 599.7h.45M129.4 600h.45M129.3 597.1h.45M140 601.8h.45M150.7 591.7h.45M125.1 596.2h.45M138.4 596.6h.45M127.5 595.4h.45M138.4 597.2h.45M150.2 591.1h.45M129 602.3h.45M133.4 598.1h.45M145 594.1h.45M135.2 597.6h.45M138 603.2h.45M146.4 593.5h.45M144.9 590.6h.45M131.8 595.3h.45M132.7 598.4h.45M138.3 593.8h.45M139.2 594.5h.45M140.6 597.7h.45M128.7 595.1h.45M143.5 596h.45M138.7 595.7h.45M147.8 597.3h.45M132.2 598.6h.45M129.2 596.8h.45M133.9 593.9h.45M131.5 601.8h.45M130.6 597.2h.45M129 602.8h.45M130.7 600.7h.45M141.5 598.5h.45M132.4 589.9h.45M130.6 597.2h.45M126.3 594.5h.45M139.1 596.9h.45M144.2 597.8h.45M145.8 596.9h.45M136 598h.45M143.3 599.7h.45M141.1 594.9h.45M130.2 601.7h.45M143.6 592.6h.45M136.6 593.7h.45M138.5 604.6h.45M134.3 596h.45M136.3 595.6h.45M138.8 591.3h.45M141.7 593.8h.45M145.4 596.7h.45M136.2 599.1h.45M151.2 600.4h.45M132.1 603.1h.45M135.9 598h.45M134.3 596.3h.45M141 597.3h.45M141.8 594.7h.45M130.7 596.6h.45M135.3 598.7h.45M149.6 595.9h.45M149.9 598.6h.45M142.9 590h.45M134.5 597.5h.45M136.1 590.3h.45M139.8 603.3h.45M146.6 596.8h.45M140.6 596.7h.45M122.5 601.2h.45M142.8 591.2h.45M153.4 597.7h.45M141.2 601.8h.45M130.3 597.8h.45M127.2 602h.45M141.4 604.8h.45M142 595h.45M122.8 598h.45M134.6 597.3h.45M133.3 596.5h.45M137.7 594.9h.45M131.2 597.2h.45M125.4 590.6h.45M136.1 593.7h.45M126.6 598.1h.45M137.7 601.6h.45M133 597.7h.45M135.3 595.2h.45M126.8 591.6h.45M123.7 595.1h.45M130.4 596.2h.45M124.2 599.9h.45M138.7 592.4h.45M131.7 596.3h.45M141.7 600.8h.45M141.3 599.1h.45M145.9 598.4h.45M138.6 598.9h.45M143.7 596.8h.45M143.6 594.3h.45M129.2 598.1h.45M141.7 603.9h.45M135.1 593.7h.45M124.1 595.7h.45M134.3 596h.45M139.2 597h.45M132.8 596.8h.45M127.9 596.1h.45M137.9 590.8h.45M134.2 594.8h.45M137.6 599.2h.45M136.6 600.6h.45M133.3 598.9h.45M129.5 592.3h.45M129.6 597.1h.45M141.2 603.2h.45M140 599h.45M131.8 604h.45M132.3 597.3h.45M150.6 598.6h.45M151.6 592.9h.45M139 592.4h.45M139.1 594.5h.45M146.3 597.8h.45M124.9 597.5h.45M131.5 598.2h.45M143.4 591.9h.45M135.6 599.8h.45M130.4 596.5h.45M132.7 601.5h.45M141.5 592.4h.45M145.1 601.9h.45M134.8 598.7h.45M141.3 599.1h.45M152.1 595.4h.45M134.9 598.3h.45M135.4 590.8h.45M143 597.4h.45M130.7 594.9h.45M126.1 599.3h.45M139 597.4h.45M143.4 595.3h.45M129 598.5h.45M148.4 600.5h.45M137.8 603.9h.45M130.2 596.1h.45M135.3 604.8h.45M116.8 601.1h.45M136.9 593.9h.45M138.8 589.7h.45M138 593.5h.45M132 598.9h.45M135.9 595.4h.45M136.7 594.6h.45M146.1 597.1h.45M139.7 601.9h.45M149 590h.45M137.3 592.7h.45M141.1 594.5h.45M132.1 596.9h.45M144.4 592.6h.45M139.3 595.8h.45M134.7 597.9h.45M148.9 593.9h.45M138.6 598.3h.45M126.2 597.7h.45M140.9 597.9h.45M137.1 593.5h.45M134.7 599.6h.45M132.4 601.2h.45M140.5 602.5h.45M125.9 598.6h.45M125.5 594.7h.45M150.9 597.8h.45M138.9 593h.45M137.4 598.8h.45M145.1 588.7h.45M135.7 593.1h.45M152.8 600.7h.45M137.1 596h.45M147.8 601.6h.45M134.5 600.9h.45M139.2 597.7h.45M135.8 593.5h.45M128.4 603.9h.45M139.4 600.3h.45M137.1 592.1h.45M135.2 594.5h.45M129.5 598.8h.45M132.1 599h.45M137.7 595.2h.45M130.7 597.1h.45M144.7 600h.45M144.8 593h.45M130.9 598.8h.45M137.1 599.5h.45M139.2 591.6h.45M139.3 602.3h.45M136.2 597.1h.45M136.5 591.5h.45M142 598h.45M142.5 594.4h.45M131.5 594.1h.45M135.9 597.2h.45M140.4 593.2h.45M131.2 593.7h.45M133.9 600.7h.45M143.1 596.4h.45M144.9 597.6h.45M134.2 599.9h.45M127.8 595.8h.45M138.4 597h.45M132.2 596.6h.45M129.1 595.4h.45M156 596.7h.45M144.2 600.5h.45M126.7 601.3h.45M131.1 592.8h.45M133.2 598.1h.45M144.9 600h.45M138.6 601.4h.45M123 598.7h.45M124.6 589.7h.45M135.3 596.4h.45M140.4 595.9h.45M130.2 596.4h.45M116.4 595.6h.45M135.3 595.6h.45M126.2 596.9h.45M133 598.2h.45M140.5 595.1h.45M140.7 593.8h.45M133.1 598.8h.45M134.4 600h.45M142.3 594.1h.45M152 597.5h.45M132.1 593.5h.45M135.8 597.4h.45M141.5 597.7h.45M140.5 591.2h.45M132.8 597.4h.45M142.2 595.9h.45M138.1 593.3h.45M144.9 596.3h.45M127.6 597.4h.45M135.2 597.9h.45M149.8 590.9h.45M145.4 591.4h.45M135.6 593.2h.45M137 601.1h.45M149.3 598.7h.45M136.4 600.2h.45M126.4 598h.45M130.9 590.2h.45M134.2 592.8h.45M144.6 592.7h.45M145 595.1h.45M144.5 598.3h.45M145.9 592.5h.45M128 599h.45M153.9 599.2h.45M138 600.9h.45M136.9 597.9h.45M145.6 597.1h.45M136.2 597.6h.45M145.7 600.6h.45M147.8 597.3h.45M130.6 601.2h.45M134.5 594.5h.45M135.9 594.6h.45M128.2 598.7h.45M131 601.2h.45M138.6 592.3h.45M140.2 598.1h.45M129.3 601.1h.45M134.1 596.5h.45M140.8 588.6h.45M133.6 600.1h.45M140.3 601.9h.45M141 596.8h.45M144.9 595.4h.45M141.1 587.1h.45M127.4 602.4h.45M144.7 597.9h.45M143.3 589.9h.45M139.4 591.9h.45M132.9 594.8h.45M144 593.2h.45M144 598.9h.45M139.6 598.2h.45M145.5 596.8h.45M142.3 598.2h.45M140.7 596.3h.45M140.9 593.1h.45M135.3 593h.45M136.7 601.2h.45M127.5 594.7h.45M140.4 594.3h.45M154.7 591.4h.45M145 596.1h.45M140.8 600.5h.45M151.3 600.1h.45M141.7 596.1h.45M143.1 599.4h.45M136.3 594h.45M130 592.9h.45M140.1 600.7h.45M140.8 595.8h.45M129.7 599.8h.45M157.4 600.1h.45M137.3 602.4h.45M137.2 597.1h.45M137.2 592.2h.45M148 593.9h.45M138.1 597.9h.45M140.9 593.7h.45M132.2 596.8h.45M130.1 595h.45M142.1 595.3h.45M141.3 595.5h.45M139.3 594.4h.45M147.5 593.5h.45M141.4 603.2h.45M147.5 593.2h.45M132.6 598.7h.45M139.7 601.5h.45M134.4 599.7h.45M135.7 595.2h.45M148.1 601.1h.45M141.7 597.7h.45M135.6 604.1h.45M131.5 602.2h.45M133.2 600.1h.45M138.1 595.7h.45M135.9 598.2h.45M133.8 595h.45M146.4 593h.45M137.4 592.9h.45M128.3 596.5h.45M152.4 595.7h.45M142.8 599.5h.45M129.7 594.7h.45M137.1 600.9h.45M137.7 592.7h.45M135.8 591.4h.45M138.5 592h.45M129.8 591.3h.45M131.3 595.7h.45M142.8 594.7h.45M135.1 595.5h.45M137.5 595.6h.45M128.6 597.4h.45M140.4 590.6h.45M124 601.9h.45M135.6 594.2h.45M126.3 597.6h.45M144.2 593.8h.45M141.8 596h.45M129.6 602.7h.45M143.8 595h.45M143 598.4h.45M148.9 598.9h.45M138.3 599.8h.45M135.2 593.5h.45M134.6 595.8h.45M145.6 596.3h.45M140.5 593.7h.45M142.1 594.3h.45M126.9 600.9h.45M139.5 602h.45M148.9 595.4h.45M126.7 590.5h.45M136.7 592.2h.45M146.7 597.7h.45M127.9 591.2h.45M148.2 599.6h.45M145.1 601.7h.45M140.4 594h.45M138.7 597.1h.45M132.8 597.3h.45M116.9 595.7h.45M134.3 589.1h.45M138.1 594.5h.45M155.1 599.9h.45M143.5 595.5h.45M122.6 594.9h.45M135 601h.45M122.3 598.5h.45M145.9 598h.45M129.9 597.5h.45M140.3 600.6h.45M133.7 596.6h.45M135.3 593.1h.45M133.2 600.3h.45M133.7 595.6h.45M131.4 594.8h.45M142.3 597.5h.45M140.1 597.4h.45M137.8 599.4h.45M131.8 596.5h.45M129.7 602.8h.45M142.4 596.7h.45M140.4 599.2h.45M142.5 598.6h.45M137.1 596.7h.45M144.5 598.8h.45M140.4 600.9h.45M131.7 598h.45M129.9 602.3h.45M141.9 596.6h.45M133.9 597.1h.45M119.3 602.7h.45M141.9 598.5h.45M131.3 596.5h.45M133.6 597.3h.45M131.9 594.5h.45M149.7 592.9h.45M138.9 598.4h.45M146.7 600.4h.45M135 599.8h.45M143.5 597.6h.45M121.9 592.4h.45M132.7 604.2h.45M144 595.6h.45M137.9 598h.45M137.4 599.8h.45M131.4 596.2h.45M134.8 592.6h.45M127.8 595.3h.45M128.7 601.4h.45M144.4 597.8h.45M129.6 599.4h.45M137 591.9h.45M145.1 597.6h.45M140.7 588.6h.45M131.4 604.1h.45M139.8 594.5h.45M131 594.6h.45M132.5 588.9h.45M138.4 597.1h.45M132.6 597.1h.45M133.7 601.8h.45M131.4 597.3h.45M148.1 600.9h.45M131.3 591.2h.45M149.5 592.2h.45M134.6 597.6h.45M142.2 594.5h.45M134.1 595.9h.45M129.3 601.9h.45M133.8 598.2h.45M132.4 600.9h.45M150.2 592.7h.45M137.3 596.9h.45M147.1 593.7h.45M145.1 597.1h.45M143.1 594.4h.45M131.3 596.8h.45M143.2 595.8h.45M143.3 602.1h.45M125.4 594.7h.45M132.3 595.2h.45M140.1 592.4h.45M130.7 597.5h.45M136.6 597.5h.45M135.9 591.3h.45M133.3 599.4h.45M139.2 598.3h.45M128.6 595.7h.45M124.2 597.8h.45M130.3 600.5h.45M135.2 601.7h.45M152.1 596h.45M139.2 592.2h.45M131.9 588.7h.45M142 601.3h.45M135.1 596.3h.45M137.7 595.3h.45M140.7 599h.45M126.2 590.8h.45M135.1 596.6h.45M126.9 601.1h.45M146.6 597.7h.45M126.9 599.2h.45M130.5 601.7h.45M139.3 598.1h.45M143.2 598.5h.45M154.4 589.4h.45M138.2 600.1h.45M140.9 586.5h.45M144.1 594.3h.45M130.5 604.6h.45M136.1 600.1h.45M141.2 598.8h.45M144.5 597.3h.45M145.9 595.9h.45M131.2 603.3h.45M137.7 599.9h.45M125.2 589.1h.45M137.9 598h.45M146.9 590.9h.45M130.9 598.9h.45M145.5 597h.45M141 599.7h.45M152.8 600.4h.45M134 591.5h.45M124.4 597.7h.45M130.4 598.5h.45M134.5 588.7h.45M144 598.5h.45M130.1 593.1h.45M147.2 596.6h.45M134.5 593.7h.45M132.8 603.6h.45M131.6 597.8h.45M133.9 596.9h.45M128.8 603h.45M137.8 600h.45M129.7 597.4h.45M150.9 595h.45M133 592.3h.45M132.4 599.8h.45M133.2 595.2h.45M145.5 602h.45M133.9 596h.45M125 595h.45M128.7 598h.45M138.1 598.7h.45M120.7 598.6h.45M128.2 597.9h.45M122.7 597.4h.45M134.1 593.1h.45M138 598.4h.45M141.8 591.9h.45M127.3 598.5h.45M136.8 594.8h.45M124.9 598.7h.45M144 592.5h.45M139.9 591.9h.45M140.8 591.3h.45M144.1 595.8h.45M144.4 594.4h.45M126.4 594.8h.45M129.7 599.1h.45M132.4 599.8h.45M135.5 595.4h.45M132.8 596.6h.45M140.8 601.5h.45M133.2 597.8h.45M144.7 601.3h.45M129.8 593.5h.45M133.3 602.3h.45M134 601.1h.45M135.9 599.5h.45M139.7 596.3h.45M132.1 598h.45M153.1 591h.45M142.2 595.4h.45M127.2 598.1h.45M142.3 591.6h.45M129.2 601h.45M127.6 602.9h.45M144.4 593.5h.45M138.5 601.3h.45M142.2 588.7h.45M126.3 599h.45M145.6 601.9h.45M139.5 596.3h.45M131 600.7h.45M137.9 604.5h.45M150.9 598.2h.45M131 597.7h.45M144.8 597.1h.45M140.4 594.4h.45M120.8 602.2h.45M149.7 593.8h.45M137.5 590.1h.45M148.4 604.7h.45M146.2 592h.45M137.9 597.6h.45M139.1 594.6h.45M140.3 597.3h.45M128.1 594.6h.45M148.9 596.5h.45M141.2 604.4h.45M133 602.4h.45M144.7 593.4h.45M135.9 598.6h.45M125 592.4h.45M133.2 602.7h.45M136 603.3h.45M124.6 597.7h.45M140 601.1h.45M143 600.4h.45M142 597.1h.45M148.5 598.7h.45M132.8 601.1h.45M141.5 597.3h.45M141.1 595.6h.45M133.4 591.7h.45M134.8 602.8h.45M118.4 598.4h.45M141.7 599h.45M125.8 598.6h.45M139.2 601h.45M137.3 594.7h.45M141.1 597.1h.45M129 598.4h.45M138.9 596.7h.45M133.8 597.6h.45M137.9 599.8h.45M128.8 596.5h.45M141.2 595h.45M129.7 593.4h.45M126.3 595.1h.45M136.8 599.7h.45M138.1 597.6h.45M141.2 596.3h.45M127.7 598.9h.45M139.1 604.8h.45M135.1 592.4h.45M134.9 596.5h.45M136 596.1h.45M153.7 596h.45M135.7 597.3h.45M137.2 601.3h.45M137.4 600.7h.45M130.2 599.1h.45M136.3 598h.45M128.1 596.1h.45M126.1 600.4h.45M145.8 595.9h.45M126.8 597.3h.45M143.7 590.1h.45M134.6 598h.45M133.6 598.7h.45M140.2 598.2h.45M143.8 600.2h.45M125.1 594.9h.45M135.3 597.8h.45M137.7 592.8h.45M128.8 605h.45M138.1 598.4h.45M148.2 588.6h.45M138.4 596.2h.45M136.8 602.5h.45M135.4 592.1h.45M127.9 593.6h.45M144.7 593.9h.45M128.6 597.7h.45M127.3 600.2h.45M137.7 597.9h.45M144.7 594.7h.45M142.4 590.2h.45M144.4 603h.45M131.4 601h.45M129.8 598.7h.45M140.3 594.8h.45M129 598h.45M136.6 598.8h.45M136.5 590.8h.45M144.8 597.9h.45M126.2 598.2h.45M145.4 604h.45M135.6 595.4h.45M145.7 595.8h.45M135.9 591.4h.45M129.7 599.8h.45M150.3 596.8h.45M135.5 596.1h.45M128 594.1h.45M143.2 603.3h.45M134.1 594.4h.45M125.4 597.2h.45M143.4 590.2h.45M135.4 602.1h.45M147.7 593.1h.45M139 598.8h.45M138 596.8h.45M138.4 597.7h.45M135.5 596.7h.45M137.5 601.3h.45M131.2 603.6h.45M144.5 596.8h.45M154.9 597.8h.45M149.7 592.2h.45M121.4 602.3h.45M136.9 594.9h.45M129.8 600.3h.45M143.5 600.5h.45M136.5 595.7h.45M126.6 595.1h.45M145.9 591h.45M135.9 595.6h.45M131.3 593.2h.45M134.2 599.4h.45M135 598.7h.45M131.5 594.1h.45M142.5 596h.45M135.3 599.5h.45M143.5 594.2h.45M137.2 596.4h.45M145.8 591h.45M131.6 597.7h.45M118.7 594.1h.45M140.9 600.9h.45M148.5 594.5h.45M140.7 596.9h.45M131.5 598.9h.45M137.2 602h.45M134.3 592.3h.45M138.4 594.8h.45M137.9 598.6h.45M123.3 592.8h.45M139.7 599.9h.45M132.6 597.7h.45M140 594.6h.45M135.9 595.5h.45M152.3 591.7h.45M126.1 599.3h.45M128.4 594.6h.45M121.6 596.7h.45M150.3 597.6h.45M145.3 586.9h.45M138.3 594.6h.45M134.9 593.4h.45M128.9 597.9h.45M139.5 586.3h.45M131 599.2h.45M139 598.7h.45M125 597.1h.45M126 597.6h.45M129.1 592.9h.45M148.2 601.2h.45M138.1 596.8h.45M125.2 593.9h.45M133.5 598.9h.45M158.8 576.4h.45M156.2 601.6h.45M146 590.7h.45M146.4 582.2h.45M120.9 599.8h.45M131.8 601.8h.45M123.9 584h.45M137.4 599.5h.45M119 599.6h.45M140.6 597.6h.45M149.9 594.5h.45M127.5 587.2h.45M146.6 591.1h.45M152.9 601h.45M129.6 592.5h.45M156 592.7h.45M123.5 596.7h.45M135.3 604.9h.45M120.7 593.7h.45M150.9 598.7h.45M140.9 590.5h.45M122.3 578.8h.45M148.2 594.9h.45M137.6 585.3h.45M114.2 596.9h.45M134.8 604.8h.45M129.7 603h.45M153 597.8h.45M136.1 591.5h.45M130.7 586.1h.45M128.3 591.1h.45M156.2 601.8h.45M140.1 582.7h.45M135.6 591.5h.45M153.3 584.2h.45M144.1 593.2h.45M149.1 588.2h.45M161.2 592.6h.45M136.1 593.7h.45M134.1 604h.45M149.2 590.7h.45M153.8 603.7h.45M154.4 595h.45M124.4 590.9h.45M149.2 591.9h.45M137 604.7h.45M150.7 603.3h.45M133.4 588.5h.45M138.7 601.6h.45M124.4 597.6h.45M147.3 594.7h.45M141.2 575.5h.45M147.3 600.4h.45M127.1 599.8h.45M138.5 594.7h.45M120.9 592.7h.45M129.8 597.2h.45M143.5 590.1h.45M138.7 592.1h.45M140.5 587.9h.45M135.4 591.4h.45M148.1 586.9h.45M122.8 595h.45M154.1 594.5h.45M133 595.2h.45M126.8 591.1h.45M141.8 589h.45M126.7 594.7h.45M140.3 598.6h.45M132.6 597.7h.45M137.2 578.3h.45M141.3 586.3h.45M143.9 594.8h.45M121.1 580.7h.45M144.4 587.4h.45M150.6 581.4h.45M119.1 587.6h.45M144.4 604.7h.45M139.5 585.3h.45M144.2 582.5h.45M135.5 584.4h.45M139.2 597.3h.45M118.7 602.6h.45M136.1 577.9h.45M143.9 585.5h.45M134.1 604.5h.45M146.4 588.8h.45M158.5 586.4h.45M122.2 590.8h.45M112 595.8h.45M133.1 588.4h.45M144.3 594h.45M152.5 583.5h.45M147 585h.45M133.9 603h.45M132 599.9h.45M134.2 602.9h.45M143.8 597.2h.45M159.1 581.4h.45M149.3 594h.45M124.7 597.2h.45M141.5 585.4h.45M132.1 585.6h.45M133 599.1h.45M135.3 598.5h.45M140.7 588.9h.45M142.9 592.3h.45M119.6 595.5h.45M160.4 584.5h.45M127 604.7h.45M140.9 588.4h.45M140.3 598.8h.45M142.4 590.2h.45M144.2 595.8h.45M122.6 588h.45M128.3 596.3h.45M138.9 600.4h.45M135.1 594.9h.45M152.9 582.2h.45M151.1 585.9h.45M156.2 593.5h.45M116.6 593.5h.45M141.6 600h.45M141.7 601.4h.45M124.1 596h.45M157.4 588.4h.45M130.4 592h.45M138.5 593h.45M104.9 588.3h.45M161.5 600h.45M138.9 601.7h.45M130.2 601.4h.45M151.6 588.4h.45M136 597.7h.45M152.9 588h.45M148.5 592.4h.45M132.6 604.7h.45M156.7 581.5h.45M140.9 591.7h.45M123.3 598.9h.45M137.2 590.4h.45M122.2 604.1h.45M153.7 592h.45M161 589.4h.45M115 590.2h.45M136.9 592h.45M134.6 595.4h.45M150.8 604.2h.45M144.5 591.8h.45M129.3 584.7h.45M157.6 588h.45M135 584.9h.45M144.2 593h.45M129 600.4h.45M137.2 599.6h.45M129.2 594.4h.45M159 588.5h.45M139.8 587.5h.45M121.4 596.1h.45M135.4 586.3h.45M132.3 598.8h.45M126.9 588.2h.45M144 590.7h.45M145.8 587.5h.45M133.6 600.5h.45M159.2 586.8h.45M120.4 600.6h.45M148.6 596.6h.45M115.6 597.3h.45M153.9 580.1h.45M128.5 587.3h.45M155.3 598.8h.45M145 586.9h.45M146.3 596.7h.45M158.2 580.9h.45M138 599.6h.45M135.2 587.7h.45M152.1 600.6h.45M144.9 592.6h.45M134 593.9h.45M134.6 593.6h.45M121.6 595h.45M138.8 587h.45M160.7 602.3h.45M125 588.6h.45M108.3 601.3h.45M129.1 595.4h.45M118.4 601.1h.45M125.3 599.1h.45M135.8 601.1h.45M132 601.6h.45M130.9 586.7h.45M151.6 592.3h.45M160.2 590.2h.45M125.6 588.2h.45M141.3 584.1h.45M134.4 582.2h.45M158.3 595.6h.45M143.7 588.7h.45M147.4 590.5h.45M123.5 598.1h.45M130.6 594h.45M144.2 593h.45M147.3 589.7h.45M151.1 598.2h.45M157 590.8h.45M138.6 604.9h.45M136 590.8h.45M152.3 588.7h.45M152.7 600.7h.45M127.9 596.8h.45M140.6 593.4h.45M141 595.7h.45M138.6 590.4h.45M145.3 600.5h.45M126 601.3h.45M160.4 596.4h.45M158.2 591.5h.45M131.2 592.5h.45M136.3 589.1h.45M158.5 598.9h.45M145.6 596.8h.45M131.2 586.8h.45M136.5 591.9h.45M133.5 588.9h.45M137.1 598.2h.45M142.3 604.7h.45M138.5 595.5h.45M142.3 594.5h.45M124.8 584.7h.45M116.3 595.1h.45M131.3 594.8h.45M142 601.5h.45M115.1 594h.45M144.5 586.8h.45M142.8 587.9h.45M120.2 592.8h.45M130.2 584.6h.45M134.9 589.9h.45M150.3 582.2h.45M143.5 588.4h.45M130.3 600.9h.45M146.2 585.2h.45M118.9 587.2h.45M129.4 603.7h.45M127.6 597.6h.45M121.1 597.9h.45M155.2 596.3h.45M134.5 599.8h.45M124 584.7h.45M126.3 583.8h.45M146.6 600.2h.45M140.3 597.4h.45M134.5 592h.45M145.5 585.3h.45M132 585.1h.45M143.5 585.2h.45M151.4 603.1h.45M148.9 590.2h.45M153.2 589.1h.45M124.4 600.8h.45M161.3 599.5h.45M124 587.9h.45M141.7 590.6h.45M148.3 601.6h.45M127.6 596.6h.45M155.4 596.1h.45M157.9 598.9h.45M143.2 590.6h.45M126.9 588.8h.45M129 593h.45M139 591.1h.45M143.6 601h.45M133 597.6h.45M154 584.1h.45M135.5 602.6h.45M144.8 598.5h.45M133.8 595h.45M147.5 588.8h.45M161.3 592.9h.45M135.8 581.5h.45M150.2 601.9h.45M159.7 589.4h.45M125.7 604.8h.45M119.5 597.4h.45M110.6 592.7h.45M137.8 587.2h.45M136.9 583.4h.45M131.1 594.3h.45M122.8 594.4h.45M114.1 598.3h.45M126.9 581.5h.45M155.1 604.7h.45M139.9 593.8h.45M157.1 589.8h.45M122.3 597.9h.45M130.9 600.7h.45M135.6 587.6h.45M135.2 594h.45M116.2 595.8h.45M121.2 600.4h.45M136.4 593.6h.45M117.4 598.2h.45M148.5 599.5h.45M130 595.5h.45M139.8 588.7h.45M122.5 600h.45M153.8 603.5h.45M146.8 593.1h.45M139.8 583.4h.45M129.6 580.8h.45M128.9 583.7h.45M134.2 588.4h.45M140.6 588.7h.45M145.2 582.4h.45M158.8 602.8h.45M135 587.1h.45M141.6 585.7h.45M141.8 592.8h.45M158.1 596.3h.45M123.1 598.2h.45M153.8 591h.45M139.8 586.7h.45M123.6 599.9h.45M144 587.5h.45M161.9 593.5h.45M159.3 577.8h.45M134.6 599.4h.45M148.6 595.3h.45M127.6 594.8h.45M121.4 603.5h.45M126.9 598.7h.45M154.8 604.1h.45M155.3 592.7h.45M109.1 600h.45M114.8 598.7h.45M106.2 599h.45M132.3 594.8h.45M144.2 592.3h.45M151.7 594.2h.45M126.7 588.4h.45M156 596.8h.45M130.5 585.1h.45M128 593.2h.45M145.4 595h.45M150.5 598.9h.45M127.2 589.6h.45M132 589.8h.45M147.9 602.3h.45M143.6 587.1h.45M158.3 605h.45M155.6 598.4h.45M128.7 602h.45M145.6 590h.45M147.6 577h.45M155.4 571.5h.45M139.6 591.5h.45M137 598.2h.45M137.3 603.5h.45M158.4 587h.45M111.8 598.4h.45M142.7 595h.45M150.2 586h.45M149.9 583.3h.45M126 595.3h.45M134.1 577.1h.45M129.1 595.8h.45M130.5 600.2h.45M143.9 587.6h.45M125.6 595.2h.45M126 586.6h.45M126.1 598.9h.45M159.1 594.1h.45M125.9 588.4h.45M150.4 598.4h.45M136.1 595.8h.45M155.4 593h.45M156.2 598.5h.45M134.8 602.3h.45M114.8 590.7h.45M146.5 582.3h.45M140.2 597.7h.45M133.5 603.4h.45M148.6 591.6h.45M131.4 588.8h.45M140.5 598.2h.45M141.9 595.8h.45M137.2 594.3h.45M137.2 589.7h.45M155.9 601.7h.45M138 599.5h.45M141.3 591.6h.45M127.9 604.9h.45M144.8 584.1h.45M127.4 597.4h.45M130.3 584.6h.45M143.1 586.1h.45M138.6 587h.45M151 600.9h.45M146.5 594.5h.45M151.4 591.9h.45M159.5 584h.45M136.8 603.5h.45M127.6 586.1h.45M150.7 587.8h.45M137.7 592.3h.45M145 588.3h.45M138.3 593.5h.45M127.4 602.2h.45M123 599h.45M136.1 597.2h.45M133.4 586.6h.45M137.3 589.8h.45M124.4 599.1h.45M133 603.6h.45M152.9 598.8h.45M127.3 589.5h.45M141.9 579.4h.45M128.4 590.3h.45M131.9 601.5h.45M143.2 592.5h.45M148.4 598.6h.45M148.8 603h.45M158.2 588h.45M123 595.3h.45M128.4 603h.45M134.8 588.8h.45M142.2 598.9h.45M156.4 592.7h.45M134.5 591.1h.45M124.8 593.7h.45M144.3 596.8h.45M139 577.4h.45M124.8 601.6h.45M133.5 604.3h.45M145.8 598.2h.45M148.7 600.8h.45M124.6 591h.45M135.3 598.8h.45M129.1 599.5h.45M146.7 581.8h.45M153.1 589.1h.45M138.5 583.6h.45M144.2 595.3h.45M162.1 578.5h.45M135.9 597.3h.45M134.5 589.5h.45M146.9 595.6h.45M139.4 600.4h.45M118.7 599.5h.45M128.4 596.4h.45M141.2 593.3h.45M142 586.3h.45M138.9 594.1h.45M123.8 599.3h.45M150 596.9h.45M154.4 578h.45M142.1 592.2h.45M140.2 579.7h.45M152.1 583h.45M147.4 601.2h.45M141.1 595.6h.45M121.2 593.4h.45M142.3 591.9h.45M146 585.6h.45M137.2 588.7h.45M117.8 600.4h.45M137.5 596.9h.45M122.2 597.3h.45M159.7 597.3h.45M125.9 594.2h.45M138.9 590.6h.45M152 570.6h.45M144 583.7h.45M141.3 575.8h.45M138.2 592.1h.45M148.9 582.2h.45M134.8 594.6h.45M140.6 597.2h.45M153.7 593h.45M159.9 592.3h.45M139.2 586.7h.45M133.5 592.3h.45M155.9 588.9h.45M139.1 598.1h.45M139.3 600.5h.45M130 590.9h.45M136.9 602.9h.45M122.2 582.2h.45M139.1 590.5h.45M143.6 592h.45M160.1 592.8h.45M132.1 594.2h.45M159.4 585.5h.45M150.3 599.8h.45M125.3 599.1h.45M159.1 596.1h.45M150.4 593.7h.45M147.1 585.6h.45M161.4 600.7h.45M151.1 599.6h.45M122.5 597.1h.45M140.1 600.1h.45M122.2 599.3h.45M153.9 584.7h.45M161.8 594.1h.45M130.7 589.8h.45M159.5 586.6h.45M128.8 596.1h.45M155.5 600.9h.45M131.3 581h.45M158.6 591.3h.45M134.9 596.3h.45M119 592.1h.45M130.8 598h.45M126.5 588.3h.45M130.2 598.8h.45M131.8 592.8h.45M139.1 590.3h.45M136.3 586.5h.45M116.4 589.3h.45M125.5 603.3h.45M116.1 589.5h.45M152.3 584.6h.45M133.2 594h.45M133.4 599.6h.45M142 602.7h.45M135.6 597.7h.45M119.5 588h.45M128 591.9h.45M113.8 586.3h.45M125.5 598.5h.45M158.7 584.9h.45M126.3 598h.45M151.9 602.3h.45M147.5 587.6h.45M145.9 575.7h.45M132.8 597h.45M138.2 601.3h.45M154.1 591.1h.45M148 595.8h.45M139.1 584.1h.45M143.1 600.6h.45M128.8 584.5h.45M154.7 604h.45M137.5 603.1h.45M136.8 604.3h.45M123.8 600.3h.45M127 582.6h.45M118.2 603.4h.45M132.4 602h.45M145.4 599.4h.45M133.1 591h.45M136.2 598.5h.45M128.9 601h.45M139 594.9h.45M158.4 597.9h.45M112.9 591.4h.45M140.4 587.4h.45M127.8 599.5h.45M154.6 587.4h.45M148.5 596.7h.45M131 603.6h.45M113 598.8h.45M130.6 586.5h.45M126.8 582.7h.45M142.6 583.8h.45M144.9 594.8h.45M142.2 594.9h.45M146.1 600.2h.45M124.8 601.7h.45M118.7 596.6h.45M143.3 590.3h.45M133.3 587.9h.45M146.3 586.4h.45M148.5 602.6h.45M152.7 602.1h.45M124.2 585h.45M133.6 593.3h.45M138.5 585.4h.45M144.8 595.2h.45M128 584.1h.45M125 595.4h.45M159.9 602.4h.45M127.5 604.1h.45M140.4 600.3h.45M137.9 590.5h.45M121.6 602.3h.45M126.1 591.3h.45M160 585.8h.45M160.4 576.4h.45M148.5 594.6h.45M136 597.8h.45M121.3 591.5h.45M115.3 590.8h.45M121.2 593.4h.45M136.9 581.8h.45M142.5 593.3h.45M131 593.5h.45M146.2 580.1h.45M138.9 592.4h.45M144.7 597.3h.45M147.8 582.3h.45M118.7 592h.45M133 588.7h.45M141.7 604.6h.45M128.5 597.6h.45M159.5 603.1h.45M149.7 590.1h.45M144.6 593.6h.45M126.1 588.8h.45M138.8 582.1h.45M122.7 590.3h.45M148.8 585.4h.45M130.6 589.2h.45M141.1 600.5h.45M140.1 585.8h.45M151.4 573h.45M160.4 590.2h.45M127.9 602.3h.45M147 597h.45M131.5 582.8h.45M153.5 594.5h.45M129.8 597.7h.45M159.7 591h.45M112.5 595.9h.45M154.5 599.3h.45M131 598.1h.45M130.9 600h.45M142.3 599.7h.45M139.7 593.5h.45M109.5 594.5h.45M111.5 588.7h.45M108.4 595.5h.45M107.2 594.4h.45M110.5 594.7h.45M110.7 592.4h.45M112.7 590.6h.45M112.1 591.6h.45M108.8 595.6h.45M108.5 593.5h.45M109.9 591.3h.45M109.5 588.4h.45M107.6 592.7h.45M111.1 592.7h.45M105.9 592.8h.45M113.6 593.5h.45M110.4 593.3h.45M109.1 591.4h.45M109.3 593.6h.45M106.8 595.5h.45M109.8 596.8h.45M109.5 595.3h.45M106 594.5h.45M108.9 592.7h.45M106.4 595.8h.45M109.9 595.7h.45M112.2 591.3h.45M104.6 593.4h.45M108.6 590.6h.45M108.8 592.4h.45M107.2 593.4h.45M107.9 593.4h.45M112.5 595.1h.45M110.3 596.4h.45M109.6 593.7h.45M109.4 589.6h.45M109.5 590.5h.45M113.4 594.1h.45M107.4 595.5h.45M109.5 591.4h.45M112.2 595h.45M111 596.3h.45M105.7 591h.45M108.6 593.6h.45M106.9 592.1h.45M110.8 598.8h.45M111.1 590.2h.45M112.1 594.3h.45M110.2 592h.45M106.8 591.2h.45M114.3 595.5h.45M106.7 593.3h.45M106.2 591.9h.45M109.9 597.6h.45M105.4 597h.45M111.7 590.4h.45M107 596.3h.45M114.7 595.3h.45M110.1 594.7h.45M107.6 592h.45M106.9 592.9h.45M108.2 593.7h.45M108.1 596h.45M106.2 595.4h.45M109.9 596.1h.45M109.2 597.4h.45M108.3 597.4h.45M106.9 594.9h.45M110.2 592.9h.45M110.1 593.2h.45M110.3 594.2h.45M105.9 593.4h.45M111.1 591.1h.45M110.6 594.7h.45M111.9 593.5h.45M107 592.1h.45M107.9 595.8h.45M112.4 594.5h.45M108 595.9h.45M106.2 596.2h.45M108.4 593.7h.45M106.7 595.6h.45M110.9 596.4h.45M108.3 598.4h.45M103 593.7h.45M110.5 595.1h.45M107.6 593.9h.45M107.9 594.8h.45M109.8 591.5h.45M111.7 589.6h.45M108.4 594.8h.45M104.1 590.8h.45M113.9 595.8h.45M106.5 593.3h.45M110.1 600h.45M109.7 595h.45M110.1 592.2h.45M109.2 593.1h.45M108.7 593.4h.45M107.5 591.3h.45M109.8 594.9h.45M113.6 598.5h.45M108.7 593.4h.45M110.3 594.7h.45M108.1 592.3h.45M116.9 593.4h.45M105.1 592h.45M110.7 593.5h.45M106.8 591.8h.45M115.4 590.5h.45M112.3 593.8h.45M112.8 594h.45M111.8 592.9h.45M108.5 596h.45M106.7 589.6h.45M110.9 594h.45M108 594.4h.45M109.4 591.2h.45M108.7 595.3h.45M106.8 599h.45M139.8 555.6h.45M154.5 554.9h.45M150.9 565.9h.45M144 559.3h.45M159.8 551.9h.45M138.8 561.6h.45M152.1 562.7h.45M137.6 559.3h.45M147.9 560.7h.45M141.2 558.7h.45M134.1 569.4h.45M139.2 553.5h.45M151.4 556h.45M136.7 568h.45M154.7 557.7h.45M137.2 565.5h.45M149.1 563h.45M140.9 555.7h.45M139.9 569h.45M143.9 559.4h.45M150 552h.45M145.7 550.1h.45M143.2 557.2h.45M152.7 559.9h.45M144.3 559.9h.45M129.4 564.4h.45M153.9 568h.45M161.8 560h.45M141.4 556.2h.45M133.9 563.4h.45M137.2 570.1h.45M136.9 554h.45M139.5 571.7h.45M151.3 558h.45M135.4 559.8h.45M157.5 557.7h.45M145 551.8h.45M153.3 564.3h.45M134.8 554.3h.45M134.4 563.8h.45M133.2 567.2h.45M143 563.2h.45M140.5 562.1h.45M152.9 564.4h.45M159.4 552.9h.45M132.6 554.7h.45M137.2 556.4h.45M147 560.9h.45M149.8 548.2h.45M155.2 567.7h.45M133.2 556.9h.45M142.5 555.3h.45M140 564.3h.45M152.1 561.5h.45M136.9 570.9h.45M143.6 562.3h.45M153.6 556.1h.45M159.7 549.7h.45M133.1 557.3h.45M158.2 553.6h.45M138.4 560.3h.45M156.5 554.7h.45M153.7 557.2h.45M155.6 554.8h.45M143.5 558h.45M146.8 549.3h.45M130.3 568.3h.45M138.6 551.9h.45M144.3 561.7h.45M134.1 566.2h.45M150.7 552.2h.45M144.9 560.5h.45M158.1 564.2h.45M155.6 553.6h.45M151.4 553.1h.45M149 551.1h.45M138.8 565.4h.45M149.7 558h.45M156.5 556.4h.45M143.8 559.6h.45M142.3 561.2h.45M137.2 560.2h.45M139.4 560.1h.45M152.4 551h.45M139.1 551.4h.45M141.9 561.4h.45M133 562h.45M141.2 553.8h.45M138.5 561.9h.45M146.5 560.7h.45M139.9 569.4h.45M152.9 557.2h.45M140.6 559.9h.45M143.3 557h.45M152.3 554.6h.45M153.5 565.5h.45M140.6 564.1h.45M122.2 569.2h.45M147.3 565.5h.45M142.2 560.3h.45M150.6 559h.45M140.9 552.5h.45M155 558.3h.45M144.3 556.2h.45M133.5 564.8h.45M138.5 560.3h.45M137.5 556.3h.45M149 556.1h.45M146.2 561.4h.45M137.7 557.9h.45M131.5 564h.45M152.9 561.7h.45M155.7 558.9h.45M146 555.9h.45M139.6 560.3h.45M140.3 555.8h.45M148.8 561.8h.45M135.9 553.9h.45M144.5 567.6h.45M137.8 568.3h.45M138.4 562.2h.45M145 559.8h.45M149 555.3h.45M132.3 555.7h.45M136.1 570.1h.45M148.7 565.4h.45M134.4 560.5h.45M144.4 557h.45M136.5 569.2h.45M141.4 558.5h.45M143 561.1h.45M141.9 560.8h.45M151.9 551.3h.45M145.2 557h.45M140.8 563h.45M137.6 567.6h.45M148.7 543.7h.45M139.5 570.4h.45M148.1 546.5h.45M148.2 567.2h.45M154.9 556.7h.45M148.3 555.1h.45M140.3 567.8h.45M140.2 568.5h.45M147.3 559.4h.45M149.4 558.1h.45M137.9 561.8h.45M138.1 572.4h.45M135.8 551.4h.45M148.9 554.7h.45M151.7 562h.45M144.1 556.2h.45M142.4 562.1h.45M145.3 554.7h.45M133.4 568.2h.45M152.9 556.8h.45M139.8 572h.45M156.1 556.8h.45M137.9 561.5h.45M149.8 545.5h.45M129.3 598.9h.45M129.9 575.7h.45M135.1 584h.45M148.3 583.8h.45M132.1 583.5h.45M126.8 584.6h.45M143.9 595.3h.45M132.8 580.9h.45M130.1 589.8h.45M132.7 578.8h.45M139.3 589.9h.45M133.4 576.8h.45M132.7 586.7h.45M128.9 582.3h.45M137.7 588.4h.45M138.9 584.1h.45M140.3 573.5h.45M149.9 591.6h.45M139 585.3h.45M129.4 567.8h.45M136 582h.45M138.6 573.6h.45M140 566.7h.45M145.1 581.1h.45M143.4 567.6h.45M138.3 596.7h.45M135.2 590h.45M134.2 580.7h.45M134.4 580.5h.45M131 589.3h.45M136.1 589.7h.45M136.6 579.7h.45M135 573.2h.45M138.5 577.6h.45M138.8 585.8h.45M134.4 596.3h.45M140.5 575.3h.45M137.1 586.7h.45M140.1 579.7h.45M131.2 563.2h.45M133.6 593.5h.45M135.8 587h.45M137.1 585.4h.45M138 581.5h.45M146.2 569.7h.45M143.6 576.8h.45M137.1 580.5h.45M152.9 602.2h.45M138.5 594.1h.45M142 575.8h.45M143.5 569.6h.45M141.6 576.8h.45M123.3 575.7h.45M143.6 577.1h.45M140.4 581.3h.45M139.7 589.1h.45M137.2 563.7h.45M136.3 591.5h.45M125.3 584.3h.45M139.6 592.2h.45M131.9 569.4h.45M141.2 567.1h.45M145 588h.45M139.9 589.9h.45M149.2 589.4h.45M136.2 591.3h.45M135.1 568.3h.45M136 579.2h.45M135.4 597.1h.45M126.7 567.7h.45M130.8 585.7h.45M149.7 587.6h.45M147.7 574.1h.45M142.6 582.9h.45M121.1 577h.45M140.8 587.6h.45M140.1 571.5h.45M144.2 580.1h.45M135.4 565.6h.45M127.8 586.7h.45M138.5 584.8h.45M128.8 585.1h.45M144 565.2h.45M143.9 568.1h.45M144.8 576.2h.45M141.2 568.4h.45M143.8 586.1h.45M146.1 593.3h.45M143.4 580.3h.45M138.3 580.3h.45M133.2 580.7h.45M134.8 574.5h.45M141.7 586.7h.45M142.9 576h.45M143.1 577.4h.45M141.1 579.7h.45M128.2 593.1h.45M140.9 596.1h.45M147.8 581.5h.45M138.5 578.5h.45M149.1 568.8h.45M135.1 573.3h.45M137.1 572.9h.45M138 582.3h.45M132.2 588.2h.45M137.1 579.9h.45M133.4 589.1h.45M150 580.6h.45M140.1 567.1h.45M151.4 580.2h.45M142.4 580.6h.45M125.8 573.2h.45M133.4 577.6h.45M153.3 586.3h.45M138.2 572.8h.45M144 575.2h.45M129.1 582.6h.45M141.8 581.1h.45M133.1 581.5h.45M141.2 564.2h.45" stroke="#000" stroke-width="0.45" fill="none" opacity="0.8"/>
<rect x="97.6" y="541.1" width="65.2" height="64.4" fill="none" stroke="#999" stroke-width="0.6"/>
<path d="M97.6 541.1V605.5H162.8" fill="none" stroke="#444" stroke-width="0.7"/>
<rect x="123.8" y="547.4" width="38.6" height="25.4" fill="none" stroke="#000" stroke-width="1"/>
<text x="128.9" y="536.2" font-size="8.1" text-anchor="middle">TGF-β</text>
<text x="112.1" y="610.2" font-size="2.8" text-anchor="middle" style="stroke:none" fill="#333">10</text>
<text x="127.8" y="610.2" font-size="2.8" text-anchor="middle" style="stroke:none" fill="#333">10</text>
<text x="143.5" y="610.2" font-size="2.8" text-anchor="middle" style="stroke:none" fill="#333">10</text>
<text x="159.2" y="610.2" font-size="2.8" text-anchor="middle" style="stroke:none" fill="#333">10</text>
<ellipse cx="208.5" cy="597.2" rx="8.51" ry="4.73" transform="rotate(-8 208.5 597.2)" fill="#000" opacity="0.9" filter="url(#b2)"/>
<path d="M219.5 597.1h.45M212.3 594.1h.45M198.7 599.5h.45M218.6 595h.45M197.8 600.5h.45M213 597.3h.45M208.3 601.2h.45M208.6 604.6h.45M204 589.2h.45M210 599.2h.45M222.6 589.1h.45M207.3 599.4h.45M199.3 596.9h.45M199.6 593.8h.45M206.7 593h.45M210.7 598h.45M216.2 598h.45M209.2 597h.45M199.3 596.7h.45M199.2 598.6h.45M215.6 599.5h.45M219.7 595.8h.45M207 602.6h.45M198.2 601.4h.45M204 596.4h.45M214.4 601.3h.45M198.9 596.2h.45M211.6 588.9h.45M203.4 598.4h.45M222.9 598.8h.45M200.6 598.3h.45M201 598h.45M202.8 595.3h.45M208.9 600h.45M203.1 604.5h.45M205.2 598h.45M202.4 590.9h.45M214.7 600h.45M207.9 596.6h.45M210.5 594h.45M213.3 599.5h.45M212.9 595.8h.45M196.9 597.8h.45M210.2 593.9h.45M216.2 598.9h.45M213.2 598.7h.45M204.2 597.4h.45M210 587.7h.45M214.5 603h.45M210.3 593.4h.45M208.5 603.2h.45M213.4 596.8h.45M224.7 599.4h.45M206.4 604.1h.45M206.6 599.4h.45M202 594.5h.45M215.4 596.7h.45M208.5 592.4h.45M204.7 596.4h.45M212.3 590.3h.45M206.4 601.1h.45M211 594.1h.45M212.5 596.6h.45M207.2 603.4h.45M196.3 595.2h.45M217.6 600.4h.45M211.4 593.8h.45M210.5 599.4h.45M214.1 603h.45M196.3 599.2h.45M218.2 596.2h.45M216.1 598.9h.45M220.8 599.6h.45M215.7 589.8h.45M198.6 599.9h.45M205.6 600.8h.45M208.8 593.9h.45M209.3 594.3h.45M203.3 599.3h.45M212.7 601.9h.45M211.9 597.8h.45M209.8 595.3h.45M211.3 587.8h.45M216.9 591.5h.45M214.6 597.8h.45M220.3 595h.45M200.5 592.4h.45M215.9 603.3h.45M201.1 598.5h.45M229.6 593.1h.45M210.9 601.8h.45M199.3 598.5h.45M200.2 597h.45M211.1 591.1h.45M211.6 601.8h.45M209.4 597.1h.45M202 597.3h.45M217.1 598h.45M220.9 590.7h.45M203.8 598.7h.45M211.3 594.1h.45M205.1 595.2h.45M212.5 594.2h.45M203.6 603.3h.45M212.4 593.4h.45M190.9 598.2h.45M201.9 594.2h.45M213 592.8h.45M211.5 593.1h.45M213.2 593.9h.45M221.8 593.5h.45M207.7 600h.45M209.3 595h.45M204.1 596.6h.45M197.1 597.9h.45M215.2 597.3h.45M206.7 594.1h.45M206.5 596.2h.45M219.3 598h.45M201.7 598.4h.45M209.4 602.8h.45M213.3 594.9h.45M217.1 599.7h.45M213.3 598h.45M211.3 597.5h.45M208 594.4h.45M213.7 594.7h.45M202.6 603.7h.45M207.9 595h.45M204.4 597.7h.45M208.4 594.6h.45M219.2 593.4h.45M203.5 604.9h.45M215 598.1h.45M210.6 596.8h.45M206.4 593.9h.45M198.2 603h.45M202.1 591.4h.45M206.1 586.3h.45M203.8 601.8h.45M205 595.1h.45M224.2 598.2h.45M214.2 595.9h.45M209.7 604.9h.45M212.2 598.2h.45M210.1 600.9h.45M212.8 597.1h.45M203.6 595.6h.45M212.7 598h.45M213 592.6h.45M189.8 593.9h.45M204.7 596.1h.45M199.4 600.8h.45M207.6 593.4h.45M215.4 596.5h.45M206.4 596.6h.45M207.1 600.2h.45M193.6 602.6h.45M214.3 597.6h.45M227.4 595.4h.45M212.7 599.3h.45M213.8 590.3h.45M197.1 594.4h.45M218.7 597.7h.45M191.3 604.1h.45M219.4 599.4h.45M198.1 599.5h.45M215.3 601.4h.45M203.9 604.7h.45M215.8 595.3h.45M204.1 596.7h.45M208.7 591.5h.45M213.1 600.1h.45M214.1 598.1h.45M230.4 595.5h.45M207.5 602.1h.45M209.8 597.7h.45M224.7 604.2h.45M203 603.9h.45M206.4 604.8h.45M203.4 595.8h.45M208.4 599.3h.45M209.6 603.6h.45M216.8 593.1h.45M213.1 595.1h.45M200.5 594.4h.45M208.1 600.5h.45M208.2 598h.45M201.6 588.8h.45M199.9 594.1h.45M215.9 599.2h.45M216.8 600.8h.45M199.5 597.2h.45M208.1 602.4h.45M203.5 589.3h.45M218.3 593.1h.45M204.8 594.9h.45M202 601.6h.45M210 597.5h.45M211.7 593.3h.45M201.8 604.3h.45M206.6 594.5h.45M199.3 596.1h.45M192.9 603h.45M206.8 603.4h.45M211.9 595.9h.45M201 597.5h.45M188.1 604.3h.45M206.2 595h.45M222.3 592.4h.45M220.6 599.4h.45M206.6 597.6h.45M219.6 584.5h.45M215.1 593.1h.45M217 597.2h.45M198.7 597.5h.45M197.2 588.2h.45M196.8 596.7h.45M193.1 595h.45M215 603.9h.45M218.6 604.2h.45M206.5 601.1h.45M198 598.1h.45M185.5 596.3h.45M208.7 601h.45M200.2 604.6h.45M214.9 598.5h.45M205.7 598.4h.45M210.7 603.2h.45M201.6 596.8h.45M199 600.8h.45M209.7 593.6h.45M220.1 601h.45M214.8 599.4h.45M220.8 603h.45M212 593.9h.45M203.2 594.5h.45M212 598.1h.45M207 594.6h.45M207.5 602.1h.45M200.5 598.3h.45M211.9 594h.45M206 599.4h.45M213.3 602.1h.45M206.6 601.4h.45M213.2 597.6h.45M193.4 592.2h.45M203 594.6h.45M213.3 594.1h.45M210 596.1h.45M190.7 598.5h.45M202.9 601.5h.45M206.1 598.9h.45M201 598.3h.45M209.5 594.4h.45M224.2 598.1h.45M220.6 602.6h.45M199.9 596.3h.45M213 600.8h.45M207.6 596.9h.45M207.8 591.4h.45M212.2 592.5h.45M218.1 591.4h.45M206.7 601.7h.45M210.7 601.5h.45M217.8 596.7h.45M209.8 598.6h.45M204.7 592.4h.45M203.8 597.4h.45M209.4 596.4h.45M214.9 598.8h.45M209.3 601.5h.45M223.1 589.9h.45M209.8 599.9h.45M205.6 600.7h.45M218.2 599.6h.45M215 598.9h.45M219.9 600.8h.45M206.8 599.3h.45M207.1 594.4h.45M207.7 601.5h.45M207.8 602.2h.45M212.5 599.4h.45M201.5 595.6h.45M217 599.6h.45M202.4 592.8h.45M200.9 600.8h.45M197.5 600.5h.45M205 593.4h.45M213 600.2h.45M206.6 593.4h.45M213.8 600.2h.45M203.7 587.5h.45M208.6 594.5h.45M209.8 603.4h.45M207.8 601.1h.45M220 586.2h.45M215.6 590.5h.45M203.4 597.2h.45M204.9 600.3h.45M203.9 596.7h.45M213.7 593.8h.45M190.6 599.8h.45M202.8 591.9h.45M224.9 597.4h.45M206.9 597.7h.45M189.1 604.2h.45M201.6 601.7h.45M191.6 604.8h.45M208.9 591.9h.45M209.6 599.9h.45M204.3 604.7h.45M216 591.9h.45M195.3 599.7h.45M217.9 593.2h.45M203.6 590.1h.45M215.3 597.2h.45M208.6 592.3h.45M202.7 597.9h.45M212 589.9h.45M214.2 597.8h.45M202 600.5h.45M210.1 589.5h.45M209.7 594.8h.45M211.1 600.4h.45M208.9 595.3h.45M211.2 595.9h.45M211 600.6h.45M214.2 595.6h.45M209.9 599.5h.45M207.5 596.5h.45M221 603.2h.45M203.3 594.3h.45M205.1 588.5h.45M221.6 598.5h.45M223.8 598.8h.45M191.8 594.9h.45M215.6 596h.45M212.9 598.4h.45M201 591.6h.45M212.7 596.6h.45M216.5 597.9h.45M195.7 596.3h.45M205.2 598.7h.45M196.6 588.8h.45M212.3 590.6h.45M212.2 601.4h.45M215.8 599.9h.45M215.7 589.7h.45M204.3 600.2h.45M219.2 593.8h.45M197.7 597.3h.45M220.5 597.5h.45M196.4 596.1h.45M213.3 601h.45M214.5 603.4h.45M210.3 599.3h.45M211.5 601.4h.45M209.1 601.3h.45M213.7 594.2h.45M212.4 596.9h.45M209.4 596.8h.45M210.4 598.1h.45M198.2 594.6h.45M208.4 593.8h.45M206.4 591.7h.45M215 597.4h.45M211.8 597h.45M206.4 599.4h.45M198.1 600.3h.45M216 599.9h.45M213.7 597h.45M217.8 599.5h.45M193.3 596.8h.45M197.8 596.5h.45M221.7 592.4h.45M214.3 591.7h.45M195.9 594.3h.45M206.4 594.7h.45M190.8 596.4h.45M208.3 595.4h.45M198.1 591.6h.45M203.4 601.3h.45M207.1 594.5h.45M200.9 601.6h.45M204 596h.45M198.4 598.3h.45M212.4 592.7h.45M211.3 595.3h.45M211.6 592.5h.45M202.7 594.1h.45M207.8 594.8h.45M198.6 597.8h.45M215.5 599.5h.45M208.4 596.1h.45M217.2 591.5h.45M226.9 598.6h.45M211.5 598.5h.45M220.5 589.1h.45M202.2 598.5h.45M207 600.7h.45M210.5 593.1h.45M201.4 592.9h.45M201.9 596h.45M212.5 596h.45M219.9 595.8h.45M196.2 600.8h.45M211.4 596.1h.45M216.8 603.5h.45M207 596.8h.45M210.3 597.9h.45M208.2 604.2h.45M217.1 601.5h.45M199.1 601h.45M204.8 590.2h.45M218.5 589.2h.45M198.3 588.8h.45M200 600h.45M220 599.9h.45M211.4 600.9h.45M205.7 597.3h.45M206.9 593.6h.45M217.5 589.3h.45M210 597.6h.45M195.9 593.2h.45M211 593.2h.45M209.3 595.2h.45M208.2 595.1h.45M207.4 601.2h.45M196.2 594.6h.45M211.8 598.6h.45M214 597.5h.45M191.7 604.2h.45M203 597.5h.45M199.1 601.7h.45M208.9 592h.45M213.2 601.1h.45M212.1 588.1h.45M214.3 599h.45M226.5 597.9h.45M222.1 596.3h.45M194 590.9h.45M217.8 598.5h.45M210.8 603h.45M208 598h.45M210.9 597.2h.45M204.8 597.6h.45M212.8 602.3h.45M209 598.9h.45M212.2 592.7h.45M201.3 598.7h.45M205.5 593.3h.45M203.3 590.5h.45M217.1 598.2h.45M216.1 586h.45M208.4 598.4h.45M203.6 601.7h.45M208.6 599.1h.45M208.1 596h.45M205.1 597.9h.45M218.4 595.3h.45M202.6 595.2h.45M215.8 602.5h.45M213.4 598.4h.45M213.4 591.9h.45M205.6 599.8h.45M205.4 601.5h.45M219.9 591.6h.45M208 600.2h.45M211.8 598.3h.45M220.6 601h.45M201 595.1h.45M201.8 597.2h.45M214.2 597.3h.45M215.9 598.9h.45M203 589.3h.45M204 592.5h.45M198.6 597.1h.45M222.6 593h.45M214.7 599.2h.45M208.4 593.3h.45M222.5 595.2h.45M223.6 596.4h.45M207.9 597.3h.45M204.7 594.8h.45M212.6 593.2h.45M213.1 591.8h.45M195.2 597.8h.45M216.3 592.8h.45M223.8 600.4h.45M208.4 602.6h.45M206.5 597.3h.45M211.8 596.5h.45M217.1 591h.45M199.9 591.4h.45M206.1 596.5h.45M200.7 601h.45M197.5 594.4h.45M219.5 592.9h.45M208.5 584.8h.45M208.9 597.4h.45M207.8 600.2h.45M206.8 597.6h.45M203 597.2h.45M208.9 601.3h.45M202.9 593.3h.45M205.4 595h.45M207.3 602.9h.45M217.5 596h.45M207.9 597.8h.45M202.7 600.5h.45M212.1 595.4h.45M205.4 599.9h.45M198.5 596.1h.45M200.3 590.8h.45M201.5 600.7h.45M217.3 591.9h.45M204.7 600.2h.45M209.3 594.1h.45M204.3 602.5h.45M194.4 593h.45M208.7 598.6h.45M201.6 593.9h.45M217 596.7h.45M199.8 600h.45M207.3 602.5h.45M214.7 592.3h.45M203.1 597.8h.45M205.3 600h.45M200 592.1h.45M204.2 595.4h.45M204.2 595h.45M202.2 600h.45M207.8 595.8h.45M198.2 601h.45M218.6 595h.45M209.2 602.2h.45M208.5 600.9h.45M204.9 594.2h.45M218.2 589.7h.45M214.6 601.8h.45M209.8 597.2h.45M215.3 591.8h.45M208 598.7h.45M208.7 590h.45M210 595h.45M219.7 604.5h.45M198 599.9h.45M204.4 587.3h.45M206.3 605h.45M219.9 597.8h.45M210.9 604.6h.45M195.4 598.2h.45M201.7 600.3h.45M209.4 598.6h.45M219.6 596.2h.45M207.5 603.2h.45M212.1 601.2h.45M189.8 605h.45M215 585.1h.45M209.4 598.8h.45M196.5 604.1h.45M210.7 592.6h.45M202.2 597.8h.45M208.8 595h.45M211.7 602.5h.45M209.6 596.8h.45M223.4 600h.45M205.8 597.6h.45M204.2 597.2h.45M205.3 593.9h.45M213.4 594.9h.45M202 595.8h.45M201 597.7h.45M206.5 593.7h.45M215.6 597.2h.45M214.8 596.9h.45M212.1 590.1h.45M206.9 601.7h.45M204.9 599.3h.45M196.7 591.2h.45M212.4 593h.45M211.4 596.3h.45M211 595h.45M208.8 601.8h.45M214.5 597.1h.45M213.2 597.1h.45M210.3 592.7h.45M208 603.5h.45M209.8 599h.45M220.9 600.5h.45M222.7 599.9h.45M220.5 590.9h.45M212.5 597.1h.45M197 600.3h.45M210.7 597.7h.45M212.1 597h.45M221 593.9h.45M208.3 590.1h.45M207.7 599.8h.45M212.5 599.6h.45M209.9 598.1h.45M206.1 604.7h.45M201.2 597.4h.45M199.5 602.8h.45M206.4 597.4h.45M204.9 602.6h.45M209 597.2h.45M207.1 594.4h.45M212.9 599.7h.45M225.4 588.1h.45M206.6 593.7h.45M204.5 592.1h.45M201.9 601.6h.45M204.5 596.6h.45M215.3 597.4h.45M211 596.4h.45M209.3 595.2h.45M218.6 595.3h.45M204 596.4h.45M210.3 594.4h.45M220.7 597.4h.45M213.6 597.3h.45M200.8 596.4h.45M213 597.4h.45M204.1 592h.45M202.9 600.4h.45M189.6 596.5h.45M219.1 594.7h.45M205.1 589.8h.45M205.7 599.2h.45M203.1 598.7h.45M203.9 595.6h.45M206.1 603.7h.45M218.8 601.5h.45M199.8 593.5h.45M201.3 597.2h.45M215.7 602.8h.45M198.5 602.6h.45M204.9 595.8h.45M214.3 589.3h.45M216.7 605h.45M217 592.4h.45M211.4 599.2h.45M208.7 602h.45M207.4 595.3h.45M205.9 600.5h.45M213.3 602.1h.45M195.9 591.6h.45M214.4 595.6h.45M218.4 598.5h.45M207.4 598.5h.45M205.4 593.7h.45M210.1 595h.45M207.9 596.5h.45M198.9 598h.45M210.5 592.9h.45M213.4 594.1h.45M223.3 584.9h.45M218.4 603.1h.45M210 593h.45M207.4 599.4h.45M208.8 595.6h.45M212.1 602.9h.45M220.9 589.9h.45M206.2 596.3h.45M216.4 593.8h.45M203.2 595.8h.45M209.5 599.7h.45M211.4 592.2h.45M208.2 593.3h.45M217.5 591.6h.45M207 602.4h.45M214 604h.45M210.3 600.2h.45M203.1 597.6h.45M220.4 597.6h.45M208 593.1h.45M217 604.8h.45M212.6 603.5h.45M212 593.4h.45M213.8 594.1h.45M211.6 602.5h.45M210 597.7h.45M199.2 596.1h.45M208 590.9h.45M215.2 599.7h.45M209.9 594h.45M200.2 594.6h.45M209.6 595.5h.45M197.5 598.8h.45M201.2 592.7h.45M206.5 597.2h.45M211.4 590h.45M209 599.8h.45M212.3 593.3h.45M202.5 597.6h.45M208.3 599.5h.45M195.6 596.7h.45M208.5 598.4h.45M213.2 588.3h.45M206.3 595h.45M205 593.7h.45M207.5 600.1h.45M210.1 597.7h.45M198 600.8h.45M211.3 600.2h.45M205.1 599.8h.45M201.4 597.3h.45M217.3 596h.45M220.2 598.5h.45M202.7 598.9h.45M202.2 598.8h.45M216.7 590.8h.45M213.7 587.7h.45M202.1 600.7h.45M206.7 604.9h.45M201.3 592.4h.45M209.5 590h.45M203.4 595.2h.45M199.1 597.5h.45M207.1 595.8h.45M211 592.8h.45M206.5 589.6h.45M199.1 600.2h.45M201.4 600.8h.45M220.6 597.2h.45M205.3 595.7h.45M217.5 590.2h.45M202.4 604.2h.45M214.4 598.6h.45M206.1 594.7h.45M204.4 594.9h.45M204 598.6h.45M197.2 595.7h.45M208.9 596.8h.45M206.6 595.5h.45M213.1 593.1h.45M212.1 594.5h.45M217.5 600.4h.45M207.7 595.4h.45M208.3 591.6h.45M210.1 595.3h.45M218.1 585.7h.45M211.4 594.4h.45M197.6 598.8h.45M200.7 599.2h.45M195.3 599.9h.45M212.4 593.5h.45M215.9 599.9h.45M208 603.9h.45M208.8 598h.45M210.9 596.2h.45M196 601.2h.45M208.4 592h.45M228.6 591.9h.45M211.3 603.4h.45M223.8 595h.45M212.6 597.7h.45M202.9 598.9h.45M202.1 602.5h.45M220.9 591.8h.45M210 594.3h.45M220.2 593.5h.45M207.4 599.3h.45M217.7 594h.45M207 592h.45M215.5 590.4h.45M212.7 590.8h.45M222.3 595.2h.45M207.4 602.3h.45M205.8 596.7h.45M213 601h.45M214.7 601.7h.45M193.4 593.5h.45M198.1 596.6h.45M208.9 592.4h.45M212.5 588.2h.45M206.4 594.3h.45M205.1 599.2h.45M212.8 593.9h.45M208.7 597.6h.45M208.7 592.5h.45M203.8 604h.45M198.6 594.5h.45M217.7 594.4h.45M200.3 601.2h.45M216.2 591.2h.45M201.3 594.1h.45M218 588.3h.45M199.1 599.2h.45M202.6 599.2h.45M211.3 592h.45M216.9 593.5h.45M220.2 599h.45M222.4 592.9h.45M217.8 596.2h.45M215.3 589.5h.45M222.1 599.4h.45M200.1 600.1h.45M215.3 591.6h.45M216.9 589.5h.45M202.9 597.1h.45M203.7 588.8h.45M209.4 599.4h.45M209.5 598.2h.45M209.7 595h.45M209.8 601.5h.45M218.4 598.2h.45M214.3 605h.45M203.9 595.5h.45M214.3 595.6h.45M213.1 594.8h.45M215.8 600.2h.45M213.8 593.7h.45M216 598.4h.45M212.7 594.5h.45M218.2 592.5h.45M214.4 599.4h.45M213.7 601.8h.45M217.5 597.1h.45M226.5 595.6h.45M214.4 591.5h.45M208.4 600h.45M204.2 595h.45M212.6 594.5h.45M204 600.8h.45M207.6 592.2h.45M219.2 597.7h.45M204.5 599.4h.45M216.3 595.9h.45M198.6 587h.45M210.3 596.5h.45M209.8 597.5h.45M203.9 596h.45M217.3 590.4h.45M203.4 593.8h.45M215.4 603.9h.45M204.9 600.1h.45M199.7 592.6h.45M220 591.9h.45M220.5 590.4h.45M207.6 596.4h.45M213.4 592.6h.45M200.9 594.2h.45M220.5 587.2h.45M198.6 597.2h.45M200.2 597.5h.45M210.2 597.3h.45M212.2 591.2h.45M213 596h.45M208.6 593.2h.45M203.5 595h.45M223 598.5h.45M204.3 591.9h.45M205.8 599.1h.45M213 603.2h.45M209.9 602.9h.45M206.3 597.2h.45M217.5 592.5h.45M227.3 592.8h.45M221.4 592.1h.45M207.4 594.7h.45M211.1 600.3h.45M218.9 599h.45M210.1 592.5h.45M200.2 602.3h.45M204 596.5h.45M215.4 591.9h.45M203.4 595.9h.45M198 597.7h.45M214.3 597.8h.45M216.5 597.3h.45M205.5 596.6h.45M204.2 594.5h.45M206.4 604h.45M212.4 597.2h.45M194.8 599.3h.45M202.4 597.6h.45M206.6 596.3h.45M197.5 590.5h.45M213.7 599.4h.45M210.7 597.4h.45M196.7 598.9h.45M199.8 600.6h.45M208.5 594.5h.45M211.6 587.7h.45M208.5 604.3h.45M203.7 598.4h.45M209.9 591.9h.45M215 601.6h.45M209.3 592.4h.45M203.3 599.2h.45M220.3 599.2h.45M214.5 601.5h.45M211.9 600h.45M215.4 597.6h.45M196.2 602.5h.45M223.7 597.6h.45M203.5 604.7h.45M198 603.2h.45M216.2 598.8h.45M215.7 593.1h.45M206.5 600.6h.45M215.6 592.6h.45M203.4 596h.45M196.3 595.2h.45M204.9 601.1h.45M211.1 597.1h.45M215.4 595.7h.45M209.5 597.2h.45M199.2 602.2h.45M219 602.4h.45M210.9 601.3h.45M207.7 598.3h.45M212.3 601.1h.45M206.6 599.6h.45M214.3 601.1h.45M212.9 590.4h.45M221.2 592h.45M214.3 593.1h.45M206.5 595.4h.45M194.6 596.8h.45M207.4 595.3h.45M213.7 599.7h.45M209.2 599.7h.45M197.2 595.6h.45M223.1 590.4h.45M196.9 592h.45M223.6 602.1h.45M230.3 601.5h.45M214.6 588.2h.45M218.8 593.9h.45M209.9 591.7h.45M208.6 590.1h.45M222.9 601.9h.45M208 590.8h.45M209.9 595h.45M206.9 601h.45M214.8 596.9h.45M218.8 599.3h.45M212.7 598h.45M208.4 587.7h.45M198.6 601h.45M212.8 599.7h.45M207.1 591.6h.45M217.2 594h.45M208.3 593.8h.45M208.2 594.2h.45M202.7 599.3h.45M206.1 598.2h.45M209.7 596.7h.45M206.2 593.9h.45M212.6 600.8h.45M207.8 604.1h.45M211.1 602h.45M199.5 598.7h.45M205.1 590.7h.45M198.5 601.7h.45M222.2 583.6h.45M207.6 603.8h.45M212.7 594.2h.45M191.1 600h.45M220.8 601.5h.45M198.2 600.2h.45M211.3 591.6h.45M197.7 595.4h.45M214.9 591.5h.45M207.5 596.5h.45M212 601.1h.45M225.7 584.4h.45M221.6 596.7h.45M221.9 600.7h.45M214.8 595.1h.45M206.3 597.2h.45M207 600.8h.45M213.4 601.8h.45M211 596.9h.45M217.4 598.7h.45M199.4 603.9h.45M206.8 593.5h.45M205 593.9h.45M207.4 593.3h.45M200.5 596.1h.45M215.1 596.5h.45M209.8 599h.45M211.3 595.3h.45M214.4 599.4h.45M192.6 596.8h.45M209.6 603.4h.45M210.5 587.7h.45M211 598.2h.45M209.5 597.5h.45M215.9 600h.45M196.2 594.1h.45M209.7 590h.45M222.6 592.2h.45M210.4 601.6h.45M203.4 593.8h.45M211.9 592.4h.45M214.6 598.2h.45M213.8 596.4h.45M203.6 593.5h.45M194.9 591.6h.45M205.7 601.2h.45M214.8 589.3h.45M210.4 595.3h.45M210.3 594.3h.45M208 604.2h.45M203.9 593.8h.45M217.8 598.5h.45M214.1 594.8h.45M214.9 594.9h.45M206.7 601.8h.45M199.9 600.6h.45M205.3 594.9h.45M208.8 592.5h.45M212.9 592.6h.45M206.8 596.5h.45M210.4 604.6h.45M199.5 597.7h.45M209.9 601.6h.45M213.1 593.2h.45M212.5 601.9h.45M212.8 595.7h.45M208.7 592h.45M200.2 594.5h.45M220.3 592.6h.45M216.6 593.2h.45M217.9 592h.45M199.4 599.7h.45M214 593.7h.45M208 594.1h.45M202.5 602.2h.45M219.7 597.7h.45M214.6 596.3h.45M208.1 593.6h.45M213.2 597.8h.45M215.6 598.2h.45M200.6 591.9h.45M207.4 597.8h.45M197.9 598.7h.45M198.1 599.6h.45M198.5 597h.45M209.5 595.3h.45M209.9 596h.45M196.4 595.5h.45M207.5 596.9h.45M199.4 602.7h.45M213.6 591.1h.45M209.4 593.4h.45M201.8 593.6h.45M220.3 595h.45M216.3 594h.45M202.9 600h.45M205.2 598.2h.45M198.8 596.3h.45M217.9 599.1h.45M204 591.6h.45M198.9 599.3h.45M200.3 595.9h.45M210.3 592.8h.45M207.6 596.2h.45M206 597.8h.45M195.2 600.3h.45M221.6 594.7h.45M197.4 601.6h.45M204.1 596.1h.45M207.4 602.5h.45M204.4 595h.45M211.6 594h.45M208.3 600.7h.45M209.7 599.5h.45M210.7 603.6h.45M210 598.2h.45M206 600.9h.45M194.4 593.9h.45M219.7 594.4h.45M213.7 603.2h.45M203.5 601.7h.45M200.6 596.4h.45M217.7 595.4h.45M201.3 596h.45M214.5 600.4h.45M214.7 585.7h.45M196.9 596.1h.45M215.2 591.8h.45M195 582.9h.45M196.7 603.1h.45M219.4 595.2h.45M207.7 596.2h.45M214.7 599h.45M213.5 593.1h.45M216.5 604.7h.45M214.7 600.2h.45M206.9 596h.45M224.4 594.9h.45M207.1 594.6h.45M215.3 602.8h.45M201.3 589.3h.45M204.9 599.1h.45M203.2 596.8h.45M217.6 600.2h.45M200.5 599.7h.45M207.4 599h.45M209.7 599.3h.45M201.8 600h.45M196.1 596.6h.45M200.6 596.1h.45M212 601.9h.45M205.4 603.4h.45M205.6 597h.45M198.9 596.8h.45M226 596.4h.45M214.1 599.4h.45M196.1 596.3h.45M210.2 591.3h.45M216 595.2h.45M202.2 595.1h.45M217.6 597.6h.45M215.6 588.3h.45M217.9 595.7h.45M212.6 602.7h.45M199.8 597h.45M214.5 598.7h.45M212.9 590.3h.45M211.4 597h.45M213.3 590.5h.45M206 597.3h.45M221.2 595.9h.45M197.8 593.9h.45M205.5 585.7h.45M207 602.8h.45M211.3 588.4h.45M204.9 602.7h.45M198.5 596.4h.45M199.5 594.5h.45M199.6 585.2h.45M216 597.8h.45M206.1 599h.45M206.8 596.1h.45M210.7 599.9h.45M212.7 596.4h.45M220.5 595.4h.45M199.4 604.8h.45M204 593.4h.45M209.6 597.5h.45M207 591.5h.45M207.1 599.5h.45M221 597.5h.45M218.6 602.2h.45M216.3 599.8h.45M215.3 598.9h.45M199.8 591.6h.45M203.4 600.3h.45M218.1 594.7h.45M206.4 603.7h.45M216.7 597.1h.45M206.6 589.3h.45M217.9 597.5h.45M207.9 597.5h.45M206.8 599.6h.45M208.2 596.3h.45M213.3 590.6h.45M208.6 594.6h.45M188 586.5h.45M212.9 601.8h.45M216.9 596.1h.45M209.6 604.2h.45M211.7 599.9h.45M195 599.5h.45M216.8 593h.45M205.4 599.1h.45M212.3 592h.45M209.7 599.9h.45M199.1 602h.45M195.6 603.2h.45M214.4 602.2h.45M192.3 599.6h.45M206.4 598.1h.45M202.7 603.5h.45M207.2 597h.45M199.8 596.3h.45M194.1 597.7h.45M202.9 598.1h.45M195 597.9h.45M212.6 595h.45M207 593.2h.45M205 598.3h.45M205.2 601.1h.45M199 596.8h.45M213.1 601.2h.45M195.5 600.8h.45M205.1 597.5h.45M208.7 596.4h.45M211.8 595.7h.45M215 598.7h.45M195.3 601.3h.45M206.8 588.8h.45M196.9 594.8h.45M214.3 598h.45M207.3 591.1h.45M209.6 597.1h.45M211.2 599.3h.45M209.9 595h.45M207 585h.45M214.5 598.9h.45M209.5 593.1h.45M209.4 595h.45M209.5 601.3h.45M212.5 596.5h.45M209.4 597.3h.45M207.3 595.6h.45M212.4 594.4h.45M209 598.8h.45M207.3 598h.45M218.9 597.6h.45M209.2 595.1h.45M202.6 598.4h.45M210.6 602.2h.45M202.2 603.3h.45M207.3 598h.45M215.7 599.6h.45M211.3 593.6h.45M208.2 596.3h.45M216.4 592.3h.45M217.8 596.5h.45M204.1 598.4h.45M211.1 592h.45M217.3 595.2h.45M215.8 594.3h.45M204.7 600.8h.45M213.3 596.6h.45M198.1 603h.45M213.6 589.9h.45M197.3 597.8h.45M212.2 597.3h.45M198.4 599.7h.45M212 599h.45M206.8 594.4h.45M203.2 601.7h.45M210.2 597.3h.45M211.7 599.8h.45M212.1 600.9h.45M199.3 603.3h.45M214.3 593.9h.45M212.8 593.5h.45M210.8 595h.45M188.7 603.3h.45M199.7 601.9h.45M208.2 604.8h.45M185.3 596.6h.45M197.6 600.7h.45M201.9 593.2h.45M202 595.1h.45M212.1 599.5h.45M219.8 585.6h.45M192.9 593.1h.45M210 595.2h.45M215.9 598h.45M203.8 595.2h.45M221.2 591.3h.45M200 594.3h.45M211.6 598h.45M213 590.3h.45M209.6 592.9h.45M208.4 590.5h.45M201.7 596.6h.45M207.3 587.6h.45M210.8 593.8h.45M209.6 599.9h.45M220.1 600.5h.45M217.2 600.4h.45M197.9 596.1h.45M208 597.2h.45M218.2 598.3h.45M214.3 598.1h.45M197.8 604.3h.45M210.9 596.6h.45M197.6 591.5h.45M213.9 600.1h.45M197.3 591.4h.45M210 593.8h.45M218.1 598.1h.45M207.6 585.9h.45M220.6 594.3h.45M200.4 599.9h.45M205.9 600.2h.45M220.9 590.6h.45M215.9 592.2h.45M211.4 599.2h.45M222.3 595.8h.45M211.7 595.4h.45M204.9 595.2h.45M195.2 591.3h.45M204.7 600.5h.45M210.4 603.2h.45M197.9 596.5h.45M207.9 602.6h.45M202.2 600.3h.45M217.8 600.8h.45M205.9 597h.45M215.9 595.3h.45M213.7 596.8h.45M216.7 598h.45M212.1 595.3h.45M212.9 596.1h.45M209.7 595.8h.45M194.1 599.2h.45M212.3 598.6h.45M208.2 602.5h.45M211.7 594.1h.45M201.6 603.4h.45M205.3 595.3h.45M199.6 595.6h.45M214.1 598.9h.45M208.7 600.7h.45M216.8 599.7h.45M195 599h.45M221.1 597.3h.45M202.6 602.7h.45M207.4 595h.45M217.5 597h.45M208.7 594.1h.45M202.7 591.6h.45M219 594.1h.45M207.8 597.6h.45M224.3 589.4h.45M211.2 598.1h.45M211.8 598.5h.45M212.2 602.5h.45M208.5 594.1h.45M206 590.4h.45M224.6 588.8h.45M218.9 593.8h.45M206.2 594.9h.45M203.9 593.8h.45M208.1 598.2h.45M191 592.4h.45M210.9 602.5h.45M210.3 591.7h.45M220.7 592.1h.45M206.9 597.1h.45M205.7 598.9h.45M202.6 595.3h.45M207.5 597.1h.45M211 592.8h.45M217 599.8h.45M211.6 594.9h.45M217.9 596h.45M214.1 598.6h.45M200.3 599.5h.45M213.5 591.2h.45M218.1 591.4h.45M196 602.4h.45M215.3 599.5h.45M207.3 603.3h.45M218.2 600.5h.45M211 595.9h.45M207 594.9h.45M208.4 604.9h.45M205 603h.45M208.9 602.1h.45M221.8 588.2h.45M203.9 596.5h.45M206.3 595.6h.45M210.4 595.7h.45M209.7 597.2h.45M209.9 586.2h.45M221.7 594.9h.45M216.2 603.7h.45M201.5 599.5h.45M210 599.3h.45M197 596.5h.45M219.4 593.4h.45M206.1 592.5h.45M209.7 598.6h.45M207.7 600.9h.45M198.8 598.2h.45M205.1 598.8h.45M218.2 595.8h.45M213.7 599.7h.45M212.6 598.9h.45M204.5 602.3h.45M208.8 594.1h.45M210.3 600.2h.45M215.9 595.8h.45M202.9 601.2h.45M212 604.6h.45M207.2 596.4h.45M197.9 596.7h.45M194.6 589.2h.45M208.1 597.9h.45M217.9 593.7h.45M212 596.4h.45M201.5 597h.45M207.8 596.1h.45M209.9 599h.45M200 596.8h.45M211.7 593h.45M216.8 592.6h.45M210.4 596.9h.45M207.2 594.8h.45M209 597.1h.45M212.5 586.8h.45M210.6 597.4h.45M203.2 600.9h.45M205.6 598.4h.45M219.7 601.9h.45M203.5 601.9h.45M215.6 593.7h.45M211.5 598.4h.45M208.8 590h.45M209.2 593.3h.45M210 600.9h.45M214.9 594.4h.45M205.6 589.7h.45M214.4 598.8h.45M211.1 594.4h.45M196.4 599.9h.45M215 601.9h.45M210.3 600.9h.45M198.4 604.3h.45M221.1 592.5h.45M201.3 599.3h.45M214.9 594.9h.45M192.5 603.7h.45M217.5 596h.45M214.5 593h.45M201.7 591.9h.45M213.4 592.4h.45M215.3 596.8h.45M205.4 595.8h.45M204.3 588.4h.45M211.1 595.6h.45M212.4 591.2h.45M204.4 593.6h.45M204.3 597.9h.45M209.3 591.1h.45M206.9 604.8h.45M217.8 597.9h.45M208.7 594.9h.45M206.2 594.9h.45M197.6 593h.45M205.5 603.4h.45M201.5 590.8h.45M211.9 596.2h.45M207 596.5h.45M201.4 603.3h.45M218.5 593.4h.45M210.2 596.8h.45M209.7 597.8h.45M192.7 596h.45M211.5 597.9h.45M194.1 602.2h.45M211.3 591.9h.45M207.8 599.8h.45M199.2 600.8h.45M218 604.5h.45M219.3 593.3h.45M217.1 590h.45M213.1 599.3h.45M200.9 597.8h.45M204.4 595.3h.45M219.1 596.6h.45M208.7 599.4h.45M208.4 602.2h.45M200.2 595.5h.45M203.1 594h.45M205.3 596.9h.45M210.3 596h.45M204.4 594.6h.45M219.5 596.7h.45M208.6 591.2h.45M199.1 597.9h.45M211.6 599.2h.45M208.6 598.7h.45M206.5 595.1h.45M205.5 596.2h.45M213.6 602.4h.45M207.6 598.3h.45M215.2 588.2h.45M209.3 597h.45M208.5 595h.45M203.4 598.4h.45M201.1 598h.45M210.6 594.7h.45M205.5 596.4h.45M213.8 594.1h.45M203.8 600.1h.45M216.8 592h.45M217.6 591.4h.45M218.4 600.2h.45M212 600.6h.45M213.2 601.7h.45M211.3 600h.45M216.8 595.1h.45M192.5 597.7h.45M203.3 601.6h.45M218.6 591.9h.45M212.8 592.1h.45M213.2 599.1h.45M206.7 598h.45M213.2 601.7h.45M212.1 592.9h.45M198.3 596h.45M199.4 592.7h.45M221.5 598.4h.45M200.1 598h.45M211 593.7h.45M199.7 597.9h.45M212.2 601.3h.45M200.1 594.8h.45M213.5 597.1h.45M198.6 598.5h.45M205.9 600.4h.45M216 597.5h.45M208.9 596.9h.45M210 596.3h.45M201 596.1h.45M209.7 599.7h.45M213.4 602.1h.45M200.2 591.8h.45M206.9 600h.45M191.4 598.7h.45M216.6 588.6h.45M197.9 590.9h.45M194.3 596.4h.45M206.5 598.1h.45M217.2 601.6h.45M201.2 599.6h.45M205.1 593.6h.45M211.5 590.4h.45M200.9 599.7h.45M199.6 596.9h.45M206.5 598.2h.45M193.2 592h.45M213 593.1h.45M206.4 603.2h.45M209.8 599.9h.45M203.4 593.9h.45M211.8 596.3h.45M199.6 591.8h.45M200.7 596.7h.45M204.1 598.3h.45M195.4 594.2h.45M216.5 599.5h.45M215.1 600h.45M217.4 596.4h.45M212.7 602.5h.45M218.1 588.4h.45M210.5 599.8h.45M199 599.6h.45M215.8 598.3h.45M215.3 586.5h.45M203.7 597.6h.45M205 596.1h.45M219.7 595.6h.45M214.5 599h.45M215.2 597.9h.45M218.3 595.2h.45M194 597.1h.45M215 599.7h.45M202.9 598.8h.45M214.9 593.8h.45M215.3 595.3h.45M217.1 602.1h.45M214.8 603.3h.45M202.3 599.3h.45M196.6 592h.45M216 590.6h.45M189 596.1h.45M201.3 597h.45M213.1 597.9h.45M214.5 599.9h.45M209.2 596h.45M214.9 598.2h.45M209.6 594.1h.45M212.7 587.3h.45M199.5 597.8h.45M207.3 600.7h.45M218.4 589.2h.45M211.2 596.6h.45M220.5 600.8h.45M219.3 595.2h.45M205.5 603.7h.45M214.5 596.9h.45M194.2 596.5h.45M217.4 598.1h.45M203.5 594.9h.45M209.7 592h.45M203.3 597.4h.45M204.9 595h.45M206.5 597h.45M214.4 597.6h.45M211.1 596.8h.45M213.7 594.3h.45M217.7 597.3h.45M212.9 594.3h.45M204.9 599.3h.45M213 598.1h.45M194.1 598.8h.45M216.2 594.6h.45M209.7 598.5h.45M209.3 587.5h.45M207.8 598.1h.45M192.6 596.1h.45M213.9 589.9h.45M198.3 600.7h.45M206.7 593.9h.45M205.2 584.2h.45M223.8 601.9h.45M205.9 596.9h.45M211.2 599.1h.45M207 593h.45M211.2 591.9h.45M209.8 595.4h.45M205.3 601.6h.45M205.2 600.5h.45M215.2 600h.45M198.2 599h.45M210.8 597.1h.45M213 597h.45M212 604.6h.45M210.5 593h.45M219.9 601.1h.45M194.9 604.1h.45M202.6 597.8h.45M206.7 597.9h.45M213 602.4h.45M204.2 598.4h.45M213 595.5h.45M197.6 602.7h.45M204.2 601.7h.45M200.9 595.6h.45M212.5 596.2h.45M206.4 602.2h.45M220.8 603.1h.45M210.3 595.2h.45M210.2 596h.45M205.5 603.5h.45M191.2 602.1h.45M209.6 598.6h.45M216.3 601.4h.45M209.4 603.3h.45M213.8 595.1h.45M213.7 598.2h.45M209.2 592.1h.45M200.7 591.4h.45M200.7 598h.45M209.5 597.3h.45M206.6 591.6h.45M214 602.8h.45M202.7 597.8h.45M210.4 594.8h.45M213.6 591.9h.45M216.3 591.1h.45M214.7 597.2h.45M202.4 600h.45M210.1 592.9h.45M212.4 590.6h.45M207.1 595.7h.45M193.2 598.4h.45M209.5 596.1h.45M205.8 603.2h.45M211.7 597.3h.45M202.3 593.5h.45M209.1 601.3h.45M213.9 597.1h.45M199.1 596.1h.45M210.1 602.7h.45M190.2 595.6h.45M205 603.2h.45M215.7 599.7h.45M209.2 597.1h.45M203.5 599.3h.45M217.7 597.1h.45M211.4 591.5h.45M213.5 592.9h.45M197.6 600.4h.45M213.3 587.7h.45M196.6 601.3h.45M216.3 597.8h.45M215.8 602.7h.45M215.9 599h.45M204.6 600.8h.45M211.9 597.8h.45M212.8 597h.45M208.5 590.8h.45M206 593.5h.45M208.1 593.4h.45M199.6 600.7h.45M220 593.6h.45M202.6 601.4h.45M212.1 598.1h.45M214.7 596.7h.45M217.7 597.9h.45M207.6 599h.45M218.8 602h.45M205.9 591h.45M199.2 591.8h.45M210.5 594.9h.45M207.8 593.4h.45M209.2 593.6h.45M207.4 601.1h.45M208.5 600h.45M197.9 590.1h.45M213 596h.45M203.4 589.3h.45M205.3 596.8h.45M211.3 590.2h.45M196 597.8h.45M207.1 600h.45M208 597.5h.45M203.4 591.7h.45M208.4 595.1h.45M213.4 596.1h.45M207.8 601.6h.45M207.9 590h.45M192 595.9h.45M196 599.9h.45M207.6 594.6h.45M198.3 599.7h.45M214.8 594.6h.45M211.8 596.2h.45M204.6 602.1h.45M204.9 595.6h.45M223.5 597h.45M208.3 599.1h.45M211.5 599.5h.45M213 599.9h.45M215.3 595.2h.45M199.5 591.1h.45M218.9 588.1h.45M210.3 595.8h.45M218.3 591.5h.45M202 604.8h.45M206.4 601.6h.45M214.6 594h.45M216.7 590.4h.45M194.4 597.4h.45M217.8 590.8h.45M212.6 604.3h.45M202.3 593.8h.45M197.8 597.8h.45M206.8 604.3h.45M221.8 600h.45M212.9 596.8h.45M193.7 601.2h.45M189 598.1h.45M214.8 592.9h.45M198.8 598.6h.45M202.8 598.2h.45M210.6 604.5h.45M199.8 604.4h.45M209 590.6h.45M206.3 592.7h.45M198.2 594.2h.45M197.9 600.7h.45M228.2 598.5h.45M204.8 593.6h.45M203.6 596.9h.45M204.2 589.3h.45M221.4 593.4h.45M208.7 601.4h.45M205.8 593.8h.45M205.8 587.9h.45M217.3 590.7h.45M204.2 593.1h.45M196 593.2h.45M197 585.7h.45M201.9 595.6h.45M210.6 592.2h.45M202.4 598.7h.45M213.5 599.4h.45M206.7 598.8h.45M197.3 603.2h.45M203.2 587.6h.45M209.2 598.3h.45M211.5 599.7h.45M211 599.3h.45M206.4 602.1h.45M222.5 600.7h.45M207.8 598.6h.45M202.9 596.5h.45M209 602.5h.45M206.9 601.6h.45M198.2 595.6h.45M198.9 595.2h.45M208.4 596.6h.45M200.9 596.7h.45M207.4 599.9h.45M206.5 601.7h.45M209.9 600.9h.45M217.8 594.6h.45M217.9 595.1h.45M203.6 598.4h.45M224.2 597.8h.45M220.9 595.6h.45M210.3 593.2h.45M208.5 601.3h.45M204.1 599.2h.45M198.4 595.2h.45M208.1 603.9h.45M212.3 599.5h.45M205 590.8h.45M204.3 601.2h.45M216.1 591.6h.45M194.2 599.9h.45M208 594.8h.45M188.5 602.8h.45M225.6 597.2h.45M212 595.6h.45M211.4 600h.45M207.4 595h.45M206.5 594.5h.45M209 594.3h.45M217.1 602.3h.45M216.7 596.1h.45M202 600.4h.45M213.6 597.5h.45M202.8 595.9h.45M218 595.3h.45M215.2 598.5h.45M204.9 599.8h.45M205.9 601.4h.45M207.7 596.1h.45M205 594.9h.45M198.3 595.5h.45M212.7 598.2h.45M207.2 595.5h.45M213.2 591.6h.45M203.9 591.6h.45M210.2 602.7h.45M198 594h.45M216.2 593.6h.45M215.4 595.3h.45M207 595.2h.45M207.4 593.9h.45M210.4 594.1h.45M207.8 599.8h.45M207 591.3h.45M209.3 599h.45M206 599.4h.45M216.9 594.5h.45M209 596.2h.45M209.3 591.6h.45M207.9 600h.45M216.4 601.7h.45M202.2 587.9h.45M209.9 595.1h.45M215.1 591.3h.45M207.5 592.2h.45M208.6 603.3h.45M216.5 598h.45M214.4 597.7h.45M207.8 603.2h.45M215.9 596.9h.45M215.9 597.6h.45M215.8 589.3h.45M201.6 596.1h.45M209.4 595.1h.45M210 594.4h.45M203.6 596.3h.45M201.5 601.2h.45M199.2 602.5h.45M206.1 594.3h.45M220.7 593.9h.45M215.3 603.8h.45M198.9 596.5h.45M216.3 597.9h.45M211.7 598.8h.45M208.6 588.7h.45M187.6 592.2h.45M218.5 598.6h.45M214.8 599.6h.45M208.5 594.3h.45M210.7 596h.45M212.8 591h.45M217.7 600.9h.45M200.1 590.8h.45M208.6 594.9h.45M206.4 594.4h.45M197.8 601.1h.45M197.5 600h.45M208.2 593.2h.45M207.6 598.2h.45M212.3 597.7h.45M213.9 588.8h.45M201.2 589.8h.45M202.6 597.9h.45M211.4 595h.45M198.5 601.5h.45M208.1 601.6h.45M195.6 589.4h.45M217.8 597.9h.45M210.6 600.9h.45M219.6 594.2h.45M204.2 602.7h.45M211.9 592.8h.45M222.1 586h.45M224.2 592.2h.45M196.1 597.6h.45M177.7 598.2h.45M207.3 594.1h.45M213.2 597.4h.45M219.1 596.6h.45M221 595.4h.45M214.1 594.3h.45M171.5 598.1h.45M199.9 586.4h.45M219.7 602.7h.45M215.2 588.1h.45M213.1 596.4h.45M198.8 599.3h.45M196.5 594.4h.45M172.9 593.7h.45M209.9 591.2h.45M215.3 589.6h.45M213.9 596.1h.45M189.6 589.2h.45M192.9 587.7h.45M220.7 587.4h.45M229.6 600.3h.45M202.5 587.2h.45M181.1 595.9h.45M230.7 585.5h.45M222 601h.45M215.1 598.6h.45M218 596.8h.45M227.2 587.1h.45M195.9 598.9h.45M211.5 599h.45M211 595.1h.45M209.5 603.6h.45M211.7 582.8h.45M218.4 597.8h.45M208 595.6h.45M203.6 595.7h.45M214.9 589.8h.45M205.9 603.2h.45M196.2 594.8h.45M203 591h.45M211.5 600.4h.45M217.4 587.4h.45M225.7 585.7h.45M208.1 591.9h.45M213.9 598.9h.45M208.5 583.1h.45M223 595.4h.45M208.9 601.4h.45M200.6 595.5h.45M223.6 600.6h.45M214.6 589.9h.45M216.3 594h.45M190.2 598.9h.45M228.3 569.5h.45M230.6 597.5h.45M207.8 577.4h.45M217 590.5h.45M210.8 600.4h.45M209.2 589.5h.45M207.7 604.1h.45M228.6 593.8h.45M222.9 600.5h.45M215 602.5h.45M193.6 595.9h.45M225.1 595.1h.45M220.5 596.2h.45M208 596.9h.45M226.5 591.9h.45M224.8 596.3h.45M211.1 596.7h.45M230 596.1h.45M207.3 589.2h.45M211.1 590.4h.45M204.2 590.7h.45M212.2 587.5h.45M221 577.3h.45M199.9 587.9h.45M225.6 576.4h.45M226.1 602.3h.45M212.2 600h.45M207.2 589.9h.45M206.4 592.6h.45M221.9 605h.45M195.8 598.4h.45M216.8 582h.45M215.6 590.5h.45M207.8 592.5h.45M216 597.4h.45M195.3 594h.45M223.6 582.7h.45M218.9 593h.45M204.5 600.6h.45M213.4 584.4h.45M204.9 595.3h.45M207.4 604.8h.45M209.7 594.1h.45M218.1 588.5h.45M215.3 603.8h.45M202.9 597.1h.45M196.2 598.2h.45M208.4 587.8h.45M208.2 582.3h.45M218.1 589.1h.45M205.2 600h.45M223.6 602.1h.45M226.7 590.2h.45M225.4 578.9h.45M220.1 584.9h.45M187.7 596.4h.45M201.2 593.4h.45M221.2 583.9h.45M198.9 586.1h.45M205 586h.45M208.8 599.1h.45M200.3 604.7h.45M212.1 594.1h.45M199.7 579.2h.45M218.1 600.9h.45M182.5 602.6h.45M195.4 591.4h.45M225.3 589.3h.45M223 583.9h.45M188.2 597.9h.45M198.8 594.6h.45M196.5 588.5h.45M204.5 600.9h.45M209.1 602.3h.45M194.7 594.7h.45M189.8 595.3h.45M213.9 587.7h.45M211 581.6h.45M220.2 588.8h.45M211.5 592h.45M224.3 588.8h.45M214.8 589.5h.45M213.3 598.5h.45M228.1 585.8h.45M201.7 584.6h.45M209.3 597.7h.45M209.1 586.1h.45M210.5 592.7h.45M220.4 592.7h.45M208.3 599.3h.45M217.4 588.9h.45M223.7 586.5h.45M195.9 590.2h.45M201.3 601.7h.45M219.2 586.9h.45M217.1 598.4h.45M221 590.3h.45M203.3 599.1h.45M221.9 590.5h.45M226.4 584.2h.45M199.8 594.1h.45M219.5 582.4h.45M213.8 593.6h.45M221.5 576.9h.45M204.4 588.7h.45M187.5 596.6h.45M216.7 604.5h.45M205.2 597h.45M189.5 593.6h.45M213.1 590.6h.45M194.5 591.2h.45M198.1 594.5h.45M227.6 594.4h.45M214.5 589h.45M186.9 587.4h.45M222.4 592.7h.45M219.4 584.8h.45M189.2 591.2h.45M212.7 586h.45M221 603h.45M213.8 598h.45M207.7 594.2h.45M213.6 589.8h.45M209.6 602.2h.45M203.9 597.2h.45M229 582.9h.45M196.8 591.5h.45M208.2 602h.45M204.1 596.5h.45M188 585h.45M216.8 587.2h.45M220 589.9h.45M205.7 599h.45M212.5 584.9h.45M190 590.2h.45M211.1 599.8h.45M216.6 591.6h.45M201 567.7h.45M196.5 602.4h.45M219.3 586.2h.45M214.6 589h.45M190.1 595.6h.45M197.2 594.8h.45M201.6 587.6h.45M224.5 590.5h.45M195.7 591.4h.45M230.1 590.3h.45M219.9 594.1h.45M224 587.5h.45M210 587.3h.45M217 595.9h.45M216.4 588.8h.45M201.7 588.7h.45M221.1 582h.45M190.6 603.2h.45M221.6 599.8h.45M202 596.4h.45M228.7 574.6h.45M219.4 594.7h.45M209.6 580.7h.45M215 598.8h.45M201.6 595.1h.45M185.9 597.7h.45M209.2 596.5h.45M220.1 604.6h.45M212 596.7h.45M194.9 601.7h.45M205.9 587.8h.45M181.3 581.3h.45M204.9 585.2h.45M215.5 595.4h.45M194.2 597.3h.45M191.1 603.2h.45M186.2 603.5h.45M224.7 589h.45M200.4 589.4h.45M218.1 591.8h.45M208.4 581.6h.45M214.5 583.8h.45M208.3 590.5h.45M204.4 589.3h.45M200.6 594.2h.45M217.7 595.2h.45M194.4 596.7h.45M196.4 593.9h.45M228.4 590.2h.45M221.9 592.1h.45M195.7 578.9h.45M206.2 593.9h.45M213.7 586.7h.45M216.3 598.2h.45M212.6 584.2h.45M206.4 579.9h.45M198.2 587.1h.45M216.6 599.3h.45M223.7 585.7h.45M200.3 585.6h.45M198.5 598.4h.45M213.9 588.9h.45M229 602.5h.45M207.9 580.3h.45M208.9 583.7h.45M202.7 590.2h.45M210.3 590h.45M215 591.8h.45M218.1 601.5h.45M228.9 581.2h.45M223.9 587.7h.45M228.6 587h.45M227.1 600.1h.45M204.6 596.4h.45M203.8 597.3h.45M176.3 600.7h.45M199.2 594.8h.45M169.9 596.5h.45M225.5 604.1h.45M230.5 593h.45M223.3 595.7h.45M213.1 594.8h.45M186.2 599.9h.45M228.4 601.4h.45M196.5 571.4h.45M220 602.9h.45M219 601.9h.45M217.6 596.8h.45M201.2 593.7h.45M215.7 597.5h.45M213 582.2h.45M199.6 598.4h.45M214.7 593.7h.45M215.1 601.1h.45M223.8 584.2h.45M223.9 572h.45M216.3 603.8h.45M221.2 593h.45M208.3 583.8h.45M219.9 597.1h.45M207.9 604.9h.45M210.7 591.9h.45M208 590.9h.45M213.1 586.5h.45M196.5 595.5h.45M195.5 595.6h.45M200.2 601.1h.45M209.5 598h.45M212.2 593.7h.45M209.5 585.2h.45M186.9 567.9h.45M227.9 602.3h.45M216.1 588.4h.45M203.3 599h.45M207.7 595.2h.45M213.1 602.7h.45M203.5 602.3h.45M180.8 591.5h.45M196.5 601.2h.45M217 587.4h.45M194.5 597.6h.45M199.2 589.7h.45M210.2 583h.45M212.2 580h.45M207 597.5h.45M204.6 578.6h.45M200.2 587.7h.45M200.5 586.2h.45M213.3 590h.45M183.5 589.7h.45M201.2 602.6h.45M182.9 587.6h.45M220.1 591.6h.45M198 579.6h.45M206.8 590.2h.45M184.1 599.2h.45M204.9 584.3h.45M197.3 586h.45M194.9 594.4h.45M199.3 592.6h.45M224 599.5h.45M220.5 595.2h.45M215 596.4h.45M216.4 593h.45M215 584.3h.45M209.7 587.1h.45M217.1 589.5h.45M211.9 600.9h.45M208.5 598.8h.45M216.5 587.7h.45M214.2 593h.45M220 583.7h.45M199.9 599.3h.45M209.1 582.1h.45M217.5 594.1h.45M211.6 591.4h.45M203.7 601.6h.45M204.5 602.2h.45M203 599h.45M201.1 598.4h.45M214.1 594.9h.45M201.4 583.2h.45M195 585.7h.45M184.3 604.7h.45M204.4 599.6h.45M211.5 589.6h.45M201.1 600.6h.45M213.7 597.4h.45M222.4 588.8h.45M212.8 592.9h.45M214.5 594.8h.45M183.2 599.4h.45M225.4 603.7h.45M198.3 593.6h.45M200.6 596.5h.45M195 601h.45M212.6 600.8h.45M228.7 593.4h.45M192.5 603.3h.45M197.9 600.6h.45M197.1 587.9h.45M216.4 588.9h.45M204.4 595.7h.45M215.7 587.7h.45M212.8 591.6h.45M231 604.5h.45M204 588.9h.45M199.4 593.8h.45M183 604.3h.45M217.7 603.1h.45M219.9 590.7h.45M211.3 591h.45M204.9 588.1h.45M210.3 603.2h.45M199.8 596.1h.45M206.4 591.6h.45M212.2 578.1h.45M205.5 591.4h.45M208 588.9h.45M192.7 597.1h.45M221.2 603.2h.45M193.9 597.3h.45M217.8 597.4h.45M191.7 602.9h.45M210.1 595.2h.45M208.2 603.6h.45M224.3 598.5h.45M196.6 601.1h.45M206.6 601h.45M223.2 589.2h.45M193.5 599.2h.45M212.7 584.6h.45M209.4 591.1h.45M221.6 585.7h.45M200.8 588.3h.45M215.2 599.4h.45M213.4 601.5h.45M201.9 587.4h.45M199.6 597.5h.45M215.3 595.8h.45M219.3 589.8h.45M229.9 592.3h.45M222.6 583.2h.45M207.4 591.8h.45M214.3 580.1h.45M207.1 601.8h.45M223.4 591h.45M220.4 599.3h.45M224.1 593.7h.45M198.9 602h.45M200.2 592.2h.45M198.4 593.7h.45M204.8 590.5h.45M210.4 596.2h.45M219 590.1h.45M223.3 599.6h.45M196.5 596.2h.45M199.2 589.9h.45M184 605h.45M215.7 589.8h.45M205.6 576.1h.45M210.5 596.7h.45M221.5 590.4h.45M192.5 591.1h.45M203.1 592.4h.45M196.1 590.7h.45M193.5 592.6h.45M216 592.4h.45M207.1 598.5h.45M230.6 598.6h.45M204.6 600h.45M222.6 596.3h.45M206.4 599.1h.45M201.4 590.6h.45M202.3 600.9h.45M208.4 593.5h.45M216.2 584.6h.45M193.1 593.9h.45M208.6 596.4h.45M201.8 578.5h.45M216.3 586.5h.45M228.3 586h.45M203.3 599.8h.45M205.8 599.2h.45M213.2 591.8h.45M197 576.9h.45M214.8 595.7h.45M198.6 595.6h.45M228.6 582.4h.45M199.6 583.9h.45M211.1 581h.45M199.9 588.3h.45M212.1 601.3h.45M200.8 582.1h.45M223.1 589.5h.45M202.6 588.2h.45M216.1 599.5h.45M192.1 604h.45M200.3 596h.45M200.6 588.1h.45M174.7 601.9h.45M218.3 593.9h.45M194.3 592.1h.45M200.3 598.6h.45M198.1 603.2h.45M210.8 594.4h.45M214.3 596.4h.45M208.7 601.9h.45M221.5 587.7h.45M222.8 601.7h.45M194.3 603.4h.45M208.7 584.6h.45M217.5 584.3h.45M195.8 587.2h.45M209.5 582.9h.45M211.1 579.1h.45M223 600.4h.45M222.4 587.9h.45M195.8 586.5h.45M205.7 568.4h.45M223.9 593.3h.45M227.5 601.5h.45M222.7 582.1h.45M218.6 596.6h.45M210.4 583.8h.45M229.7 596.4h.45M229.8 591.6h.45M198.3 588.8h.45M216.5 597.7h.45M206.2 595.9h.45M204.4 601.8h.45M222.6 595.1h.45M203 598.1h.45M214.7 589.3h.45M225.2 588.7h.45M208.5 589.6h.45M216.6 594.1h.45M189 585.9h.45M200.3 595.2h.45M204.6 586h.45M211.4 596.2h.45M222 585.5h.45M191.1 597.4h.45M183 585h.45M207.9 593.6h.45M204.9 599.1h.45M213.5 590.8h.45M202.9 603.2h.45M219.3 604.2h.45M219.7 596.7h.45M212.5 585.3h.45M212 596.1h.45M221 594.1h.45M220 596.9h.45M214.1 592.6h.45M208 601.9h.45M225.2 580.9h.45M227.7 600.9h.45M213.5 584.7h.45M212.1 601.2h.45M205.6 595.8h.45M208.8 600.9h.45M217.3 594.8h.45M223.1 588h.45M204.1 582.1h.45M213.4 598.5h.45M198.9 603.1h.45M211.2 599.9h.45M212.6 584.5h.45M203.5 595.9h.45M225 585.8h.45M228.7 577.7h.45M206.8 589.4h.45M214.1 594.1h.45M217.3 598.3h.45M211.2 586.5h.45M219.5 594.4h.45M177.9 597.7h.45M213.6 595.5h.45M186.2 604.1h.45M210.8 586h.45M191.5 591.6h.45M217.6 587.9h.45M187.5 588.4h.45M218 588.1h.45M210.3 599.3h.45M220.3 585.8h.45M224.2 597.5h.45M197.9 595.9h.45M197.1 604.6h.45M195.9 593.7h.45M216.3 592.2h.45M217.2 596.9h.45M206.7 601h.45M201.1 590.8h.45M209.1 597.3h.45M201.9 588.7h.45M193.9 601.2h.45M208.2 600.1h.45M226.9 595.1h.45M217.9 589.6h.45M210.5 580.7h.45M216.4 581.6h.45M207.2 568.4h.45M191.6 604.4h.45M228 603.5h.45M211.1 596.4h.45M215.5 597.6h.45M210.9 601h.45M225.3 598.2h.45M199.4 591.3h.45M215.3 582.3h.45M213.7 583.6h.45M214.1 593.9h.45M201.8 593.1h.45M225.6 599h.45M211.4 597.2h.45M209.8 600h.45M223.4 596.8h.45M197.8 603.5h.45M211.6 578.5h.45M200.8 595.5h.45M192.7 594.4h.45M220.6 586.5h.45M197 597.3h.45M209.3 585.5h.45M211.4 596.6h.45M206.1 592.6h.45M227.5 589.9h.45M211.3 582.4h.45M214.9 581.2h.45M210.2 579.8h.45M213.2 591.6h.45M207.9 585.5h.45M217.9 586h.45M199.4 589.9h.45M228 595.8h.45M218.8 588.9h.45M205.2 597.2h.45M204.3 593.9h.45M205.6 591.8h.45M195.1 593.4h.45M171.9 599.4h.45M202.1 587.5h.45M216.2 589.8h.45M230.5 594.4h.45M215.4 590.7h.45M186.3 595.9h.45M209.2 585.4h.45M222.6 582.7h.45M196.7 594h.45M213 587.2h.45M219.2 595.3h.45M212.4 603.8h.45M204.2 587.6h.45M224.3 583.6h.45M211.7 601.6h.45M214 580.7h.45M221.6 584.5h.45M202.7 604.7h.45M224.5 597.5h.45M212.9 602.1h.45M196.4 598.2h.45M193.8 590.7h.45M218.3 596.8h.45M227.1 579.8h.45M222.6 593.7h.45M186.2 592.5h.45M220.9 582.6h.45M212.6 591h.45M196 590h.45M190.5 595.4h.45M202 596h.45M213.5 593.6h.45M191 590.3h.45M198.9 591h.45M205.1 599h.45M211.5 601h.45M205.1 596.1h.45M211.7 602.4h.45M182.9 594.4h.45M203.9 601.6h.45M216.5 595.2h.45M227.6 591.9h.45M217.8 584.7h.45M223.3 584.2h.45M224 597h.45M196.4 598.2h.45M209 592h.45M202 604.9h.45M197.3 598.1h.45M208.2 583.5h.45M217 592.6h.45M203.2 592.8h.45M199.5 591.8h.45M220.7 588.9h.45M188.9 583.2h.45M195.9 593h.45M201.2 580.1h.45M201.8 594.5h.45M216 592.9h.45M216.5 591h.45M196.1 600.9h.45M213.1 594.1h.45M217.9 600h.45M206.6 582h.45M228.7 594.9h.45M212.1 594.7h.45M223 596.7h.45M223.9 588.5h.45M211.8 592.7h.45M196.4 595.3h.45M202.2 601.3h.45M212.5 589.5h.45M227.4 591.4h.45M203.1 593h.45M223.3 586.8h.45M209.4 601.6h.45M214.1 604h.45M211.7 588.6h.45M205.8 595.9h.45M216.6 591.2h.45M208.1 598.2h.45M222.2 596.3h.45M219.1 597.8h.45M206.1 598.9h.45M170.7 588.9h.45M221.2 591.6h.45M203 602h.45M226.2 599.4h.45M214.5 596.9h.45M228.3 598.9h.45M225 594.9h.45M198.2 595.4h.45M220.6 581.8h.45M203.2 590.5h.45M198.1 596.4h.45M207.7 586.2h.45M213.5 586.1h.45M227 594.4h.45M198 599.6h.45M191.3 600h.45M188.6 602.7h.45M223.6 578.9h.45M206.2 601.3h.45M215.7 588.7h.45M224.6 596.1h.45M190.7 593.7h.45M207.9 580.8h.45M209.8 598.2h.45M222.3 580.8h.45M214.3 597.1h.45M197.6 583.9h.45M200.8 597.2h.45M207 599.5h.45M200.3 593h.45M202 590.6h.45M183.4 593.8h.45M203 591.2h.45M188 593.1h.45M213.7 602.9h.45M198.9 593.9h.45M199.8 597.8h.45M218.9 599.8h.45M209.2 594.9h.45M213.3 590.4h.45M200 568.4h.45M225.9 591.5h.45M202 597.6h.45M183.2 597.6h.45M196.4 605h.45M228.1 588.4h.45M218.4 590.4h.45M211.4 590h.45M216.8 583.2h.45M210.6 604.2h.45M210.2 571.8h.45M199 598h.45M224.2 590.9h.45M224 601.8h.45M193.3 596.7h.45M221.8 588.9h.45M220.6 604.1h.45M204.2 598.3h.45M226.1 570.7h.45M210.1 578.8h.45M188 598.8h.45M205.7 600.2h.45M213.7 596.9h.45M227.1 592.7h.45M193.3 594.9h.45M204.4 588.2h.45M202.6 593h.45M213.8 584.2h.45M216.5 590h.45M200.4 591.5h.45M223.7 590.8h.45M200.9 589.6h.45M211 586.3h.45M205.4 601.6h.45M222.4 579.2h.45M215.8 605h.45M221.1 585.9h.45M212 591.1h.45M219.7 594.6h.45M224.4 600.6h.45M214 595.8h.45M212.4 578.9h.45M206.8 594.7h.45M212.5 595.3h.45M209.1 602.9h.45M219.1 589.7h.45M230.4 596.5h.45M222.1 591h.45M209 598.3h.45M204.5 577.8h.45M191.9 588.6h.45M222.9 602.2h.45M204.3 593.9h.45M192.3 588.7h.45M189.7 594.4h.45M213.2 585.2h.45M189.4 600.5h.45M213.9 593.1h.45M221.1 592.3h.45M223.9 588h.45M202.7 589.3h.45M178.2 593.7h.45M176.4 594.2h.45M179.5 593.5h.45M175 594.1h.45M174.7 590.7h.45M177.7 594.1h.45M178.1 593.1h.45M179.2 595.4h.45M176.4 594.2h.45M178.4 593.2h.45M181.8 590.4h.45M179.1 596.1h.45M183.5 594.2h.45M177.8 592.1h.45M173.9 593.7h.45M181 593.3h.45M176.6 593.3h.45M178.2 593.6h.45M181.9 594.9h.45M181.7 592.8h.45M180.1 590.3h.45M176.4 593.4h.45M176 592.4h.45M177.1 592.5h.45M180 589.3h.45M183.6 591.2h.45M169.6 595.1h.45M178.9 595.7h.45M175.3 596.7h.45M176 594.8h.45M178.5 593.8h.45M186.3 589.6h.45M181.1 597.5h.45M177.7 592.1h.45M179.5 588.8h.45M179.1 592.2h.45M177.9 590.9h.45M175.3 589.2h.45M174.6 592.7h.45M175.7 597.5h.45M173.8 593.7h.45M175.4 591.9h.45M178.6 592.9h.45M181.1 595.1h.45M178.3 590.9h.45M175.8 595.9h.45M177.9 598.7h.45M181.9 589.7h.45M177.8 591.3h.45M178.5 594.9h.45M176.1 594.4h.45M175.3 593.6h.45M179.2 591.9h.45M179 596.6h.45M177.3 590.7h.45M178.6 591.8h.45M177.5 596h.45M177.5 590.9h.45M180.6 592.5h.45M179.4 590.6h.45M178.9 590.5h.45M177 592h.45M175.5 593.2h.45M175.2 592.8h.45M177.3 598.2h.45M177.3 593.5h.45M177 588.4h.45M179 588.8h.45M178.7 593.2h.45M177.8 591.2h.45M182.8 592h.45M178 594.4h.45M177.1 591.9h.45M181.7 591.3h.45M176.7 593.1h.45M174.2 592.1h.45M175.7 591.3h.45M171 589.9h.45M179.7 593h.45M181.8 595.4h.45M174.7 594.5h.45M178.8 598.7h.45M178.7 590.5h.45M179.3 596.3h.45M178 594.3h.45M177.5 592.2h.45M176.8 599.2h.45M176.5 593.3h.45M177.6 591.3h.45M178.4 593.3h.45M180.2 595.3h.45M178 591.3h.45M179.4 594.6h.45M175 591.3h.45M179.1 589.4h.45M177.6 594.6h.45M177.8 595.6h.45M179.9 594.9h.45M174.7 595h.45M175.1 593.3h.45M175.8 593.9h.45M176.5 594.7h.45M177.9 592.1h.45M175.5 594.5h.45M182.2 594.6h.45M171.2 595.4h.45M177.5 595.8h.45M180.2 591.2h.45M177.3 590.4h.45M179.8 591.9h.45M180.4 590.5h.45M178.2 592.6h.45M180.3 591.9h.45M177.3 594h.45M175.9 594.4h.45M180.4 593.9h.45M180.6 592.8h.45M174.3 589.9h.45M178.7 595.5h.45M178.3 590.1h.45M211.1 560.9h.45M207.4 560.9h.45M231.3 556.4h.45M223.1 557.1h.45M213.5 560h.45M220.3 550.9h.45M209.4 555h.45M212.8 552.2h.45M213.5 566.2h.45M215.1 556h.45M221.7 562.8h.45M214.4 564.3h.45M226.6 558.3h.45M220.1 566h.45M209.5 562.6h.45M216.4 562.5h.45M217.4 561.9h.45M198.8 563.4h.45M205.8 565.2h.45M219.4 557.4h.45M207.6 570.5h.45M218 566.6h.45M225.5 561.9h.45M212.1 556.3h.45M219.6 555.1h.45M205.9 564.5h.45M224.4 559.2h.45M215.4 569.1h.45M204.7 567.1h.45M217.4 561.8h.45M215.7 557.7h.45M217.4 559.5h.45M220.9 551.2h.45M231.7 569.5h.45M213 573.4h.45M200.8 571h.45M211.4 565.7h.45M209.1 569h.45M224 561.3h.45M210.2 568.4h.45M220.5 557.5h.45M210.4 563.6h.45M223.6 563.8h.45M204.9 566.4h.45M209.1 561.4h.45M201.2 566.4h.45M221.9 555.7h.45M227.9 553.9h.45M216.9 560.1h.45M205.1 564.7h.45M217.5 563.1h.45M229 556.2h.45M223.4 563.5h.45M203.2 556.8h.45M210.8 566.6h.45M213.9 551h.45M211.9 567.9h.45M216.2 563.3h.45M214.5 561.7h.45M202.4 563.1h.45M210 565.6h.45M218.2 565.8h.45M192 575.2h.45M204.9 573.1h.45M206.4 566.2h.45M201.7 566h.45M198.5 560.4h.45M204.6 567h.45M212 570.2h.45M213.4 568.9h.45M211.1 567.1h.45M216.9 557.5h.45M219.5 562.5h.45M224.9 555.1h.45M220.8 560.7h.45M208.5 565.4h.45M208.6 575.8h.45M230.3 554.9h.45M218.3 555.7h.45M204.9 565h.45M222.6 563.5h.45M200.5 561.5h.45M220.7 553h.45M214.7 557.5h.45M224.9 562.1h.45M208 566.6h.45M219.1 561.9h.45M224.1 550.6h.45M214.4 569.1h.45M221 551.4h.45M209.3 554h.45M222.4 559.6h.45M217.4 563.8h.45M207.2 549.3h.45M206.7 563.1h.45M214.9 566.2h.45M208.5 556.2h.45M209.8 557.8h.45M218.4 562.1h.45M202.4 578.3h.45M219.7 563h.45M212 566.9h.45M215.8 562.3h.45M212.9 550.8h.45M211.3 564.9h.45M195.4 572.1h.45M226.5 548.3h.45M211.6 566.1h.45M207.2 559.4h.45M200.3 560.6h.45M209.5 567.3h.45M209.1 558.9h.45M215.2 555.6h.45M208 566.9h.45M218.1 553.9h.45M221.4 566.1h.45M213.8 574h.45M218 566.6h.45M207.3 565.4h.45M208.1 558.3h.45M219.3 562h.45M204.8 553.6h.45M217.7 566h.45M219.5 557.9h.45M209.3 563.3h.45M220 567h.45M216.9 554.7h.45M219.1 550.2h.45M217.4 559.7h.45M213.8 570.6h.45M218.6 556.7h.45M223.9 561h.45M210.1 557.8h.45M218.6 549.6h.45M211.3 576h.45M217.7 570.1h.45M221.3 565.9h.45M208.8 571.9h.45M202.5 563.4h.45M223.1 560.7h.45M212.4 571.7h.45M212.6 568.5h.45M222.4 553h.45M202.7 568.6h.45M195.3 573.2h.45M195.6 570.7h.45M206 565.4h.45M213.5 561.6h.45M219.9 559.1h.45M223.2 552.8h.45M210.6 557.6h.45M208.7 557.3h.45M212 569.4h.45M224.8 557h.45M209.3 565h.45M224.6 561.1h.45M227.5 557.1h.45M218.2 554.2h.45M213 560.5h.45M219.3 565.6h.45M213.7 563.4h.45M214.2 560.4h.45M221.7 560.8h.45M215.4 558.8h.45M194.8 569.5h.45M211.4 557.8h.45M208.7 562.2h.45M214.1 554.5h.45M217 571.7h.45M228.2 549.9h.45M215.6 571.6h.45M200.8 572.1h.45M215.2 556h.45M203.4 561.3h.45M217.7 565.9h.45M230.7 546.7h.45M219.3 556.7h.45M222.5 546.9h.45M217.1 562.7h.45M205.2 570.1h.45M205.8 560h.45M228.8 546.6h.45M217 562.4h.45M207.2 562.8h.45M226 558.3h.45M217.5 558.9h.45M216.8 557.7h.45M225.5 546.7h.45M214.2 564.8h.45M217.9 561.3h.45M209.7 562.1h.45M214 568.4h.45M215.5 551.6h.45M218.4 562h.45M206.3 574.5h.45M230.2 547.2h.45M211.7 569.7h.45M209.6 562.4h.45M210.1 560.6h.45M222.1 563.4h.45M213.1 561.3h.45M213 552.8h.45M208.8 561.1h.45M223.6 557.5h.45M225 562.2h.45M216 555.9h.45M226.9 555.1h.45M206.5 557.8h.45M214.8 555.7h.45M203.2 574.8h.45M209.5 564.7h.45M210.7 555.8h.45M202.8 563.4h.45M209.6 569.2h.45M211.7 566.6h.45M207.6 556.5h.45M215.9 569h.45M212.4 563.3h.45M215.5 558.4h.45M217.8 563.3h.45M220.4 554.1h.45M223.5 553.9h.45M202.4 568.3h.45M210.3 563.5h.45M221.4 563h.45M215.8 563.8h.45M207.4 578.1h.45M223 564.2h.45M228.1 558.4h.45M201.8 557.9h.45M209 560.9h.45M213 556.4h.45M222 557.2h.45M222.1 567h.45M230.7 548.7h.45M207.5 567.2h.45M215.2 573.5h.45M206.9 572.4h.45M207.8 565.8h.45M210.7 556.6h.45M218.3 560.4h.45M212.3 559.5h.45M201.9 575.1h.45M211.6 559.3h.45M211.9 567.8h.45M214.8 566.2h.45M202.9 570.7h.45M211.6 560.8h.45M221.7 551.6h.45M225.3 554.2h.45M216.1 562.8h.45M210.3 567.1h.45M215 561.5h.45M215.5 560.5h.45M207.8 568.2h.45M217.5 557.5h.45M217 555.3h.45M215 557.9h.45M207.6 560.1h.45M223.4 559h.45M230.1 546.9h.45M211.9 560.5h.45M222.7 558.3h.45M209.1 568h.45M203.4 559.4h.45M212.4 561.8h.45M222.7 557.8h.45M204.9 561.6h.45M202.2 557.8h.45M222.6 550.7h.45M215.3 561.4h.45M214.9 564.9h.45M220.8 559.4h.45M220.7 566.6h.45M201.3 563.4h.45M207.9 565.2h.45M212.7 571.6h.45M204.5 578.1h.45M213 571.3h.45M211.3 558.8h.45M203.6 563h.45M215.6 562.4h.45M202.3 578.4h.45M221.2 561.1h.45M221.4 555.5h.45M220.7 561h.45M199.3 562.7h.45M205.8 568.9h.45M229.3 563.4h.45M223.4 556.2h.45M205.8 570.2h.45M221.1 556.3h.45M209.1 562.2h.45M218.2 560.9h.45M216.8 558.6h.45M206.1 577.1h.45M229.9 561.9h.45M211.4 562h.45M226.9 549.7h.45M197.5 565.9h.45M195.6 566.3h.45M215.5 564.7h.45M202.4 544.7h.45M224.3 552.8h.45M218 572.9h.45M205.3 556.4h.45M220.1 556.8h.45M206.9 563.4h.45M210.8 571.4h.45M217.9 551.7h.45M220.5 558.7h.45M219.9 570.3h.45M207 559.4h.45M213.4 564.3h.45M218.2 565.7h.45M207.8 573.5h.45M207.9 567.9h.45M213.9 561.2h.45M222.1 549.6h.45M224.1 553.9h.45M205.9 554.7h.45M216.4 559.2h.45M217.3 555.3h.45M226.6 556.2h.45M209.1 558.9h.45M222.2 554.8h.45M214.7 556.3h.45M209 559.5h.45M215 560.8h.45M216 561.7h.45M219 571.7h.45M207.2 585.6h.45M218 580.9h.45M216.5 582.6h.45M208 568.5h.45M211.9 574.6h.45M203.5 558.9h.45M224.7 574.8h.45M211.7 572.2h.45M209.1 580.2h.45M204 588.3h.45M207.4 583h.45M201.4 582.7h.45M207.5 585.6h.45M211.8 572.9h.45M219.5 590.4h.45M217.1 585.2h.45M201 593.7h.45M210.2 573.7h.45M207.5 576.6h.45M206.9 561.6h.45M217.3 581.5h.45M199.7 571.1h.45M219.1 585.2h.45M209.9 576.9h.45M213.2 584.2h.45M202.7 585.4h.45M214.8 588h.45M202.6 576.9h.45M210.8 571.2h.45M206.2 578h.45M216.9 573.9h.45M203 583.6h.45M213 574.9h.45M215.2 591.5h.45M209.1 584.6h.45M223.6 579.3h.45M207 577.1h.45M221.5 583.5h.45M210.1 574h.45M206.9 595h.45M199.9 592.5h.45M208 578.7h.45M203.1 577.9h.45M212.2 583.2h.45M203.4 589.6h.45M196.4 577h.45M220.4 581.6h.45M211.4 578.2h.45M205.3 595.2h.45M213.9 588.8h.45M208.9 588.8h.45M217.2 579.1h.45M217.1 589.4h.45M209.8 578.9h.45M210.1 579.2h.45M221.2 581.3h.45M211 580.5h.45M208.7 579.4h.45M223.5 588.9h.45M214.6 598.2h.45M212.8 581.4h.45M217.3 570.2h.45M209.6 575.4h.45M205.6 586h.45M208.2 586h.45M208.6 580h.45M211.6 591.2h.45M204.5 573h.45M200.4 585.5h.45M223.2 569.1h.45M203.3 570.3h.45M209.4 590.4h.45M202.9 573.9h.45M214 580.6h.45M214.5 578.8h.45M209.2 581.2h.45M213 586.4h.45M210.6 578.2h.45M215.5 586.2h.45M207.2 584.1h.45M217.1 577.4h.45M203.1 568.4h.45M214.7 581.2h.45M205 592.6h.45M204.1 584.2h.45M200.8 577.1h.45M193.4 588.4h.45M201.8 582.8h.45M207.8 578h.45M212.1 594.2h.45M212.5 584h.45M203.5 583.3h.45M216.9 573.2h.45M212 590.5h.45M206.8 569h.45M214.9 576h.45M214.5 572.5h.45M230.7 577.7h.45M207.8 582.7h.45M215.9 590.9h.45M217.6 573.7h.45M208.7 569h.45M208.5 590.8h.45M211.4 595.2h.45M216.6 575.2h.45M208.8 586.8h.45M217 578h.45M223 584.3h.45M202.4 566.2h.45M205.4 567.3h.45M205.5 587.7h.45M210.5 582h.45M211.8 586h.45M207 583.7h.45M208.8 583.2h.45M213.6 581.4h.45M209.2 575.9h.45M227.1 582.1h.45M210.7 568.4h.45M211.3 584.1h.45M211 576.9h.45M217.6 574.7h.45M218.1 580h.45M198.4 589.7h.45M206 595.5h.45M220.2 576h.45M208.4 575.6h.45M208.3 589.1h.45M219.9 573.7h.45M209.4 581.1h.45M208.3 569.9h.45M207.4 574.1h.45M207.3 585.7h.45M209.8 575.9h.45M216.7 595.9h.45M197.8 577.8h.45M215 580.3h.45M211.9 582.4h.45M217.1 591.1h.45M209.1 573.5h.45M216.9 587.1h.45M220.8 568.4h.45M195.4 579.6h.45M215.6 590.3h.45M206.3 579.2h.45M205.6 580.2h.45M204.4 570.7h.45M211.8 581.9h.45M200.5 584.6h.45M219.5 574.8h.45M208.4 577.8h.45M210.8 575.5h.45M205.2 571h.45M216.9 579.1h.45M203.8 575.4h.45M204.2 587.4h.45M207.5 578.8h.45M209.9 576.6h.45M212.7 592.4h.45M208.4 581.4h.45M211.8 588.4h.45M207 565.2h.45M207.4 581.3h.45M212.7 592h.45M213.7 596.8h.45M200.4 568.8h.45M208.3 581.8h.45M209.8 569.9h.45M206.3 590.1h.45M211.2 594.6h.45M216.9 570.9h.45M205.9 567.6h.45M203.8 582.3h.45M209 578.4h.45M203 577h.45M214.1 587.1h.45M205 573.5h.45M212.5 577h.45M216.2 569.9h.45M212.1 582.9h.45M211.3 577.4h.45M215.1 575.3h.45M213.3 576.1h.45M221.1 579.2h.45M213.4 587.4h.45M206.9 571.1h.45M208.2 572.1h.45M201.5 590.1h.45M214.9 578.9h.45M205.4 589.8h.45M209.7 568.2h.45M220.8 580h.45M206.9 579.6h.45M204.4 586h.45M206.6 591.8h.45M212.8 574.9h.45M203.5 581h.45M210.1 586.4h.45M205.4 582.1h.45M207.4 577.7h.45M225 587.7h.45M205.5 576.2h.45M205.2 586.7h.45M201.6 600.9h.45M220.7 584.5h.45M218.6 588.1h.45M209.4 575.9h.45M214.4 579.7h.45M214.9 580.4h.45M208.1 583.2h.45M197.2 601.2h.45M200.9 573.4h.45M216.1 603.8h.45M205.3 582.6h.45M219.2 598.9h.45M205.2 594.7h.45M216.8 580.5h.45M205.5 586.7h.45M214.1 582.4h.45M211.9 580h.45M216.1 599.8h.45M203.1 577.6h.45M215.2 584.1h.45M216.5 576.2h.45M205 578.7h.45M201.2 587.6h.45M217.5 572h.45M201.8 581h.45M210.9 573.6h.45M202.6 581.1h.45M209.7 576.1h.45M198.9 584.9h.45M195.1 566.1h.45M213.2 589.6h.45M209.7 576.2h.45M203.5 575.7h.45M200.1 565.8h.45M205.5 561.9h.45M208.5 590.6h.45M212.3 581.7h.45M223.6 586.5h.45M213 576.6h.45M211 569.9h.45M212.5 590.5h.45M215.9 576.2h.45M211.6 578.8h.45M210.7 595.8h.45M209 574.9h.45M207.2 589.6h.45M213.4 572.3h.45M209.5 582.3h.45M207 580.7h.45M215.8 564.2h.45M203.4 572.9h.45M214.7 584.3h.45M206 567.9h.45M214.6 586.5h.45M202.8 572.5h.45M204.6 578.2h.45M198.9 578.8h.45M208.1 581.2h.45M194.9 576h.45M212.7 576h.45M205.4 568.6h.45M219.7 580.4h.45M208.8 578.7h.45M204.3 591.1h.45M207.4 584.2h.45M218.7 566.6h.45M209.6 569.8h.45M203 580.9h.45M219.8 584.3h.45M207.6 573.7h.45M222.7 588.1h.45M199.5 570.9h.45M209.4 588.4h.45M217.1 587.2h.45M204.9 580.3h.45M208.6 585.7h.45" stroke="#000" stroke-width="0.45" fill="none" opacity="0.8"/>
<rect x="167" y="541.1" width="65.2" height="64.4" fill="none" stroke="#999" stroke-width="0.6"/>
<path d="M167 541.1V605.5H232.2" fill="none" stroke="#444" stroke-width="0.7"/>
<rect x="193.6" y="547.4" width="38.2" height="25.4" fill="none" stroke="#000" stroke-width="1"/>
<text x="200.8" y="536.2" font-size="8.1" text-anchor="middle">IL-10/TGF-β</text>
<text x="181.5" y="610.2" font-size="2.8" text-anchor="middle" style="stroke:none" fill="#333">10</text>
<text x="197.2" y="610.2" font-size="2.8" text-anchor="middle" style="stroke:none" fill="#333">10</text>
<text x="212.9" y="610.2" font-size="2.8" text-anchor="middle" style="stroke:none" fill="#333">10</text>
<text x="228.6" y="610.2" font-size="2.8" text-anchor="middle" style="stroke:none" fill="#333">10</text>
<ellipse cx="271.5" cy="598.3" rx="8.28" ry="5.28" transform="rotate(-8 271.5 598.3)" fill="#000" opacity="0.95" filter="url(#b2)"/>
<path d="M279.5 591h.45M269.3 592.4h.45M268.6 603.8h.45M268 589.4h.45M273 598.2h.45M277.1 596.7h.45M260.2 604.5h.45M273.3 595.1h.45M268.7 598.3h.45M267.5 601.9h.45M270.6 596.5h.45M266.7 594.8h.45M266.9 598.4h.45M254.7 597.3h.45M266.5 598.8h.45M267.4 600.3h.45M265.6 596.2h.45M272.4 598.2h.45M265.2 596.3h.45M274.2 601.2h.45M278.2 595.9h.45M272.7 593h.45M253.2 596.4h.45M280.8 602.2h.45M262.1 601.7h.45M282.7 599.9h.45M277 602.4h.45M278.2 592.1h.45M274.2 603.6h.45M270.1 597.7h.45M268.6 588.9h.45M280.1 600.7h.45M261.1 596.9h.45M264.1 597.3h.45M271.1 597.3h.45M271.5 604h.45M274.4 590.6h.45M266.2 600.9h.45M264.2 593.5h.45M265.8 595.5h.45M281.1 599.2h.45M269.3 600h.45M266 592h.45M284.4 598.5h.45M259.8 592.4h.45M275.3 601h.45M265 595.7h.45M270.2 590.5h.45M270.1 596.1h.45M254.5 601.5h.45M271.6 596.9h.45M275.7 598.5h.45M258.7 593.1h.45M268.5 599.2h.45M271.1 594.9h.45M268 596.8h.45M278.8 598h.45M260.4 604.7h.45M260.5 601.8h.45M264.6 593h.45M274.7 601.2h.45M288.5 592.5h.45M262.7 594.5h.45M279 593.9h.45M285 598.8h.45M271.7 603.7h.45M283.7 593.2h.45M277 595.3h.45M270.3 585.5h.45M264.5 603.5h.45M281.4 596.8h.45M269 595.2h.45M244.8 598.3h.45M277.8 590.8h.45M283.4 602.4h.45M271 600.1h.45M281.7 595.3h.45M275.3 599.8h.45M269 594.2h.45M277.2 601.1h.45M275.3 592.6h.45M252.9 595.5h.45M283 594h.45M267.4 600.4h.45M266.3 597.3h.45M269.3 602.3h.45M271.2 596.4h.45M280.5 597.9h.45M272.7 600.4h.45M274.4 597.1h.45M273.6 591.5h.45M270.7 604.5h.45M270 602.8h.45M272.5 599.8h.45M275.8 593.3h.45M270.5 588.1h.45M276.9 597.5h.45M279.6 600.7h.45M275.4 603.8h.45M267.6 590.3h.45M273.4 595.8h.45M277.4 600.7h.45M268.6 602.8h.45M273.7 602.1h.45M265.7 597.4h.45M265.5 595.9h.45M268.9 603.5h.45M265.2 600.8h.45M272.1 600.1h.45M269.9 599.6h.45M262.7 602.4h.45M270 594.1h.45M271.3 600.5h.45M275.8 598.7h.45M267.4 594.1h.45M272.7 593.2h.45M272.9 597.3h.45M276.9 595.6h.45M280.3 599.3h.45M268.9 601.7h.45M271 597.7h.45M262.4 596.7h.45M272.3 596.8h.45M271.5 600.1h.45M276.8 600.7h.45M259.9 599.5h.45M279.6 600.3h.45M281.6 593.4h.45M283.2 595.7h.45M278.8 602.7h.45M270.5 593.9h.45M279 596.1h.45M269.4 594.7h.45M255.3 592.1h.45M275.1 600.9h.45M266.2 595.1h.45M272.9 592.8h.45M273.6 593.6h.45M282.1 595.8h.45M283.3 600.4h.45M279 596.3h.45M285.2 596.6h.45M275.7 593.7h.45M258.1 602.7h.45M271.7 604.7h.45M273.2 596.5h.45M273.6 594.2h.45M276 600.5h.45M280 596h.45M260.1 594.4h.45M263.9 601.2h.45M280.1 594.7h.45M275.7 591.1h.45M278.2 602.6h.45M271 588h.45M269.3 589.3h.45M272.7 588.1h.45M268.4 595.5h.45M266.7 594.7h.45M263.3 595.1h.45M279.7 591.2h.45M266 592.1h.45M264.9 592.2h.45M277.7 592.4h.45M260.3 601.4h.45M276.1 601.4h.45M262.8 597.2h.45M257.3 599.4h.45M257.8 599.5h.45M266.2 599.9h.45M277.9 603.4h.45M284.1 593.9h.45M268.4 600.2h.45M263.3 592.1h.45M268.9 589.7h.45M280.8 597.5h.45M275.3 596h.45M264.3 596.8h.45M288 597.5h.45M270.3 600.6h.45M269.2 592.4h.45M266.5 600.8h.45M269.6 592.5h.45M285 596.4h.45M273.4 603.2h.45M275.6 599.5h.45M280.6 593.8h.45M274.2 602.8h.45M275.1 600.5h.45M268.2 590.2h.45M262.9 597.7h.45M276.8 589.3h.45M276.9 604.3h.45M267.6 598h.45M280.7 596.9h.45M273.4 590h.45M282.3 599.8h.45M273.5 591.5h.45M273.1 591.6h.45M267.6 590.5h.45M277.1 600.4h.45M288 588.9h.45M278.4 603.1h.45M273.9 599.6h.45M274 604.5h.45M264.2 603.9h.45M258.6 596.4h.45M273.1 595.5h.45M280.7 597h.45M262.8 597.6h.45M266.6 603.8h.45M263.7 603.1h.45M270.8 602.6h.45M280.9 596.5h.45M271.6 597h.45M278 597.5h.45M262.5 593.7h.45M269.3 595.3h.45M278.2 597.3h.45M265.4 597.8h.45M275.2 595.8h.45M267.3 598.1h.45M273.3 592.4h.45M289.3 598.7h.45M284.5 602.4h.45M271.1 595.8h.45M263.3 590.1h.45M282.3 594h.45M273.5 596h.45M285 597.3h.45M270.8 593h.45M270.2 599h.45M269 596.2h.45M268.8 595.2h.45M284.2 604h.45M278.3 603.2h.45M276.7 599.8h.45M257.3 602.8h.45M278.1 594.3h.45M279.1 591.8h.45M262.9 596.9h.45M271.8 599.8h.45M272.1 596.3h.45M283 596.5h.45M272.2 593.5h.45M269.9 595.1h.45M277.1 603.6h.45M282.5 591.2h.45M272.1 600.3h.45M273.5 600.6h.45M262.8 599.1h.45M266.3 598.1h.45M270.6 603.5h.45M270 602.2h.45M271.1 595h.45M272.6 599h.45M273.8 602.8h.45M266.3 604.1h.45M266.7 598.5h.45M271.9 598.8h.45M259.9 597.3h.45M257.8 593.3h.45M284.6 589.9h.45M277.6 593.1h.45M266.4 590.2h.45M269.2 600.2h.45M277.1 601.1h.45M271.5 605h.45M272.5 596.9h.45M267.3 590.5h.45M272.2 595.1h.45M270.6 599.9h.45M263.3 591.5h.45M282.2 594.4h.45M274.4 594.8h.45M277 600h.45M269.7 597.7h.45M281.2 593.7h.45M271.8 601.2h.45M275 597h.45M254.4 601.1h.45M264.3 596.1h.45M273.7 598.9h.45M270.8 596.9h.45M267.8 602h.45M268.8 599.6h.45M280.6 596.5h.45M271.9 597.5h.45M266.4 595.6h.45M262.8 604.6h.45M273.5 594.8h.45M262.6 597.2h.45M263.2 598.1h.45M260.9 597h.45M258.6 597.3h.45M260.4 599.5h.45M278.5 597.8h.45M276.1 593.4h.45M268.3 600.6h.45M275.5 599.7h.45M268.7 599.2h.45M273.5 595.7h.45M266.8 601.2h.45M262.2 597.5h.45M275.2 597.9h.45M268.4 598.7h.45M270.7 595h.45M269.1 599.7h.45M273.3 597.7h.45M260.8 601.8h.45M269.3 604.6h.45M276.4 593.7h.45M268.2 588.5h.45M264.5 601.2h.45M270.7 591.2h.45M266.3 595.5h.45M272.1 602.6h.45M268.7 587.1h.45M276.8 600.2h.45M262.5 596.7h.45M271 602.5h.45M276.9 599.4h.45M278.3 599.7h.45M277.5 592h.45M269.2 598.4h.45M270.4 604.9h.45M265.2 594.5h.45M280.9 598.6h.45M280.7 597.2h.45M264.6 600.6h.45M268.1 600.7h.45M279.7 597.2h.45M280.6 598.1h.45M274.5 601.4h.45M263.8 603h.45M272.2 598h.45M278.5 598.3h.45M260.4 593.3h.45M264.8 596.5h.45M276.6 596.7h.45M274.8 604h.45M270 586.3h.45M255.3 599.3h.45M259.6 591.8h.45M275 599h.45M269.5 593.6h.45M271.3 603h.45M270.1 598.1h.45M273.9 592.8h.45M281.5 603h.45M268.4 600h.45M266.4 604h.45M278.7 595.5h.45M266.1 603.8h.45M266.2 598h.45M261.9 593.7h.45M271.3 594.9h.45M270.7 600h.45M274.4 602.9h.45M279.2 592.6h.45M261.7 593.4h.45M277.3 601.2h.45M278.7 597.5h.45M275.9 599.5h.45M275.7 595.4h.45M280.2 598.5h.45M261.3 597.1h.45M270.4 596.7h.45M270.5 595.7h.45M268.2 596h.45M272.9 599.5h.45M279.7 600.6h.45M267.8 595.1h.45M269.5 593.1h.45M262 596.1h.45M269 600.2h.45M269.1 604.8h.45M276.1 601.6h.45M269.5 597.2h.45M265.1 602.5h.45M263.2 596.3h.45M269.7 600.1h.45M274.4 599.6h.45M278.8 596h.45M276.3 595h.45M266.6 602h.45M271.6 598.2h.45M257.2 599.1h.45M268.5 602.1h.45M266.9 595.5h.45M277.6 604.5h.45M262.3 595.9h.45M278.5 603.1h.45M268.1 594.7h.45M270.8 599.4h.45M277.9 598.4h.45M269.1 586.1h.45M263.9 598.4h.45M266.9 595.4h.45M275.2 592.9h.45M277.9 599.9h.45M274.7 589h.45M271.4 598.9h.45M262.2 595.8h.45M278.5 592.7h.45M272.5 590.6h.45M265 597.4h.45M279.6 590.3h.45M281 594.5h.45M263.6 601.7h.45M262 597.6h.45M268.6 596.6h.45M280 590.1h.45M265.8 596.3h.45M262 593.8h.45M291.4 595h.45M273.7 598.6h.45M260.9 599.9h.45M269.1 603.2h.45M259.4 601h.45M260.1 596.3h.45M279 596.7h.45M270.3 601h.45M265.9 603.2h.45M269.4 597.3h.45M264.5 590.7h.45M267.8 602.3h.45M266.5 599.7h.45M272.7 600.3h.45M270.9 595.2h.45M282.5 600.6h.45M276.8 596.5h.45M268.7 600.8h.45M285 602.1h.45M264.9 590.6h.45M264.5 600.9h.45M265.1 595.8h.45M276.8 589.4h.45M263.9 594.8h.45M272.6 597.9h.45M263.8 596.2h.45M269 595.7h.45M267.9 601.9h.45M258.9 593.7h.45M281 596.5h.45M283.5 596.4h.45M270.5 591.5h.45M271.1 600.2h.45M280.7 602.9h.45M267.2 601.3h.45M270.2 595.4h.45M281.7 594h.45M279.2 594.4h.45M270.2 598h.45M273.4 601.3h.45M275.7 593.7h.45M269.5 604.9h.45M282.6 590.3h.45M254.7 603h.45M258.5 596.8h.45M275.4 597.3h.45M267.9 596.2h.45M267.6 591.9h.45M264.7 598.9h.45M273 594.7h.45M271.4 595.2h.45M273.9 592.7h.45M280.4 600.5h.45M283.3 590.7h.45M269.6 599.5h.45M274.8 595.4h.45M270.2 597.9h.45M263.5 585.3h.45M282.1 601.7h.45M276.4 599.1h.45M265.9 604.5h.45M269.5 593.5h.45M268.7 599.7h.45M262.1 599.4h.45M273.5 605h.45M276.2 597.3h.45M263.9 595.4h.45M279.9 596.6h.45M260.2 597.9h.45M264.7 603.7h.45M266.7 601.8h.45M280.9 603.4h.45M265.4 600.3h.45M270.2 599.3h.45M268 597h.45M271.4 596.1h.45M272.3 594.6h.45M282.3 598.4h.45M284 592.9h.45M267.7 593.8h.45M264.4 602h.45M274 603.7h.45M266.9 601.4h.45M275.2 596.2h.45M271.9 591.7h.45M275.3 603.6h.45M271.4 603.9h.45M278.4 601.8h.45M275.5 596.7h.45M280 597.1h.45M270.3 595.1h.45M270.8 602.2h.45M263 600.4h.45M258.2 591.4h.45M275.2 596.1h.45M271.4 596.2h.45M258.7 590h.45M278.1 597.6h.45M276.2 592.9h.45M277.2 602.6h.45M276.1 592.7h.45M258.4 599.8h.45M280.8 590.1h.45M266.6 598.8h.45M288.8 601.7h.45M256.3 594.1h.45M264.7 600.5h.45M282.6 590.9h.45M264.5 596.3h.45M268.2 598.7h.45M270 604.2h.45M274.4 599.6h.45M278.1 601.5h.45M261.5 597.9h.45M281.8 590.7h.45M270.6 589.2h.45M276.5 602.4h.45M273.8 597.6h.45M268.6 604.3h.45M272.4 588h.45M265.1 602.9h.45M279.5 587.1h.45M271.2 598.9h.45M283.3 598h.45M278.6 594.3h.45M262.8 596.7h.45M269.2 597.5h.45M290.4 592.4h.45M273.9 589.8h.45M281.2 592.7h.45M267.8 601.7h.45M262.6 593.1h.45M277.2 598.1h.45M272.4 601.6h.45M266.3 590.5h.45M275.8 600.9h.45M267.1 593.5h.45M262.7 591.7h.45M273.1 603.1h.45M272.2 596.9h.45M270 588.7h.45M275.2 601.7h.45M262.5 597.6h.45M276 602.4h.45M273.4 596.4h.45M266.1 593.1h.45M277.8 603.6h.45M264.7 599.7h.45M278.8 601.9h.45M266.3 597h.45M276.9 594.3h.45M270.9 598.9h.45M265.9 602.5h.45M294.5 598.2h.45M279.6 599.5h.45M259.2 600.7h.45M281.8 604h.45M269.9 598h.45M267.8 592.5h.45M270.5 601.6h.45M285.6 600.9h.45M265.8 596.6h.45M267.7 599.5h.45M281.7 587.8h.45M280.3 600.6h.45M257.8 598.3h.45M277.9 599.3h.45M264.4 595.4h.45M283.4 596.6h.45M268.6 597.2h.45M275.3 601.6h.45M249 596.1h.45M276.4 599.4h.45M276.6 598.8h.45M281.7 600.1h.45M266.5 601.1h.45M260.5 596.6h.45M268.6 595.9h.45M274.8 603.2h.45M272 596.8h.45M274.5 604.1h.45M282.5 601.6h.45M269.4 594.9h.45M260.5 601h.45M264.8 593.2h.45M262.3 597.2h.45M275.3 587.5h.45M266.5 594.3h.45M269.6 597.9h.45M272.2 594.2h.45M272.7 599.7h.45M266.4 603.9h.45M270.5 604h.45M270 601.6h.45M268.9 588.3h.45M281.5 600.6h.45M271.8 602.8h.45M269.6 602.2h.45M276.6 591.3h.45M278.7 593h.45M264.7 595.3h.45M276.8 595.5h.45M264.1 592.9h.45M279.7 601.3h.45M279.8 592.3h.45M277.8 596.8h.45M274.2 595.5h.45M281 598.9h.45M265.2 599.9h.45M259.7 598.4h.45M268 594.2h.45M272.7 603.7h.45M284.1 587h.45M282.4 594.9h.45M267.3 600.6h.45M271.4 591.5h.45M286 599.1h.45M281.3 599.6h.45M257.9 591.3h.45M267.9 601.5h.45M268.9 596.4h.45M278.7 594.9h.45M281.9 596.8h.45M256.1 597.8h.45M286.7 597.8h.45M284.9 601.5h.45M283.9 604.3h.45M269.9 602.9h.45M268.3 596.9h.45M275.5 598.1h.45M271.2 588.7h.45M272.5 594.9h.45M263.3 600.6h.45M277.9 592.8h.45M279.3 592.9h.45M282.4 600.5h.45M274.7 597.8h.45M261.5 602.6h.45M266.7 598.1h.45M268.5 597.2h.45M275.8 593.8h.45M263.6 599.8h.45M278.9 600.2h.45M279.9 601.1h.45M262.6 594.3h.45M276 599.3h.45M254.7 603.3h.45M270.9 591.3h.45M278.9 593.7h.45M266.9 597.2h.45M284.3 593.4h.45M277 602.3h.45M259.2 598.9h.45M269.6 592.4h.45M250.8 598.4h.45M270.2 596.9h.45M266.1 595.3h.45M275.6 594.6h.45M269 595.7h.45M272.7 595.3h.45M276.3 604.6h.45M266.4 602.5h.45M269 594.3h.45M268.8 587.3h.45M268.1 599.3h.45M274.3 603.1h.45M286.2 601.9h.45M275.5 599.5h.45M256.8 597.8h.45M269.4 603.1h.45M268.5 602.9h.45M267.4 601.4h.45M257.5 600.2h.45M277 595.3h.45M271.9 593.3h.45M278.3 596.3h.45M276.1 600h.45M280 598.5h.45M269.9 600.3h.45M265.6 592.9h.45M276.1 597.3h.45M262.3 595.5h.45M276.5 599.9h.45M266.4 604.4h.45M275.8 596.4h.45M267.9 597h.45M269.5 599.8h.45M277.5 596.2h.45M257.5 598.7h.45M273.3 600.2h.45M272.7 599.4h.45M277.4 603.4h.45M281 602.3h.45M279.2 601.9h.45M268.2 597.8h.45M286.2 591.6h.45M269.9 596.8h.45M279.2 598.9h.45M281.7 602.2h.45M259.9 602.5h.45M268.9 599.9h.45M278.2 594.5h.45M259.9 600.1h.45M275.6 595.5h.45M266.4 599.2h.45M274.6 604.2h.45M275.9 593.3h.45M259.6 598.8h.45M268.8 599.3h.45M273.1 598.2h.45M267.3 597.9h.45M274.1 600.5h.45M279 601.5h.45M256.7 594.5h.45M259.1 597.7h.45M262 594.8h.45M273 598.8h.45M280.5 603.5h.45M270.2 599.3h.45M276.4 596.4h.45M265.2 604.4h.45M275.1 591h.45M255.2 602.3h.45M270.9 595.9h.45M275.5 596.6h.45M267.7 602.6h.45M267.1 600.1h.45M268.7 600h.45M273.9 598.9h.45M260.5 601.4h.45M287.3 598.3h.45M270.4 596.9h.45M258.1 597.5h.45M263.5 602.1h.45M272.2 599.5h.45M276.5 593h.45M270.9 596.2h.45M270 595.3h.45M263 601h.45M278.7 587.3h.45M273 601.3h.45M284.4 598.6h.45M273.1 595.1h.45M268.4 601h.45M276.8 602.3h.45M272.3 601.7h.45M260.6 599.3h.45M264.5 599.5h.45M265.8 601h.45M265.5 600.3h.45M271 598.7h.45M275.2 602.1h.45M270.6 597.2h.45M283.8 603.8h.45M267.1 599.1h.45M264.9 600.9h.45M261.2 594.6h.45M264.7 596.8h.45M267.7 600.9h.45M271 599.4h.45M274.1 600.6h.45M266 587.9h.45M266.9 601.4h.45M271.5 597.3h.45M266.9 602.3h.45M276.9 599.3h.45M268.7 599.7h.45M261.2 591.7h.45M268.5 603h.45M280 595.6h.45M269.4 597.2h.45M274.2 598.4h.45M275 600.9h.45M271.5 603.8h.45M267.9 597.4h.45M282.2 592.9h.45M275.9 596.3h.45M271 599.2h.45M275.5 601.6h.45M265.9 590.7h.45M274.7 600.2h.45M260.1 597.4h.45M263.8 601.4h.45M257.9 602h.45M248.6 596.9h.45M259.1 586.2h.45M267.3 598.1h.45M275.9 600.9h.45M262.1 595.9h.45M283 594.5h.45M266.5 604.6h.45M276.7 600.1h.45M264.5 602.3h.45M274.7 594.3h.45M272.9 593.8h.45M257.6 603.2h.45M290.9 590.2h.45M266.1 600.7h.45M270.3 597.7h.45M281.8 597.7h.45M265.4 593.5h.45M257.9 597.6h.45M265.9 595.1h.45M277.2 598.8h.45M274.2 590.5h.45M269.2 602.4h.45M266.8 591.4h.45M272.7 594.9h.45M277.2 594.8h.45M275.1 594.5h.45M268.9 597.9h.45M272.3 601.4h.45M276.3 592.8h.45M272.4 594.6h.45M260.7 592.5h.45M258.5 604.8h.45M278.2 595.3h.45M269.2 601.8h.45M273.7 596.8h.45M267.8 595.2h.45M273.3 598.8h.45M260.1 599.7h.45M268.7 603.4h.45M281.2 591h.45M273.3 595.8h.45M274.7 592.9h.45M271.8 591.5h.45M273.3 602.9h.45M277.5 603.2h.45M294.2 595.4h.45M275.2 596.5h.45M262.7 596.3h.45M259.5 589.3h.45M269.8 604.9h.45M268.9 600.8h.45M281.2 599.9h.45M275 596.9h.45M270.9 593.2h.45M284.2 594.9h.45M278 597.8h.45M263.2 593.4h.45M268.5 604.2h.45M275.7 600.1h.45M277 594.3h.45M267.8 602.5h.45M271.1 598h.45M258.5 595.7h.45M265.4 590.9h.45M271.9 602.4h.45M266.2 599.4h.45M271.6 602.2h.45M279.2 589.8h.45M270.3 597.5h.45M282.3 601.9h.45M258.9 603.8h.45M273.8 598.3h.45M265.3 605h.45M278.2 589.4h.45M271.1 599.8h.45M278.4 596h.45M272 592.7h.45M271.8 599.6h.45M269.1 600.8h.45M266.2 594.5h.45M278.6 594.2h.45M279.1 593.6h.45M283 599.4h.45M284.1 588.7h.45M271.1 591h.45M266.1 599.1h.45M263.9 597.1h.45M267.5 603.7h.45M272.3 591.2h.45M268.3 593.3h.45M274.9 602h.45M269 594.2h.45M275 593h.45M266.8 595.1h.45M271.5 596.9h.45M281.6 586.2h.45M271.5 602.2h.45M263.1 598.3h.45M271.9 595.6h.45M264.4 599.7h.45M270.4 597.4h.45M264.7 601.8h.45M265 602.6h.45M280.6 603h.45M260.5 599.1h.45M258.6 597.4h.45M266.6 602.1h.45M269.5 602.2h.45M275.2 593.5h.45M279.9 603h.45M273.4 594.1h.45M275.6 596.1h.45M274.7 590.6h.45M274.2 594.7h.45M260.8 598.3h.45M269.6 598.1h.45M287.7 600.7h.45M280 603.6h.45M268.5 596.7h.45M262.3 593.2h.45M273.1 598.1h.45M278.8 594h.45M270.9 601.5h.45M270 603.4h.45M274.7 600.7h.45M266.7 601.4h.45M251.4 599.5h.45M281.2 597.2h.45M282.1 597.6h.45M277.8 592.6h.45M260.4 594.3h.45M261.3 594.2h.45M272.5 595.5h.45M274.7 590.5h.45M262.8 591.4h.45M274 593.9h.45M282.6 604.3h.45M269.8 603.6h.45M260 593.6h.45M277.7 597h.45M275.5 598h.45M269.1 604.7h.45M268.2 599.2h.45M262.7 598.5h.45M267.7 601.6h.45M276.1 599.1h.45M273.9 603.6h.45M268.6 597.2h.45M282.3 598.7h.45M272.2 595.3h.45M277.1 592.7h.45M255.3 596.8h.45M266.5 603.6h.45M269.7 595.2h.45M268.7 603.9h.45M275.4 596.1h.45M261 603.5h.45M278.1 600.5h.45M269.9 599h.45M272.6 598.5h.45M267.2 598.8h.45M260.5 599.3h.45M273.8 596.5h.45M267.5 593.2h.45M276.3 595.3h.45M270.4 591.1h.45M264.7 594.8h.45M272.3 595.4h.45M274.2 600.7h.45M263.7 598.5h.45M279.3 588h.45M272.1 599.3h.45M258.3 596.6h.45M264.7 598.3h.45M279.1 589.2h.45M275.3 600.9h.45M269.2 594.4h.45M273.2 593.1h.45M265.8 602.8h.45M266.1 602.3h.45M277.3 592.1h.45M254.5 595.7h.45M276.2 595.5h.45M278.5 588.6h.45M281.3 596.1h.45M278.6 598.8h.45M276.7 592.6h.45M261.2 602h.45M270.9 590.6h.45M272.6 600.7h.45M280.4 600.9h.45M273.6 590.2h.45M263.7 596.6h.45M258.1 597.1h.45M271.3 602.9h.45M269.9 595.5h.45M272.5 593.7h.45M264.8 598h.45M272.1 595.3h.45M279.4 600.9h.45M273.6 594.9h.45M276.3 599.1h.45M275.5 598.2h.45M268.5 599.9h.45M272.8 600.2h.45M273.2 589.5h.45M267.6 602.1h.45M267.1 599.3h.45M282.8 599.8h.45M278.1 599.6h.45M285.8 596.5h.45M258.8 595.9h.45M263.2 590h.45M271.3 592.7h.45M277.2 603.6h.45M260.6 604.3h.45M279 592.1h.45M271.4 599.4h.45M275.3 597.2h.45M264 599.8h.45M285 595.9h.45M281.1 595.9h.45M272.2 596.2h.45M264.4 601.6h.45M258.4 599.5h.45M270.2 597.5h.45M269.2 599.9h.45M259.6 603.6h.45M270.3 598.8h.45M265.9 597.1h.45M271 602.1h.45M278.4 597.4h.45M271.2 600.4h.45M271.3 596.8h.45M276.8 584.9h.45M272.7 602.7h.45M272.1 589.8h.45M276 592.1h.45M282 595.2h.45M276.5 587.5h.45M270.2 599.6h.45M262.9 596.7h.45M269.9 596.1h.45M258.6 597.5h.45M274.8 599.5h.45M265.9 598.6h.45M271.8 596.2h.45M272.4 591h.45M258.9 604.7h.45M269.7 596.2h.45M273.2 597.1h.45M276.9 603h.45M270.9 593h.45M262 595.8h.45M268.1 599.2h.45M264.9 592.2h.45M273.2 602.4h.45M269.4 596.4h.45M278.4 597.5h.45M275.2 601.6h.45M268.6 591.8h.45M279.4 597.6h.45M269 600.3h.45M265 591.3h.45M272.4 598.5h.45M280.9 597h.45M277.8 603.5h.45M256.9 591.2h.45M269.2 596.1h.45M285.8 595.5h.45M278.9 590.4h.45M266.3 599.6h.45M278.8 592.1h.45M280.9 600.3h.45M270.8 600.2h.45M267.4 590.3h.45M280.9 602.8h.45M256.8 596.2h.45M269.3 599.8h.45M284.5 596.4h.45M270.9 593.7h.45M273.7 600.6h.45M265.9 602.7h.45M271.4 598.7h.45M259.4 596.1h.45M284.2 591.3h.45M272.6 598.6h.45M263.7 601h.45M270.2 591.8h.45M275.2 601.5h.45M269.3 602h.45M277.2 597.4h.45M261.3 604.4h.45M275.5 594.4h.45M261.2 598.1h.45M274.5 603h.45M282.1 597.7h.45M269 603h.45M276.9 597.8h.45M270.4 600.4h.45M266.5 601.8h.45M267.1 594.7h.45M268.2 599.5h.45M259 602.1h.45M273.3 593.3h.45M279.9 598.8h.45M274 598.5h.45M269.9 601h.45M274.5 601.6h.45M255.6 596.8h.45M277.6 599.1h.45M274.6 594.7h.45M273.8 596.2h.45M274.4 586.4h.45M262.1 605h.45M273.5 595.2h.45M278.3 596.5h.45M266 601.5h.45M278.2 595.2h.45M273.9 604.9h.45M270.3 597.9h.45M272.5 598.9h.45M275 596.7h.45M276.6 600.2h.45M282 590h.45M271.8 596.1h.45M268.1 594h.45M270.7 597.4h.45M274.8 603.6h.45M263.9 601.3h.45M271.3 602.6h.45M271.9 591.9h.45M257.3 601.5h.45M263.2 602.7h.45M284.6 595.7h.45M287.4 595.7h.45M269 599.4h.45M265.8 603.5h.45M273.2 597.1h.45M267.5 595.5h.45M272.5 591.4h.45M270.5 590.3h.45M251.1 598.1h.45M290.8 603.3h.45M275.1 595.8h.45M264 597.1h.45M271.3 596.4h.45M282.9 593.5h.45M279.1 596.8h.45M275 591.2h.45M270.4 596.1h.45M281.1 600.2h.45M271.8 589.3h.45M270.4 597.5h.45M268.9 601.4h.45M269.2 599.7h.45M280.8 603.9h.45M264.2 592h.45M275.1 597.9h.45M274.4 593.1h.45M275.8 596.8h.45M268.2 594.7h.45M259.5 589.2h.45M271.4 603.5h.45M276.2 598.1h.45M277.7 587.8h.45M271.2 594.5h.45M269.9 599.6h.45M274.2 591.1h.45M274.8 595.4h.45M269.3 599.8h.45M274.2 602.9h.45M261.5 596h.45M268.1 596.1h.45M279.7 603.4h.45M282.2 602.2h.45M269 596.2h.45M257.9 599.7h.45M255.8 600.7h.45M269.3 596.1h.45M281.5 599.3h.45M276.1 604h.45M281.1 594.5h.45M256.4 603.4h.45M280.5 601.6h.45M261.1 600.4h.45M256.7 602.4h.45M277.1 596.5h.45M275.7 598.7h.45M274.1 596h.45M269.9 598.8h.45M270.8 595.3h.45M267.4 597.1h.45M280.7 593.2h.45M279.5 602.6h.45M264.6 593.5h.45M272.1 595.7h.45M285.6 596.9h.45M282 594.9h.45M262.9 600.4h.45M277.5 601.1h.45M262.7 597.9h.45M283.8 595.6h.45M271.3 593.2h.45M257.6 602h.45M266.9 602.8h.45M278.7 601.2h.45M270.2 600.5h.45M277.2 601.2h.45M276.9 602.8h.45M258 602.7h.45M264.7 595.9h.45M257.2 600.5h.45M277.2 595.4h.45M267.8 591.4h.45M274.8 596.7h.45M265.5 585.4h.45M265.5 596.9h.45M268.9 587.4h.45M267.7 603.7h.45M271.5 603.6h.45M266.9 595.4h.45M286.8 597.2h.45M286.8 600.4h.45M267.7 600.9h.45M271.5 600.2h.45M275.1 587h.45M276.1 592h.45M273 597.4h.45M287.2 595h.45M276.2 596.8h.45M268 597.6h.45M263.3 598h.45M261.2 596.7h.45M280.5 597.7h.45M279 592.8h.45M269.5 593h.45M262.4 599.3h.45M257.7 604.7h.45M286.9 590.3h.45M263.9 597.8h.45M268.4 602.6h.45M283.4 596.6h.45M279.6 597.3h.45M273 599.1h.45M274.4 602.6h.45M278.8 592.3h.45M265.7 593.7h.45M268.1 594.2h.45M270.4 595.6h.45M269.2 593.5h.45M271.5 596.1h.45M275.9 597.9h.45M263.1 595.1h.45M273.4 596h.45M269.7 596.4h.45M287 599.4h.45M276.2 599.2h.45M254.1 597h.45M258.2 604.1h.45M273 595.6h.45M278.6 600.8h.45M273.8 593.6h.45M270.7 594.2h.45M272.8 598.7h.45M279.1 602h.45M266.8 597.3h.45M274.6 599.4h.45M282 600.9h.45M261.3 590.4h.45M266.4 602.3h.45M270.4 594.2h.45M270.8 598.1h.45M260.4 591.3h.45M273.9 603.3h.45M277.4 604.5h.45M267.9 594.6h.45M259.1 594h.45M277.5 599.3h.45M268 602.9h.45M269.6 594.9h.45M271.5 593.9h.45M272.5 599.3h.45M280 592.8h.45M274.2 603.5h.45M277.1 594.8h.45M263 600.7h.45M266.4 599.1h.45M271.3 603.7h.45M263.1 598.2h.45M281.3 594.7h.45M261.6 595.6h.45M274.1 601.8h.45M272.6 592h.45M273.8 597.7h.45M276 595.1h.45M272.8 594.6h.45M273.3 601.4h.45M273.3 597h.45M273.2 594h.45M268.4 599.5h.45M276.3 600.4h.45M263 600.7h.45M276.3 595.3h.45M267.4 598.2h.45M266.4 601.1h.45M280.2 598.7h.45M270.8 593.2h.45M266.8 596.5h.45M276.2 596.2h.45M276.7 598.4h.45M268.3 603.5h.45M274.4 599.8h.45M271.5 594.7h.45M268 601.7h.45M268.9 599.1h.45M276.9 596.4h.45M285 585.2h.45M270.8 594.7h.45M260.9 594.5h.45M262.8 599.7h.45M270.2 595.1h.45M274.1 597.5h.45M278.5 592.1h.45M285 592.5h.45M255.5 600.7h.45M264.6 600h.45M267.2 597.3h.45M277.9 604.2h.45M267.9 594.6h.45M278.1 592.8h.45M275.8 597h.45M275.8 596.8h.45M277 596.7h.45M271.6 601.5h.45M274.3 593.4h.45M262.3 604.8h.45M277.7 594.9h.45M282.7 595.9h.45M284.5 591.2h.45M251.8 598.9h.45M272.2 597.6h.45M270.9 599.5h.45M262.4 594.3h.45M279.7 593.1h.45M277 598.3h.45M275.5 594.7h.45M265.8 597h.45M287.2 601.3h.45M267.4 605h.45M275.5 595.4h.45M267.5 603h.45M264.7 591.6h.45M272.4 595.7h.45M263.2 594.1h.45M264.7 598.3h.45M247.4 599.2h.45M266.3 595.1h.45M276.3 597.4h.45M278.4 602.8h.45M267.4 600.2h.45M270.4 591h.45M262.7 595.2h.45M279 595h.45M269 593.2h.45M264.3 591.8h.45M279.9 600.1h.45M269.8 601.5h.45M262.6 594.5h.45M272.4 601.2h.45M267 597.7h.45M282.1 596.3h.45M273.9 600.2h.45M270.3 596.3h.45M253.5 591.5h.45M272.2 595.5h.45M270.7 600.2h.45M274 598.2h.45M269.6 599.7h.45M261.2 600.3h.45M267.9 597.8h.45M269 602.2h.45M264.8 600.6h.45M274.7 598.9h.45M285.7 594.1h.45M263.9 591.8h.45M275.4 601.7h.45M285.5 598.4h.45M283.9 591.3h.45M273.3 601.6h.45M266.3 599.8h.45M279.3 600.9h.45M290.8 590.3h.45M276.5 595.7h.45M275 591.7h.45M259.4 602h.45M279.1 593.6h.45M276.2 591.7h.45M261.9 588.6h.45M267.6 601.7h.45M276.5 595.7h.45M267.9 600.4h.45M269.6 599.4h.45M258.9 592.1h.45M270.1 601.6h.45M280.2 592.4h.45M273.8 598.3h.45M270 596.5h.45M269.5 596.7h.45M283.1 589.7h.45M280.7 595.4h.45M262.1 600.8h.45M269.7 603.8h.45M265.4 595.3h.45M264.2 600.7h.45M279.9 601.4h.45M279.6 596.7h.45M267.3 598.4h.45M272.2 591h.45M273.8 590.6h.45M269.5 596.8h.45M256 593h.45M265.5 592.2h.45M273 602.6h.45M278.4 596.6h.45M270.2 599.9h.45M277.9 604.1h.45M277.4 599.1h.45M259.8 600.9h.45M264.9 594.5h.45M274 603.1h.45M281.9 591.9h.45M260.9 600.3h.45M274.3 596.4h.45M276.5 594.6h.45M267.3 599h.45M255.5 604.7h.45M275.6 602.1h.45M261.6 598.9h.45M259.2 593.8h.45M276 593h.45M269.4 601.1h.45M267.3 598.6h.45M265.8 597.1h.45M274.9 602.4h.45M268 598h.45M266.6 597.7h.45M281.9 589.3h.45M270.2 597.4h.45M272.6 597.8h.45M281.5 594.8h.45M280.8 592.9h.45M278.9 604.2h.45M267.2 595h.45M276.8 601.3h.45M271.3 597.2h.45M267.3 595.4h.45M285 592.5h.45M276.4 598.4h.45M262.7 598.4h.45M281.4 598.9h.45M268.4 594.7h.45M272.3 594.4h.45M274.2 601.8h.45M270 603.5h.45M276.2 596.3h.45M285.3 596.8h.45M280.1 597.6h.45M268.4 597.4h.45M278.7 590.8h.45M276.6 599.4h.45M277.8 595.3h.45M276.9 598.4h.45M276.8 600.3h.45M264.9 593.4h.45M277.9 599h.45M264.2 593.9h.45M264.9 599h.45M268.8 597.5h.45M285.8 589h.45M282 594.5h.45M263.4 600.8h.45M275.2 602.2h.45M264.1 590.7h.45M277.3 597.2h.45M263.3 595.1h.45M273.3 594.1h.45M275.7 600.8h.45M257.8 604h.45M270.3 600.8h.45M274.3 597.2h.45M258.2 602.4h.45M261.5 595.8h.45M280.8 601.4h.45M276.5 600.8h.45M275.6 601.9h.45M268.6 595.1h.45M272.5 602.2h.45M260.3 605h.45M274.5 604.2h.45M257.5 598.6h.45M265.7 603.4h.45M282.4 588.8h.45M275.4 603h.45M275.5 587.2h.45M266.1 595.7h.45M272.9 587.6h.45M269.1 595.3h.45M264.7 589.6h.45M269.5 598.3h.45M263.7 603.1h.45M277.5 586.3h.45M259.4 593.9h.45M268 596.6h.45M266 600.9h.45M274.5 601.8h.45M273.4 599.1h.45M278.9 603.3h.45M267.8 595.8h.45M268.1 600.1h.45M256.4 604.6h.45M273.1 598.6h.45M267.2 594.2h.45M280.8 596.3h.45M273.5 593h.45M273.9 601.4h.45M264.8 599.1h.45M277.8 602.2h.45M281.2 594.3h.45M260.2 587h.45M280.6 595.2h.45M277.7 604h.45M264.2 600h.45M270.8 599.5h.45M283.3 598.4h.45M275.3 603.1h.45M280 598.9h.45M276.5 600.4h.45M276.4 601.3h.45M279 602.9h.45M272 599.7h.45M275.5 604.7h.45M271.3 594.3h.45M271.8 590.3h.45M269.6 600.8h.45M273.9 599.8h.45M272.1 589.5h.45M269.1 601.5h.45M274.7 594.3h.45M281.8 599.5h.45M277 594.3h.45M278.4 599.4h.45M285.2 596.4h.45M267.6 596.9h.45M288.1 595h.45M263.3 590.4h.45M268.2 595h.45M273.2 601.9h.45M279.8 602.2h.45M280.3 599.1h.45M279.6 598.4h.45M273.8 597.1h.45M267.8 599.6h.45M266.5 603.1h.45M283.9 591.7h.45M284 596.3h.45M279.3 598.6h.45M275.1 593.1h.45M269.6 596.1h.45M269.8 598h.45M265.3 597.5h.45M263.9 603.1h.45M276.4 587h.45M276.3 599.1h.45M267.3 603.6h.45M265.1 601.8h.45M270.4 601.4h.45M270 601.2h.45M282.1 601.7h.45M266.3 597.8h.45M287 590h.45M274.2 596.6h.45M283.1 594.8h.45M280.1 590.4h.45M266.2 595.2h.45M264.8 597.4h.45M261.3 601.7h.45M263.9 604.9h.45M276.5 602.7h.45M255.6 594.1h.45M258.8 600h.45M259 598.5h.45M266.2 592.6h.45M275.3 596.4h.45M276.7 593.8h.45M264.7 596.8h.45M283.3 592.4h.45M267.1 602.4h.45M262.4 587.4h.45M269.5 597.6h.45M263.7 596.6h.45M273 589.7h.45M275.9 602.4h.45M268.6 593.7h.45M275.4 604h.45M270.2 600.7h.45M278.9 593.1h.45M262.4 600.2h.45M279.4 595.8h.45M272.5 597.7h.45M270.8 593.6h.45M273.4 603h.45M267.4 604.5h.45M259.6 594.1h.45M267.6 603.8h.45M279.4 598.1h.45M279.1 604.6h.45M274.2 598.3h.45M268.9 598.4h.45M268.9 601h.45M272.1 596.1h.45M278.4 592.5h.45M273.1 595.7h.45M274.7 592.8h.45M275.2 596.7h.45M276.3 604.3h.45M265.7 596.2h.45M269 596.3h.45M277.4 595.9h.45M271.6 594h.45M272.6 593.6h.45M263 590.2h.45M271.9 592.5h.45M274.7 597.1h.45M267 599.5h.45M264.5 601.2h.45M258.7 597.1h.45M270.2 595.5h.45M272.4 593.1h.45M269.7 590.6h.45M268.7 589.3h.45M267.8 596.4h.45M273.2 598.5h.45M265.7 601h.45M274.9 595.8h.45M272.7 595.3h.45M276.3 595.8h.45M269.7 599.2h.45M276.4 602.4h.45M285.2 599.6h.45M264.8 589.6h.45M273.7 590.1h.45M260.8 591.5h.45M275.8 603.7h.45M268.1 590.2h.45M260.3 591.5h.45M284.4 593.2h.45M277 597.6h.45M259.6 594.1h.45M270.4 593.9h.45M269.9 593.3h.45M269.9 586.4h.45M286.1 590.7h.45M271.6 593.3h.45M273.1 591.1h.45M270.8 600.6h.45M263.2 602.4h.45M284.1 599.2h.45M267.6 595.5h.45M263.8 599.2h.45M267.8 593.1h.45M262 593.5h.45M259.8 599.1h.45M256.3 604h.45M278.5 602.6h.45M266 597.3h.45M269 596.6h.45M269.3 594.2h.45M271.7 602.5h.45M283.5 602.4h.45M275.1 603.4h.45M270.9 602h.45M266.7 594h.45M263.8 600.6h.45M290.8 595.5h.45M262.5 599.4h.45M286 595.5h.45M268.8 602.3h.45M288.4 600.6h.45M266.7 600.9h.45M269.1 595.4h.45M274.6 599h.45M269.3 592.1h.45M272.6 600.6h.45M259.1 600.5h.45M272.4 603.9h.45M275.4 591.1h.45M276.9 591.3h.45M264.6 590.6h.45M263.1 587.9h.45M263.5 593.8h.45M270.4 597.6h.45M270.3 596.4h.45M271.1 596.3h.45M277.8 598.6h.45M273.5 602.3h.45M267.9 588.6h.45M266.5 598.6h.45M267.8 595.7h.45M271.3 601.5h.45M267.7 602.3h.45M271.3 595.5h.45M280.4 596.4h.45M277.8 594.6h.45M263.2 597.3h.45M274.8 601.3h.45M261.7 594.5h.45M271.1 601.3h.45M269.7 589.6h.45M283.4 595.7h.45M276.8 599.9h.45M270 597.6h.45M262.2 593.6h.45M276.6 601.2h.45M274.1 596.7h.45M273.8 596.7h.45M249.9 596.8h.45M276 596h.45M274.1 586.5h.45M249.5 598.2h.45M286 602h.45M268.5 602.8h.45M286 589.8h.45M266.8 602.9h.45M277.8 594h.45M274.7 599.5h.45M260.5 603.7h.45M273.5 600.9h.45M277.3 594.9h.45M266 593.8h.45M269.7 599.7h.45M276.4 597.5h.45M268.1 596.7h.45M264.9 595.2h.45M271.2 595.7h.45M263.6 594.7h.45M281.6 600.7h.45M268.3 604.1h.45M278.1 600.4h.45M271.6 596.7h.45M274.3 587.6h.45M281.2 599.6h.45M265.7 604.5h.45M274.5 600.5h.45M264.5 594.5h.45M281.6 598.4h.45M279.4 597.1h.45M268.8 590h.45M282.7 591h.45M263.4 589.8h.45M271.4 590.3h.45M258.1 603.5h.45M276.4 595h.45M272.6 594.9h.45M279.1 594.9h.45M274.4 592.6h.45M280.2 594.1h.45M270.7 599.7h.45M274.6 597.9h.45M270.4 602.3h.45M283.3 596.4h.45M273.4 602.5h.45M288.2 593.8h.45M264.9 596.5h.45M266.6 599.8h.45M272.3 603.3h.45M279.8 589.1h.45M275.4 592.3h.45M267.8 591.1h.45M273.8 601.8h.45M272.6 599.7h.45M261.7 599h.45M271.7 598.1h.45M278.4 592.7h.45M277.4 598.7h.45M273.1 599.9h.45M271.9 592h.45M272.5 600.3h.45M271 597.2h.45M269.5 597.1h.45M269 599.1h.45M281.2 593.5h.45M265.2 599.7h.45M274.4 597.8h.45M270.5 595.7h.45M283.6 594.7h.45M277.8 597.9h.45M272.7 586.1h.45M260.3 591.6h.45M273 599.7h.45M272.8 594.2h.45M284.7 597.9h.45M257.1 599.8h.45M274.8 598h.45M272.7 598.8h.45M275 597.9h.45M280.6 601.8h.45M273.2 596.8h.45M265.9 600.7h.45M270 601h.45M282.1 594.5h.45M272.5 597.6h.45M275.3 593.3h.45M263.3 601.6h.45M275.9 604.2h.45M285 597.3h.45M274.8 599.1h.45M269.5 604.2h.45M263.3 603.3h.45M265.5 596.9h.45M269.3 601.9h.45M274 591.1h.45M263.2 604h.45M278.6 594h.45M279 595.6h.45M264.4 596.5h.45M278.7 594.6h.45M253.2 598.8h.45M260.3 604.7h.45M267 588.5h.45M281.2 601.7h.45M272.7 600.4h.45M263.7 596.4h.45M275.8 598.6h.45M285.8 597.8h.45M284.7 594.8h.45M277.6 604.6h.45M273.8 597.5h.45M277.7 599.5h.45M277.4 588.6h.45M270.2 604.4h.45M278.9 592h.45M261.5 601.3h.45M269.9 603.4h.45M271.1 599.6h.45M266.8 596.6h.45M281 587.2h.45M271 588.8h.45M280 603.7h.45M291.7 600.8h.45M279.7 594.3h.45M261.4 598.6h.45M269.8 599.9h.45M278.7 602.4h.45M268.5 595.5h.45M274.3 601.2h.45M247.4 600h.45M281.2 604.6h.45M250.9 594.5h.45M272.7 596h.45M280.2 594h.45M263.3 594.2h.45M274.1 596.2h.45M273.3 598.1h.45M269.9 594.3h.45M282 602.2h.45M273.8 590.8h.45M269.5 598.6h.45M272.7 600.4h.45M271.1 602.2h.45M271.4 590.8h.45M273.2 589.5h.45M273.8 593.7h.45M287.3 595.6h.45M267.6 601.4h.45M264.8 592.9h.45M266.7 598.9h.45M277.7 594.3h.45M269.2 594.9h.45M262.9 589.7h.45M262.8 599.3h.45M263 604.2h.45M278.3 603.8h.45M272 596.6h.45M274.7 597.6h.45M272.4 604.3h.45M277.4 596.2h.45M275.9 599.6h.45M281.3 595h.45M265.9 601.2h.45M271.4 600.1h.45M273.2 599.3h.45M266.5 596.1h.45M271.7 597.9h.45M269.8 597.4h.45M271.7 599.4h.45M276.9 598.8h.45M270.7 588.4h.45M270.2 603.2h.45M263.9 593h.45M267.9 596.4h.45M273 597.1h.45M278.2 590.9h.45M282.3 596.5h.45M280 596.8h.45M266.4 592.8h.45M271.2 598.9h.45M271.3 592.2h.45M285 599.4h.45M272.5 597.4h.45M271 600.4h.45M277.8 599.8h.45M269 599.8h.45M270.4 596.3h.45M270.3 595.8h.45M270.3 597.9h.45M265.4 594.9h.45M273.2 595.6h.45M270.1 603.1h.45M279 597.7h.45M288.8 595.5h.45M281.9 594h.45M265 597.2h.45M276.9 599.7h.45M277.2 597.9h.45M274 596.8h.45M264.2 600.1h.45M265.3 600.1h.45M257.1 592.1h.45M280.5 601.2h.45M264.9 595.1h.45M273.7 586.1h.45M276.9 596.1h.45M272.3 589.8h.45M269.9 601.2h.45M277 599.3h.45M271.2 592.2h.45M267.3 602.5h.45M269.1 593.9h.45M270.7 602.3h.45M282 596.3h.45M266.7 595h.45M266.8 598.2h.45M262.6 601.7h.45M268.1 599.8h.45M267.7 597.5h.45M260.2 594.8h.45M271.8 595.9h.45M282.3 596.7h.45M269.6 596.1h.45M265.9 604.9h.45M255.9 599.7h.45M271.8 596.6h.45M274.1 599.6h.45M269 599.2h.45M279.8 601.7h.45M272.9 601.2h.45M264.4 597.4h.45M259.1 594.3h.45M272.2 596.3h.45M261.2 585.6h.45M276.4 592.1h.45M265.4 598.2h.45M283.9 600.1h.45M277 596.1h.45M264.4 587.4h.45M267 597.7h.45M278.6 600.7h.45M286.1 603h.45M262.4 598.4h.45M273.7 599.7h.45M271.7 590.2h.45M271 603.7h.45M261.8 595.7h.45M279.6 604.5h.45M263 603.3h.45M273 594.6h.45M262.5 598.2h.45M283.1 593.1h.45M267.7 591.7h.45M276.4 593.9h.45M282 594.3h.45M275.5 598.9h.45M271.3 587h.45M270.4 596.8h.45M286.6 592.2h.45M259.7 601.5h.45M277.8 595.3h.45M273.6 598.1h.45M267.8 589.9h.45M260.5 596.4h.45M269 596.7h.45M285.5 597.5h.45M251.7 598.6h.45M272 599.2h.45M280.6 592.6h.45M286.8 588h.45M269.7 596.3h.45M258.8 604h.45M273.2 601.8h.45M267.4 590.5h.45M280.6 598.7h.45M276.4 596.9h.45M254.6 600.9h.45M283.9 597h.45M259.2 599.4h.45M285.8 601.7h.45M263.9 601.2h.45M274.3 593.4h.45M280.4 604.1h.45M280.7 585.9h.45M280.9 595.5h.45M286.6 604.3h.45M275.7 601.3h.45M269 604.4h.45M278.2 593.4h.45M267.5 604.4h.45M272.7 598.7h.45M265.3 594.7h.45M290.2 599h.45M272.5 603.5h.45M277.6 600.5h.45M266.3 601h.45M270.6 592.7h.45M255.3 603.2h.45M258.1 602.2h.45M258.6 598.8h.45M273.7 596.4h.45M283.6 598.4h.45M271.3 597.8h.45M266.6 596h.45M276.1 594.7h.45M280 596.9h.45M265.8 588.9h.45M258.3 604.5h.45M272.4 593.6h.45M256.3 603.7h.45M287.2 599.7h.45M274.4 589.6h.45M275.9 591.7h.45M264.6 600.1h.45M260.9 598.3h.45M260 591.7h.45M267.5 599.8h.45M268.7 597.4h.45M268.7 598.5h.45M264.5 603.8h.45M269.5 597.7h.45M275.3 602.2h.45M268.9 601.9h.45M269.1 595.7h.45M285.1 601.7h.45M266.8 596.3h.45M267.7 604.8h.45M275.2 588.7h.45M267.7 598.1h.45M259.6 597.9h.45M272.4 595.6h.45M270.3 593.8h.45M265 596.1h.45M275.4 600.5h.45M267.3 593.7h.45M273.4 604.2h.45M265.5 591h.45M280 594.3h.45M279.5 598.1h.45M269.7 595.5h.45M275.4 601.5h.45M277 590.9h.45M273.4 600.9h.45M271.9 597.3h.45M279.8 601.7h.45M274.5 595.4h.45M270.1 597.4h.45M284.4 598.8h.45M266.2 594.3h.45M270.9 589.2h.45M273 601.2h.45M281.5 598.2h.45M259.1 593.1h.45M277.1 601.4h.45M268 604.4h.45M244.8 603.7h.45M269 597h.45M264.1 593.9h.45M261.4 595.5h.45M277.3 597.9h.45M274 595.5h.45M268.6 595.1h.45M275.8 599.6h.45M280.4 590.6h.45M276.1 600.4h.45M263.8 600.5h.45M279.8 591.8h.45M268.3 597.9h.45M265.3 597.6h.45M260.5 598.3h.45M267.9 604.9h.45M292.9 590.4h.45M270.2 594h.45M270.5 598h.45M272.2 600.5h.45M263.7 600.7h.45M268.6 593.5h.45M279.8 600.2h.45M255.3 596.1h.45M265.2 600.5h.45M268.1 586.4h.45M272.7 599h.45M263.6 595.5h.45M260.7 597.4h.45M273.7 601.5h.45M266 598.2h.45M265.1 596.5h.45M263.1 597.4h.45M272.9 600h.45M261.3 600h.45M270 599.7h.45M283.1 601.8h.45M268.8 603.2h.45M273.9 594.2h.45M287.7 601.7h.45M275.7 596.5h.45M271.4 600.5h.45M277.5 596h.45M270.4 604h.45M268.3 604.7h.45M278 594.4h.45M272.5 592.7h.45M279.4 593.5h.45M264.5 603.7h.45M263.4 602.7h.45M267 592.7h.45M251.5 593.8h.45M279.8 594.6h.45M276 596.8h.45M272 600.5h.45M273.4 598.2h.45M273.5 591.6h.45M276.9 591.7h.45M260.4 595.1h.45M267.2 598.2h.45M267.9 591.2h.45M276.5 589.2h.45M277.4 590.7h.45M257.9 603.6h.45M284.8 588.8h.45M271.8 596.2h.45M271.4 599.4h.45M265.5 600.8h.45M273.8 588.5h.45M264.7 597.1h.45M278.4 600.5h.45M279.4 591.5h.45M272.9 601.8h.45M273.7 601.6h.45M285.4 585.9h.45M259.6 599.9h.45M259.5 603h.45M285.8 602.3h.45M277.1 594.8h.45M265 599.5h.45M270.4 585.9h.45M258.5 599.7h.45M273.2 595.5h.45M263 588.7h.45M269.8 604.7h.45M266.7 601.2h.45M269.9 591.7h.45M270.6 599.5h.45M281.8 599.8h.45M280.1 598.6h.45M275.7 600.4h.45M283.3 600.9h.45M272.2 598.9h.45M282 596.2h.45M270.1 594.1h.45M282.5 596.7h.45M277.9 601.4h.45M270 601.8h.45M269.9 598.7h.45M268.3 587.7h.45M272.2 590.8h.45M278.1 603h.45M264.7 601.9h.45M264.9 592.5h.45M263.7 599.6h.45M266.9 595.7h.45M267.3 593.2h.45M272.3 594.8h.45M269.1 597.6h.45M284.9 597.8h.45M257.7 586.6h.45M277.6 591.3h.45M282.2 589.8h.45M284.2 591.3h.45M275.4 589.2h.45M254.8 590.4h.45M270.1 597.9h.45M279.3 595h.45M282.3 593.4h.45M275.3 588.4h.45M261 604.3h.45M271.5 596.1h.45M275.2 594.4h.45M283 597.8h.45M274.7 590.9h.45M263.6 595.8h.45M270.7 599.9h.45M268.2 596.4h.45M270.3 592.1h.45M287.2 597.8h.45M260.9 595h.45M280.9 596.6h.45M272.8 601.3h.45M266.3 600.4h.45M280.1 592.2h.45M274.9 604.5h.45M284.5 592.9h.45M270.3 598.7h.45M256.9 590.8h.45M271.5 604.7h.45M271.6 591.8h.45M275 594h.45M268.6 594.2h.45M276.1 602.1h.45M270.3 599h.45M275.5 603.2h.45M274.1 589.2h.45M254.6 596.5h.45M277.3 600.8h.45M270.6 602.8h.45M258.2 602.1h.45M271.5 597.8h.45M265.9 604.4h.45M275.6 599h.45M278.6 602.3h.45M284 592.4h.45M264.2 599.2h.45M282.3 601.7h.45M277.8 593.5h.45M266.6 599.7h.45M266.3 598.5h.45M274.4 604.8h.45M267.2 597.3h.45M275.2 594h.45M272.1 602.4h.45M281.2 599.9h.45M260.2 603.9h.45M271.3 593.1h.45M272.5 603h.45M279.9 590.7h.45M273.2 601.8h.45M282.9 585.7h.45M274.5 597.9h.45M276.9 597.4h.45M289 595h.45M266.8 598h.45M264.6 594.3h.45M275.2 591.5h.45M268 595.1h.45M270.8 603.4h.45M277.9 597h.45M266.4 599.2h.45M264 596.8h.45M268.6 592.2h.45M263.2 593h.45M277.9 595.7h.45M265.9 591.8h.45M281.7 595.2h.45M262 599h.45M269.2 594.8h.45M273.8 595.8h.45M269 601h.45M285.4 604.1h.45M261.1 600.9h.45M279.9 596.4h.45M266.3 602.5h.45M273.2 594.5h.45M277.7 598.7h.45M269 594.8h.45M274.2 596.7h.45M269 599.6h.45M277.7 600h.45M262.1 590.8h.45M266.2 599.7h.45M263.5 599h.45M273.2 603.3h.45M275.7 597.5h.45M272.6 591.8h.45M275.3 602.7h.45M286.5 594.9h.45M281.4 595.5h.45M268.9 596.7h.45M265.7 591.5h.45M259.3 603.9h.45M282.2 595.4h.45M269.7 589.4h.45M283 596h.45M280.9 595.9h.45M279.1 598.1h.45M267.7 598.3h.45M286 590.1h.45M261.2 587.9h.45M297.3 574.4h.45M269.7 586.7h.45M256 590.2h.45M288.8 581.3h.45M244.5 598.9h.45M296.4 604.3h.45M281.4 584.9h.45M257.5 591.9h.45M272.9 565.6h.45M274.4 590h.45M286.5 592.4h.45M244.6 599.2h.45M274.3 602.7h.45M247.5 592.7h.45M276.9 597.4h.45M277 597.7h.45M273.2 604.2h.45M286.8 582.5h.45M298.3 584.2h.45M262.2 601.5h.45M277.5 591.6h.45M263.1 595.8h.45M277.5 582.4h.45M271.2 601.6h.45M284.1 587h.45M287.5 595.7h.45M270.5 593.8h.45M272.3 586.9h.45M279.7 594.9h.45M266.3 588.6h.45M252.5 582.5h.45M284.9 583.8h.45M273.3 589.1h.45M270.8 595h.45M285.6 601.5h.45M278 576.9h.45M245 592.4h.45M275.7 603.7h.45M270.2 593.2h.45M259.3 591.5h.45M275.6 597.2h.45M253.4 599.7h.45M300.3 576.4h.45M265.9 596.2h.45M268.8 596.9h.45M270.1 594.3h.45M284.1 594.9h.45M255.9 588.6h.45M267.1 591.2h.45M266.7 596.9h.45M270.7 569h.45M256.8 590.4h.45M268.8 598.6h.45M259.5 601h.45M282.1 595.7h.45M285.1 592h.45M289.4 598h.45M273.3 580.5h.45M257.8 592.3h.45M292.4 597.9h.45M281.7 588.8h.45M299.1 595h.45M280.4 600.5h.45M278.8 597.9h.45M293.6 594.2h.45M260 597.1h.45M251.5 586.2h.45M273.4 602.9h.45M273.8 595h.45M271.8 585.1h.45M275.8 598.8h.45M257.7 601.3h.45M263.9 585.9h.45M274.6 596.5h.45M278.6 591.7h.45M280.5 598.3h.45M288.8 603.4h.45M270.8 600.8h.45M280.2 597.4h.45M292.6 603.8h.45M277.5 588h.45M269.2 601.4h.45M282.4 595.3h.45M262 590.2h.45M275.8 596.3h.45M274.6 587.9h.45M297.4 591h.45M281.1 588.9h.45M262.2 592.9h.45M271.6 599.2h.45M281.5 592.4h.45M282.5 601.1h.45M286.6 576.8h.45M300.7 596.3h.45M271.6 592.8h.45M283.8 595.9h.45M286.3 593h.45M262.4 583.4h.45M281.5 583h.45M271.2 594.5h.45M267.6 603.9h.45M250.6 588.6h.45M282.3 594.2h.45M260.1 603.9h.45M274.9 579.9h.45M300.4 587.7h.45M267.3 604.1h.45M261.1 575.6h.45M259.3 589.5h.45M283.9 602.7h.45M294 595.6h.45M263 590.3h.45M280.8 584.7h.45M262.8 589.2h.45M268.2 595.4h.45M274 592.9h.45M264.7 595.8h.45M278.6 596.6h.45M256.2 582.9h.45M295.4 594.5h.45M292 584.8h.45M289.1 593.1h.45M255.1 596.6h.45M277 588.8h.45M261 604.3h.45M261.4 584.4h.45M259.4 588.6h.45M272.3 593.6h.45M258.5 591.6h.45M277.6 604.5h.45M239.5 598h.45M281.8 577.8h.45M277.9 596.9h.45M292.1 596.6h.45M268.6 600.6h.45M287.3 597.1h.45M259.7 600h.45M258.9 589.7h.45M287.1 589.5h.45M279.5 583.8h.45M287.2 584.3h.45M278.6 597.8h.45M276.1 598.4h.45M270.6 590h.45M287.6 578.6h.45M268.1 575.7h.45M264.7 604.5h.45M278.3 598.6h.45M262.7 601.3h.45M261.6 604.3h.45M288.7 590.6h.45M299.3 599.2h.45M266.3 585.4h.45M271.9 591.6h.45M269.1 594.6h.45M265.9 583.2h.45M281.9 577.6h.45M280.4 593.3h.45M282.1 592.5h.45M257.5 581.5h.45M280.2 600h.45M258.2 599.3h.45M285.1 580.8h.45M276.6 597.5h.45M272.3 604.3h.45M272.6 589.7h.45M289.1 604.1h.45M259.4 602.9h.45M272.3 594.3h.45M290.6 598.7h.45M278.1 592.4h.45M263.2 593.7h.45M260.3 605h.45M284 601.2h.45M268.7 595.6h.45M277.4 601.5h.45M264.6 602h.45M251.9 589.2h.45M273.3 585.7h.45M255.6 589.6h.45M257.2 593.2h.45M280.7 600.6h.45M277.4 593.1h.45M279.1 598h.45M261.1 593.6h.45M269 587.4h.45M271.4 574.8h.45M287.6 590.1h.45M287.3 596.3h.45M257.7 604.2h.45M273.5 581.3h.45M287 598.3h.45M273.9 586.5h.45M263.4 603.6h.45M271.6 596.7h.45M256.4 604.5h.45M284.7 588.5h.45M281.3 604.7h.45M285.2 596.6h.45M278 601.9h.45M279.1 577.2h.45M263.5 595.3h.45M280.6 597.8h.45M281.9 585.1h.45M287.3 584.7h.45M296.7 589.1h.45M267.7 602h.45M257.4 588.7h.45M277.2 601.2h.45M298.2 596.8h.45M265.6 594.7h.45M270.8 581.9h.45M295.1 587.8h.45M273.4 596.4h.45M289.4 599.2h.45M275.4 595.1h.45M284.9 600.3h.45M262.4 587.9h.45M255.8 604.6h.45M262.3 600.4h.45M298.8 591.9h.45M292 591.8h.45M270.4 598h.45M278.7 599.3h.45M286.1 590.9h.45M255.1 581.9h.45M249.3 598.7h.45M285.4 569.7h.45M284.5 597.8h.45M293.3 582.6h.45M294.3 569.3h.45M279.5 588.1h.45M265.2 589.9h.45M273.2 598.9h.45M283.4 601.1h.45M260.3 604.9h.45M274.2 573.6h.45M297 591.6h.45M236.8 603.4h.45M278.6 591.2h.45M281.2 589.3h.45M251.8 585.8h.45M254.9 593.1h.45M257.5 595.6h.45M261.2 592.7h.45M259.6 596.4h.45M272.6 593h.45M250.9 589.7h.45M275.1 590.1h.45M255 598.9h.45M285.1 583.9h.45M289.3 602.7h.45M254.2 591.2h.45M282.1 592.3h.45M262 602.5h.45M271.7 590.9h.45M290.6 590.4h.45M268.6 602.8h.45M281.8 575.8h.45M262.9 598h.45M271.1 588.1h.45M269.1 582.3h.45M264.2 582.4h.45M267.5 591.8h.45M273.2 574.7h.45M279.6 590.6h.45M271.6 591.8h.45M292 598.1h.45M282.6 598.6h.45M284.4 604.3h.45M296.6 586.3h.45M286.2 596.3h.45M265.3 598h.45M280.3 594h.45M296.1 597.2h.45M249.6 595.5h.45M251.2 599.9h.45M275.5 604.9h.45M271 591.4h.45M284.4 595.2h.45M276.1 600.6h.45M261.6 598.8h.45M285.6 586.8h.45M246.7 600.7h.45M265.3 600.5h.45M288.8 592.4h.45M278.2 597.4h.45M278.9 599.5h.45M282.6 601.3h.45M261.3 570.2h.45M285.2 597.8h.45M256 591.7h.45M270 596.2h.45M268.9 584.3h.45M267.4 599.9h.45M288.3 591h.45M274.9 600.4h.45M279.1 600h.45M286.6 599h.45M288.1 593.4h.45M267.6 584h.45M293.2 587h.45M270.2 590.8h.45M258.5 586.8h.45M286.7 601h.45M260.9 601.6h.45M280.3 592h.45M273.6 582.6h.45M286.5 601.1h.45M253 593.2h.45M277.7 592.2h.45M281 593.5h.45M273.8 592.3h.45M274.4 585.3h.45M281.9 582h.45M263 599.8h.45M277.8 589.2h.45M251.5 585.2h.45M284.2 600.3h.45M290.6 598.1h.45M271 583.5h.45M294.9 592.5h.45M272.3 588.4h.45M277.5 599.4h.45M263.4 593.2h.45M283.4 604h.45M257.7 587.2h.45M269 586.5h.45M278.2 599.7h.45M270.7 588.8h.45M288.9 596.8h.45M258.4 594.2h.45M277.2 586.6h.45M253.5 584.7h.45M293.3 603.8h.45M284.2 595.9h.45M259.6 597.2h.45M277.3 580.9h.45M279.1 602.3h.45M288.2 584.9h.45M287.1 594.9h.45M289.8 581.7h.45M289.4 602.9h.45M280 588.5h.45M282.2 600.3h.45M276.5 594.6h.45M283.2 592.6h.45M276.1 593.4h.45M251.4 587.2h.45M271.9 592.2h.45M276 585.4h.45M281.9 590.7h.45M277.1 596.1h.45M262.7 587.2h.45M272 592h.45M260.4 594.5h.45M280.5 594.1h.45M294.1 593.2h.45M292.4 603.8h.45M266.7 577.2h.45M269.6 587.7h.45M281.2 590.8h.45M269.3 600.6h.45M260.7 599.1h.45M256.2 603h.45M268.4 595.2h.45M283.1 600.6h.45M254.9 589.5h.45M280.7 593.5h.45M283.4 589.2h.45M293.6 598.1h.45M287.1 574.8h.45M267.5 593.2h.45M282.4 600.5h.45M264.4 588h.45M270.3 590.5h.45M266.4 601.8h.45M273 592.3h.45M277.1 598.7h.45M250.2 601.3h.45M295.2 602.9h.45M275.2 590.2h.45M285.1 589.9h.45M282.6 590.1h.45M272.3 600.3h.45M281.2 589.7h.45M272.2 571.9h.45M280.9 590h.45M269.4 587.7h.45M264.5 595.5h.45M247.9 593.6h.45M279.7 598.9h.45M292.6 593.7h.45M271.1 582.9h.45M269.2 604.3h.45M276.3 585.1h.45M279 597.2h.45M273.6 587.9h.45M276.3 601.5h.45M279.1 604.3h.45M279.4 604.1h.45M289.3 591.8h.45M279.2 597.2h.45M284.4 586.5h.45M278.8 595.6h.45M273.8 598.9h.45M257.3 593.5h.45M276.7 591.4h.45M271.6 586.1h.45M280.2 591.2h.45M277 592.9h.45M256.8 601.4h.45M275 582.9h.45M257.6 584.7h.45M268.6 599.4h.45M272.9 597.4h.45M285.4 592.6h.45M280 586.5h.45M270.8 599.8h.45M278.1 598.3h.45M258.5 591.6h.45M295.9 590.2h.45M288.8 594.2h.45M287.6 579.5h.45M298.5 591.2h.45M293.9 602.8h.45M281.9 594.8h.45M247.9 592.3h.45M292.3 588h.45M288.2 599.5h.45M253.9 602.3h.45M281.3 590.8h.45M280.6 595.4h.45M282.4 581.1h.45M287.9 591h.45M264.6 592.9h.45M258.6 597.9h.45M282.1 586.2h.45M295.2 592.1h.45M286.9 590.1h.45M280.8 595.4h.45M257.7 604.8h.45M272.5 601.5h.45M284.9 590h.45M286.1 590.8h.45M281.1 586.4h.45M258 583.6h.45M261.8 589.9h.45M277.3 593h.45M250.3 591.5h.45M265.4 604.4h.45M277.7 581.8h.45M295.4 597.8h.45M281.7 580.6h.45M288.5 587.6h.45M277.3 583.1h.45M263.8 577.9h.45M273 605h.45M271.2 589.1h.45M281.1 587.7h.45M278.8 594.5h.45M280.1 602.8h.45M274 589h.45M278.5 581.1h.45M277 593.3h.45M277.2 591.7h.45M275.8 590.5h.45M279.5 594.6h.45M276.4 591h.45M290.3 582.6h.45M277.6 585.5h.45M275.2 591.8h.45M281.4 576.7h.45M245.4 595.5h.45M265.2 603.7h.45M275.4 599.1h.45M282.7 592.2h.45M284.3 592.6h.45M275.1 602.8h.45M259.7 593.3h.45M251.1 589.4h.45M262.5 591.2h.45M292.5 580.9h.45M263 599h.45M273.6 591.3h.45M271.5 599.6h.45M278.7 583.9h.45M288.5 574.7h.45M272.8 590.6h.45M260.2 575.5h.45M287.4 581.6h.45M262.2 594.2h.45M274.1 599h.45M254.9 583.5h.45M275.4 604.2h.45M248.9 600.6h.45M260.2 589.7h.45M267.2 580.8h.45M273.3 602.2h.45M288 604.3h.45M279.8 592.9h.45M267 582.8h.45M275.9 586.3h.45M273.7 577.2h.45M247.2 590.6h.45M259.4 596.8h.45M280.4 602.3h.45M283 600.2h.45M262.5 582.8h.45M266.1 585.5h.45M245.8 589.3h.45M287.1 590.1h.45M267.5 602.6h.45M278 596.4h.45M268.7 593.8h.45M271.9 601.5h.45M253.4 603.1h.45M288.1 585.3h.45M280.8 598.9h.45M271.8 586.5h.45M266.1 603.8h.45M260.9 594h.45M276.9 589h.45M258.8 593.8h.45M270.8 590.3h.45M266.6 600.6h.45M267.9 579.2h.45M288 582.8h.45M285.3 593.3h.45M268 589.2h.45M282.1 595.9h.45M270.1 586.4h.45M294.3 597.4h.45M285.6 596.8h.45M278.1 597.9h.45M248.5 588.3h.45M272.9 594.6h.45M281.3 588.3h.45M277.9 587.9h.45M275.5 588h.45M265.9 591.8h.45M275.8 603.9h.45M261.6 586h.45M275.6 595.1h.45M252.7 593.4h.45M268.2 599.2h.45M262.9 594h.45M249.7 587.9h.45M243 597.8h.45M243.1 601.4h.45M268 603.7h.45M264.4 583.8h.45M266.8 595.9h.45M286.9 588.4h.45M265 595.9h.45M284.4 603.1h.45M274.9 604.1h.45M260.7 578.9h.45M276.6 597.6h.45M254 603h.45M263.3 594.1h.45M262.5 601.4h.45M275.1 604h.45M293.7 583.6h.45M280.5 600.8h.45M275.5 588.1h.45M284.8 588.9h.45M261 603h.45M265.7 602.6h.45M276.6 594.4h.45M299.1 592.4h.45M259.4 589.8h.45M270.4 592.2h.45M284.9 593.9h.45M297.4 591.7h.45M262.7 588.9h.45M268.6 599.6h.45M277.4 591.2h.45M272.6 580.5h.45M270.9 599.6h.45M256.7 604h.45M286.4 574.8h.45M298.9 585.6h.45M264.1 584.7h.45M264 600.8h.45M293.8 601.6h.45M262.6 591.2h.45M288.9 588.4h.45M271.9 586.6h.45M260.8 602.2h.45M266.6 586.8h.45M270.4 581.3h.45M269.8 603.8h.45M255.2 598.4h.45M246.7 604h.45M270.2 593.2h.45M273.5 595.5h.45M291 588.4h.45M254.7 586.2h.45M256.4 591.8h.45M252.3 591h.45M274.7 593.7h.45M262.7 595.2h.45M263.4 594.2h.45M263.7 596.5h.45M274.7 603.3h.45M267.2 586.7h.45M264.1 592.6h.45M264.2 570.9h.45M294.4 594.3h.45M283 590.9h.45M271.1 592.6h.45M273.6 568.8h.45M279.9 588.3h.45M253.5 598.4h.45M290.7 601.4h.45M293.4 594.2h.45M284.6 596.1h.45M257.8 599.8h.45M271 602.1h.45M264.6 597.8h.45M286.7 598.7h.45M260.3 601.8h.45M271.9 601.2h.45M289.9 599.5h.45M277.7 594.8h.45M280 585h.45M280.1 590.6h.45M271.4 586.8h.45M263.3 598.5h.45M272.6 595.3h.45M299.4 587.8h.45M261.1 577.9h.45M255.7 597.5h.45M262 587.4h.45M271 598.5h.45M271.1 601.6h.45M286.6 592.5h.45M250 582.7h.45M276.7 589.9h.45M275.5 601.2h.45M292.9 604.8h.45M300.2 595.3h.45M264.6 592.7h.45M277.8 591.1h.45M261.2 603.1h.45M277.7 595.3h.45M263.4 593.2h.45M275.3 601.8h.45M238.9 598.5h.45M274.7 586h.45M284.8 591.2h.45M285.8 592.6h.45M282.2 597.3h.45M276.2 592h.45M255.8 597.4h.45M242.8 601.4h.45M277.1 590.6h.45M298.5 589.7h.45M277.5 586.5h.45M243.8 596.5h.45M284.5 581.9h.45M283.7 575.8h.45M283.8 588.3h.45M265.4 601.9h.45M263.1 583.5h.45M264.9 597.6h.45M284 596.9h.45M262.5 593h.45M270.2 589.4h.45M289.3 590h.45M263.9 586.6h.45M300.5 590.8h.45M270.7 593.7h.45M292.6 593h.45M271.2 577.2h.45M266.3 601h.45M283.2 588.7h.45M277.8 600.8h.45M268.5 603.7h.45M284.8 595.4h.45M267.5 597.1h.45M266.7 596.5h.45M289.3 597.7h.45M287.2 588.3h.45M267.3 588.6h.45M278.9 591.8h.45M258.2 594h.45M296.8 591.4h.45M271.4 591.8h.45M286.4 581.8h.45M264 591.7h.45M275.9 602.8h.45M252.6 595.4h.45M259.7 603.6h.45M254.8 584.3h.45M279.9 577.3h.45M249.9 585.6h.45M247.8 586.5h.45M252.5 589.7h.45M250.5 585.4h.45M251.9 587.3h.45M252.4 590.8h.45M246 589h.45M251.2 585.3h.45M249.5 585.4h.45M253 592h.45M249.9 590.6h.45M252.9 586.3h.45M255.2 581.9h.45M252.7 588h.45M252.5 582.6h.45M253.4 586.8h.45M252.1 588.9h.45M247.3 589.9h.45M255.1 588.5h.45M249.8 586.8h.45M247.2 584.6h.45M252.4 588.6h.45M251.9 585.2h.45M250.1 588h.45M255.6 587.3h.45M255.5 586.9h.45M253.7 587.2h.45M250 585.8h.45M254.5 587.4h.45M247.4 589.4h.45M253.8 587.9h.45M254.4 587.7h.45M252.3 585.3h.45M252.2 589h.45M252.2 583.6h.45M256.5 588.3h.45M250 584.7h.45M251.7 583.3h.45M251 589.5h.45M250.3 585.7h.45M253 588.5h.45M248.6 588.5h.45M254.3 585.2h.45M255.9 584.8h.45M254 588.1h.45M253.2 586.2h.45M251.4 591.1h.45M248.8 586.3h.45M257.2 586.9h.45M250.5 590.2h.45M250.9 585.5h.45M250.5 587.6h.45M252.6 587.6h.45M249.6 589.4h.45M258 587.9h.45M248 583.9h.45M251.7 586.8h.45M249.1 587.2h.45M251.3 587.5h.45M248.8 584.6h.45M250.4 586.5h.45M249.6 589.1h.45M251.4 582.4h.45M250.5 589.1h.45M250 585h.45M251.1 582.1h.45M249.5 587.8h.45M253.4 589.1h.45M254 586.7h.45M252.9 590.4h.45M251.1 588.6h.45M252.3 589.1h.45M252 589.5h.45M251.1 585.2h.45M251.4 586.2h.45M254 588.7h.45M251.4 585.7h.45M253.8 587.1h.45M251.4 590.5h.45M252.8 588.6h.45M250.8 583.8h.45M254.5 588.5h.45M255.9 587.3h.45M250 580.7h.45M253.1 586.9h.45M249.5 586.7h.45M256 586.6h.45M252.6 589.1h.45M254 583.1h.45M251.2 587.5h.45M250.6 583.7h.45M251.8 585.7h.45M254.1 589.1h.45M251.8 588.9h.45M252.9 584.5h.45M253.4 587.6h.45M253.1 587.1h.45M250.6 588.4h.45M253.6 589.9h.45M256.3 587.6h.45M252.9 588.8h.45M253.5 586h.45M253.8 588.6h.45M255.1 587.7h.45M247.7 585.4h.45M253 586.4h.45M251.8 585h.45M250.4 587.3h.45M256 584.5h.45M249.9 588.5h.45M251.2 587.3h.45M255.3 590.3h.45M248.7 584.8h.45M251.9 590.5h.45M248.7 587.8h.45M251.4 585h.45M247.2 587.6h.45M245 582.5h.45M254.1 585.2h.45M251.1 589.1h.45M252.7 589.8h.45M254.5 586.1h.45M252.6 584.8h.45M252.4 585.8h.45M248.6 586.7h.45M252.2 590h.45M252.6 589h.45M249.6 588.9h.45M253.2 588h.45M249.8 586h.45M285.7 566.5h.45M270.4 566.4h.45M265.6 556.7h.45M281.7 561.5h.45M281.6 553.3h.45M286.8 565.5h.45M276.2 554.4h.45M288.9 558h.45M278.7 566.2h.45M282.6 556.6h.45M269.3 561.1h.45M275.1 552.2h.45M261.2 574.9h.45M274.1 562.7h.45M271.4 567.6h.45M274.6 566.4h.45M269.8 559.9h.45M279.3 560.2h.45M276.1 558h.45M276.2 562h.45M278.4 565.5h.45M280.7 564.7h.45M282.4 564.7h.45M271.2 564.9h.45M269.4 567.9h.45M288.1 556.1h.45M276.1 566.1h.45M275.5 564.2h.45M288.9 552.8h.45M275.1 563.9h.45M276.7 560.5h.45M261.2 570.9h.45M275.2 571.8h.45M284.4 552.2h.45M288.4 550.8h.45M285.5 566.5h.45M263.8 556.4h.45M281.5 558h.45M277.8 563.7h.45M287.8 561.1h.45M274.5 567h.45M274.3 560.9h.45M284.6 567.2h.45M262.1 571h.45M268.6 568.9h.45M271.8 570.5h.45M269.7 568.8h.45M292.9 557.9h.45M279.4 557.7h.45M279.8 546.5h.45M278.3 572.3h.45M274.1 561h.45M272.6 563.1h.45M255.3 570.9h.45M286.1 555.5h.45M274.5 563.4h.45M267.5 559.2h.45M283.3 567.5h.45M287.8 562.6h.45M280.1 560.5h.45M269.6 563.3h.45M287.9 550h.45M278 550.3h.45M286.8 555.8h.45M277 571.3h.45M271.4 560.1h.45M286.5 556.7h.45M264.8 555.4h.45M278.1 567.3h.45M276.9 560.6h.45M261.7 574.3h.45M272.1 572.4h.45M255.9 563h.45M264.5 562.7h.45M284.5 555.1h.45M273.7 560.9h.45M284.4 557.9h.45M292.2 558.4h.45M279.7 569h.45M256.2 569.1h.45M279 557.4h.45M269.7 562.7h.45M281.2 555.7h.45M274.4 574.9h.45M281.5 563.5h.45M270 567.4h.45M276.3 554.1h.45M274.9 555.5h.45M281.1 563.2h.45M288.8 559.3h.45M291.7 553.6h.45M259.6 569.6h.45M271.4 550.7h.45M267.3 573.5h.45M283 553.8h.45M258.2 578.6h.45M272.6 560.1h.45M270.2 561.8h.45M267.8 565.5h.45M257.4 575.2h.45M263.5 563.9h.45M279.8 556.1h.45M274.2 552.2h.45M266 565.5h.45M277 559.6h.45M288.5 564.2h.45M267 560.5h.45M285.7 564h.45M288.7 555.9h.45M274.9 564.3h.45M276.2 571.8h.45M279.7 564.2h.45M280.1 559.9h.45M284.2 556.8h.45M285 565.8h.45M291.6 554h.45M282.9 560.3h.45M280.4 559.1h.45M275.9 564.7h.45M259.6 575.7h.45M281.8 557h.45M291.2 557.1h.45M278.3 567.2h.45M284.9 557.4h.45M264.8 558.2h.45M279.7 560.6h.45M270.4 573.1h.45M288.7 558.5h.45M273.2 552.5h.45M274.4 562.8h.45M280 562.3h.45M287.9 555.6h.45M278.9 550.9h.45M285.9 563.9h.45M261.1 573.5h.45M273.7 572.1h.45M267.5 561.2h.45M270.3 566.7h.45M270 563.9h.45M285 560h.45M277.4 565.9h.45M273.4 553.6h.45M282.5 549.2h.45M281.2 552.5h.45M277.1 565.9h.45M269.7 566h.45M290.1 555h.45M277 555.6h.45M273.4 566.2h.45M276 557.4h.45M265.3 561.2h.45M273.4 569.1h.45M272.8 560.1h.45M286.4 564.1h.45M282.4 562.1h.45M282 560.3h.45M278.5 563.9h.45M273.1 564.4h.45M283.6 555.2h.45M268.3 562.1h.45M268.5 567.7h.45M276.3 571.5h.45M278.8 559.6h.45M272.7 562h.45M261.7 571.6h.45M266.8 556.3h.45M281.9 564h.45M282.7 550.4h.45M279.6 564.2h.45M262.8 566.1h.45M282.5 568.1h.45M286.4 553.8h.45M282.1 555.2h.45M271.6 559.8h.45M278.8 567.7h.45M283.2 563.3h.45M289.8 553.4h.45M282.9 559.1h.45M277.8 559.6h.45M274.8 567.5h.45M285.7 555.2h.45M284.2 563.9h.45M290.3 572.1h.45M263.6 558.1h.45M281 549.5h.45M291.2 556.8h.45M288.1 550.8h.45M275.6 579.5h.45M281.8 565.2h.45M280.4 566.6h.45M271.2 559.3h.45M283.9 565.8h.45M281.2 556.6h.45M275.2 558.9h.45M274.5 563.1h.45M275.7 564h.45M276.8 550.4h.45M281.2 558.5h.45M268.7 562.6h.45M285.2 555.2h.45M279.7 562.9h.45M268.3 567.3h.45M269.5 565.9h.45M276.7 557.8h.45M285.4 555.9h.45M273 576.4h.45M265.6 575.6h.45M285.9 562.6h.45M268.4 561.9h.45M291.4 562h.45M279.9 564.1h.45M273.8 558.9h.45M271.7 566.7h.45M275.4 557.1h.45M281.3 565.8h.45M279.5 563h.45M265.7 562.7h.45M276.2 561.2h.45M281.9 559.6h.45M262.7 565.6h.45M286.4 557.6h.45M273.5 570.1h.45M280.2 559.4h.45M279.9 561.2h.45M283.9 562.2h.45M284.8 555h.45M274.6 561.3h.45M269.3 565.5h.45M255 574.4h.45M280.8 568.7h.45M275.9 550.1h.45M279.6 557.2h.45M280.4 562.2h.45M266 567.3h.45M284.9 551.2h.45M271 566.3h.45M282.5 556.8h.45M269.8 568.2h.45M280.2 558h.45M279 568.9h.45M246.5 569.2h.45M286.1 564.2h.45M270.5 564.2h.45M284.3 563.1h.45M272.3 571.4h.45M282.9 552.6h.45M278.1 555.4h.45M266.8 555.8h.45M281.2 562.2h.45M274.2 563.1h.45M254.7 569.6h.45M276 560h.45M272 551.8h.45M276.5 570.7h.45M271.6 558.2h.45M283.7 554.7h.45M286.5 563.1h.45M273.4 565.4h.45M265.1 564.3h.45M276.9 557.4h.45M288.2 557.1h.45M265.8 575.3h.45M280.6 558.7h.45M280.2 564.6h.45M277.6 570.4h.45M269.3 562.1h.45M286.4 559.7h.45M277 557.1h.45M280.9 561.8h.45M283.5 562.3h.45M284.3 568.5h.45M267.2 565.5h.45M275.1 562.9h.45M269.2 556.3h.45M279.7 562h.45M288.8 548.5h.45M272.6 557.3h.45M275.5 568.7h.45M276.4 565.6h.45M272.1 565.3h.45M278.9 564.4h.45M269.1 571.3h.45M274.8 561.2h.45M286.9 559.4h.45M262.9 574.3h.45M272 562h.45M281.9 564.3h.45M271.1 565.7h.45M276.7 560.5h.45M259.8 558.2h.45M267.8 569.5h.45M280.2 565.2h.45M292.4 550.2h.45M283.7 557.5h.45M274.2 571.2h.45M267.3 570.5h.45M273.1 565.3h.45M296.3 550.5h.45M273.8 555.2h.45M280.6 558.4h.45M274.8 563.1h.45M267.7 574.5h.45M269.4 567.3h.45M273.9 554.1h.45M270.4 562.5h.45M269 564.5h.45M280.6 556.3h.45M291.4 554.2h.45M276.4 559.4h.45M277.7 559.2h.45M276.9 563.9h.45M277.8 564.6h.45M277.3 571.2h.45M272.4 561.3h.45M273.2 566.9h.45M281.9 570.9h.45M264.2 574.9h.45M284.4 572.8h.45M274.9 559.1h.45M287 560.1h.45M270.6 555.2h.45M264.2 570.3h.45M270.5 560.5h.45M263.1 559.2h.45M288.7 559.7h.45M280.6 572.1h.45M280.5 555.1h.45M259.5 565.5h.45M277.5 559.5h.45M285.7 554.9h.45M278.2 566.4h.45M285.8 557.4h.45M275.9 564.7h.45M276.7 562.9h.45M272.1 557.3h.45M273.3 558.2h.45M279.7 551.4h.45M265.9 569.9h.45M278 563.9h.45M271 565.7h.45M270.7 560.4h.45M278.4 567.7h.45M280.1 562.1h.45M278.4 563.7h.45M274.5 566.9h.45M273.1 567.5h.45M270.1 563.4h.45M287.2 558.2h.45M281.6 565.2h.45M271.1 564h.45M269.2 569h.45M274.6 563.1h.45M272.1 566.4h.45M285.1 559.8h.45M274.3 558.7h.45M272.7 577.8h.45M269.7 566.2h.45M282.1 551.7h.45M279.2 563.7h.45M282 564.9h.45M272.6 567.7h.45M281.7 556.5h.45M287.4 556.4h.45M286.9 546.7h.45M290.5 553.6h.45M266.2 562.3h.45M278.8 562.1h.45M265.5 560.3h.45M294 551.2h.45M275.4 570.1h.45M264.4 567.4h.45M276.8 564.7h.45M287.4 565.1h.45M282.4 554.5h.45M265.9 568.1h.45M260.1 564.7h.45M283.9 565.8h.45M280.6 556.8h.45M283.9 558.7h.45M261.2 564.4h.45M288 560h.45M274.2 562.4h.45M275 567.9h.45M279.1 562.3h.45M271.8 570.3h.45M278.4 560h.45M278.6 565.5h.45M284.2 561.8h.45M287.2 565.3h.45M266.5 564.8h.45M290.5 557.4h.45M277.7 553.9h.45M280 555.2h.45M288.1 557h.45M279.7 556.3h.45M257.1 571h.45M278.2 558.1h.45M277.2 564.4h.45M277.8 563.1h.45M267.7 565.6h.45M275.1 555.6h.45M277.8 548.5h.45M277.5 560.3h.45M285.9 561.9h.45M273.9 555.3h.45M287.7 557.7h.45M299 549.3h.45M298.1 554.8h.45M273 565.4h.45M277.1 561.2h.45M276.4 561.8h.45M291.7 555.8h.45M278.1 551.6h.45M259.4 569.5h.45M273.5 572.4h.45M268.2 556.9h.45M255.6 569.7h.45M275.3 554h.45M263.2 560.8h.45M259.1 569.5h.45M283 561.5h.45M294.5 558.9h.45M283 556.6h.45M277 573.8h.45M268.7 568.6h.45M279.9 556.2h.45M274.6 572.2h.45M262.6 559.3h.45M259.5 559.6h.45M289.3 557.9h.45M274.5 561h.45M265 564.2h.45M275.9 559.5h.45M290.8 556.9h.45M279.5 562.1h.45M280.1 554.4h.45M276.6 572.2h.45M258.7 572.9h.45M279.4 555.9h.45M281.6 562.4h.45M283.1 564.4h.45M275.8 558.8h.45M287.7 552.5h.45M293.1 558.6h.45M276.8 570.8h.45M280.1 562.9h.45M270.6 570.6h.45M280.2 562.8h.45M276.7 554.1h.45M279 559.4h.45M272.3 563.7h.45M269.1 562.5h.45M282 558.4h.45M271.5 559.7h.45M256.9 564.2h.45M287.9 552.7h.45M267 564.2h.45M279 562.3h.45M281.9 572.4h.45M271.3 561.5h.45M276.9 582.9h.45M277.9 582.8h.45M270.6 583h.45M281.9 578.2h.45M276.5 591.4h.45M268.1 564.4h.45M273.3 589.9h.45M272.7 591.2h.45M269.2 579.6h.45M277 565.5h.45M278.9 604.2h.45M265.3 590.4h.45M280.9 584.2h.45M264.3 581h.45M271 581.7h.45M286 574h.45M270.3 592.2h.45M265.2 576.2h.45M277.2 581.6h.45M252.9 590.6h.45M266.4 579.7h.45M274.1 577.4h.45M272.8 582.9h.45M280.5 592.2h.45M276.2 578.8h.45M273.3 577.3h.45M272.8 582.9h.45M269.2 578.4h.45M282.5 571.8h.45M265 573.7h.45M274 570.7h.45M276.1 570.2h.45M267.1 569.6h.45M288.1 579.2h.45M274.3 579.1h.45M273.7 583.7h.45M272.2 591.3h.45M276.3 583.9h.45M278.6 585.8h.45M274.5 594.6h.45M275.4 587.7h.45M273.7 588.1h.45M275.4 567.9h.45M274.5 573.6h.45M271.7 568.2h.45M255.4 570.6h.45M276.8 584.5h.45M272.8 589.1h.45M256.1 583.9h.45M273.9 575.8h.45M272.2 586.2h.45M268.4 582.3h.45M264.5 572h.45M281.2 562.6h.45M272.1 587.7h.45M272.2 589.1h.45M267.3 578.5h.45M267.8 589.5h.45M268.3 566.5h.45M266.3 583.7h.45M272.8 586.1h.45M277.2 573.1h.45M277.4 586.9h.45M273.1 566h.45M271.4 581h.45M272.4 582.4h.45M267.9 582h.45M271.8 583.2h.45M265.5 584.5h.45M277.6 579.3h.45M281.3 584h.45M274.6 579.5h.45M278.1 579.2h.45M284.4 588.7h.45M268.6 592.3h.45M287.3 587.9h.45M285.5 582.3h.45M271.9 571.2h.45M269.2 594.7h.45M268.3 586.3h.45M289.2 578.3h.45M282.6 567.5h.45M269.2 575.7h.45M275.7 573.1h.45M276.9 565.8h.45M262.5 582.2h.45M280.2 594.6h.45M263.1 570.7h.45M271.1 571.7h.45M275.2 588.7h.45M275.9 585.8h.45M281.6 586.3h.45M272.8 598.8h.45M270.6 590h.45M267 590.5h.45M278.3 583.9h.45M275.1 568.7h.45M273.3 576.4h.45M271.7 591.2h.45M266.6 583.7h.45M268.1 579.6h.45M274.4 580.4h.45M283.4 568.3h.45M270.9 594.7h.45M273.4 568.5h.45M281.8 582.8h.45M278.1 562.4h.45M267 582.4h.45M260.7 572h.45M271.5 583.4h.45M270 582.7h.45M270.6 571.8h.45M277.1 575.7h.45M271 578.9h.45M285.3 576.3h.45M274.1 579.2h.45M264.5 584.8h.45M275.3 592.1h.45M280.9 593.5h.45M267.5 578h.45M274.4 584.7h.45M268.2 585.8h.45M280.3 575.6h.45M269.1 577.3h.45M272.4 584.2h.45M276.4 581h.45M267.7 597.7h.45M267.3 567.6h.45M270 602.5h.45M273.3 584.3h.45M263 597.8h.45M260.5 575.8h.45M267.4 585.7h.45M265.7 573.6h.45M271.3 586.4h.45M274.3 575.3h.45M278.4 584h.45M263.2 601.7h.45M263.8 575.1h.45M277.7 588.3h.45M287.2 568.4h.45M279.3 584.3h.45M272.8 590.8h.45M276 595.3h.45M278 580.1h.45M281.2 565h.45M268.4 587.8h.45M270.9 582.9h.45M270.3 575.4h.45M272.5 574.2h.45M262.8 574.7h.45M270.7 579h.45M267.4 574.2h.45M278 577.5h.45M271.2 585.2h.45M273 577.5h.45M269.3 590.1h.45M279.7 580.8h.45M278.4 579.3h.45M277.9 578.8h.45M280.9 572.8h.45M277.6 587.9h.45M269.9 579.2h.45M270.2 571.6h.45M273 584.7h.45M270.7 589.9h.45M283.7 579.5h.45M272.9 570.8h.45M268.6 565.4h.45M283.3 586.8h.45M277.3 587.8h.45M271.2 589.8h.45M269.6 580.1h.45M277.5 582.8h.45M273.2 573.7h.45M271 596.8h.45M287.8 577.8h.45M275.4 584.5h.45M268.7 572.4h.45M271.3 581.1h.45M278.7 574.9h.45M284.7 579.8h.45M266.1 577.6h.45M268.8 574.6h.45M274.4 580.8h.45M263.5 578.6h.45M271.8 578.6h.45M269 576h.45M264.3 591.6h.45M279.2 567h.45M264 573.6h.45M260.7 581.6h.45M269.9 578.6h.45M272.4 577h.45M279.1 579.3h.45M272 593.2h.45M277.8 590.3h.45M270.6 585.4h.45M281.1 575.2h.45M263.6 577.2h.45M281.8 582.7h.45M260.6 582.5h.45M273.7 572.2h.45M274.1 591.1h.45M271.4 577.2h.45M279.8 595.7h.45M284.1 575.4h.45M263.2 578.7h.45M279.7 575.1h.45M268.8 585h.45M274.3 581.1h.45M285 577h.45M270.8 589.9h.45M272.7 579.2h.45M275.7 580.1h.45M262.1 584.1h.45M280 585.8h.45M259.5 595h.45M271.6 566.9h.45M284 576.5h.45M277.3 575.1h.45M264.9 573.2h.45M266.3 561.6h.45M282 573.7h.45M273.4 585.8h.45M275.9 574h.45M277.9 576.3h.45M268.3 569.5h.45M271.6 581.1h.45M278.4 587.2h.45M271.1 570.8h.45M277.6 575.9h.45M273.5 591.5h.45M266.5 594.3h.45M267.5 583.7h.45M267.6 585.7h.45M270.5 576h.45M269.7 596.3h.45M274.7 580.3h.45M275 583.3h.45M271.5 584.8h.45M275.6 585.2h.45M285.2 581.7h.45M267.8 566.3h.45M284.8 571h.45M277.8 575.4h.45M261.9 577.5h.45M275.2 585.3h.45M285.6 590.2h.45M272.7 584.6h.45M270.9 584.9h.45M283.3 582.1h.45M263.2 582.7h.45M272.9 587.9h.45M271.8 579.7h.45M271.7 582.9h.45M280.9 578.8h.45M283 585.5h.45M279.3 580.4h.45M285.1 576.5h.45M275.1 570.6h.45M272 568.5h.45M284.8 579.4h.45M275 573.2h.45M258.8 591.6h.45M272.5 578.1h.45M268.8 586.6h.45M273.7 583.7h.45M268.2 578.4h.45M269.2 575.9h.45M269.5 583.9h.45M283 575.1h.45M269.4 571.3h.45M285.1 585.4h.45M276.4 573.4h.45M270.3 577.2h.45M269 577.8h.45M270.5 585.3h.45M280.3 584.3h.45M260.8 598.2h.45M270.3 579.4h.45M262.8 591.4h.45M274.8 570.8h.45M272 580.5h.45M268.5 570.4h.45M266.1 580.8h.45M270 580.7h.45M268.2 574.5h.45M279.7 576h.45M273.3 580.9h.45M275.9 583.7h.45M282.2 572h.45M279.4 576.5h.45M279.2 582.9h.45M278.9 581.4h.45M282.5 573h.45M287.6 575.5h.45M286.7 579.1h.45M270.2 560h.45M266.3 572.2h.45M271.4 573.7h.45M277.6 589.2h.45M264.9 580.9h.45M270.6 569.8h.45M277.6 572.5h.45M268.9 584.6h.45M274 576.3h.45M271.7 575.8h.45M278.7 583.9h.45M265.2 577.7h.45M266.3 585.1h.45M268.9 585.1h.45M268.9 590.8h.45M273.5 573h.45M290.3 581.2h.45M269.6 568h.45M274.6 579.4h.45M285.1 573.3h.45M282.3 581.3h.45M271.4 587.9h.45M279.6 573.8h.45M273.8 579.8h.45M287.2 576.2h.45M281.6 581.9h.45M268.9 594.7h.45M268.9 577.5h.45M267.7 587.5h.45M257.7 578.8h.45M259.6 586h.45M275.9 573.8h.45M264.2 591.8h.45M274 585.7h.45M268.2 600.1h.45M277.6 578.1h.45M273.1 589.2h.45M267.6 579.6h.45M279.7 582.4h.45M264.8 576.8h.45M265.6 582.6h.45M271.7 581.8h.45M278.8 590h.45M266.5 567.6h.45M282.1 571.9h.45M281.9 584.9h.45M275 571h.45M275.3 594.8h.45M280 581.3h.45M281.6 595.9h.45M272.1 575.7h.45M275 577.7h.45M274.8 592.7h.45M293.9 587.5h.45M264.4 577.9h.45M277.2 570.2h.45M269.8 586.4h.45M269.6 573.3h.45M265.6 589.1h.45M279.8 587.9h.45M271.3 574h.45M271.6 568h.45M280.9 565.5h.45M274.4 581.2h.45M266.9 585.8h.45M283.6 584.3h.45M279.4 596.7h.45M280.5 578.6h.45M277 583.4h.45M266 583h.45M274.7 583.4h.45M283 580.1h.45M272.9 578.5h.45M274.2 581.8h.45M275.7 580.3h.45M272.2 579.8h.45M265.1 578.7h.45M277.2 584.9h.45M275.5 578.7h.45M271.7 585.1h.45M274.6 582.4h.45M269.6 578.9h.45M271.7 564.6h.45M270.5 581.1h.45M279.5 581.4h.45M264.8 577.7h.45M263.1 575.6h.45M280.7 565.5h.45M271.1 578h.45M269.4 583.5h.45M283.1 571.6h.45M265.4 571.2h.45M276 589.3h.45M280.5 581.2h.45M264.5 573.2h.45M276.6 586.9h.45M272.2 572.7h.45M273.2 581h.45M283.6 585.7h.45M272.4 585.3h.45M276.6 591.8h.45M258.7 591.7h.45M260.5 580.3h.45M280.3 577.8h.45M281.4 571.9h.45M262.8 579.7h.45M280.4 586.9h.45M275.3 597.7h.45M265.1 588.8h.45M275.4 584.1h.45M282.9 573.5h.45M279 583.5h.45M272.1 580.9h.45M279.3 589.7h.45M271.9 580.6h.45M278.6 567h.45M282.8 580.6h.45M270.3 580.6h.45M276.3 577.7h.45M287.4 568.3h.45M278.3 602.7h.45M273.4 572.7h.45M271.1 574.6h.45M272.8 572.7h.45M277 584.4h.45M276.5 576.2h.45M276.9 580.2h.45M278 581.7h.45M268.4 588.1h.45M280.2 571h.45M272.5 575.8h.45M278.1 572.4h.45M274.5 581.2h.45M270.2 575.5h.45M290.5 579.6h.45M255.8 586h.45M263.6 575.9h.45M273.3 585h.45M276.8 591.1h.45M269.8 590.3h.45M278.5 582.6h.45M266.5 593.2h.45M277.2 588h.45M266.4 587.9h.45M274.4 582.3h.45M280.3 577.1h.45M275 578.8h.45M263.3 581.1h.45M281.5 570.2h.45M273.9 597.2h.45M275.5 582.6h.45M278 568.9h.45" stroke="#000" stroke-width="0.45" fill="none" opacity="0.8"/>
<rect x="236.2" y="541.1" width="65.2" height="64.4" fill="none" stroke="#999" stroke-width="0.6"/>
<path d="M236.2 541.1V605.5H301.4" fill="none" stroke="#444" stroke-width="0.7"/>
<rect x="262.2" y="547.4" width="38.8" height="25.4" fill="none" stroke="#000" stroke-width="1"/>
<text x="268.9" y="536.2" font-size="8.1" text-anchor="middle">IL-4/IL-10/TGF-β</text>
<text x="250.7" y="610.2" font-size="2.8" text-anchor="middle" style="stroke:none" fill="#333">10</text>
<text x="266.4" y="610.2" font-size="2.8" text-anchor="middle" style="stroke:none" fill="#333">10</text>
<text x="282.1" y="610.2" font-size="2.8" text-anchor="middle" style="stroke:none" fill="#333">10</text>
<text x="297.8" y="610.2" font-size="2.8" text-anchor="middle" style="stroke:none" fill="#333">10</text>
<text x="25.8" y="544" font-size="2.8" text-anchor="end" style="stroke:none" fill="#333">10</text>
<text x="25.8" y="559.5" font-size="2.8" text-anchor="end" style="stroke:none" fill="#333">10</text>
<text x="25.8" y="575.5" font-size="2.8" text-anchor="end" style="stroke:none" fill="#333">10</text>
<text x="25.8" y="591.5" font-size="2.8" text-anchor="end" style="stroke:none" fill="#333">10</text>
<text x="15.9" y="575.8" font-size="8.1" text-anchor="middle" transform="rotate(-90 15.9 575.8)">FoxP3</text>
<text x="32.3" y="621.4" font-size="8.3">CD25</text>
<path d="M60.6 619H288" stroke="#000" stroke-width="1.3"/><path d="M296 619L285.5 616.8V621.2Z"/>
</svg>
</body></html>
